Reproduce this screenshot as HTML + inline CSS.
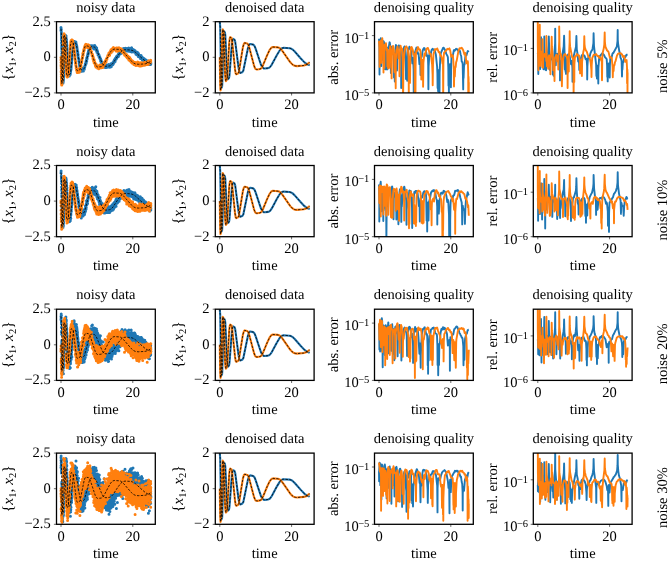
<!DOCTYPE html>
<html><head><meta charset="utf-8"><style>
html,body{margin:0;padding:0;background:#fff;}
svg{display:block;font-family:"Liberation Serif", serif;text-rendering:geometricPrecision;will-change:transform;}
</style></head><body>
<svg width="670" height="562" viewBox="0 0 670 562">
<defs><clipPath id="c00"><rect x="56.5" y="21.7" width="98.8" height="71.2"/></clipPath><clipPath id="c01"><rect x="215.3" y="21.7" width="98.8" height="71.2"/></clipPath><clipPath id="c02"><rect x="374.5" y="21.7" width="98.8" height="71.2"/></clipPath><clipPath id="c03"><rect x="533.3" y="21.7" width="98.8" height="71.2"/></clipPath><clipPath id="c10"><rect x="56.5" y="165.5" width="98.8" height="71.2"/></clipPath><clipPath id="c11"><rect x="215.3" y="165.5" width="98.8" height="71.2"/></clipPath><clipPath id="c12"><rect x="374.5" y="165.5" width="98.8" height="71.2"/></clipPath><clipPath id="c13"><rect x="533.3" y="165.5" width="98.8" height="71.2"/></clipPath><clipPath id="c20"><rect x="56.5" y="309.2" width="98.8" height="71.2"/></clipPath><clipPath id="c21"><rect x="215.3" y="309.2" width="98.8" height="71.2"/></clipPath><clipPath id="c22"><rect x="374.5" y="309.2" width="98.8" height="71.2"/></clipPath><clipPath id="c23"><rect x="533.3" y="309.2" width="98.8" height="71.2"/></clipPath><clipPath id="c30"><rect x="56.5" y="453.1" width="98.8" height="71.2"/></clipPath><clipPath id="c31"><rect x="215.3" y="453.1" width="98.8" height="71.2"/></clipPath><clipPath id="c32"><rect x="374.5" y="453.1" width="98.8" height="71.2"/></clipPath><clipPath id="c33"><rect x="533.3" y="453.1" width="98.8" height="71.2"/></clipPath></defs>
<g clip-path="url(#c00)"><path d="M61.0 27.5h0M61.0 30.6h0M61.1 28.8h0M61.1 29.6h0M61.2 31.1h0M61.3 29.2h0M61.4 32.0h0M61.4 33.4h0M61.4 34.5h0M61.5 36.1h0M61.5 37.9h0M61.5 39.0h0M61.6 40.2h0M61.6 42.4h0M61.6 43.5h0M61.7 46.1h0M61.7 47.8h0M61.7 48.7h0M61.8 51.1h0M61.8 53.6h0M61.9 55.2h0M61.9 56.6h0M61.9 57.4h0M62.0 60.6h0M62.0 62.3h0M62.0 63.2h0M62.1 66.1h0M62.1 67.4h0M62.1 68.3h0M62.2 70.1h0M62.2 71.9h0M62.2 73.0h0M62.3 76.5h0M62.3 75.3h0M62.4 77.7h0M62.4 79.2h0M62.5 80.6h0M62.5 81.5h0M62.8 82.3h0M62.9 81.2h0M63.0 82.9h0M63.1 80.8h0M63.1 82.1h0M63.2 80.9h0M63.3 81.7h0M63.3 80.8h0M63.4 79.4h0M63.4 80.4h0M63.5 78.9h0M63.5 77.7h0M63.6 75.5h0M63.6 76.5h0M63.6 74.6h0M63.7 72.0h0M63.8 71.1h0M63.9 67.5h0M63.9 65.9h0M64.0 64.5h0M64.0 63.4h0M64.1 62.4h0M64.1 61.3h0M64.2 58.8h0M64.2 57.9h0M64.3 56.7h0M64.3 55.2h0M64.3 54.0h0M64.4 51.2h0M64.5 49.4h0M64.5 48.0h0M64.6 46.1h0M64.7 43.9h0M64.8 42.7h0M64.8 40.9h0M64.9 38.3h0M65.0 39.7h0M65.1 38.3h0M65.1 37.1h0M65.2 38.7h0M65.2 36.3h0M65.3 37.6h0M65.4 36.6h0M65.4 35.3h0M65.5 36.8h0M65.6 35.6h0M65.7 37.5h0M65.8 36.0h0M65.9 37.3h0M66.1 35.9h0M66.1 37.7h0M66.2 38.6h0M66.5 39.5h0M66.5 40.9h0M66.6 41.8h0M66.7 42.8h0M66.8 44.3h0M66.9 45.5h0M67.0 48.6h0M67.0 47.4h0M67.0 48.9h0M67.1 50.0h0M67.2 51.9h0M67.3 53.6h0M67.4 55.8h0M67.4 54.7h0M67.5 56.1h0M67.5 58.0h0M67.6 58.9h0M67.7 61.0h0M67.7 61.9h0M67.8 63.5h0M67.9 64.7h0M67.9 65.5h0M68.0 66.9h0M68.1 67.7h0M68.2 69.2h0M68.3 70.5h0M68.3 71.8h0M68.4 70.7h0M68.4 72.7h0M68.4 71.5h0M68.5 73.0h0M68.6 74.0h0M68.8 75.0h0M68.9 76.0h0M68.9 74.8h0M69.0 74.0h0M69.1 76.1h0M69.1 74.7h0M69.3 75.9h0M69.3 74.9h0M69.7 73.4h0M69.7 74.3h0M69.9 72.9h0M69.9 74.4h0M70.0 72.7h0M70.1 74.5h0M70.1 73.6h0M70.2 74.6h0M70.3 72.6h0M70.3 73.7h0M70.4 72.7h0M70.5 71.8h0M70.8 70.6h0M70.9 69.4h0M70.9 68.3h0M71.0 69.3h0M71.1 67.2h0M71.1 68.8h0M71.2 67.0h0M71.2 66.1h0M71.2 67.0h0M71.3 65.1h0M71.5 62.4h0M71.5 63.7h0M71.6 61.6h0M71.6 62.4h0M71.6 61.3h0M71.7 62.5h0M71.7 61.1h0M71.8 60.2h0M71.9 58.8h0M72.0 56.9h0M72.1 56.1h0M72.3 54.8h0M72.3 53.8h0M72.5 52.6h0M72.6 51.3h0M72.7 49.5h0M72.8 47.3h0M72.8 48.3h0M73.0 46.5h0M73.1 47.4h0M73.1 48.6h0M73.1 45.9h0M73.2 44.9h0M73.2 46.0h0M73.3 44.1h0M73.3 45.6h0M73.4 44.5h0M73.4 43.5h0M73.7 41.7h0M73.7 43.3h0M73.8 42.5h0M74.1 44.2h0M74.1 43.1h0M74.1 41.5h0M74.2 42.9h0M74.3 42.1h0M74.4 43.2h0M74.4 42.0h0M74.5 42.9h0M74.5 41.4h0M74.6 42.3h0M75.0 43.9h0M75.0 42.5h0M75.2 43.4h0M75.3 41.9h0M75.3 43.2h0M75.4 42.0h0M75.5 43.4h0M75.5 42.1h0M75.8 43.7h0M75.8 42.3h0M75.9 43.2h0M75.9 42.1h0M75.9 44.8h0M76.0 43.1h0M76.0 43.9h0M76.4 44.6h0M76.5 45.7h0M76.7 46.9h0M76.8 45.9h0M76.8 47.8h0M76.8 46.5h0M76.9 48.1h0M76.9 47.1h0M77.0 48.0h0M77.2 48.9h0M77.2 49.8h0M77.4 50.9h0M77.6 51.9h0M77.7 52.8h0M77.8 52.0h0M77.8 53.7h0M77.9 55.6h0M77.9 54.2h0M78.0 55.5h0M78.1 54.6h0M78.1 56.3h0M78.3 57.7h0M78.5 58.5h0M78.8 59.3h0M78.9 61.4h0M78.9 60.3h0M79.0 61.4h0M79.2 62.3h0M79.3 63.3h0M79.5 64.4h0M79.6 65.7h0M79.8 66.6h0M79.9 65.5h0M79.9 66.4h0M80.0 67.7h0M80.2 68.6h0M80.2 67.2h0M80.3 68.4h0M80.5 69.6h0M80.5 67.7h0M80.5 69.1h0M80.6 68.1h0M80.6 68.9h0M80.8 69.8h0M80.9 68.7h0M81.0 69.6h0M81.1 68.6h0M81.2 71.2h0M81.3 69.1h0M81.3 70.1h0M81.7 69.0h0M81.8 68.2h0M81.8 70.3h0M81.8 71.2h0M81.9 70.1h0M81.9 69.1h0M82.0 70.3h0M82.1 69.0h0M82.1 70.5h0M82.2 69.1h0M82.2 69.9h0M82.5 68.9h0M82.5 69.8h0M82.8 68.9h0M82.8 69.7h0M83.0 70.7h0M83.0 68.8h0M83.2 67.9h0M83.2 70.0h0M83.4 70.9h0M83.4 68.9h0M83.4 69.7h0M83.6 68.7h0M83.6 69.7h0M83.7 68.8h0M83.9 68.0h0M83.9 69.5h0M83.9 68.2h0M84.0 69.2h0M84.1 67.9h0M84.3 69.2h0M84.4 68.2h0M84.6 66.6h0M84.7 67.6h0M84.9 66.2h0M85.1 65.4h0M85.2 63.9h0M85.3 64.8h0M85.3 63.8h0M85.3 65.0h0M85.4 64.0h0M85.5 64.9h0M85.6 63.4h0M85.7 64.4h0M85.8 63.1h0M86.0 61.5h0M86.0 62.5h0M86.1 61.7h0M86.1 63.4h0M86.1 61.9h0M86.2 60.5h0M86.3 62.3h0M86.4 61.2h0M86.5 59.8h0M86.6 60.9h0M86.7 58.5h0M86.7 61.3h0M86.8 59.5h0M86.8 57.8h0M86.8 59.1h0M86.9 57.7h0M87.0 59.2h0M87.0 58.1h0M87.1 57.2h0M87.1 58.6h0M87.2 57.4h0M87.3 56.3h0M87.7 55.0h0M87.7 56.0h0M87.8 55.2h0M87.8 54.1h0M87.8 55.6h0M87.9 54.8h0M87.9 55.7h0M87.9 54.8h0M88.1 53.9h0M88.1 52.8h0M88.3 53.7h0M88.4 52.8h0M88.4 51.7h0M88.5 52.8h0M88.5 51.3h0M88.5 52.5h0M88.7 50.3h0M88.8 51.6h0M88.9 50.7h0M89.2 49.3h0M89.2 50.9h0M89.3 49.7h0M89.6 50.8h0M89.6 49.3h0M89.7 48.5h0M89.9 47.5h0M89.9 48.6h0M89.9 47.5h0M90.2 48.3h0M90.3 47.2h0M90.3 48.1h0M90.4 46.6h0M90.6 45.7h0M90.6 47.0h0M90.7 48.1h0M90.7 46.1h0M90.7 47.1h0M90.8 48.0h0M90.9 47.0h0M91.0 45.9h0M91.0 47.9h0M91.2 46.8h0M91.3 45.8h0M91.4 46.7h0M91.6 47.5h0M91.7 46.3h0M91.8 47.6h0M91.9 46.6h0M92.0 45.8h0M92.1 47.6h0M92.2 46.6h0M92.4 47.6h0M92.4 46.3h0M92.5 47.6h0M92.5 46.6h0M92.9 47.5h0M92.9 45.9h0M93.0 48.0h0M93.0 46.4h0M93.4 47.6h0M93.4 46.3h0M93.5 47.7h0M93.5 46.6h0M93.6 47.4h0M93.6 46.6h0M93.6 47.6h0M93.7 45.9h0M93.7 46.9h0M93.9 45.7h0M94.0 47.0h0M94.1 48.0h0M94.2 49.0h0M94.2 47.5h0M94.3 45.9h0M94.3 47.0h0M94.4 47.8h0M94.4 46.8h0M94.4 47.7h0M94.7 46.4h0M94.7 48.3h0M94.8 45.6h0M94.8 47.2h0M95.1 48.2h0M95.2 47.1h0M95.3 48.5h0M95.4 46.8h0M95.4 48.1h0M95.6 47.2h0M95.6 48.2h0M95.7 47.1h0M95.8 48.9h0M95.8 47.6h0M96.0 49.1h0M96.2 47.6h0M96.2 49.1h0M96.5 50.5h0M96.6 49.5h0M96.6 51.2h0M96.7 48.0h0M96.7 50.6h0M96.8 49.7h0M96.9 52.3h0M96.9 51.2h0M97.0 50.1h0M97.0 51.3h0M97.1 52.4h0M97.1 50.2h0M97.2 51.7h0M97.6 52.5h0M97.6 51.6h0M97.7 52.7h0M98.0 53.6h0M98.0 54.7h0M98.0 53.5h0M98.4 54.4h0M98.6 55.4h0M98.7 54.2h0M98.8 55.9h0M98.9 54.9h0M98.9 56.5h0M99.0 55.0h0M99.1 56.0h0M99.2 56.9h0M99.3 56.0h0M99.3 57.3h0M99.4 56.4h0M99.5 58.1h0M99.9 57.2h0M99.9 58.0h0M100.2 59.0h0M100.5 60.5h0M100.6 58.8h0M100.7 61.2h0M100.7 60.0h0M100.9 61.2h0M100.9 60.1h0M101.0 61.2h0M101.0 59.9h0M101.2 61.0h0M101.4 61.9h0M101.6 63.0h0M101.7 62.2h0M101.8 63.0h0M101.9 61.8h0M101.9 63.4h0M102.0 62.3h0M102.2 63.1h0M102.2 64.1h0M102.3 63.1h0M102.4 64.6h0M102.5 63.0h0M102.5 64.2h0M102.7 63.1h0M102.8 64.6h0M102.8 63.8h0M102.9 65.0h0M103.0 63.8h0M103.0 64.7h0M103.1 63.4h0M103.1 65.3h0M103.2 64.2h0M103.3 65.3h0M103.8 66.6h0M104.0 65.6h0M104.1 64.6h0M104.1 65.9h0M104.2 64.8h0M104.2 66.2h0M104.3 65.2h0M104.5 66.2h0M104.6 67.2h0M104.7 65.9h0M104.9 66.7h0M105.0 65.6h0M105.0 66.8h0M105.1 65.6h0M105.1 67.2h0M105.2 66.2h0M105.3 67.6h0M105.3 66.0h0M105.4 66.9h0M105.5 65.8h0M105.6 67.2h0M105.6 64.8h0M105.6 66.3h0M105.8 64.8h0M105.9 66.5h0M106.1 65.2h0M106.1 66.3h0M106.2 67.5h0M106.3 65.9h0M106.5 67.1h0M106.6 65.4h0M106.6 66.8h0M106.7 65.3h0M106.8 66.6h0M107.0 65.7h0M107.2 67.3h0M107.2 65.6h0M107.2 66.9h0M107.3 65.7h0M107.3 66.6h0M107.4 65.5h0M107.4 66.6h0M107.6 65.4h0M107.6 67.1h0M107.7 66.2h0M107.7 64.9h0M107.9 66.3h0M108.2 65.4h0M108.2 66.6h0M108.3 65.1h0M108.4 66.6h0M108.5 65.1h0M108.5 66.1h0M108.6 64.4h0M108.6 66.1h0M108.7 65.1h0M108.8 66.1h0M109.3 66.8h0M109.3 65.8h0M109.7 67.2h0M109.8 65.3h0M109.8 66.2h0M110.0 65.2h0M110.0 66.6h0M110.1 65.2h0M110.1 66.2h0M110.2 65.4h0M110.4 66.2h0M110.5 65.3h0M110.7 66.2h0M110.7 65.1h0M110.8 66.1h0M110.8 65.2h0M110.9 63.8h0M111.0 65.2h0M111.2 66.7h0M111.2 64.2h0M111.3 65.8h0M111.3 64.7h0M111.4 65.8h0M111.4 64.8h0M111.5 65.6h0M111.6 64.5h0M111.9 63.5h0M111.9 64.5h0M112.3 63.6h0M112.4 64.5h0M112.4 63.5h0M112.5 64.8h0M112.5 63.3h0M112.6 64.4h0M112.7 63.1h0M112.7 64.7h0M112.9 63.4h0M112.9 62.6h0M113.2 63.9h0M113.2 62.6h0M113.3 63.5h0M113.3 62.5h0M113.4 63.3h0M113.4 62.4h0M113.7 61.4h0M113.8 62.7h0M113.8 61.6h0M113.9 63.0h0M114.0 61.9h0M114.1 60.5h0M114.1 61.5h0M114.2 60.3h0M114.2 61.9h0M114.3 60.8h0M114.6 59.5h0M114.6 60.7h0M114.8 59.8h0M114.9 60.6h0M115.0 59.5h0M115.0 60.3h0M115.1 59.3h0M115.1 61.6h0M115.2 60.1h0M115.2 59.2h0M115.3 60.0h0M115.3 58.6h0M115.3 60.1h0M115.5 58.8h0M115.7 57.9h0M115.7 58.9h0M116.0 58.1h0M116.2 58.9h0M116.3 57.1h0M116.4 58.0h0M116.6 57.1h0M116.6 58.1h0M116.7 56.3h0M116.8 57.6h0M116.8 56.7h0M116.8 58.0h0M116.9 57.0h0M117.1 55.9h0M117.2 56.8h0M117.3 55.8h0M117.5 56.6h0M117.6 55.5h0M117.7 56.4h0M117.8 55.4h0M117.8 56.7h0M117.9 55.6h0M118.3 54.8h0M118.5 56.1h0M118.5 54.9h0M118.5 53.9h0M118.6 56.3h0M118.7 55.1h0M119.0 53.6h0M119.0 55.1h0M119.1 54.2h0M119.2 53.4h0M119.2 54.3h0M119.3 53.2h0M119.3 52.3h0M119.4 53.2h0M119.7 51.9h0M119.7 53.7h0M119.8 51.9h0M119.8 52.8h0M119.9 53.6h0M120.1 52.6h0M120.2 53.7h0M120.3 52.2h0M120.5 53.7h0M120.5 51.8h0M120.7 52.7h0M120.7 50.7h0M120.9 51.6h0M121.0 50.3h0M121.0 51.7h0M121.1 53.1h0M121.2 50.5h0M121.3 51.7h0M121.4 50.1h0M121.5 51.9h0M121.5 52.9h0M121.6 50.2h0M121.6 51.1h0M121.6 50.0h0M121.7 51.7h0M121.7 50.8h0M121.8 49.6h0M121.9 51.1h0M122.0 50.2h0M122.1 51.2h0M122.2 49.6h0M122.2 51.2h0M122.3 50.0h0M122.4 51.4h0M122.4 50.6h0M122.4 51.6h0M122.6 50.7h0M122.7 51.9h0M122.7 49.3h0M122.7 50.5h0M123.2 49.3h0M123.3 50.8h0M123.3 49.8h0M123.4 48.5h0M123.5 49.8h0M123.7 50.7h0M123.7 49.6h0M123.8 50.9h0M123.9 49.4h0M123.9 50.7h0M124.0 49.3h0M124.0 50.2h0M124.3 49.1h0M124.4 50.1h0M124.5 48.9h0M124.5 50.2h0M124.5 48.5h0M124.6 50.0h0M124.9 49.1h0M125.0 50.3h0M125.1 49.3h0M125.1 50.7h0M125.2 48.9h0M125.3 50.6h0M125.3 49.7h0M125.4 50.7h0M125.5 49.9h0M125.5 50.8h0M125.6 48.3h0M125.6 49.3h0M125.7 50.6h0M125.7 49.4h0M125.9 50.4h0M126.2 49.4h0M126.2 50.3h0M126.3 48.8h0M126.5 49.6h0M126.6 50.5h0M126.6 49.3h0M126.7 50.4h0M126.8 49.6h0M126.9 51.0h0M127.0 49.8h0M127.0 48.4h0M127.1 50.0h0M127.2 48.7h0M127.2 49.6h0M127.3 50.7h0M127.4 49.9h0M127.5 48.7h0M127.5 51.0h0M127.5 49.9h0M127.6 48.7h0M127.7 50.7h0M127.7 49.7h0M128.0 48.9h0M128.1 50.4h0M128.3 49.0h0M128.4 50.3h0M128.5 49.1h0M128.5 51.1h0M128.5 49.7h0M128.6 50.8h0M128.7 49.2h0M128.7 48.1h0M128.8 50.5h0M128.9 49.5h0M129.0 51.2h0M129.0 49.0h0M129.1 50.3h0M129.3 49.1h0M129.3 50.2h0M129.4 49.2h0M129.5 50.1h0M129.6 48.6h0M129.7 49.7h0M129.8 50.7h0M129.8 49.9h0M129.8 50.7h0M130.0 49.4h0M130.0 50.9h0M130.0 49.0h0M130.1 50.5h0M130.2 49.6h0M130.3 50.6h0M130.3 51.5h0M130.3 50.1h0M130.4 51.1h0M130.4 49.4h0M130.5 50.4h0M130.8 49.4h0M131.2 51.2h0M131.2 49.8h0M131.3 50.7h0M131.3 49.3h0M131.3 50.5h0M131.5 49.7h0M131.6 51.0h0M131.6 47.7h0M131.7 49.6h0M131.8 51.9h0M131.8 49.2h0M131.8 50.1h0M131.9 51.2h0M131.9 49.5h0M131.9 50.7h0M132.2 49.8h0M132.4 50.7h0M132.5 49.3h0M132.5 50.8h0M132.7 49.3h0M132.7 50.8h0M133.0 51.5h0M133.0 50.0h0M133.1 51.4h0M133.1 50.5h0M133.2 49.6h0M133.2 51.3h0M133.3 50.2h0M133.5 51.7h0M133.7 50.6h0M134.0 51.7h0M134.1 50.7h0M134.1 51.6h0M134.2 50.1h0M134.3 51.3h0M134.8 52.3h0M134.9 51.4h0M135.0 52.5h0M135.0 51.2h0M135.1 52.6h0M135.1 50.7h0M135.1 52.8h0M135.3 52.0h0M135.4 52.9h0M135.5 51.5h0M135.5 52.5h0M135.7 51.7h0M135.8 54.1h0M135.8 52.7h0M135.9 53.8h0M135.9 52.7h0M136.3 53.8h0M136.4 52.7h0M136.4 54.6h0M136.4 53.0h0M136.7 54.8h0M136.7 53.2h0M136.8 54.6h0M136.8 52.9h0M136.9 54.5h0M136.9 53.2h0M137.0 54.3h0M137.1 53.2h0M137.2 54.2h0M137.4 52.2h0M137.4 53.7h0M137.5 54.8h0M137.6 53.9h0M137.7 54.9h0M137.8 53.2h0M137.9 54.6h0M137.9 53.2h0M138.0 54.3h0M138.2 55.7h0M138.3 56.5h0M138.3 54.4h0M138.5 53.6h0M138.5 55.5h0M138.6 54.4h0M138.6 55.5h0M138.7 54.6h0M138.8 55.5h0M139.2 56.4h0M139.2 55.3h0M139.3 56.6h0M139.5 55.7h0M139.5 56.8h0M139.7 55.5h0M139.8 56.4h0M139.9 57.5h0M140.0 55.9h0M140.2 57.2h0M140.4 55.6h0M140.4 56.4h0M140.5 58.6h0M140.6 57.1h0M140.6 56.2h0M140.6 58.3h0M140.7 57.5h0M140.7 55.9h0M140.7 56.7h0M141.0 58.0h0M141.0 56.4h0M141.1 58.5h0M141.1 55.5h0M141.2 57.8h0M141.4 56.6h0M141.5 58.2h0M141.6 56.9h0M141.7 58.2h0M141.8 57.1h0M141.8 58.0h0M142.1 59.1h0M142.2 57.8h0M142.3 60.0h0M142.3 59.2h0M142.4 58.4h0M142.5 60.1h0M142.6 57.9h0M142.6 59.0h0M142.9 57.8h0M142.9 60.3h0M143.0 59.5h0M143.0 58.5h0M143.0 59.4h0M143.1 60.4h0M143.2 58.5h0M143.2 60.5h0M143.2 59.0h0M143.4 59.9h0M143.5 59.1h0M143.6 59.9h0M143.9 61.6h0M143.9 59.5h0M144.0 60.6h0M144.0 58.4h0M144.1 60.1h0M144.1 61.0h0M144.2 59.9h0M144.3 60.8h0M144.4 59.9h0M144.6 61.4h0M144.7 59.8h0M144.8 61.3h0M144.9 62.2h0M145.0 60.4h0M145.0 61.7h0M145.1 60.2h0M145.2 61.4h0M145.3 59.5h0M145.3 60.8h0M145.5 62.1h0M145.6 60.3h0M145.6 62.2h0M145.7 60.7h0M145.7 62.1h0M145.8 60.5h0M145.8 61.7h0M145.9 60.4h0M145.9 61.7h0M146.1 60.2h0M146.1 61.9h0M146.1 60.9h0M146.2 62.0h0M146.2 62.9h0M146.3 61.8h0M146.4 60.7h0M146.4 61.8h0M146.5 62.7h0M146.5 61.8h0M146.6 63.4h0M146.6 61.2h0M146.7 62.6h0M146.9 61.9h0M147.1 63.2h0M147.1 62.0h0M147.3 63.1h0M147.4 62.0h0M147.5 63.4h0M147.6 62.5h0M147.6 63.4h0M147.7 61.1h0M147.7 62.5h0M147.8 63.4h0M147.8 61.8h0M147.9 64.5h0M147.9 63.0h0M148.3 62.3h0M148.3 63.2h0M148.4 64.0h0M148.5 62.9h0M148.7 61.3h0M148.7 62.4h0M148.7 63.3h0M148.8 62.3h0M148.8 63.7h0M148.9 62.4h0M149.0 63.7h0M149.0 62.7h0M149.0 64.5h0M149.1 63.4h0M149.2 64.5h0M149.2 62.9h0M149.3 63.9h0M149.4 62.8h0M149.6 64.3h0M149.6 63.4h0M149.7 62.1h0M149.7 64.2h0M149.7 63.3h0M150.0 64.6h0M150.1 63.1h0M150.2 64.2h0M150.2 62.9h0M150.3 64.1h0M150.4 62.7h0M150.5 63.7h0M150.6 62.2h0M150.6 64.6h0M150.6 63.4h0M150.7 62.3h0M150.8 64.1h0M150.8 63.3h0" stroke="#1f77b4" stroke-width="3.0" stroke-linecap="round" fill="none"/><path d="M61.0 57.4h0M61.0 59.9h0M61.1 62.4h0M61.1 65.0h0M61.1 66.1h0M61.2 67.9h0M61.2 71.2h0M61.2 72.0h0M61.3 74.7h0M61.3 76.8h0M61.4 79.4h0M61.4 78.4h0M61.4 79.9h0M61.5 81.6h0M61.5 82.5h0M61.5 83.7h0M61.7 84.9h0M61.8 83.6h0M61.8 84.9h0M61.9 83.5h0M61.9 84.3h0M62.0 83.0h0M62.2 81.3h0M62.3 80.3h0M62.4 78.9h0M62.4 77.7h0M62.5 76.1h0M62.5 75.2h0M62.5 74.2h0M62.6 73.0h0M62.6 70.7h0M62.7 68.7h0M62.7 66.4h0M62.8 63.9h0M62.8 62.4h0M62.9 60.3h0M62.9 59.4h0M63.0 57.3h0M63.0 55.8h0M63.0 54.1h0M63.1 53.0h0M63.1 50.7h0M63.1 49.9h0M63.2 48.4h0M63.3 44.4h0M63.4 43.3h0M63.4 41.4h0M63.5 39.8h0M63.5 38.7h0M63.6 35.8h0M63.6 37.0h0M63.7 36.1h0M63.8 35.3h0M64.0 33.7h0M64.1 36.2h0M64.1 35.3h0M64.2 34.5h0M64.3 36.5h0M64.4 35.1h0M64.4 36.2h0M64.4 35.3h0M64.5 36.7h0M64.6 35.9h0M64.7 37.0h0M64.8 36.2h0M64.8 37.9h0M64.8 36.9h0M64.9 39.5h0M65.0 41.4h0M65.1 43.6h0M65.2 45.6h0M65.3 46.8h0M65.3 48.7h0M65.4 50.2h0M65.5 52.7h0M65.6 54.3h0M65.7 55.5h0M65.7 56.6h0M65.8 57.7h0M65.8 61.2h0M65.9 59.4h0M65.9 62.0h0M66.0 64.3h0M66.1 65.6h0M66.2 67.1h0M66.2 67.9h0M66.3 69.8h0M66.3 71.0h0M66.5 73.1h0M66.6 74.5h0M66.7 73.5h0M66.7 75.3h0M66.9 76.4h0M67.2 75.2h0M67.2 77.1h0M67.4 76.1h0M67.5 77.0h0M67.6 75.6h0M67.6 74.8h0M67.6 76.7h0M67.7 74.9h0M67.7 76.0h0M67.9 74.5h0M68.0 75.7h0M68.0 74.9h0M68.1 75.8h0M68.2 74.3h0M68.2 75.5h0M68.3 74.6h0M68.3 72.9h0M68.4 74.8h0M68.4 73.0h0M68.5 72.2h0M68.5 73.3h0M68.5 71.7h0M68.6 70.2h0M68.6 71.2h0M68.7 70.0h0M68.8 68.1h0M68.9 67.3h0M68.9 65.7h0M69.0 64.8h0M69.1 63.4h0M69.1 64.5h0M69.2 63.2h0M69.2 62.1h0M69.3 60.9h0M69.4 59.9h0M69.4 59.1h0M69.5 60.3h0M69.5 57.4h0M69.6 56.6h0M69.7 55.4h0M69.8 53.9h0M69.8 53.0h0M69.9 51.6h0M70.1 49.0h0M70.2 50.5h0M70.2 48.8h0M70.3 46.0h0M70.3 47.6h0M70.4 46.6h0M70.4 45.2h0M70.5 46.4h0M70.6 44.5h0M70.7 43.1h0M70.7 44.6h0M70.7 43.3h0M70.8 41.7h0M70.9 42.5h0M71.1 40.4h0M71.1 41.4h0M71.3 42.4h0M71.3 40.9h0M71.5 42.4h0M71.5 40.9h0M71.6 42.1h0M71.7 40.3h0M71.7 42.0h0M71.8 39.9h0M71.8 41.0h0M71.9 40.0h0M71.9 41.2h0M72.0 42.8h0M72.0 41.7h0M72.1 40.1h0M72.1 42.4h0M72.2 41.3h0M72.4 42.4h0M72.5 41.6h0M72.7 40.6h0M72.7 42.4h0M72.8 41.4h0M72.8 42.6h0M72.9 41.6h0M72.9 42.4h0M73.1 43.7h0M73.3 44.5h0M73.5 45.7h0M73.5 44.8h0M73.6 46.2h0M73.7 48.1h0M73.7 45.9h0M73.8 46.8h0M73.9 48.1h0M74.1 49.6h0M74.1 50.9h0M74.2 50.1h0M74.2 51.0h0M74.2 51.9h0M74.4 51.0h0M74.4 52.6h0M74.5 53.9h0M74.5 53.0h0M74.6 54.2h0M74.8 55.3h0M74.8 56.4h0M74.9 55.2h0M74.9 57.7h0M75.0 58.8h0M75.0 57.8h0M75.1 59.2h0M75.3 60.2h0M75.4 61.5h0M75.5 63.5h0M75.6 61.6h0M75.6 62.9h0M75.7 64.0h0M75.8 64.9h0M75.9 63.8h0M75.9 64.9h0M76.0 66.1h0M76.2 67.1h0M76.2 68.3h0M76.3 67.1h0M76.4 68.4h0M76.5 70.0h0M76.6 68.7h0M76.6 69.7h0M76.8 70.7h0M76.9 69.5h0M77.0 71.4h0M77.1 69.9h0M77.1 69.1h0M77.1 70.1h0M77.2 72.6h0M77.3 71.5h0M77.3 70.1h0M77.4 72.3h0M77.4 70.1h0M77.5 71.1h0M77.8 70.2h0M77.9 72.5h0M77.9 70.6h0M78.1 71.6h0M78.2 69.8h0M78.3 70.7h0M78.4 69.4h0M78.5 70.5h0M78.6 71.3h0M78.6 70.4h0M78.7 71.9h0M78.7 70.5h0M78.8 69.1h0M78.9 70.0h0M78.9 71.5h0M79.0 70.0h0M79.2 71.1h0M79.2 70.0h0M79.3 72.2h0M79.3 70.8h0M79.3 69.5h0M79.4 70.8h0M79.5 68.9h0M79.5 70.2h0M79.7 69.4h0M79.8 70.8h0M79.9 69.5h0M80.0 70.9h0M80.0 68.2h0M80.1 69.3h0M80.1 68.4h0M80.4 67.7h0M80.6 66.2h0M80.8 65.3h0M80.9 67.0h0M80.9 64.2h0M81.0 66.2h0M81.0 65.4h0M81.0 64.5h0M81.3 63.0h0M81.5 61.7h0M81.6 62.7h0M81.6 61.1h0M81.6 60.2h0M81.8 61.7h0M81.8 60.6h0M82.0 59.2h0M82.2 58.0h0M82.4 56.5h0M82.5 57.3h0M82.5 56.5h0M82.6 57.7h0M82.6 56.5h0M82.7 55.7h0M82.8 53.5h0M82.8 55.2h0M83.0 53.8h0M83.1 54.8h0M83.1 53.1h0M83.2 55.1h0M83.2 52.6h0M83.4 51.7h0M83.4 52.7h0M83.5 51.8h0M83.7 50.3h0M83.8 51.5h0M83.8 49.7h0M84.2 48.5h0M84.2 50.1h0M84.2 48.6h0M84.5 47.6h0M84.7 46.8h0M84.8 47.9h0M84.9 46.4h0M85.1 45.4h0M85.1 46.5h0M85.2 45.5h0M85.3 46.5h0M85.4 44.9h0M85.5 45.8h0M85.6 44.9h0M85.7 45.8h0M85.8 44.2h0M85.9 46.1h0M86.1 44.8h0M86.1 46.2h0M86.1 45.4h0M86.3 46.4h0M86.5 45.0h0M86.6 46.5h0M86.6 45.5h0M86.7 46.4h0M86.8 45.5h0M86.9 46.7h0M87.0 45.8h0M87.0 44.7h0M87.1 46.7h0M87.1 45.8h0M87.4 47.0h0M87.4 45.6h0M87.5 47.4h0M87.5 44.9h0M87.6 46.4h0M87.6 45.3h0M87.9 46.2h0M88.0 47.2h0M88.0 45.0h0M88.1 47.0h0M88.1 45.8h0M88.2 47.5h0M88.2 46.7h0M88.3 45.1h0M88.4 46.0h0M88.5 47.0h0M88.5 45.9h0M88.6 47.1h0M88.6 46.2h0M88.7 45.1h0M88.8 46.9h0M88.9 45.7h0M88.9 47.1h0M89.2 46.0h0M89.2 47.7h0M89.3 46.8h0M89.6 48.2h0M90.0 47.3h0M90.1 49.2h0M90.2 50.1h0M90.4 48.3h0M90.5 50.1h0M90.8 50.9h0M91.0 52.0h0M91.5 53.3h0M91.5 51.5h0M91.6 53.5h0M91.9 54.4h0M92.1 55.8h0M92.1 54.8h0M92.3 55.9h0M92.4 55.0h0M92.4 56.0h0M92.4 54.2h0M92.5 56.5h0M92.6 55.6h0M92.6 56.4h0M92.7 55.4h0M92.8 57.1h0M92.9 58.1h0M92.9 57.2h0M92.9 56.2h0M93.0 58.2h0M93.1 59.3h0M93.1 57.0h0M93.1 59.0h0M93.3 57.6h0M93.3 59.8h0M93.4 58.7h0M93.4 60.3h0M93.5 59.2h0M93.6 61.1h0M93.6 59.3h0M93.7 60.3h0M93.9 59.5h0M94.0 60.8h0M94.1 62.7h0M94.2 60.7h0M94.2 59.8h0M94.2 61.9h0M94.6 63.2h0M94.7 62.0h0M94.7 63.2h0M94.7 61.9h0M94.8 63.2h0M95.2 64.4h0M95.3 63.4h0M95.4 64.9h0M95.4 65.8h0M95.4 64.7h0M95.5 65.7h0M95.5 63.6h0M95.6 65.2h0M95.8 64.2h0M95.9 65.2h0M95.9 67.0h0M95.9 65.0h0M96.0 66.7h0M96.0 65.4h0M96.1 64.3h0M96.1 65.1h0M96.1 66.5h0M96.2 65.0h0M96.3 66.5h0M96.3 65.4h0M96.4 66.2h0M96.5 65.2h0M96.5 67.3h0M96.6 65.8h0M96.6 67.3h0M96.7 66.2h0M96.8 67.0h0M96.8 65.7h0M96.9 66.5h0M97.2 67.4h0M97.3 65.9h0M97.4 68.0h0M97.4 66.8h0M97.7 67.8h0M97.9 66.7h0M97.9 67.8h0M98.0 66.6h0M98.2 68.0h0M98.2 66.8h0M98.4 65.9h0M98.4 67.0h0M98.5 68.6h0M98.5 67.0h0M98.8 68.8h0M98.8 66.5h0M98.9 67.3h0M99.0 66.4h0M99.1 67.4h0M99.2 66.2h0M99.2 67.3h0M99.4 68.3h0M99.4 66.8h0M99.6 68.0h0M99.7 66.4h0M99.7 65.1h0M99.8 67.6h0M99.8 66.3h0M99.9 67.4h0M99.9 66.5h0M100.1 67.7h0M100.1 66.4h0M100.2 67.2h0M100.4 66.2h0M100.5 67.7h0M100.5 66.4h0M100.6 65.6h0M100.6 66.8h0M101.0 65.9h0M101.1 67.4h0M101.2 66.5h0M101.3 67.7h0M101.4 66.1h0M101.4 67.8h0M101.4 66.5h0M101.6 67.6h0M101.6 66.4h0M101.7 65.5h0M101.7 66.3h0M101.8 67.4h0M101.8 66.0h0M101.9 67.1h0M102.1 65.8h0M102.1 66.7h0M102.1 65.9h0M102.2 67.3h0M102.3 65.2h0M102.3 66.5h0M102.4 65.5h0M102.4 66.6h0M102.5 65.7h0M102.6 67.6h0M102.7 65.3h0M102.7 66.3h0M102.8 65.0h0M102.8 67.3h0M102.8 65.8h0M102.9 66.8h0M102.9 63.9h0M103.0 67.3h0M103.0 66.3h0M103.1 65.0h0M103.2 63.9h0M103.2 65.7h0M103.3 64.0h0M103.3 65.9h0M103.4 64.3h0M103.5 65.8h0M103.5 64.9h0M103.6 63.6h0M103.6 64.9h0M103.7 63.5h0M103.9 64.5h0M104.1 63.2h0M104.1 64.7h0M104.3 63.1h0M104.4 63.9h0M104.4 62.3h0M104.5 64.2h0M104.5 62.6h0M104.6 64.0h0M104.7 62.1h0M104.8 63.0h0M105.0 62.0h0M105.2 61.3h0M105.3 62.1h0M105.4 61.1h0M105.6 61.9h0M105.7 61.1h0M105.9 62.2h0M105.9 61.0h0M105.9 60.1h0M106.0 61.9h0M106.0 60.5h0M106.1 61.4h0M106.1 59.4h0M106.2 60.2h0M106.3 58.9h0M106.8 58.3h0M106.9 59.2h0M107.0 57.9h0M107.6 56.7h0M107.8 55.6h0M107.8 56.7h0M108.1 55.8h0M108.5 55.0h0M108.5 55.8h0M108.6 55.0h0M108.8 53.3h0M108.8 55.2h0M109.0 54.2h0M109.1 55.4h0M109.2 53.5h0M109.5 52.8h0M109.6 55.3h0M109.6 53.5h0M109.9 52.1h0M110.2 53.3h0M110.3 52.0h0M110.5 51.1h0M110.8 52.0h0M111.0 49.7h0M111.0 50.6h0M111.1 52.5h0M111.1 50.8h0M111.2 52.4h0M111.2 51.1h0M111.3 50.1h0M111.4 51.3h0M111.4 50.3h0M111.6 51.3h0M111.7 49.3h0M111.8 50.1h0M112.1 48.9h0M112.2 50.4h0M112.2 49.3h0M112.3 51.3h0M112.3 49.5h0M112.9 48.6h0M112.9 49.5h0M113.0 47.9h0M113.1 49.7h0M113.2 48.4h0M113.2 49.2h0M113.4 47.6h0M113.5 48.7h0M113.6 49.6h0M113.6 48.7h0M114.2 49.5h0M114.2 48.2h0M114.3 49.0h0M114.5 49.8h0M114.6 48.8h0M114.8 49.7h0M114.9 48.8h0M115.2 49.7h0M115.3 48.8h0M115.3 49.8h0M115.5 48.8h0M115.7 50.0h0M115.7 49.1h0M116.2 50.9h0M116.2 48.8h0M116.2 48.0h0M116.3 48.9h0M116.3 50.3h0M116.4 48.3h0M116.5 49.8h0M116.6 48.4h0M116.7 50.6h0M116.7 49.3h0M116.8 48.0h0M116.8 49.5h0M117.0 50.3h0M117.0 48.5h0M117.3 49.4h0M117.3 48.5h0M117.4 49.6h0M117.5 51.3h0M117.6 49.1h0M117.6 48.1h0M117.7 49.1h0M118.2 50.7h0M118.3 49.4h0M118.9 47.7h0M119.0 48.6h0M119.2 50.0h0M119.2 48.0h0M119.3 49.9h0M119.4 48.2h0M119.5 50.0h0M119.6 48.5h0M119.6 50.0h0M119.7 49.2h0M119.7 48.2h0M119.7 49.0h0M119.8 50.6h0M119.9 49.3h0M120.0 50.4h0M120.0 49.5h0M120.3 50.6h0M120.3 48.9h0M120.4 50.6h0M120.4 49.6h0M120.6 50.5h0M120.7 49.3h0M120.7 50.2h0M120.8 49.0h0M120.8 50.3h0M121.0 48.7h0M121.0 50.3h0M121.1 49.2h0M121.2 50.1h0M121.3 49.1h0M121.4 51.3h0M121.4 49.5h0M121.5 50.9h0M121.6 50.1h0M121.6 51.5h0M121.6 49.6h0M121.7 51.0h0M121.8 50.1h0M121.8 51.3h0M121.9 50.0h0M122.0 51.9h0M122.1 50.9h0M122.1 49.7h0M122.1 51.0h0M122.3 52.0h0M122.3 49.8h0M122.4 50.6h0M122.6 52.0h0M122.7 50.8h0M122.8 51.9h0M123.0 51.1h0M123.2 52.5h0M123.2 51.5h0M123.3 52.3h0M123.5 50.9h0M123.6 51.9h0M123.6 53.1h0M123.8 52.2h0M123.9 53.5h0M123.9 51.5h0M124.0 52.9h0M124.0 51.9h0M124.1 53.0h0M124.5 53.8h0M124.5 52.8h0M124.6 54.0h0M124.6 54.9h0M124.7 53.6h0M125.1 54.4h0M125.2 53.6h0M125.3 54.9h0M125.4 54.0h0M125.6 55.0h0M125.7 55.8h0M125.7 55.0h0M126.0 56.3h0M126.0 54.9h0M126.1 55.8h0M126.4 56.7h0M126.5 55.7h0M126.5 54.6h0M126.6 55.7h0M126.7 57.0h0M126.8 55.7h0M126.9 57.1h0M127.0 56.1h0M127.1 57.7h0M127.1 56.7h0M127.4 57.9h0M127.4 56.8h0M127.5 58.0h0M127.6 55.9h0M127.7 57.9h0M127.7 56.9h0M127.8 55.9h0M127.8 57.5h0M127.9 56.3h0M127.9 58.1h0M128.1 56.3h0M128.1 57.2h0M128.2 58.4h0M128.2 57.4h0M128.4 58.5h0M128.4 57.7h0M128.5 58.5h0M128.6 57.6h0M128.7 58.9h0M128.9 60.0h0M128.9 57.5h0M129.0 58.5h0M129.1 57.5h0M129.2 59.5h0M129.2 58.5h0M129.3 59.9h0M129.3 58.0h0M129.3 59.1h0M129.4 60.2h0M129.4 59.2h0M129.5 57.9h0M129.5 58.8h0M129.5 60.2h0M129.6 57.5h0M129.6 59.7h0M129.8 58.5h0M129.8 59.7h0M130.2 60.9h0M130.3 59.9h0M130.4 58.7h0M130.4 59.7h0M130.6 60.6h0M130.7 59.4h0M130.7 60.9h0M130.7 59.9h0M130.8 60.8h0M130.8 59.6h0M130.9 60.8h0M131.2 60.0h0M131.3 61.4h0M131.4 62.3h0M131.4 61.0h0M131.5 61.8h0M131.7 60.5h0M131.8 61.4h0M132.0 62.7h0M132.0 61.7h0M132.1 62.6h0M132.2 61.7h0M132.3 63.2h0M132.3 61.9h0M132.6 60.9h0M132.6 62.2h0M132.7 63.1h0M132.7 61.7h0M132.7 62.8h0M133.1 61.6h0M133.2 63.2h0M133.2 62.3h0M133.3 63.4h0M133.3 62.1h0M133.4 63.5h0M133.4 62.5h0M133.6 63.5h0M133.9 64.4h0M134.0 63.4h0M134.2 64.2h0M134.3 63.3h0M134.7 64.5h0M134.8 62.6h0M134.9 64.1h0M135.0 63.0h0M135.0 63.8h0M135.1 63.0h0M135.3 64.9h0M135.4 63.4h0M135.4 62.4h0M135.5 64.8h0M135.5 63.3h0M135.6 64.2h0M136.0 65.6h0M136.1 64.5h0M136.2 63.5h0M136.2 64.9h0M136.3 63.4h0M136.3 64.9h0M136.5 63.4h0M136.5 64.9h0M136.6 64.0h0M137.2 65.1h0M137.3 64.0h0M137.5 64.9h0M137.6 62.0h0M137.6 64.4h0M137.8 63.5h0M137.8 64.9h0M137.9 63.8h0M137.9 64.7h0M138.2 63.9h0M138.2 65.3h0M138.3 63.8h0M138.6 65.4h0M138.6 63.9h0M138.6 65.3h0M138.7 63.2h0M138.7 64.6h0M138.8 63.5h0M139.0 62.7h0M139.1 64.3h0M139.2 63.0h0M139.3 64.5h0M139.4 63.5h0M139.4 64.3h0M139.5 65.6h0M139.5 63.6h0M139.6 64.7h0M139.6 66.0h0M139.6 65.1h0M139.7 64.0h0M139.7 66.0h0M139.8 65.1h0M139.8 64.2h0M139.9 65.2h0M140.0 64.2h0M140.0 65.2h0M140.1 64.2h0M140.2 63.1h0M140.3 65.3h0M140.3 64.4h0M140.4 65.9h0M140.5 64.0h0M140.5 62.7h0M140.6 64.3h0M140.7 66.0h0M140.7 64.9h0M140.9 63.6h0M141.0 65.1h0M141.0 63.8h0M141.2 64.7h0M141.3 63.8h0M141.5 62.9h0M141.5 65.1h0M141.6 64.3h0M141.6 63.2h0M141.6 64.7h0M141.7 62.7h0M141.8 65.7h0M141.8 63.7h0M141.9 65.3h0M141.9 64.0h0M142.1 62.9h0M142.2 64.1h0M142.4 65.3h0M142.4 63.9h0M142.4 65.4h0M142.5 63.6h0M142.5 65.0h0M142.5 63.9h0M142.6 64.8h0M142.7 63.1h0M142.8 64.3h0M142.9 65.1h0M143.0 63.4h0M143.0 64.3h0M143.2 63.3h0M143.2 64.6h0M143.4 63.6h0M143.5 64.4h0M143.6 63.2h0M143.7 64.6h0M143.8 63.8h0M143.8 65.1h0M143.9 62.7h0M143.9 64.7h0M143.9 63.6h0M144.0 64.7h0M144.0 63.6h0M144.1 64.7h0M144.1 62.9h0M144.1 63.7h0M144.2 65.1h0M144.2 62.9h0M144.2 65.2h0M144.3 64.2h0M144.3 63.3h0M144.3 64.3h0M144.4 63.2h0M144.4 64.0h0M144.5 63.2h0M144.6 64.3h0M144.6 63.4h0M144.7 64.9h0M144.7 62.3h0M144.8 65.0h0M144.8 63.4h0M145.0 64.6h0M145.1 63.2h0M145.2 64.1h0M145.4 62.6h0M145.4 65.0h0M145.5 63.5h0M145.6 64.8h0M145.6 63.7h0M145.8 64.5h0M145.9 63.1h0M146.1 63.8h0M146.2 63.0h0M146.2 64.6h0M146.3 62.5h0M146.3 63.4h0M146.5 64.2h0M146.6 62.9h0M146.6 64.2h0M146.7 63.2h0M146.9 64.2h0M146.9 63.3h0M147.2 61.8h0M147.2 63.6h0M147.4 62.7h0M147.5 63.7h0M147.5 62.8h0M147.9 63.7h0M147.9 62.6h0M147.9 64.4h0M148.0 62.9h0M148.2 61.9h0M148.3 62.9h0M148.3 61.6h0M148.4 63.3h0M148.5 61.9h0M148.7 63.1h0M148.7 61.8h0M148.8 63.9h0M148.9 63.0h0M148.9 60.8h0M148.9 63.0h0M149.0 61.8h0M149.0 62.9h0M149.2 61.9h0M149.2 63.4h0M149.3 61.2h0M149.3 62.8h0M149.4 61.6h0M149.4 62.4h0M149.7 61.6h0M149.8 62.4h0M149.8 60.7h0M149.8 62.0h0M150.2 60.6h0M150.2 62.4h0M150.3 60.5h0M150.3 61.4h0M150.4 62.6h0M150.4 60.5h0M150.5 61.8h0M150.7 60.2h0M150.7 61.5h0" stroke="#ff7f0e" stroke-width="3.0" stroke-linecap="round" fill="none"/><polyline points="61.0,28.8 61.4,33.2 62.3,74.7 62.7,81.7 63.3,80.6 63.5,78.0 64.8,42.7 65.1,38.0 65.4,36.6 66.1,37.5 66.5,39.6 68.2,69.8 68.6,73.7 69.1,74.8 70.1,74.1 70.6,72.4 73.1,46.7 73.6,43.5 73.9,42.7 74.3,42.5 75.7,43.1 76.4,44.7 79.8,65.9 80.5,68.8 81.4,69.8 83.4,69.3 84.5,68.0 89.2,49.9 90.3,47.5 90.8,46.9 91.5,46.7 94.4,47.1 95.8,48.3 96.9,50.6 102.1,63.1 103.5,65.3 104.9,66.2 106.1,66.3 109.2,66.0 110.4,65.6 111.3,65.0 113.0,63.2 118.0,55.6 120.7,52.0 122.7,50.3 125.0,49.7 130.7,50.0 133.5,50.9 135.7,52.5 142.0,58.3 145.7,61.4 148.3,62.9 150.8,63.6" stroke="#000" stroke-width="0.8" stroke-dasharray="2.4,1.4" fill="none" stroke-linejoin="round"/><polyline points="61.0,57.3 61.4,79.1 61.7,83.9 62.1,82.7 62.4,79.7 63.4,41.0 63.9,34.8 64.5,35.7 64.9,38.3 66.3,70.5 66.7,74.8 67.1,76.3 67.9,75.6 68.4,73.6 70.4,46.1 70.9,42.4 71.4,41.2 72.7,41.9 73.2,43.5 76.2,66.8 76.8,69.9 77.5,70.9 79.2,70.4 80.1,69.0 84.1,49.3 85.0,46.6 85.5,46.0 86.0,45.8 88.4,46.2 89.6,47.5 90.6,49.9 95.2,63.9 96.3,66.1 97.6,67.0 101.2,66.7 102.1,66.3 102.9,65.6 104.2,63.7 108.4,55.6 110.7,51.6 112.4,49.7 114.2,49.1 119.2,49.4 120.5,49.7 121.6,50.4 123.5,52.1 131.5,61.3 133.5,63.0 135.3,63.9 138.2,64.3 145.1,63.9 147.9,63.0 150.8,61.3" stroke="#000" stroke-width="0.8" stroke-dasharray="2.4,1.4" fill="none" stroke-linejoin="round"/></g>
<rect x="56.5" y="21.7" width="98.8" height="71.2" fill="none" stroke="#000" stroke-width="1.3"/>
<line x1="61.0" y1="92.9" x2="61.0" y2="95.5" stroke="#000" stroke-width="0.6"/>
<text x="61.0" y="109.2" text-anchor="middle" font-size="14.5" >0</text>
<line x1="132.8" y1="92.9" x2="132.8" y2="95.5" stroke="#000" stroke-width="0.6"/>
<text x="132.8" y="109.2" text-anchor="middle" font-size="14.5" >20</text>
<text x="105.9" y="126.6" text-anchor="middle" font-size="14.5" >time</text>
<text x="105.9" y="11.9" text-anchor="middle" font-size="14.5" >noisy data</text>
<line x1="53.9" y1="21.7" x2="56.5" y2="21.7" stroke="#000" stroke-width="0.6"/>
<text x="50.7" y="25.6" text-anchor="end" font-size="14.5" >2.5</text>
<line x1="53.9" y1="57.3" x2="56.5" y2="57.3" stroke="#000" stroke-width="0.6"/>
<text x="50.7" y="61.2" text-anchor="end" font-size="14.5" >0</text>
<line x1="53.9" y1="92.9" x2="56.5" y2="92.9" stroke="#000" stroke-width="0.6"/>
<text x="50.7" y="96.8" text-anchor="end" font-size="14.5" >−2.5</text>
<text transform="translate(13.0,57.3) rotate(-90)" text-anchor="middle" font-size="15.5">{<tspan font-style="italic">x</tspan><tspan font-size="10.5" dy="3.2">1</tspan><tspan dy="-3.2">, </tspan><tspan font-style="italic">x</tspan><tspan font-size="10.5" dy="3.2">2</tspan><tspan dy="-3.2">}</tspan></text>
<g clip-path="url(#c01)"><polyline points="219.8,21.7 220.2,27.1 221.1,79.1 221.5,87.8 222.1,86.5 222.3,83.1 223.6,39.1 223.9,33.2 224.2,31.4 224.9,32.5 225.3,35.1 227.0,73.0 227.4,77.8 227.9,79.2 228.9,78.3 229.4,76.1 231.9,44.0 232.4,40.0 232.7,39.1 233.1,38.8 234.5,39.6 235.2,41.6 238.6,68.1 239.3,71.7 239.7,72.6 240.2,73.0 242.2,72.3 243.3,70.7 248.0,48.0 249.1,45.0 249.6,44.3 250.3,44.0 253.2,44.6 253.9,45.2 254.6,46.1 255.7,48.9 260.9,64.5 262.3,67.2 263.7,68.4 264.9,68.5 268.0,68.1 269.2,67.7 270.1,67.0 271.8,64.6 276.8,55.2 279.5,50.7 281.5,48.5 282.6,48.0 283.8,47.8 289.5,48.2 291.0,48.6 292.3,49.3 294.5,51.3 300.8,58.5 304.5,62.4 307.1,64.3 309.6,65.2" stroke="#1f77b4" stroke-width="2.1" fill="none" stroke-linejoin="round"/><polyline points="219.8,57.3 220.2,84.5 220.5,90.5 220.9,89.0 221.2,85.3 222.2,36.9 222.7,29.2 223.3,30.4 223.7,33.6 225.1,73.8 225.5,79.2 225.9,81.1 226.7,80.1 227.2,77.6 229.2,43.3 229.7,38.7 230.2,37.2 231.5,38.0 232.0,40.1 235.0,69.2 235.6,73.1 235.9,74.0 236.3,74.3 238.0,73.6 238.9,71.9 242.9,47.2 243.8,44.0 244.3,43.2 244.8,42.9 247.2,43.5 247.9,44.0 248.4,45.0 249.4,48.0 254.0,65.5 255.1,68.3 255.7,69.1 256.4,69.4 257.4,69.5 260.0,69.0 260.9,68.6 261.7,67.7 263.0,65.2 267.2,55.1 269.5,50.2 271.2,47.9 272.0,47.3 273.0,47.0 278.0,47.4 279.3,47.8 280.4,48.6 282.3,50.8 290.3,62.3 292.3,64.4 294.1,65.6 295.4,65.9 297.0,66.1 303.9,65.5 306.7,64.5 309.6,62.3" stroke="#ff7f0e" stroke-width="2.1" fill="none" stroke-linejoin="round"/><polyline points="219.8,21.7 220.2,27.1 221.1,79.1 221.5,87.8 222.1,86.5 222.3,83.1 223.6,39.1 223.9,33.2 224.2,31.4 224.9,32.5 225.3,35.1 227.0,73.0 227.4,77.8 227.9,79.2 228.9,78.3 229.4,76.1 231.9,44.0 232.4,40.0 232.7,39.1 233.1,38.8 234.5,39.6 235.2,41.6 238.6,68.1 239.3,71.7 239.7,72.6 240.2,73.0 242.2,72.3 243.3,70.7 248.0,48.0 249.1,45.0 249.6,44.3 250.3,44.0 253.2,44.6 253.9,45.2 254.6,46.1 255.7,48.9 260.9,64.5 262.3,67.2 263.7,68.4 264.9,68.5 268.0,68.1 269.2,67.7 270.1,67.0 271.8,64.6 276.8,55.2 279.5,50.7 281.5,48.5 282.6,48.0 283.8,47.8 289.5,48.2 291.0,48.6 292.3,49.3 294.5,51.3 300.8,58.5 304.5,62.4 307.1,64.3 309.6,65.2" stroke="#000" stroke-width="0.8" stroke-dasharray="2.4,1.4" fill="none" stroke-linejoin="round"/><polyline points="219.8,57.3 220.2,84.5 220.5,90.5 220.9,89.0 221.2,85.3 222.2,36.9 222.7,29.2 223.3,30.4 223.7,33.6 225.1,73.8 225.5,79.2 225.9,81.1 226.7,80.1 227.2,77.6 229.2,43.3 229.7,38.7 230.2,37.2 231.5,38.0 232.0,40.1 235.0,69.2 235.6,73.1 235.9,74.0 236.3,74.3 238.0,73.6 238.9,71.9 242.9,47.2 243.8,44.0 244.3,43.2 244.8,42.9 247.2,43.5 247.9,44.0 248.4,45.0 249.4,48.0 254.0,65.5 255.1,68.3 255.7,69.1 256.4,69.4 257.4,69.5 260.0,69.0 260.9,68.6 261.7,67.7 263.0,65.2 267.2,55.1 269.5,50.2 271.2,47.9 272.0,47.3 273.0,47.0 278.0,47.4 279.3,47.8 280.4,48.6 282.3,50.8 290.3,62.3 292.3,64.4 294.1,65.6 295.4,65.9 297.0,66.1 303.9,65.5 306.7,64.5 309.6,62.3" stroke="#000" stroke-width="0.8" stroke-dasharray="2.4,1.4" fill="none" stroke-linejoin="round"/></g>
<rect x="215.3" y="21.7" width="98.8" height="71.2" fill="none" stroke="#000" stroke-width="1.3"/>
<line x1="219.8" y1="92.9" x2="219.8" y2="95.5" stroke="#000" stroke-width="0.6"/>
<text x="219.8" y="109.2" text-anchor="middle" font-size="14.5" >0</text>
<line x1="291.6" y1="92.9" x2="291.6" y2="95.5" stroke="#000" stroke-width="0.6"/>
<text x="291.6" y="109.2" text-anchor="middle" font-size="14.5" >20</text>
<text x="264.7" y="126.6" text-anchor="middle" font-size="14.5" >time</text>
<text x="264.7" y="11.9" text-anchor="middle" font-size="14.5" >denoised data</text>
<line x1="212.7" y1="21.7" x2="215.3" y2="21.7" stroke="#000" stroke-width="0.6"/>
<text x="209.5" y="25.6" text-anchor="end" font-size="14.5" >2</text>
<line x1="212.7" y1="57.3" x2="215.3" y2="57.3" stroke="#000" stroke-width="0.6"/>
<text x="209.5" y="61.2" text-anchor="end" font-size="14.5" >0</text>
<line x1="212.7" y1="92.9" x2="215.3" y2="92.9" stroke="#000" stroke-width="0.6"/>
<text x="209.5" y="96.8" text-anchor="end" font-size="14.5" >−2</text>
<text transform="translate(183.1,57.3) rotate(-90)" text-anchor="middle" font-size="15.5">{<tspan font-style="italic">x</tspan><tspan font-size="10.5" dy="3.2">1</tspan><tspan dy="-3.2">, </tspan><tspan font-style="italic">x</tspan><tspan font-size="10.5" dy="3.2">2</tspan><tspan dy="-3.2">}</tspan></text>
<g clip-path="url(#c02)"><polyline points="379.0,38.7 379.4,47.7 379.5,74.6 379.7,42.6 379.8,41.3 380.0,47.0 380.2,64.3 380.4,44.8 380.8,38.2 381.2,47.0 381.4,66.0 381.5,47.0 382.0,40.5 382.3,44.8 382.4,59.8 382.6,46.0 383.0,42.2 383.5,41.2 383.9,41.9 384.2,44.5 384.5,52.0 384.7,68.9 384.8,54.6 385.0,50.6 385.1,51.0 385.3,69.3 385.4,52.8 385.7,45.5 386.0,50.1 386.2,68.5 386.4,56.6 386.6,69.2 386.7,56.8 387.0,52.5 387.3,69.4 387.4,55.5 387.7,49.1 388.0,47.5 388.4,48.3 388.7,47.9 389.5,42.7 389.6,42.3 389.8,42.5 390.3,46.6 390.6,51.6 390.9,73.0 391.1,53.4 391.6,47.7 391.9,46.6 392.1,46.8 392.8,53.3 393.0,53.6 393.4,52.7 393.7,55.2 394.0,63.4 394.0,77.6 394.2,61.7 394.4,55.6 394.5,56.2 394.8,81.6 394.9,63.5 395.0,61.9 395.2,73.1 395.4,53.4 395.6,47.6 395.9,44.9 396.3,46.4 396.7,51.4 397.0,70.6 397.3,51.8 397.9,47.9 398.7,45.4 399.0,45.6 399.6,47.9 400.2,47.2 400.4,47.3 400.8,50.8 401.1,59.0 401.2,88.1 401.4,60.4 401.6,59.2 402.0,61.0 403.0,57.7 404.0,47.3 404.5,46.4 405.3,48.7 405.6,51.5 405.9,60.7 406.0,79.0 406.1,63.9 406.3,58.9 406.4,59.6 406.8,79.1 407.0,66.4 407.2,80.7 407.4,62.8 407.9,51.7 408.2,50.1 408.7,49.5 409.4,46.7 410.0,47.9 410.5,48.0 410.9,50.1 412.3,63.4 412.9,58.0 413.2,59.9 413.6,69.6 413.7,92.0 413.8,72.2 414.5,56.8 414.8,53.1 416.4,47.7 416.6,47.6 416.9,48.3 417.9,53.9 418.1,54.0 418.4,53.4 418.6,54.0 419.4,64.1 420.1,57.8 420.2,58.0 420.5,75.1 421.0,56.3 421.2,55.7 421.7,56.9 422.7,50.6 423.5,48.6 424.1,48.0 424.6,48.3 425.2,50.5 425.7,50.5 425.9,50.8 426.9,56.1 427.4,55.5 427.6,55.7 428.0,59.2 428.2,65.4 428.4,89.2 428.6,66.7 429.4,54.3 429.9,52.7 430.5,56.1 431.3,51.3 431.8,49.6 432.7,48.8 433.5,49.9 434.2,49.5 434.9,50.9 435.9,54.8 437.1,66.5 437.4,73.2 437.6,87.9 437.8,71.7 437.8,72.0 438.1,91.2 438.4,70.2 438.9,77.6 439.2,74.4 439.3,74.8 439.5,97.6 439.6,72.8 440.3,57.3 440.9,52.8 443.2,47.6 443.7,47.6 444.4,49.1 445.0,49.9 446.3,53.9 447.6,56.2 447.9,57.4 448.3,67.1 448.5,85.8 448.7,77.4 448.8,78.8 448.9,92.9 449.0,77.0 449.7,65.4 449.9,64.3 450.7,71.2 450.9,87.3 451.1,67.5 451.5,57.5 451.8,55.4 452.5,57.2 452.6,57.0 453.8,50.3 454.1,50.1 454.7,50.8 456.1,48.8 456.6,49.3 457.3,49.3 458.0,50.6 458.8,51.4 459.6,50.3 460.0,51.1 460.6,54.5 461.2,56.0 461.7,61.5 461.8,61.8 462.2,61.8 462.4,62.1 462.7,64.4 463.2,89.4 463.3,79.1 463.6,77.5 464.0,66.6 464.2,64.8 464.5,64.8 464.6,64.4 465.3,57.1 465.6,55.9 466.1,55.8 466.4,55.4 467.7,51.2 467.9,51.0 468.5,51.1 468.8,50.8" stroke="#1f77b4" stroke-width="1.9" fill="none" stroke-linejoin="round"/><polyline points="379.0,43.0 379.1,41.4 379.4,47.5 379.6,66.9 379.9,45.2 380.0,45.0 380.2,60.1 380.4,44.6 380.6,42.4 381.0,40.5 381.3,46.5 381.4,62.9 381.6,43.7 382.3,38.3 383.4,51.2 383.5,72.5 383.6,52.0 383.9,46.2 384.2,51.2 384.3,67.9 384.6,46.4 384.8,44.6 385.2,45.7 385.9,43.1 386.7,50.4 387.0,48.6 387.1,49.8 387.4,66.5 387.7,50.0 387.8,50.4 388.1,68.5 388.4,53.9 388.5,53.6 389.1,55.9 389.4,67.8 389.8,50.5 390.1,47.0 390.2,46.2 390.4,46.2 391.4,59.0 391.6,78.4 391.9,55.7 392.9,46.6 393.0,46.0 393.1,46.0 393.8,50.1 394.0,53.4 394.5,72.3 394.7,59.3 395.1,54.8 395.4,56.9 395.7,88.3 395.8,61.6 396.3,50.5 396.9,49.0 397.5,46.4 397.9,48.8 398.4,58.2 399.0,52.9 399.3,54.7 399.5,76.3 399.8,54.8 400.2,48.4 400.6,45.8 401.4,49.9 401.8,48.7 402.0,48.6 402.4,52.6 402.7,62.2 403.1,98.3 403.4,72.0 404.1,56.0 405.0,48.4 405.3,47.5 406.1,46.5 406.3,46.3 406.5,46.6 407.4,48.6 407.9,50.6 408.5,56.9 408.7,70.7 408.8,104.0 408.8,78.2 408.9,74.9 409.0,81.6 409.3,59.4 409.6,56.9 410.0,63.8 410.0,82.9 410.4,53.1 410.8,48.3 411.3,47.2 411.5,47.0 411.7,47.2 412.8,50.0 413.4,54.5 413.8,53.3 414.0,53.4 414.3,56.7 414.7,72.1 414.8,110.3 415.2,65.6 415.3,64.6 415.5,92.0 415.6,66.7 415.9,54.2 416.3,50.8 416.5,50.5 417.0,51.1 417.6,47.9 418.0,47.0 419.0,49.4 419.4,49.7 419.9,49.4 420.1,49.6 420.6,52.6 421.2,62.4 421.3,79.5 421.6,60.6 421.7,59.9 422.0,63.8 422.2,77.6 422.3,64.0 422.6,59.7 422.8,60.2 423.0,68.7 423.1,86.8 423.4,62.8 424.4,53.8 424.6,53.5 425.2,55.7 425.9,50.9 426.4,49.2 427.6,47.9 427.9,48.0 428.9,50.6 429.6,53.6 430.0,54.0 430.6,53.7 430.9,54.7 432.1,64.3 432.6,74.6 432.7,85.2 433.0,64.4 433.5,54.0 434.9,49.4 435.3,49.2 436.5,49.5 437.2,48.4 438.8,52.3 439.0,52.4 439.4,52.1 439.6,52.3 440.4,55.7 440.5,55.8 440.9,55.4 441.7,57.8 442.5,63.3 442.6,63.7 442.9,63.6 443.0,64.2 443.2,96.1 443.4,63.8 443.7,56.1 444.1,52.7 446.3,50.4 447.2,48.9 447.6,48.8 448.4,49.3 449.4,48.3 450.2,50.5 451.2,56.8 452.0,55.2 452.6,55.1 452.8,55.5 453.2,58.9 453.8,69.4 454.0,86.6 454.3,68.8 454.8,76.5 455.2,67.3 455.3,66.9 455.6,67.3 455.7,67.0 456.1,62.3 456.7,60.7 458.4,51.1 459.6,48.2 460.7,48.4 461.6,47.8 462.0,48.0 463.2,50.2 464.5,54.8 465.2,53.0 465.4,53.3 466.4,63.2 466.9,61.6 467.3,62.3 467.7,61.2 467.9,62.2 468.2,73.2 468.3,99.2 468.5,76.8 468.6,79.6 468.7,115.9 468.8,82.3" stroke="#ff7f0e" stroke-width="1.9" fill="none" stroke-linejoin="round"/></g>
<rect x="374.5" y="21.7" width="98.8" height="71.2" fill="none" stroke="#000" stroke-width="1.3"/>
<line x1="379.0" y1="92.9" x2="379.0" y2="95.5" stroke="#000" stroke-width="0.6"/>
<text x="379.0" y="109.2" text-anchor="middle" font-size="14.5" >0</text>
<line x1="450.8" y1="92.9" x2="450.8" y2="95.5" stroke="#000" stroke-width="0.6"/>
<text x="450.8" y="109.2" text-anchor="middle" font-size="14.5" >20</text>
<text x="423.9" y="126.6" text-anchor="middle" font-size="14.5" >time</text>
<text x="423.9" y="11.9" text-anchor="middle" font-size="14.5" >denoising quality</text>
<line x1="371.9" y1="35.6" x2="374.5" y2="35.6" stroke="#000" stroke-width="0.6"/>
<text x="369.3" y="42.6" text-anchor="end" font-size="14.5">10<tspan font-size="10.5" dx="-0.6" dy="-4.1">−1</tspan></text>
<line x1="371.9" y1="92.9" x2="374.5" y2="92.9" stroke="#000" stroke-width="0.6"/>
<text x="369.3" y="99.9" text-anchor="end" font-size="14.5">10<tspan font-size="10.5" dx="-0.6" dy="-4.1">−5</tspan></text>
<text transform="translate(338.0,57.3) rotate(-90)" text-anchor="middle" font-size="14.5">abs. error</text>
<g clip-path="url(#c03)"><polyline points="537.8,53.0 538.2,57.8 538.3,74.0 538.7,38.5 539.0,65.9 539.1,56.2 539.6,52.1 540.0,57.4 540.2,69.1 540.3,57.9 540.9,46.6 541.0,37.2 541.2,60.2 541.4,54.1 541.7,53.5 542.4,53.3 543.0,54.9 543.2,57.0 543.5,69.3 543.6,59.9 543.9,55.3 544.1,63.6 544.3,36.5 544.4,46.6 544.8,55.8 545.0,68.2 545.2,61.4 545.4,69.8 545.5,62.2 545.8,59.7 546.1,70.2 546.4,58.8 546.7,56.6 546.9,56.4 547.2,56.7 547.5,56.2 547.9,53.2 548.6,45.5 548.8,36.4 549.5,58.4 549.7,69.8 549.9,58.8 550.1,56.7 550.7,55.3 551.0,56.1 551.6,59.5 551.8,59.7 552.2,59.1 552.5,60.6 552.8,65.6 552.8,74.4 553.0,63.2 553.3,60.3 553.3,60.5 553.6,75.8 553.7,64.3 553.9,63.1 554.0,69.6 554.2,55.7 555.1,43.4 555.2,28.6 555.3,42.5 555.8,65.2 556.1,55.3 556.5,54.3 557.5,53.8 558.4,55.6 559.0,55.1 559.2,55.2 559.6,57.3 560.0,65.3 560.0,80.4 560.2,63.2 560.4,62.4 560.9,63.3 561.9,59.7 562.7,52.7 563.7,46.3 564.1,35.8 564.7,57.5 564.8,69.5 565.1,58.1 565.4,62.0 565.6,72.1 565.8,64.6 565.9,65.2 566.0,73.9 566.2,64.1 566.6,57.7 566.9,56.0 567.5,55.8 568.3,54.2 568.8,54.9 569.3,55.0 569.6,55.6 571.1,64.4 571.7,60.9 572.0,61.7 572.4,67.9 572.5,81.7 572.6,69.4 573.3,59.3 573.6,56.5 576.0,46.8 576.4,36.0 576.8,49.3 577.5,53.6 578.2,61.5 578.8,58.6 579.0,59.4 579.3,70.0 579.5,62.2 579.8,58.7 580.0,58.4 580.6,59.4 581.6,55.8 582.5,54.6 583.2,54.3 584.0,55.8 584.5,55.8 584.7,56.1 585.6,59.2 586.3,58.8 586.7,59.9 587.1,65.9 587.2,79.6 587.4,66.4 587.9,59.3 588.6,56.4 589.2,58.0 589.4,57.9 590.4,53.4 591.5,50.9 592.2,50.0 592.6,48.5 593.4,43.1 593.6,33.3 594.0,46.2 596.1,64.3 596.4,75.9 596.6,66.1 596.9,78.5 597.2,65.8 597.7,70.8 598.0,69.1 598.1,70.3 598.3,83.6 598.4,68.3 599.1,58.7 599.7,56.4 602.2,53.3 603.8,54.8 605.1,57.3 606.4,58.7 606.7,59.4 607.1,65.4 607.3,77.0 607.5,71.8 607.6,72.6 607.7,81.4 607.9,70.1 608.4,65.2 608.7,63.5 609.5,67.6 609.7,77.6 609.9,65.3 610.3,58.4 610.7,57.5 611.2,58.3 611.4,58.2 612.6,53.3 612.9,53.0 613.3,53.0 613.5,52.8 616.8,46.6 617.5,41.1 617.7,30.0 617.8,39.7 618.1,43.7 619.3,51.3 620.0,53.7 620.5,57.6 621.2,59.1 621.6,61.0 622.0,76.6 622.1,70.3 622.4,69.5 622.9,62.3 623.0,62.0 623.3,62.2 623.4,62.0 624.3,57.3 625.2,57.2 626.5,54.8 627.6,54.7" stroke="#1f77b4" stroke-width="1.9" fill="none" stroke-linejoin="round"/><polyline points="537.8,3.9 537.8,45.4 538.4,70.2 538.7,57.6 538.8,56.6 539.0,65.7 539.2,57.3 539.6,48.3 539.8,24.7 539.8,42.4 540.2,65.9 540.4,55.4 541.1,51.7 541.9,56.4 542.0,56.6 542.1,55.9 542.2,56.5 542.3,67.2 542.5,39.3 543.1,67.8 543.3,56.0 543.6,54.9 544.0,55.8 544.7,54.0 545.4,57.3 546.0,54.1 546.2,60.9 546.4,36.0 546.9,66.3 547.2,58.6 547.9,61.7 548.2,68.8 548.6,58.6 548.8,56.1 549.1,55.3 549.5,56.6 550.2,62.6 550.4,74.2 550.5,61.6 551.4,50.1 551.7,36.8 551.9,46.7 552.9,58.2 553.3,70.3 553.5,62.6 553.9,60.1 554.2,62.4 554.5,81.0 554.7,60.4 555.1,57.3 555.7,56.5 556.3,54.7 556.7,56.0 557.2,61.3 557.9,56.7 558.1,57.2 558.3,69.5 558.5,57.8 559.2,41.2 559.2,26.5 559.5,46.0 560.2,52.9 560.4,53.6 560.7,53.9 561.0,55.1 561.4,60.9 561.9,86.3 562.2,70.1 562.9,60.6 563.7,55.7 564.1,54.9 565.1,54.1 566.7,56.0 567.3,59.4 567.5,67.5 567.6,88.0 567.7,70.1 567.7,69.7 567.8,73.8 568.0,61.9 568.5,56.7 568.8,60.0 568.8,71.5 568.9,57.2 569.6,42.1 569.7,31.2 569.8,41.2 570.1,46.4 572.1,57.2 572.3,57.6 572.7,57.2 572.9,57.6 573.2,60.7 573.5,71.9 573.6,93.2 573.9,67.5 574.1,64.9 574.3,82.0 574.4,64.4 574.9,57.1 575.2,56.2 575.7,56.6 575.8,56.5 576.8,54.0 577.8,55.4 578.2,55.5 578.8,55.3 579.1,55.8 579.9,61.3 580.1,73.4 580.4,61.4 580.5,60.9 580.8,63.9 581.0,71.4 581.1,62.8 581.5,59.8 581.8,64.8 581.9,76.0 582.1,61.9 583.2,52.5 584.0,49.0 584.3,36.3 584.5,44.1 584.9,47.6 585.8,50.2 586.8,51.8 588.4,56.7 588.7,57.2 589.3,57.2 589.6,57.6 590.7,62.7 591.4,70.5 591.5,77.1 591.7,65.2 592.2,58.1 593.6,54.9 594.0,54.7 595.3,54.8 596.1,54.1 597.5,56.3 598.3,55.9 598.5,56.1 599.2,57.8 599.7,57.2 600.5,58.1 601.3,60.8 601.4,60.9 601.7,60.5 601.8,60.7 602.0,80.2 602.3,57.2 602.7,52.8 603.7,48.6 604.3,44.7 604.7,32.4 604.9,41.8 605.4,46.6 607.1,50.5 607.5,51.0 608.1,51.2 608.5,51.9 609.9,57.8 610.1,57.9 610.8,57.3 611.4,57.4 611.8,58.5 612.6,67.1 612.8,77.2 613.1,66.4 613.2,66.2 613.6,71.0 614.0,65.3 614.1,65.1 614.4,65.3 614.5,65.2 615.0,62.1 615.5,61.2 617.0,55.5 618.0,53.8 618.5,53.4 619.5,53.5 620.7,53.1 622.0,54.5 623.2,57.1 623.5,57.0 623.9,55.9 624.2,55.9 624.6,57.3 625.2,61.8 625.6,60.7 626.1,60.9 626.6,60.1 627.0,67.2 627.1,83.3 627.3,69.3 627.4,70.9 627.5,93.4 627.6,72.5" stroke="#ff7f0e" stroke-width="1.9" fill="none" stroke-linejoin="round"/></g>
<rect x="533.3" y="21.7" width="98.8" height="71.2" fill="none" stroke="#000" stroke-width="1.3"/>
<line x1="537.8" y1="92.9" x2="537.8" y2="95.5" stroke="#000" stroke-width="0.6"/>
<text x="537.8" y="109.2" text-anchor="middle" font-size="14.5" >0</text>
<line x1="609.6" y1="92.9" x2="609.6" y2="95.5" stroke="#000" stroke-width="0.6"/>
<text x="609.6" y="109.2" text-anchor="middle" font-size="14.5" >20</text>
<text x="582.7" y="126.6" text-anchor="middle" font-size="14.5" >time</text>
<text x="582.7" y="11.9" text-anchor="middle" font-size="14.5" >denoising quality</text>
<line x1="530.7" y1="48.4" x2="533.3" y2="48.4" stroke="#000" stroke-width="0.6"/>
<text x="528.1" y="55.4" text-anchor="end" font-size="14.5">10<tspan font-size="10.5" dx="-0.6" dy="-4.1">−1</tspan></text>
<line x1="530.7" y1="92.9" x2="533.3" y2="92.9" stroke="#000" stroke-width="0.6"/>
<text x="528.1" y="99.9" text-anchor="end" font-size="14.5">10<tspan font-size="10.5" dx="-0.6" dy="-4.1">−6</tspan></text>
<text transform="translate(496.8,57.3) rotate(-90)" text-anchor="middle" font-size="14.5">rel. error</text>
<text transform="translate(667.0,66.3) rotate(-90)" text-anchor="middle" font-size="14.5">noise 5%</text>
<g clip-path="url(#c10)"><path d="M61.0 173.1h0M61.1 171.1h0M61.1 172.9h0M61.3 175.9h0M61.4 177.2h0M61.4 178.5h0M61.5 179.3h0M61.5 181.2h0M61.6 183.4h0M61.6 187.0h0M61.7 189.4h0M61.7 190.5h0M61.7 193.4h0M61.8 195.7h0M61.8 196.8h0M61.9 199.8h0M61.9 201.8h0M62.0 204.1h0M62.0 207.4h0M62.1 210.9h0M62.1 209.1h0M62.1 210.3h0M62.2 215.6h0M62.2 216.5h0M62.3 218.2h0M62.3 221.7h0M62.4 219.3h0M62.4 221.7h0M62.5 224.9h0M62.6 224.0h0M62.6 225.2h0M62.7 223.9h0M62.7 224.9h0M62.8 224.0h0M62.8 226.6h0M62.8 225.7h0M62.9 223.9h0M62.9 226.4h0M63.0 225.0h0M63.0 226.3h0M63.1 227.2h0M63.1 223.0h0M63.1 224.7h0M63.2 222.8h0M63.2 225.8h0M63.3 224.3h0M63.4 225.8h0M63.4 221.6h0M63.4 223.2h0M63.5 222.0h0M63.5 223.1h0M63.5 219.0h0M63.6 222.4h0M63.6 217.0h0M63.6 219.2h0M63.7 218.2h0M63.8 213.8h0M63.8 215.8h0M63.8 214.7h0M63.9 213.7h0M63.9 210.6h0M63.9 209.5h0M64.0 207.2h0M64.0 204.7h0M64.2 200.3h0M64.3 202.2h0M64.3 200.2h0M64.3 201.8h0M64.4 196.4h0M64.4 197.7h0M64.4 195.4h0M64.5 192.1h0M64.5 194.9h0M64.5 190.9h0M64.7 187.4h0M64.7 188.4h0M64.8 185.9h0M64.9 184.9h0M64.9 182.5h0M64.9 185.4h0M65.0 184.5h0M65.0 181.1h0M65.1 183.8h0M65.1 181.9h0M65.2 182.8h0M65.2 181.9h0M65.2 180.9h0M65.3 179.7h0M65.4 181.1h0M65.5 179.7h0M65.6 180.8h0M65.7 182.7h0M65.7 180.2h0M65.8 181.7h0M65.9 178.1h0M65.9 182.1h0M65.9 179.0h0M66.0 183.9h0M66.0 181.5h0M66.1 178.7h0M66.1 181.1h0M66.2 182.3h0M66.2 184.3h0M66.2 181.1h0M66.3 179.9h0M66.4 182.8h0M66.5 186.3h0M66.5 184.2h0M66.6 182.9h0M66.7 185.5h0M66.7 186.9h0M66.8 187.9h0M66.9 190.0h0M66.9 192.7h0M67.0 187.8h0M67.0 190.6h0M67.1 193.8h0M67.2 194.8h0M67.2 199.2h0M67.3 197.7h0M67.4 198.8h0M67.4 197.7h0M67.5 200.4h0M67.5 201.7h0M67.6 203.9h0M67.6 201.0h0M67.7 205.8h0M67.7 204.0h0M67.8 208.4h0M68.0 213.4h0M68.0 210.9h0M68.2 212.9h0M68.2 216.2h0M68.3 212.9h0M68.3 217.8h0M68.4 215.2h0M68.4 216.6h0M68.4 215.3h0M68.5 217.5h0M68.5 215.3h0M68.5 216.3h0M68.7 218.0h0M68.7 216.8h0M68.8 218.1h0M68.9 221.8h0M68.9 218.8h0M69.1 219.6h0M69.1 217.8h0M69.1 217.0h0M69.2 218.7h0M69.2 217.5h0M69.3 220.3h0M69.3 219.0h0M69.4 219.9h0M69.4 218.5h0M69.5 216.4h0M69.5 219.2h0M69.5 216.8h0M69.6 219.8h0M69.6 218.7h0M69.6 217.3h0M69.7 221.6h0M69.8 218.4h0M69.8 220.3h0M69.9 218.8h0M69.9 217.6h0M70.0 216.4h0M70.0 219.9h0M70.1 215.9h0M70.2 217.8h0M70.2 216.3h0M70.3 220.8h0M70.3 216.9h0M70.3 218.6h0M70.4 215.6h0M70.5 214.8h0M70.5 217.2h0M70.6 214.6h0M70.6 216.9h0M70.7 215.4h0M70.7 213.6h0M70.8 215.3h0M70.8 218.4h0M70.8 214.6h0M70.9 213.1h0M70.9 214.3h0M71.0 212.0h0M71.2 209.4h0M71.2 210.2h0M71.3 211.4h0M71.3 210.0h0M71.3 209.1h0M71.4 206.7h0M71.4 207.6h0M71.5 206.4h0M71.6 205.5h0M71.6 207.2h0M71.7 205.2h0M71.7 202.2h0M71.7 203.2h0M71.8 202.3h0M71.9 204.4h0M71.9 203.1h0M72.0 201.0h0M72.0 200.1h0M72.1 198.2h0M72.1 200.7h0M72.1 201.6h0M72.2 199.3h0M72.3 198.5h0M72.3 197.5h0M72.3 198.5h0M72.4 197.0h0M72.4 195.7h0M72.5 196.7h0M72.6 194.3h0M72.6 195.2h0M72.7 193.9h0M72.8 190.7h0M72.9 191.7h0M73.0 190.3h0M73.0 191.3h0M73.1 188.6h0M73.3 192.3h0M73.3 188.8h0M73.3 187.3h0M73.4 190.3h0M73.5 187.7h0M73.6 189.1h0M73.6 188.2h0M73.6 191.2h0M73.7 186.8h0M73.7 188.2h0M73.8 187.1h0M73.9 184.6h0M73.9 187.8h0M73.9 186.9h0M74.0 189.4h0M74.0 187.4h0M74.0 189.0h0M74.1 185.5h0M74.1 186.5h0M74.2 185.2h0M74.2 187.8h0M74.2 186.6h0M74.3 187.5h0M74.4 186.6h0M74.5 187.9h0M74.5 184.6h0M74.6 185.9h0M74.6 186.9h0M74.7 187.8h0M74.7 186.0h0M74.8 188.4h0M74.8 185.9h0M75.0 184.3h0M75.0 185.7h0M75.0 188.6h0M75.1 184.4h0M75.1 187.3h0M75.2 186.2h0M75.2 187.4h0M75.3 184.6h0M75.3 185.6h0M75.4 187.2h0M75.4 184.9h0M75.5 187.5h0M75.5 189.6h0M75.5 184.7h0M75.6 188.6h0M75.6 186.5h0M75.8 184.8h0M75.8 188.1h0M75.9 185.9h0M76.0 187.7h0M76.0 185.8h0M76.0 188.5h0M76.1 186.4h0M76.1 190.0h0M76.2 187.1h0M76.2 185.1h0M76.2 185.9h0M76.3 189.1h0M76.3 192.1h0M76.3 187.9h0M76.4 187.0h0M76.4 188.4h0M76.5 190.7h0M76.5 189.7h0M76.5 190.9h0M76.7 187.8h0M76.7 189.4h0M76.7 191.1h0M76.9 193.2h0M76.9 191.0h0M77.0 192.4h0M77.0 190.4h0M77.1 193.3h0M77.1 192.0h0M77.1 193.7h0M77.2 192.1h0M77.2 195.3h0M77.2 194.0h0M77.3 195.9h0M77.3 194.5h0M77.4 195.3h0M77.4 196.1h0M77.6 194.1h0M77.6 195.0h0M77.6 194.2h0M77.7 196.6h0M77.8 197.9h0M77.9 196.7h0M78.0 198.0h0M78.1 200.7h0M78.1 198.3h0M78.1 199.4h0M78.2 200.4h0M78.2 199.4h0M78.3 200.8h0M78.3 199.8h0M78.5 200.7h0M78.5 202.4h0M78.6 203.6h0M78.6 200.6h0M78.6 203.7h0M78.7 201.8h0M78.7 203.0h0M78.7 201.2h0M78.8 203.7h0M78.8 206.8h0M78.9 203.5h0M78.9 204.5h0M79.0 205.5h0M79.0 203.5h0M79.1 204.9h0M79.1 206.2h0M79.2 205.0h0M79.2 206.9h0M79.3 205.0h0M79.3 207.2h0M79.3 204.6h0M79.4 208.1h0M79.6 206.9h0M79.6 209.4h0M79.7 207.4h0M79.7 209.1h0M79.8 207.2h0M79.9 213.2h0M79.9 210.6h0M80.0 209.7h0M80.0 210.5h0M80.0 209.5h0M80.1 211.9h0M80.2 210.7h0M80.2 209.2h0M80.2 212.4h0M80.3 211.4h0M80.3 213.6h0M80.4 211.4h0M80.4 213.0h0M80.4 211.3h0M80.5 213.8h0M80.5 212.3h0M80.5 213.8h0M80.6 212.6h0M80.6 209.7h0M80.7 212.2h0M80.8 210.5h0M80.8 211.5h0M80.8 214.4h0M80.9 212.4h0M81.0 215.6h0M81.0 214.1h0M81.1 211.0h0M81.1 212.3h0M81.1 214.6h0M81.3 218.0h0M81.3 212.9h0M81.4 215.0h0M81.5 214.2h0M81.5 211.6h0M81.6 214.1h0M81.6 212.9h0M81.6 213.8h0M81.7 212.0h0M81.7 213.6h0M81.8 216.4h0M81.8 211.3h0M81.9 212.8h0M81.9 215.8h0M81.9 211.9h0M82.0 213.2h0M82.0 214.8h0M82.1 212.1h0M82.1 214.5h0M82.2 212.9h0M82.3 214.8h0M82.3 212.8h0M82.3 214.0h0M82.4 210.8h0M82.4 214.2h0M82.5 212.2h0M82.5 215.6h0M82.6 213.2h0M82.7 211.4h0M82.8 213.9h0M82.8 214.8h0M82.9 213.5h0M82.9 212.6h0M83.0 214.9h0M83.1 215.9h0M83.1 214.6h0M83.1 211.7h0M83.2 210.3h0M83.2 212.1h0M83.2 213.3h0M83.3 210.4h0M83.3 211.4h0M83.4 212.7h0M83.4 213.7h0M83.5 210.5h0M83.6 213.2h0M83.7 211.5h0M83.7 214.1h0M83.8 212.6h0M83.8 213.6h0M83.8 211.5h0M83.9 212.4h0M83.9 213.6h0M84.0 212.6h0M84.0 210.5h0M84.1 211.7h0M84.1 213.7h0M84.3 211.6h0M84.3 210.5h0M84.4 213.5h0M84.4 212.2h0M84.5 213.1h0M84.5 214.6h0M84.6 212.7h0M84.6 210.2h0M84.6 213.7h0M84.7 210.1h0M84.7 211.3h0M84.9 208.7h0M85.0 209.9h0M85.1 211.6h0M85.2 209.5h0M85.2 211.9h0M85.2 209.4h0M85.4 205.9h0M85.5 211.2h0M85.5 209.4h0M85.5 210.7h0M85.6 207.7h0M85.6 206.8h0M85.6 205.5h0M85.7 208.7h0M85.7 206.7h0M85.7 208.7h0M85.8 207.4h0M85.8 206.3h0M85.9 209.0h0M85.9 207.1h0M86.0 206.1h0M86.0 208.3h0M86.1 206.3h0M86.1 207.8h0M86.1 208.9h0M86.2 207.2h0M86.3 203.3h0M86.4 204.7h0M86.4 203.3h0M86.5 204.2h0M86.5 200.8h0M86.5 203.5h0M86.6 204.9h0M86.7 203.0h0M86.8 204.7h0M86.9 203.8h0M87.0 202.3h0M87.0 203.2h0M87.1 200.5h0M87.1 202.8h0M87.1 201.3h0M87.2 204.1h0M87.2 201.5h0M87.3 199.8h0M87.3 200.9h0M87.3 200.0h0M87.4 201.0h0M87.4 199.7h0M87.5 200.8h0M87.6 203.4h0M87.6 199.4h0M87.7 200.9h0M87.8 198.0h0M87.9 199.7h0M87.9 197.9h0M88.0 195.8h0M88.1 199.4h0M88.1 197.4h0M88.2 196.2h0M88.3 197.8h0M88.3 196.8h0M88.3 194.8h0M88.4 197.2h0M88.4 196.2h0M88.5 194.4h0M88.5 196.6h0M88.6 194.2h0M88.7 195.8h0M88.7 192.5h0M88.7 195.7h0M88.8 194.1h0M88.8 195.7h0M88.9 194.7h0M88.9 196.3h0M88.9 195.2h0M89.0 196.2h0M89.1 193.3h0M89.1 194.2h0M89.2 193.1h0M89.2 194.8h0M89.3 192.9h0M89.3 194.3h0M89.4 192.8h0M89.4 194.6h0M89.4 196.9h0M89.5 192.4h0M89.6 190.4h0M89.6 193.1h0M89.6 191.4h0M89.7 193.7h0M89.7 192.7h0M89.8 191.9h0M89.8 190.6h0M89.9 193.6h0M89.9 192.5h0M90.0 189.3h0M90.1 193.1h0M90.1 188.7h0M90.2 192.6h0M90.2 189.6h0M90.2 193.9h0M90.3 191.4h0M90.3 192.4h0M90.3 190.5h0M90.4 189.2h0M90.4 190.3h0M90.5 189.2h0M90.6 190.3h0M90.6 193.3h0M90.7 189.4h0M90.8 191.0h0M90.8 193.1h0M90.9 192.1h0M90.9 190.8h0M91.0 192.8h0M91.0 188.6h0M91.1 190.6h0M91.2 192.0h0M91.2 189.4h0M91.3 191.3h0M91.3 188.8h0M91.4 190.4h0M91.5 193.1h0M91.5 188.1h0M91.5 191.6h0M91.7 189.8h0M91.7 188.5h0M91.8 190.8h0M91.9 192.2h0M92.0 188.2h0M92.0 192.4h0M92.0 191.4h0M92.1 187.7h0M92.1 190.7h0M92.1 191.9h0M92.2 190.3h0M92.2 187.3h0M92.2 190.4h0M92.3 192.0h0M92.3 190.2h0M92.4 191.6h0M92.4 190.2h0M92.5 193.6h0M92.5 189.9h0M92.6 191.4h0M92.6 188.7h0M92.7 189.6h0M92.7 188.7h0M92.8 191.4h0M92.8 189.5h0M92.8 188.2h0M92.9 191.8h0M92.9 190.6h0M93.0 191.5h0M93.0 190.6h0M93.1 188.2h0M93.1 190.8h0M93.2 189.4h0M93.2 191.4h0M93.3 192.3h0M93.3 193.2h0M93.3 191.8h0M93.4 187.9h0M93.4 190.4h0M93.5 189.2h0M93.5 193.4h0M93.5 191.0h0M93.6 189.0h0M93.6 190.2h0M93.7 193.0h0M93.8 190.3h0M93.8 192.7h0M93.9 190.7h0M93.9 192.6h0M94.0 190.3h0M94.0 191.2h0M94.1 188.2h0M94.1 192.0h0M94.2 194.2h0M94.3 189.8h0M94.3 190.8h0M94.4 193.1h0M94.5 191.2h0M94.5 189.9h0M94.7 193.9h0M94.7 192.2h0M94.8 190.3h0M94.8 191.8h0M94.9 190.1h0M94.9 192.6h0M94.9 191.0h0M95.0 189.1h0M95.0 191.3h0M95.0 192.3h0M95.1 191.4h0M95.2 193.2h0M95.2 190.6h0M95.2 191.5h0M95.3 194.1h0M95.3 189.9h0M95.3 192.9h0M95.4 191.6h0M95.5 193.5h0M95.5 195.0h0M95.6 192.6h0M95.6 191.6h0M95.6 193.6h0M95.7 192.6h0M95.7 190.3h0M95.7 193.5h0M95.8 186.7h0M95.8 191.7h0M95.8 193.9h0M95.9 191.7h0M95.9 192.7h0M95.9 190.6h0M96.0 194.2h0M96.0 191.6h0M96.1 194.1h0M96.1 192.2h0M96.1 190.7h0M96.2 192.6h0M96.2 191.0h0M96.2 193.3h0M96.3 191.7h0M96.3 194.0h0M96.4 195.3h0M96.5 194.3h0M96.5 191.2h0M96.6 193.4h0M96.6 195.2h0M96.7 194.0h0M96.7 195.5h0M96.7 193.7h0M96.8 195.6h0M96.8 193.1h0M96.9 196.9h0M96.9 191.3h0M97.0 195.5h0M97.0 196.6h0M97.0 193.8h0M97.1 193.0h0M97.1 194.2h0M97.2 195.9h0M97.2 195.0h0M97.3 194.0h0M97.4 198.7h0M97.5 196.4h0M97.5 194.2h0M97.5 196.5h0M97.7 199.1h0M97.7 195.9h0M97.8 197.8h0M97.9 199.5h0M97.9 197.3h0M97.9 198.6h0M98.0 195.6h0M98.0 197.5h0M98.0 199.4h0M98.1 198.3h0M98.1 194.9h0M98.1 197.8h0M98.2 198.8h0M98.3 196.7h0M98.3 200.0h0M98.4 197.3h0M98.5 198.5h0M98.7 199.6h0M98.8 197.6h0M98.8 198.6h0M98.9 197.1h0M98.9 200.5h0M99.0 198.5h0M99.1 201.8h0M99.1 200.9h0M99.1 198.9h0M99.2 202.3h0M99.2 199.2h0M99.3 198.1h0M99.3 199.8h0M99.3 201.6h0M99.4 200.8h0M99.5 199.5h0M99.5 204.1h0M99.6 202.1h0M99.6 200.7h0M99.6 201.7h0M99.7 204.7h0M99.7 201.1h0M99.9 203.8h0M99.9 202.4h0M100.0 201.5h0M100.0 197.4h0M100.0 203.2h0M100.1 201.2h0M100.1 200.0h0M100.2 201.4h0M100.3 205.2h0M100.3 202.1h0M100.3 203.5h0M100.4 200.8h0M100.4 202.5h0M100.5 205.0h0M100.5 202.1h0M100.6 205.7h0M100.6 203.8h0M100.7 202.4h0M100.7 203.8h0M100.8 205.1h0M100.8 203.0h0M100.8 201.7h0M100.9 205.6h0M100.9 202.3h0M100.9 205.2h0M101.1 202.4h0M101.1 203.6h0M101.2 206.8h0M101.2 204.0h0M101.3 206.3h0M101.3 203.2h0M101.3 207.7h0M101.4 204.3h0M101.4 207.5h0M101.5 205.2h0M101.5 204.4h0M101.6 206.3h0M101.7 204.6h0M101.7 207.6h0M101.8 205.4h0M101.9 208.7h0M101.9 205.8h0M102.0 203.5h0M102.0 207.2h0M102.1 208.5h0M102.1 205.0h0M102.1 206.1h0M102.2 205.2h0M102.2 207.7h0M102.3 208.8h0M102.3 203.6h0M102.4 208.6h0M102.5 206.9h0M102.5 205.6h0M102.6 208.3h0M102.6 207.1h0M102.7 204.7h0M102.7 208.2h0M102.8 205.7h0M102.8 210.1h0M102.8 208.1h0M102.9 209.8h0M103.0 208.6h0M103.0 206.8h0M103.1 209.2h0M103.2 207.3h0M103.2 210.7h0M103.2 209.4h0M103.3 210.3h0M103.3 208.5h0M103.4 210.9h0M103.4 209.8h0M103.5 207.2h0M103.5 210.9h0M103.7 207.4h0M103.7 208.6h0M103.8 210.7h0M103.8 208.3h0M103.9 209.1h0M104.0 207.6h0M104.0 209.6h0M104.1 211.0h0M104.1 207.6h0M104.1 208.9h0M104.2 213.0h0M104.2 209.5h0M104.2 208.6h0M104.3 211.9h0M104.4 208.3h0M104.4 210.2h0M104.4 211.8h0M104.5 209.8h0M104.5 211.2h0M104.6 209.8h0M104.7 207.5h0M104.8 209.2h0M104.8 210.9h0M104.9 213.1h0M104.9 210.1h0M105.0 210.9h0M105.0 209.0h0M105.1 212.6h0M105.1 209.5h0M105.2 210.9h0M105.3 207.7h0M105.3 209.1h0M105.3 207.2h0M105.4 211.1h0M105.5 208.9h0M105.5 207.4h0M105.6 211.0h0M105.6 212.1h0M105.6 208.7h0M105.8 211.2h0M105.8 212.3h0M105.9 207.3h0M105.9 209.7h0M105.9 210.5h0M106.0 209.0h0M106.0 207.0h0M106.0 209.8h0M106.1 207.7h0M106.1 210.0h0M106.2 207.4h0M106.2 209.8h0M106.2 208.4h0M106.3 210.1h0M106.3 209.2h0M106.4 210.6h0M106.4 209.1h0M106.5 210.2h0M106.6 208.0h0M106.6 210.2h0M106.7 211.4h0M106.7 210.0h0M106.8 207.8h0M106.8 211.5h0M106.8 208.5h0M106.9 210.3h0M107.0 208.4h0M107.0 210.7h0M107.0 208.1h0M107.1 207.2h0M107.1 211.2h0M107.2 212.4h0M107.2 209.3h0M107.3 211.2h0M107.4 208.1h0M107.4 209.1h0M107.5 212.4h0M107.5 211.2h0M107.6 210.1h0M107.7 207.8h0M107.7 209.0h0M107.8 210.2h0M107.9 212.2h0M107.9 210.8h0M108.0 209.9h0M108.1 212.5h0M108.1 210.7h0M108.2 208.4h0M108.2 209.8h0M108.3 210.7h0M108.3 209.9h0M108.4 208.9h0M108.5 210.7h0M108.5 209.0h0M108.5 210.8h0M108.6 212.0h0M108.6 208.7h0M108.7 210.7h0M108.7 206.4h0M108.8 211.5h0M108.8 210.0h0M108.8 211.8h0M108.9 210.8h0M108.9 209.2h0M109.0 210.3h0M109.0 207.3h0M109.0 211.2h0M109.1 209.9h0M109.2 210.9h0M109.2 210.1h0M109.2 211.0h0M109.3 209.2h0M109.3 210.7h0M109.3 209.7h0M109.4 210.8h0M109.5 209.8h0M109.6 212.5h0M109.6 207.7h0M109.6 209.6h0M109.7 211.6h0M109.8 208.7h0M109.9 210.3h0M109.9 208.5h0M109.9 210.0h0M110.0 211.0h0M110.0 208.4h0M110.1 209.8h0M110.1 207.4h0M110.2 210.3h0M110.2 209.2h0M110.4 210.8h0M110.4 208.7h0M110.5 209.8h0M110.5 211.2h0M110.6 209.2h0M110.6 207.0h0M110.6 210.2h0M110.8 208.9h0M110.9 210.8h0M110.9 207.7h0M111.0 209.5h0M111.0 208.5h0M111.2 206.1h0M111.2 206.9h0M111.3 209.2h0M111.3 207.7h0M111.4 208.6h0M111.5 210.0h0M111.5 208.7h0M111.6 207.4h0M111.6 208.6h0M111.7 207.5h0M111.8 209.0h0M111.8 208.2h0M111.9 209.9h0M111.9 208.7h0M112.0 207.4h0M112.1 209.0h0M112.2 204.7h0M112.2 207.4h0M112.2 205.8h0M112.3 206.8h0M112.3 210.3h0M112.4 207.4h0M112.5 210.3h0M112.5 208.4h0M112.5 206.9h0M112.6 205.7h0M112.6 206.7h0M112.7 209.2h0M112.7 208.1h0M112.8 205.8h0M112.9 208.5h0M113.0 207.2h0M113.1 208.7h0M113.1 206.4h0M113.3 207.9h0M113.3 204.5h0M113.4 206.9h0M113.4 205.0h0M113.4 207.2h0M113.5 209.3h0M113.5 205.5h0M113.6 207.8h0M113.6 204.8h0M113.7 208.0h0M113.7 206.3h0M113.7 204.3h0M113.8 203.1h0M113.8 207.1h0M113.8 205.5h0M113.9 206.5h0M113.9 203.9h0M113.9 206.2h0M114.0 203.7h0M114.0 207.1h0M114.1 204.3h0M114.1 203.3h0M114.1 204.4h0M114.2 205.2h0M114.2 206.9h0M114.3 203.8h0M114.4 206.6h0M114.5 205.0h0M114.5 202.4h0M114.6 203.3h0M114.6 206.5h0M114.6 207.3h0M114.7 204.4h0M114.7 202.1h0M114.8 205.5h0M114.8 202.8h0M114.8 204.7h0M114.9 203.4h0M114.9 204.9h0M115.1 203.4h0M115.2 205.5h0M115.2 204.2h0M115.3 201.9h0M115.3 204.5h0M115.4 201.2h0M115.4 205.9h0M115.5 204.5h0M115.5 202.3h0M115.5 206.5h0M115.6 203.4h0M115.6 202.4h0M115.6 204.9h0M115.7 200.9h0M115.7 202.7h0M115.8 201.6h0M115.9 203.2h0M116.0 199.6h0M116.0 202.0h0M116.1 203.4h0M116.1 206.2h0M116.1 202.4h0M116.3 200.8h0M116.4 202.0h0M116.5 200.0h0M116.6 201.1h0M116.6 198.6h0M116.7 200.2h0M116.7 202.9h0M116.8 201.3h0M116.9 199.3h0M117.0 203.3h0M117.1 202.1h0M117.1 199.9h0M117.2 198.0h0M117.3 201.3h0M117.4 200.4h0M117.4 198.9h0M117.4 201.7h0M117.5 197.6h0M117.6 202.4h0M117.6 200.0h0M117.6 201.6h0M117.7 202.6h0M117.7 201.0h0M117.8 199.0h0M117.9 197.8h0M117.9 200.7h0M117.9 199.9h0M118.0 197.4h0M118.0 198.4h0M118.0 200.5h0M118.1 199.2h0M118.4 200.6h0M118.4 198.7h0M118.5 199.9h0M118.5 197.9h0M118.6 196.0h0M118.7 199.0h0M118.8 200.2h0M118.8 196.1h0M118.9 197.3h0M118.9 198.9h0M118.9 195.7h0M119.0 197.1h0M119.0 198.6h0M119.1 201.2h0M119.1 197.0h0M119.2 198.8h0M119.2 199.8h0M119.2 196.9h0M119.3 198.9h0M119.3 197.6h0M119.5 195.3h0M119.5 197.7h0M119.6 195.7h0M119.6 197.3h0M119.7 195.4h0M119.7 198.0h0M119.7 196.5h0M119.8 195.4h0M119.8 197.0h0M119.9 199.0h0M120.0 196.9h0M120.3 193.4h0M120.3 196.7h0M120.5 195.1h0M120.5 197.9h0M120.5 193.3h0M120.6 198.2h0M120.6 196.1h0M120.6 194.6h0M120.7 197.9h0M120.8 194.6h0M120.8 193.5h0M120.9 195.7h0M121.0 197.8h0M121.0 194.8h0M121.0 196.9h0M121.1 194.9h0M121.1 192.9h0M121.1 196.6h0M121.2 195.0h0M121.2 196.0h0M121.3 197.9h0M121.3 195.8h0M121.3 194.7h0M121.4 193.3h0M121.5 195.2h0M121.5 193.7h0M121.5 195.1h0M121.6 196.2h0M121.6 193.7h0M121.7 197.2h0M121.7 194.1h0M121.8 195.2h0M121.8 193.9h0M121.9 196.4h0M122.0 194.7h0M122.1 196.2h0M122.1 192.6h0M122.1 197.8h0M122.2 192.6h0M122.2 194.7h0M122.3 192.1h0M122.3 194.5h0M122.4 193.6h0M122.5 192.2h0M122.6 194.2h0M122.6 195.0h0M122.8 193.6h0M122.9 195.0h0M122.9 193.7h0M122.9 197.1h0M123.0 194.1h0M123.0 197.2h0M123.0 194.5h0M123.1 193.1h0M123.1 195.5h0M123.2 194.2h0M123.4 195.1h0M123.4 193.3h0M123.5 195.2h0M123.5 192.8h0M123.6 194.9h0M123.6 195.8h0M123.6 193.0h0M123.7 194.7h0M123.8 192.9h0M123.9 194.7h0M123.9 190.5h0M124.0 194.6h0M124.1 196.2h0M124.1 194.8h0M124.2 193.5h0M124.2 191.9h0M124.3 193.1h0M124.3 194.0h0M124.4 195.2h0M124.4 191.6h0M124.4 193.3h0M124.5 194.3h0M124.7 192.4h0M124.7 194.5h0M124.8 192.8h0M124.9 196.7h0M124.9 193.2h0M125.0 194.2h0M125.0 191.7h0M125.0 193.0h0M125.1 194.0h0M125.2 191.1h0M125.2 194.0h0M125.3 193.1h0M125.3 194.2h0M125.3 193.1h0M125.5 191.4h0M125.6 192.8h0M125.6 194.2h0M125.6 192.8h0M125.8 194.3h0M125.8 192.6h0M125.8 190.9h0M125.9 192.7h0M125.9 194.9h0M125.9 194.0h0M126.0 192.1h0M126.1 195.4h0M126.1 191.9h0M126.1 191.1h0M126.2 195.1h0M126.2 193.3h0M126.3 191.5h0M126.3 193.8h0M126.4 194.6h0M126.4 193.4h0M126.5 192.6h0M126.5 194.7h0M126.5 193.6h0M126.6 191.6h0M126.6 193.1h0M126.7 191.5h0M126.7 193.5h0M126.8 194.8h0M126.8 194.0h0M126.9 190.5h0M127.0 192.0h0M127.0 190.3h0M127.0 194.8h0M127.1 192.4h0M127.1 194.0h0M127.1 195.4h0M127.2 192.6h0M127.2 194.3h0M127.2 192.4h0M127.3 189.9h0M127.3 193.3h0M127.4 194.4h0M127.4 195.5h0M127.5 193.8h0M127.5 194.6h0M127.5 193.2h0M127.7 191.9h0M127.7 195.0h0M127.8 191.5h0M127.9 194.5h0M127.9 190.1h0M127.9 197.4h0M128.0 194.1h0M128.0 192.9h0M128.1 195.4h0M128.1 193.6h0M128.2 192.0h0M128.2 196.2h0M128.2 194.5h0M128.3 192.3h0M128.4 191.0h0M128.4 194.6h0M128.5 193.3h0M128.6 194.6h0M128.6 193.4h0M128.7 190.2h0M128.8 195.9h0M128.8 194.5h0M128.9 193.4h0M128.9 192.4h0M129.0 193.7h0M129.0 189.5h0M129.0 193.1h0M129.1 191.7h0M129.1 193.7h0M129.1 194.6h0M129.2 190.3h0M129.2 194.8h0M129.3 195.7h0M129.3 194.6h0M129.3 193.4h0M129.4 191.7h0M129.4 194.0h0M129.5 192.6h0M129.5 194.8h0M129.6 193.2h0M129.6 194.4h0M129.6 193.1h0M129.7 192.3h0M129.8 191.2h0M129.8 194.4h0M129.9 193.4h0M130.0 192.5h0M130.0 193.4h0M130.0 192.4h0M130.1 193.5h0M130.2 194.7h0M130.2 192.7h0M130.2 193.6h0M130.3 192.0h0M130.3 192.8h0M130.3 194.3h0M130.4 193.3h0M130.5 195.5h0M130.5 193.4h0M130.6 195.3h0M130.6 193.3h0M130.7 195.2h0M130.8 193.4h0M130.9 196.2h0M130.9 195.2h0M130.9 193.1h0M131.0 195.2h0M131.0 192.4h0M131.1 194.9h0M131.1 193.5h0M131.2 194.5h0M131.3 191.7h0M131.4 193.0h0M131.6 194.2h0M131.7 195.0h0M131.8 195.8h0M131.8 193.8h0M131.8 195.3h0M131.9 194.4h0M131.9 195.7h0M132.0 193.4h0M132.1 195.6h0M132.1 194.6h0M132.2 193.7h0M132.3 195.0h0M132.3 193.2h0M132.3 196.7h0M132.4 195.6h0M132.4 193.0h0M132.5 194.8h0M132.5 193.8h0M132.5 192.7h0M132.6 195.7h0M132.7 194.0h0M132.8 196.9h0M132.8 193.8h0M132.9 192.4h0M132.9 196.5h0M133.0 193.6h0M133.0 195.0h0M133.1 193.3h0M133.1 196.3h0M133.2 193.4h0M133.2 194.9h0M133.4 197.9h0M133.5 193.5h0M133.5 194.3h0M133.5 195.5h0M133.6 194.2h0M133.6 195.1h0M133.6 194.0h0M133.7 198.9h0M133.8 193.1h0M133.8 194.8h0M133.9 196.0h0M133.9 195.2h0M134.0 194.3h0M134.2 195.6h0M134.3 194.1h0M134.3 196.0h0M134.4 194.9h0M134.4 193.4h0M134.4 197.3h0M134.5 198.4h0M134.5 192.9h0M134.6 195.3h0M134.7 196.8h0M134.7 195.3h0M134.8 196.9h0M134.8 194.9h0M134.9 193.6h0M134.9 192.7h0M134.9 197.0h0M135.0 198.1h0M135.1 196.1h0M135.1 194.7h0M135.2 197.2h0M135.3 195.2h0M135.3 196.4h0M135.4 194.8h0M135.5 195.8h0M135.7 194.6h0M135.8 197.7h0M135.8 196.4h0M135.9 199.5h0M135.9 195.1h0M136.0 198.8h0M136.1 195.0h0M136.1 198.7h0M136.2 196.6h0M136.3 198.3h0M136.4 197.2h0M136.5 196.0h0M136.5 195.1h0M136.5 196.4h0M136.6 197.2h0M136.7 198.8h0M136.8 196.4h0M136.8 198.8h0M136.9 195.6h0M137.0 197.2h0M137.1 200.1h0M137.1 198.9h0M137.2 197.4h0M137.2 199.2h0M137.3 196.9h0M137.3 196.0h0M137.4 199.3h0M137.4 196.2h0M137.4 199.7h0M137.5 197.9h0M137.6 195.9h0M137.6 197.1h0M137.7 198.2h0M137.7 196.9h0M137.7 199.2h0M137.8 197.8h0M137.8 196.4h0M137.8 197.8h0M137.9 195.8h0M137.9 199.9h0M138.0 198.9h0M138.1 196.7h0M138.1 198.1h0M138.2 200.0h0M138.2 198.1h0M138.3 200.4h0M138.3 198.3h0M138.3 200.2h0M138.4 198.9h0M138.5 200.9h0M138.5 199.6h0M138.6 198.1h0M138.6 199.2h0M138.7 201.0h0M138.7 199.7h0M138.8 198.0h0M138.9 200.5h0M139.0 201.6h0M139.0 200.7h0M139.0 199.5h0M139.1 201.1h0M139.1 199.7h0M139.2 198.0h0M139.2 200.1h0M139.2 199.1h0M139.3 197.0h0M139.3 200.5h0M139.3 198.7h0M139.4 201.7h0M139.5 200.1h0M139.5 198.4h0M139.5 199.7h0M139.6 200.6h0M139.6 199.1h0M139.6 198.0h0M139.7 201.2h0M139.7 199.2h0M139.8 200.9h0M139.8 199.2h0M139.9 201.7h0M139.9 197.4h0M140.0 202.8h0M140.0 200.1h0M140.0 202.7h0M140.1 201.1h0M140.1 198.3h0M140.2 200.9h0M140.2 201.8h0M140.3 196.7h0M140.4 199.3h0M140.4 201.9h0M140.4 200.7h0M140.5 199.5h0M140.5 201.6h0M140.6 203.2h0M140.6 201.9h0M140.6 200.2h0M140.7 201.7h0M140.7 202.7h0M140.8 199.4h0M140.8 200.2h0M140.9 202.2h0M140.9 198.7h0M141.0 201.6h0M141.0 199.4h0M141.0 201.4h0M141.1 200.5h0M141.2 202.6h0M141.3 199.1h0M141.3 202.0h0M141.4 199.9h0M141.4 202.6h0M141.5 201.3h0M141.5 200.4h0M141.5 203.8h0M141.6 203.0h0M141.6 205.0h0M141.6 201.1h0M141.8 202.8h0M141.8 201.2h0M141.9 203.4h0M141.9 202.5h0M142.0 200.8h0M142.0 203.9h0M142.0 198.2h0M142.1 203.2h0M142.1 204.3h0M142.2 202.1h0M142.2 203.5h0M142.2 201.5h0M142.3 203.8h0M142.3 201.8h0M142.4 203.2h0M142.4 202.2h0M142.4 203.2h0M142.5 202.2h0M142.5 200.7h0M142.6 203.2h0M142.6 201.7h0M142.7 200.7h0M142.7 203.9h0M142.7 201.3h0M142.8 203.3h0M142.8 202.4h0M142.9 203.3h0M142.9 201.0h0M143.0 202.8h0M143.2 205.0h0M143.2 202.3h0M143.3 203.7h0M143.3 205.6h0M143.4 202.9h0M143.4 204.3h0M143.5 200.0h0M143.5 205.4h0M143.6 202.6h0M143.6 206.0h0M143.7 204.4h0M143.8 202.2h0M143.8 203.8h0M143.9 204.8h0M144.0 201.4h0M144.0 204.1h0M144.1 203.3h0M144.1 205.3h0M144.2 203.1h0M144.2 204.9h0M144.2 206.5h0M144.3 203.4h0M144.3 201.7h0M144.4 203.4h0M144.4 205.9h0M144.5 208.3h0M144.5 202.0h0M144.6 203.1h0M144.6 206.6h0M144.6 204.2h0M144.7 206.0h0M144.8 204.0h0M144.8 206.5h0M144.9 204.2h0M144.9 206.7h0M145.0 203.8h0M145.0 205.0h0M145.0 203.6h0M145.1 207.0h0M145.2 204.8h0M145.2 203.3h0M145.3 206.6h0M145.3 205.2h0M145.3 201.8h0M145.4 204.9h0M145.4 206.3h0M145.5 207.5h0M145.5 204.5h0M145.6 206.2h0M145.6 204.0h0M145.7 205.6h0M145.8 204.1h0M145.9 207.2h0M145.9 203.3h0M145.9 204.5h0M146.0 205.8h0M146.0 207.9h0M146.0 206.6h0M146.1 207.5h0M146.1 204.9h0M146.2 202.6h0M146.2 207.0h0M146.3 202.9h0M146.3 205.6h0M146.4 206.7h0M146.4 203.6h0M146.5 205.7h0M146.5 204.8h0M146.6 203.7h0M146.6 205.3h0M146.6 206.7h0M146.7 205.2h0M146.7 206.0h0M146.7 208.3h0M146.8 206.8h0M146.8 208.1h0M146.9 206.3h0M147.0 208.3h0M147.0 205.4h0M147.1 207.8h0M147.1 206.9h0M147.2 205.7h0M147.3 207.2h0M147.3 205.6h0M147.3 207.8h0M147.4 205.8h0M147.5 206.7h0M147.5 205.2h0M147.6 206.3h0M147.7 207.2h0M147.9 208.3h0M147.9 205.7h0M148.0 207.6h0M148.0 206.8h0M148.2 205.3h0M148.2 206.6h0M148.2 208.3h0M148.3 206.8h0M148.3 208.3h0M148.3 207.4h0M148.4 205.7h0M148.4 208.8h0M148.4 206.2h0M148.5 207.1h0M148.5 205.6h0M148.5 207.0h0M148.6 205.7h0M148.6 206.9h0M148.7 205.4h0M148.7 206.7h0M148.7 208.0h0M148.8 206.8h0M148.8 204.7h0M148.9 208.2h0M148.9 209.2h0M148.9 205.4h0M149.0 208.0h0M149.0 209.4h0M149.0 208.4h0M149.2 204.3h0M149.2 207.5h0M149.2 206.4h0M149.3 208.0h0M149.3 209.6h0M149.4 204.8h0M149.4 207.9h0M149.5 206.6h0M149.5 208.5h0M149.6 206.1h0M149.6 208.0h0M149.7 207.1h0M149.7 205.4h0M149.8 209.5h0M149.8 211.1h0M149.8 207.3h0M149.9 203.6h0M149.9 207.3h0M150.0 206.4h0M150.1 208.7h0M150.2 205.5h0M150.2 209.1h0M150.3 208.0h0M150.3 207.0h0M150.5 208.5h0M150.6 206.9h0M150.6 208.3h0M150.7 205.8h0M150.7 206.9h0M150.7 209.0h0M150.8 209.9h0M150.8 208.6h0" stroke="#1f77b4" stroke-width="3.0" stroke-linecap="round" fill="none"/><path d="M61.0 200.9h0M61.0 202.7h0M61.1 205.8h0M61.1 210.3h0M61.2 213.6h0M61.2 214.5h0M61.3 217.6h0M61.3 219.5h0M61.4 221.6h0M61.5 225.8h0M61.6 226.9h0M61.6 224.9h0M61.6 226.9h0M61.7 229.2h0M61.7 228.0h0M61.8 226.8h0M61.9 228.7h0M61.9 226.4h0M62.0 225.5h0M62.1 227.9h0M62.1 225.2h0M62.2 222.2h0M62.2 224.7h0M62.3 221.3h0M62.4 222.8h0M62.4 220.8h0M62.5 218.2h0M62.6 216.7h0M62.6 215.2h0M62.7 212.8h0M62.7 213.8h0M62.8 210.6h0M62.8 208.0h0M62.8 206.6h0M62.9 202.3h0M62.9 206.5h0M62.9 202.7h0M63.0 201.6h0M63.0 199.3h0M63.1 198.0h0M63.1 195.4h0M63.2 190.1h0M63.2 192.2h0M63.3 189.8h0M63.3 188.0h0M63.4 187.1h0M63.4 185.9h0M63.4 185.0h0M63.5 182.8h0M63.5 179.9h0M63.6 181.9h0M63.6 179.1h0M63.8 177.8h0M63.8 180.0h0M63.9 176.9h0M63.9 180.9h0M64.0 179.2h0M64.0 178.0h0M64.1 179.0h0M64.1 176.2h0M64.2 178.3h0M64.2 177.5h0M64.3 178.9h0M64.3 177.3h0M64.4 180.6h0M64.4 177.1h0M64.5 178.0h0M64.5 180.9h0M64.6 178.5h0M64.6 180.5h0M64.7 178.2h0M64.7 180.1h0M64.8 181.9h0M64.9 183.8h0M65.0 182.3h0M65.0 184.2h0M65.1 185.8h0M65.1 184.4h0M65.1 186.5h0M65.2 187.7h0M65.2 188.8h0M65.2 187.5h0M65.3 189.8h0M65.3 193.1h0M65.4 196.6h0M65.4 193.1h0M65.5 197.3h0M65.6 195.5h0M65.6 197.1h0M65.6 198.3h0M65.7 200.7h0M65.7 197.9h0M65.7 200.7h0M65.8 203.0h0M65.8 201.8h0M65.8 203.5h0M65.9 205.7h0M65.9 204.3h0M65.9 205.6h0M66.0 209.5h0M66.0 207.8h0M66.2 210.6h0M66.2 213.7h0M66.3 214.6h0M66.3 213.1h0M66.4 216.2h0M66.5 218.9h0M66.5 216.1h0M66.6 217.8h0M66.6 219.8h0M66.6 217.3h0M66.7 219.7h0M66.7 218.7h0M66.8 221.3h0M66.8 218.0h0M66.9 219.3h0M66.9 217.0h0M67.0 221.3h0M67.0 222.9h0M67.0 220.2h0M67.1 222.0h0M67.1 220.1h0M67.1 222.8h0M67.2 219.0h0M67.2 220.0h0M67.2 219.1h0M67.3 220.2h0M67.3 221.8h0M67.4 218.5h0M67.5 220.5h0M67.5 219.6h0M67.6 220.5h0M67.6 219.7h0M67.7 218.4h0M67.7 222.1h0M67.7 217.6h0M67.8 219.4h0M67.9 217.9h0M68.0 219.0h0M68.0 217.7h0M68.0 219.7h0M68.1 217.7h0M68.1 219.9h0M68.1 219.0h0M68.2 216.0h0M68.2 219.0h0M68.3 218.0h0M68.4 216.5h0M68.5 212.4h0M68.5 217.6h0M68.6 214.6h0M68.6 213.5h0M68.6 215.5h0M68.7 212.9h0M68.8 216.4h0M68.8 209.7h0M68.9 210.6h0M68.9 211.9h0M68.9 210.5h0M69.0 207.2h0M69.1 211.0h0M69.1 207.9h0M69.2 205.6h0M69.2 207.4h0M69.3 204.5h0M69.3 205.9h0M69.3 204.6h0M69.4 203.0h0M69.4 202.1h0M69.5 203.2h0M69.6 199.2h0M69.7 200.2h0M69.7 198.0h0M69.8 197.1h0M69.8 196.1h0M69.8 197.4h0M69.9 195.0h0M69.9 198.1h0M69.9 196.2h0M70.0 194.3h0M70.1 192.7h0M70.1 194.5h0M70.2 193.4h0M70.3 190.6h0M70.3 192.9h0M70.4 189.8h0M70.5 191.6h0M70.5 189.2h0M70.5 190.3h0M70.6 187.7h0M70.7 185.7h0M70.7 188.1h0M70.7 186.8h0M70.8 186.0h0M70.8 187.2h0M70.9 185.8h0M71.0 183.2h0M71.1 184.9h0M71.1 183.8h0M71.2 185.6h0M71.2 184.8h0M71.4 185.7h0M71.4 184.3h0M71.5 185.6h0M71.5 187.4h0M71.6 185.7h0M71.6 183.5h0M71.6 184.5h0M71.7 186.1h0M71.8 187.0h0M71.8 185.1h0M71.9 185.9h0M72.0 182.1h0M72.0 186.3h0M72.1 183.3h0M72.1 185.7h0M72.1 183.4h0M72.3 184.5h0M72.3 187.3h0M72.4 185.0h0M72.4 184.1h0M72.5 187.2h0M72.5 183.8h0M72.5 185.4h0M72.6 186.9h0M72.6 185.2h0M72.6 182.4h0M72.7 186.4h0M72.7 185.2h0M72.8 186.3h0M72.8 184.2h0M72.9 185.1h0M72.9 183.9h0M73.0 185.9h0M73.0 187.8h0M73.1 184.9h0M73.1 186.8h0M73.1 189.2h0M73.2 187.0h0M73.2 189.1h0M73.3 186.4h0M73.3 189.3h0M73.4 191.3h0M73.4 187.5h0M73.5 190.3h0M73.5 187.8h0M73.6 188.8h0M73.6 186.7h0M73.6 188.8h0M73.7 190.3h0M73.8 193.1h0M73.9 192.0h0M73.9 194.3h0M74.0 192.4h0M74.0 195.2h0M74.1 191.8h0M74.1 193.1h0M74.2 195.4h0M74.2 196.2h0M74.2 194.8h0M74.4 199.8h0M74.4 195.7h0M74.5 197.9h0M74.5 196.8h0M74.5 198.4h0M74.6 200.3h0M74.6 197.6h0M74.7 198.8h0M74.7 199.7h0M74.8 198.1h0M74.9 200.5h0M74.9 202.2h0M75.0 200.5h0M75.0 204.0h0M75.0 199.8h0M75.1 201.2h0M75.1 203.3h0M75.2 204.2h0M75.2 203.0h0M75.3 205.1h0M75.3 204.0h0M75.3 205.3h0M75.4 207.2h0M75.4 205.0h0M75.4 205.9h0M75.5 206.8h0M75.5 207.7h0M75.7 208.9h0M75.8 206.8h0M75.8 207.7h0M75.9 209.9h0M75.9 209.0h0M76.0 210.6h0M76.1 209.4h0M76.2 208.5h0M76.2 211.3h0M76.2 210.1h0M76.3 211.2h0M76.5 213.6h0M76.6 212.7h0M76.6 213.8h0M76.7 212.8h0M76.7 211.5h0M76.7 214.2h0M76.8 212.2h0M76.8 213.4h0M77.0 211.6h0M77.0 214.1h0M77.1 212.7h0M77.2 215.5h0M77.2 213.4h0M77.2 215.0h0M77.3 213.6h0M77.3 215.4h0M77.4 214.0h0M77.4 216.7h0M77.5 215.2h0M77.5 217.2h0M77.6 214.5h0M77.6 216.2h0M77.7 217.1h0M77.7 215.0h0M77.8 216.0h0M77.8 214.7h0M77.8 213.6h0M77.9 215.4h0M77.9 213.1h0M78.0 215.6h0M78.0 213.2h0M78.1 214.1h0M78.1 213.1h0M78.1 215.3h0M78.2 216.9h0M78.2 215.4h0M78.2 214.5h0M78.3 212.2h0M78.3 215.8h0M78.3 214.0h0M78.4 216.4h0M78.4 215.1h0M78.5 213.1h0M78.5 214.0h0M78.8 216.8h0M78.8 214.8h0M79.0 213.0h0M79.1 214.2h0M79.1 210.3h0M79.1 213.2h0M79.3 215.1h0M79.3 216.1h0M79.4 211.3h0M79.4 216.2h0M79.5 214.3h0M79.6 211.7h0M79.6 212.6h0M79.7 216.5h0M79.7 214.4h0M79.7 213.3h0M79.8 216.1h0M79.9 214.2h0M79.9 211.8h0M79.9 213.2h0M80.0 214.8h0M80.0 211.6h0M80.1 209.5h0M80.1 213.7h0M80.1 211.2h0M80.2 212.3h0M80.2 213.8h0M80.3 211.6h0M80.4 212.8h0M80.4 211.3h0M80.5 207.9h0M80.5 211.4h0M80.6 212.3h0M80.6 210.0h0M80.7 208.9h0M80.8 209.9h0M80.9 209.0h0M81.0 210.4h0M81.0 207.0h0M81.1 209.2h0M81.1 205.7h0M81.1 209.9h0M81.2 207.9h0M81.3 209.2h0M81.3 208.2h0M81.4 205.3h0M81.4 207.9h0M81.4 206.1h0M81.5 209.1h0M81.6 206.7h0M81.6 208.4h0M81.6 204.8h0M81.7 203.5h0M81.9 205.0h0M82.0 203.3h0M82.0 204.8h0M82.1 202.8h0M82.1 201.0h0M82.2 202.9h0M82.2 201.6h0M82.3 200.3h0M82.3 202.4h0M82.4 200.2h0M82.4 201.3h0M82.5 198.6h0M82.5 200.7h0M82.6 203.3h0M82.6 202.2h0M82.7 198.8h0M82.7 204.3h0M82.7 198.3h0M82.8 201.1h0M82.8 197.8h0M82.9 201.3h0M82.9 199.6h0M83.0 198.7h0M83.0 196.7h0M83.1 195.5h0M83.1 200.1h0M83.1 199.1h0M83.2 194.0h0M83.2 196.3h0M83.2 194.3h0M83.3 196.6h0M83.3 197.6h0M83.4 195.1h0M83.4 193.9h0M83.5 195.2h0M83.5 192.3h0M83.6 197.7h0M83.6 195.9h0M83.7 194.7h0M83.7 195.7h0M83.8 192.7h0M83.8 194.2h0M84.0 193.1h0M84.1 196.0h0M84.1 193.8h0M84.2 191.3h0M84.2 193.2h0M84.2 195.1h0M84.3 192.7h0M84.3 191.9h0M84.4 191.0h0M84.5 189.9h0M84.5 192.1h0M84.6 190.8h0M84.8 193.9h0M84.8 190.3h0M84.9 189.4h0M84.9 190.9h0M85.0 188.9h0M85.1 191.1h0M85.1 188.9h0M85.1 192.2h0M85.2 191.0h0M85.2 188.1h0M85.2 190.8h0M85.3 192.0h0M85.3 189.6h0M85.3 190.6h0M85.4 189.1h0M85.5 190.5h0M85.5 189.2h0M85.5 190.2h0M85.6 191.6h0M85.7 190.6h0M85.7 188.6h0M85.8 190.8h0M85.9 189.4h0M86.0 191.7h0M86.0 189.0h0M86.1 188.1h0M86.1 189.9h0M86.3 188.9h0M86.4 190.2h0M86.5 188.9h0M86.5 191.2h0M86.5 188.9h0M86.6 190.1h0M86.6 191.5h0M86.7 190.2h0M86.7 186.3h0M86.8 189.9h0M86.8 191.4h0M86.8 188.4h0M86.9 191.1h0M86.9 189.2h0M87.0 188.3h0M87.0 187.0h0M87.0 189.2h0M87.1 190.8h0M87.1 189.7h0M87.1 187.9h0M87.2 190.9h0M87.3 187.5h0M87.3 190.0h0M87.3 191.3h0M87.4 188.8h0M87.4 191.8h0M87.5 189.7h0M87.6 191.3h0M87.6 188.3h0M87.6 191.0h0M87.7 188.9h0M87.8 190.3h0M87.9 189.4h0M87.9 188.4h0M87.9 190.5h0M88.0 192.2h0M88.1 189.0h0M88.1 190.5h0M88.2 188.6h0M88.2 190.6h0M88.2 188.2h0M88.3 189.7h0M88.3 188.6h0M88.3 191.7h0M88.4 190.9h0M88.4 187.5h0M88.5 189.5h0M88.5 190.8h0M88.5 193.1h0M88.6 191.5h0M88.6 188.3h0M88.7 190.9h0M88.7 189.4h0M88.7 192.5h0M88.8 189.7h0M88.8 188.9h0M88.8 189.7h0M88.9 191.7h0M88.9 189.6h0M89.0 191.9h0M89.1 190.3h0M89.1 192.1h0M89.2 190.9h0M89.2 192.6h0M89.3 190.8h0M89.3 189.2h0M89.4 191.0h0M89.5 192.5h0M89.7 188.8h0M89.7 189.7h0M89.7 193.7h0M89.8 190.8h0M89.8 191.6h0M89.9 190.6h0M89.9 193.6h0M90.0 192.8h0M90.1 191.0h0M90.1 192.3h0M90.3 190.9h0M90.3 192.1h0M90.4 194.2h0M90.5 193.4h0M90.6 191.9h0M90.7 193.9h0M90.7 192.3h0M90.7 193.8h0M90.8 194.7h0M90.9 197.6h0M91.0 194.7h0M91.0 193.6h0M91.1 196.1h0M91.1 193.7h0M91.2 197.3h0M91.2 195.7h0M91.3 194.7h0M91.4 198.8h0M91.4 196.8h0M91.5 199.2h0M91.5 197.5h0M91.5 198.8h0M91.6 197.2h0M91.8 196.1h0M91.8 197.9h0M91.9 199.0h0M92.0 197.2h0M92.0 196.2h0M92.0 198.2h0M92.1 200.6h0M92.1 199.7h0M92.1 198.5h0M92.2 200.2h0M92.2 198.9h0M92.3 201.3h0M92.4 198.8h0M92.4 200.9h0M92.5 200.1h0M92.5 198.3h0M92.6 199.2h0M92.6 201.9h0M92.7 200.5h0M92.8 199.7h0M92.9 201.3h0M92.9 202.6h0M93.0 200.2h0M93.0 201.3h0M93.1 202.3h0M93.1 198.7h0M93.2 204.5h0M93.2 201.2h0M93.3 203.1h0M93.5 200.8h0M93.5 201.7h0M93.6 202.7h0M93.6 204.2h0M93.7 205.5h0M93.7 203.2h0M93.8 205.0h0M93.9 202.6h0M94.0 204.5h0M94.2 205.5h0M94.2 204.5h0M94.2 207.3h0M94.3 208.6h0M94.3 202.9h0M94.3 205.3h0M94.5 207.5h0M94.6 204.5h0M94.6 205.9h0M94.7 207.4h0M94.7 208.3h0M94.7 204.2h0M94.8 205.3h0M94.8 208.9h0M94.9 207.8h0M94.9 208.7h0M94.9 209.8h0M95.0 208.1h0M95.0 204.6h0M95.1 209.4h0M95.1 206.3h0M95.2 207.3h0M95.3 208.2h0M95.3 206.6h0M95.4 209.6h0M95.4 208.7h0M95.5 206.0h0M95.6 209.7h0M95.6 208.2h0M95.6 206.5h0M95.7 208.1h0M95.7 209.7h0M95.7 208.1h0M95.8 211.3h0M95.8 208.5h0M95.9 206.9h0M96.1 210.8h0M96.2 209.2h0M96.3 210.4h0M96.3 209.1h0M96.3 207.7h0M96.4 210.1h0M96.5 212.9h0M96.5 210.4h0M96.7 208.4h0M96.8 214.0h0M96.8 211.2h0M96.8 209.5h0M97.0 210.5h0M97.0 209.0h0M97.0 211.0h0M97.1 207.1h0M97.1 210.9h0M97.2 209.2h0M97.2 210.3h0M97.2 209.5h0M97.3 210.5h0M97.3 209.3h0M97.4 210.8h0M97.5 211.9h0M97.5 208.6h0M97.6 213.2h0M97.6 211.8h0M97.7 210.5h0M97.7 209.5h0M97.7 212.3h0M97.8 211.5h0M97.8 210.6h0M97.9 209.6h0M97.9 212.0h0M97.9 209.4h0M98.0 211.9h0M98.0 209.5h0M98.0 211.6h0M98.1 209.7h0M98.2 211.0h0M98.3 209.1h0M98.3 208.2h0M98.4 210.2h0M98.4 211.8h0M98.5 208.2h0M98.5 211.3h0M98.5 210.2h0M98.6 208.9h0M98.6 214.6h0M98.6 211.2h0M98.7 212.6h0M98.7 211.4h0M98.8 212.8h0M98.8 209.3h0M98.9 207.6h0M98.9 211.2h0M99.0 208.4h0M99.0 210.2h0M99.0 212.3h0M99.1 210.0h0M99.1 211.6h0M99.1 209.0h0M99.2 211.7h0M99.2 208.8h0M99.3 212.5h0M99.3 211.0h0M99.3 213.6h0M99.4 207.2h0M99.4 210.7h0M99.6 207.5h0M99.6 208.4h0M99.6 211.3h0M99.7 210.2h0M99.8 212.1h0M99.8 211.2h0M99.9 212.7h0M99.9 209.9h0M99.9 211.6h0M100.0 209.0h0M100.0 210.4h0M100.0 212.6h0M100.1 208.2h0M100.1 213.4h0M100.2 206.6h0M100.2 208.2h0M100.3 210.7h0M100.4 211.5h0M100.4 210.4h0M100.4 214.0h0M100.5 210.0h0M100.6 211.2h0M100.6 212.6h0M100.7 210.4h0M100.8 209.4h0M100.9 212.2h0M100.9 210.3h0M100.9 213.3h0M101.0 212.2h0M101.0 210.9h0M101.1 210.1h0M101.2 212.4h0M101.3 209.9h0M101.3 211.9h0M101.3 209.6h0M101.4 210.9h0M101.4 207.7h0M101.4 211.8h0M101.5 209.8h0M101.5 208.9h0M101.6 211.0h0M101.6 208.0h0M101.7 209.0h0M101.7 209.9h0M101.7 211.0h0M101.8 212.5h0M101.8 207.9h0M101.9 210.1h0M101.9 209.3h0M101.9 208.2h0M102.0 210.3h0M102.1 208.1h0M102.1 212.5h0M102.1 208.2h0M102.2 209.3h0M102.3 208.3h0M102.3 210.8h0M102.3 209.4h0M102.4 210.3h0M102.5 208.5h0M102.5 210.2h0M102.5 211.0h0M102.6 210.0h0M102.6 207.4h0M102.7 208.4h0M102.7 207.3h0M102.7 209.6h0M102.8 210.5h0M102.8 208.7h0M102.9 210.9h0M103.0 205.8h0M103.0 208.0h0M103.0 211.3h0M103.1 208.8h0M103.2 210.7h0M103.2 209.1h0M103.3 207.3h0M103.3 210.7h0M103.4 209.1h0M103.4 210.6h0M103.5 208.7h0M103.5 205.7h0M103.6 210.0h0M103.6 208.3h0M103.7 209.4h0M103.9 206.9h0M103.9 208.4h0M103.9 206.1h0M104.0 209.3h0M104.0 210.5h0M104.0 208.7h0M104.1 204.9h0M104.1 209.3h0M104.2 206.5h0M104.2 208.1h0M104.3 206.1h0M104.3 208.2h0M104.4 204.7h0M104.4 206.3h0M104.5 207.4h0M104.5 206.4h0M104.5 205.5h0M104.6 207.9h0M104.6 206.9h0M104.6 207.9h0M104.7 207.1h0M104.8 209.1h0M104.8 206.4h0M104.8 207.3h0M104.9 205.2h0M104.9 207.9h0M104.9 206.7h0M105.0 204.5h0M105.0 206.0h0M105.1 203.8h0M105.1 204.7h0M105.1 207.1h0M105.2 206.0h0M105.3 204.8h0M105.3 205.8h0M105.3 207.0h0M105.4 204.8h0M105.4 205.8h0M105.5 204.9h0M105.5 207.4h0M105.6 205.3h0M105.6 204.4h0M105.6 206.0h0M105.7 206.9h0M105.7 203.9h0M105.8 205.0h0M105.9 206.3h0M106.0 204.8h0M106.0 204.0h0M106.0 205.1h0M106.1 204.0h0M106.2 202.2h0M106.2 204.6h0M106.2 205.8h0M106.3 204.8h0M106.3 203.0h0M106.4 201.8h0M106.4 205.2h0M106.4 203.3h0M106.6 204.3h0M106.6 201.5h0M106.7 204.4h0M106.7 202.6h0M106.8 204.6h0M106.8 202.2h0M106.9 205.2h0M106.9 203.0h0M107.0 199.5h0M107.0 201.5h0M107.3 203.3h0M107.3 201.2h0M107.4 203.4h0M107.5 202.1h0M107.5 199.3h0M107.6 200.4h0M107.6 198.9h0M107.6 204.1h0M107.7 200.5h0M107.7 198.8h0M107.7 201.4h0M107.8 200.1h0M107.8 201.9h0M107.8 200.1h0M107.9 202.4h0M107.9 198.9h0M108.0 200.2h0M108.1 202.4h0M108.1 198.9h0M108.1 200.8h0M108.2 198.9h0M108.2 201.4h0M108.2 198.2h0M108.3 200.1h0M108.4 201.7h0M108.4 199.7h0M108.5 197.7h0M108.5 199.7h0M108.6 197.4h0M108.6 199.2h0M108.6 200.6h0M108.7 199.0h0M108.7 197.4h0M108.8 201.6h0M108.8 197.0h0M108.9 200.3h0M109.0 196.9h0M109.0 198.6h0M109.1 196.8h0M109.1 199.7h0M109.1 197.2h0M109.2 199.7h0M109.2 198.3h0M109.3 195.4h0M109.3 198.8h0M109.3 196.2h0M109.4 197.6h0M109.4 198.8h0M109.5 195.0h0M109.6 199.4h0M109.6 197.2h0M109.7 195.8h0M109.7 198.9h0M109.8 197.3h0M110.0 195.7h0M110.0 198.2h0M110.1 196.3h0M110.1 192.8h0M110.2 195.2h0M110.2 200.2h0M110.3 198.7h0M110.3 195.2h0M110.4 196.8h0M110.4 194.9h0M110.6 198.2h0M110.6 196.0h0M110.6 194.5h0M110.7 195.8h0M110.7 197.5h0M110.8 198.7h0M110.8 195.9h0M110.8 194.6h0M110.9 196.3h0M110.9 194.6h0M111.0 195.8h0M111.1 194.3h0M111.2 195.1h0M111.2 196.7h0M111.3 194.2h0M111.6 195.5h0M111.6 196.8h0M111.6 193.8h0M111.8 196.2h0M111.8 194.9h0M111.9 193.2h0M111.9 194.6h0M112.0 192.0h0M112.0 192.9h0M112.0 194.5h0M112.1 193.4h0M112.1 194.8h0M112.2 193.2h0M112.2 195.5h0M112.3 191.6h0M112.3 194.8h0M112.4 192.9h0M112.4 196.8h0M112.4 193.4h0M112.5 192.0h0M112.5 193.2h0M112.7 190.6h0M112.7 193.9h0M112.7 193.0h0M112.8 194.4h0M112.8 191.2h0M112.9 195.8h0M112.9 193.5h0M113.0 194.9h0M113.0 193.6h0M113.1 192.7h0M113.1 194.2h0M113.2 191.9h0M113.2 195.7h0M113.2 193.3h0M113.3 190.9h0M113.3 194.3h0M113.3 192.9h0M113.4 193.8h0M113.4 192.1h0M113.5 194.8h0M113.5 192.3h0M113.6 194.8h0M113.6 193.3h0M113.6 191.9h0M113.7 193.7h0M113.7 192.9h0M113.7 189.9h0M113.8 192.7h0M114.1 191.1h0M114.1 192.8h0M114.1 191.8h0M114.2 190.2h0M114.2 195.1h0M114.2 193.2h0M114.3 191.0h0M114.4 193.2h0M114.5 190.6h0M114.5 195.7h0M114.5 194.5h0M114.6 192.8h0M114.7 194.0h0M114.7 191.0h0M114.8 193.9h0M114.9 192.0h0M114.9 193.4h0M115.0 191.6h0M115.0 192.8h0M115.1 194.0h0M115.1 196.2h0M115.1 192.4h0M115.2 194.0h0M115.3 191.4h0M115.3 192.9h0M115.3 191.9h0M115.5 195.0h0M115.5 192.4h0M115.6 193.6h0M115.8 195.4h0M115.9 194.1h0M115.9 192.0h0M116.0 193.3h0M116.0 190.4h0M116.1 194.3h0M116.1 191.5h0M116.2 192.4h0M116.2 191.5h0M116.3 193.1h0M116.3 191.9h0M116.4 189.5h0M116.4 192.6h0M116.4 191.5h0M116.5 190.3h0M116.5 194.1h0M116.5 192.9h0M116.6 194.2h0M116.6 192.7h0M116.6 193.6h0M116.7 191.3h0M116.7 193.3h0M116.8 192.0h0M116.9 194.1h0M116.9 191.6h0M116.9 193.1h0M117.0 194.0h0M117.0 192.3h0M117.1 193.6h0M117.2 196.0h0M117.2 191.4h0M117.3 193.6h0M117.3 191.7h0M117.3 194.6h0M117.4 195.7h0M117.4 194.2h0M117.4 192.5h0M117.5 191.3h0M117.6 194.0h0M117.6 192.5h0M117.7 194.3h0M117.8 191.4h0M117.9 194.3h0M117.9 192.6h0M118.0 195.1h0M118.0 193.0h0M118.1 191.8h0M118.2 193.5h0M118.2 192.0h0M118.3 193.5h0M118.3 190.0h0M118.4 193.7h0M118.4 195.1h0M118.4 192.1h0M118.5 193.2h0M118.6 191.7h0M118.6 190.4h0M118.7 195.9h0M118.7 194.2h0M118.8 192.7h0M118.8 196.0h0M118.8 190.7h0M118.9 192.0h0M118.9 194.1h0M119.0 191.5h0M119.0 193.5h0M119.0 192.7h0M119.1 194.5h0M119.2 193.7h0M119.2 192.0h0M119.3 193.8h0M119.3 192.1h0M119.3 193.8h0M119.5 194.9h0M119.5 195.7h0M119.6 192.5h0M119.7 195.4h0M119.7 193.7h0M119.7 195.1h0M119.8 191.5h0M119.8 192.5h0M119.9 191.4h0M119.9 195.3h0M119.9 193.5h0M120.0 192.6h0M120.2 193.8h0M120.2 191.7h0M120.2 193.9h0M120.3 192.4h0M120.3 194.9h0M120.4 194.0h0M120.4 190.6h0M120.5 193.4h0M120.5 192.5h0M120.5 194.0h0M120.6 192.0h0M120.6 193.3h0M120.6 192.1h0M120.7 194.6h0M120.7 193.5h0M120.8 192.6h0M120.8 194.8h0M120.8 193.4h0M121.0 195.0h0M121.0 193.0h0M121.1 194.3h0M121.1 192.7h0M121.2 194.4h0M121.2 193.0h0M121.2 192.1h0M121.3 195.5h0M121.3 193.2h0M121.3 192.2h0M121.4 195.8h0M121.4 193.6h0M121.5 194.4h0M121.5 193.6h0M121.6 195.4h0M121.6 193.9h0M121.6 195.0h0M121.7 193.1h0M121.7 194.1h0M121.8 192.9h0M121.9 195.0h0M122.0 193.5h0M122.0 192.6h0M122.0 191.7h0M122.1 193.3h0M122.1 195.4h0M122.1 193.4h0M122.2 195.8h0M122.3 194.0h0M122.3 196.8h0M122.4 193.9h0M122.4 194.8h0M122.4 192.4h0M122.5 194.7h0M122.5 196.3h0M122.6 194.5h0M122.6 196.8h0M122.7 198.5h0M122.7 195.7h0M122.9 197.2h0M122.9 193.3h0M123.0 194.3h0M123.0 196.0h0M123.1 194.6h0M123.2 195.6h0M123.3 196.5h0M123.4 193.4h0M123.5 197.3h0M123.6 196.0h0M123.6 198.6h0M123.6 196.9h0M123.7 194.3h0M123.7 197.1h0M123.8 194.8h0M123.8 193.9h0M123.9 196.6h0M124.0 195.2h0M124.0 198.8h0M124.0 196.1h0M124.1 197.1h0M124.1 196.2h0M124.2 199.8h0M124.2 195.4h0M124.3 196.6h0M124.4 194.1h0M124.4 195.9h0M124.6 198.3h0M124.6 196.1h0M124.7 196.9h0M124.7 196.1h0M124.8 199.2h0M124.8 196.8h0M124.9 200.1h0M124.9 197.0h0M125.0 199.4h0M125.0 197.2h0M125.2 198.3h0M125.2 196.9h0M125.3 197.8h0M125.3 200.4h0M125.4 198.8h0M125.5 197.2h0M125.5 198.8h0M125.7 199.6h0M125.8 198.7h0M125.8 199.5h0M125.9 197.6h0M125.9 200.3h0M125.9 198.2h0M126.0 199.8h0M126.0 198.1h0M126.1 200.3h0M126.1 199.0h0M126.1 197.8h0M126.2 200.3h0M126.3 201.4h0M126.4 199.9h0M126.6 198.4h0M126.6 200.0h0M126.7 198.4h0M126.7 204.0h0M126.8 201.2h0M126.8 197.9h0M126.9 199.1h0M127.0 200.0h0M127.0 198.3h0M127.1 202.4h0M127.1 201.4h0M127.1 199.7h0M127.2 201.4h0M127.2 199.3h0M127.3 202.7h0M127.3 200.3h0M127.4 199.1h0M127.4 201.1h0M127.5 199.3h0M127.5 201.0h0M127.5 202.3h0M127.6 198.5h0M127.6 202.7h0M127.6 200.7h0M127.7 201.7h0M127.8 203.3h0M127.8 200.7h0M127.9 202.5h0M127.9 198.6h0M127.9 201.7h0M128.0 203.4h0M128.0 200.8h0M128.1 199.8h0M128.1 201.8h0M128.2 200.7h0M128.2 199.7h0M128.3 202.1h0M128.5 203.2h0M128.5 201.2h0M128.6 203.4h0M128.6 201.6h0M128.9 202.5h0M129.0 204.7h0M129.0 202.7h0M129.1 204.7h0M129.2 205.7h0M129.2 201.1h0M129.3 205.9h0M129.3 202.1h0M129.4 203.7h0M129.4 202.3h0M129.5 203.8h0M129.5 199.5h0M129.6 202.3h0M129.7 204.4h0M129.8 203.3h0M130.0 201.6h0M130.0 205.0h0M130.1 203.6h0M130.1 202.7h0M130.2 204.4h0M130.3 203.4h0M130.3 201.8h0M130.3 205.3h0M130.4 204.0h0M130.5 201.8h0M130.5 203.2h0M130.6 204.7h0M130.6 203.1h0M130.7 201.5h0M130.7 205.6h0M130.8 203.9h0M130.8 202.9h0M130.9 204.1h0M130.9 205.3h0M131.0 204.3h0M131.1 205.5h0M131.2 204.5h0M131.2 206.8h0M131.2 201.5h0M131.3 205.8h0M131.3 204.5h0M131.4 206.4h0M131.5 202.4h0M131.5 204.7h0M131.6 207.1h0M131.6 203.1h0M131.6 204.2h0M131.7 205.2h0M131.7 206.3h0M131.8 202.4h0M131.8 205.0h0M131.8 206.0h0M131.9 207.4h0M132.0 205.7h0M132.1 206.8h0M132.1 205.2h0M132.2 206.5h0M132.2 205.0h0M132.3 206.1h0M132.4 203.4h0M132.5 207.1h0M132.5 208.5h0M132.6 207.6h0M132.6 203.5h0M132.6 202.1h0M132.7 208.8h0M132.7 204.9h0M132.7 206.3h0M132.8 203.5h0M132.8 205.7h0M132.8 207.0h0M132.9 205.0h0M132.9 206.0h0M133.0 208.7h0M133.0 205.9h0M133.1 206.8h0M133.2 205.9h0M133.2 206.7h0M133.2 208.3h0M133.3 206.1h0M133.3 208.5h0M133.3 206.3h0M133.4 204.2h0M133.5 205.4h0M133.6 207.3h0M133.6 205.7h0M133.7 208.4h0M133.7 207.5h0M133.7 204.8h0M133.9 209.7h0M133.9 208.1h0M134.0 209.4h0M134.0 206.2h0M134.1 207.8h0M134.2 208.8h0M134.3 206.0h0M134.3 207.4h0M134.4 209.7h0M134.4 208.1h0M134.5 206.7h0M134.5 208.2h0M134.6 207.0h0M134.7 207.9h0M134.7 206.7h0M134.8 205.6h0M134.8 206.9h0M134.9 209.5h0M134.9 205.6h0M134.9 209.6h0M135.0 204.6h0M135.0 207.1h0M135.1 204.8h0M135.1 207.5h0M135.2 210.7h0M135.2 207.7h0M135.3 206.8h0M135.3 204.3h0M135.4 206.5h0M135.5 208.7h0M135.6 210.2h0M135.6 208.1h0M135.7 206.7h0M135.8 207.8h0M135.8 209.6h0M135.8 207.5h0M135.9 206.6h0M135.9 209.3h0M135.9 206.7h0M136.0 208.8h0M136.0 206.0h0M136.1 208.0h0M136.1 206.7h0M136.2 207.5h0M136.2 205.3h0M136.3 206.9h0M136.4 210.2h0M136.4 208.4h0M136.5 205.6h0M136.5 206.5h0M136.6 208.5h0M136.7 207.6h0M136.8 209.0h0M136.8 207.1h0M136.9 208.3h0M136.9 205.7h0M136.9 206.7h0M137.0 208.0h0M137.0 211.0h0M137.1 206.9h0M137.1 209.3h0M137.3 208.3h0M137.3 209.8h0M137.5 207.5h0M137.6 209.3h0M137.6 208.1h0M137.7 211.5h0M137.7 206.9h0M137.8 211.0h0M137.8 208.6h0M137.8 207.7h0M137.9 208.6h0M137.9 207.5h0M137.9 208.6h0M138.0 207.4h0M138.1 209.1h0M138.2 208.0h0M138.3 207.0h0M138.3 208.8h0M138.4 207.2h0M138.5 208.6h0M138.6 207.1h0M138.6 208.0h0M138.7 209.1h0M138.8 206.3h0M138.8 208.4h0M138.8 209.8h0M138.9 207.1h0M139.0 208.7h0M139.0 207.7h0M139.1 210.4h0M139.1 207.5h0M139.2 209.7h0M139.2 205.4h0M139.2 206.7h0M139.3 208.9h0M139.5 205.8h0M139.5 207.5h0M139.6 208.3h0M139.6 206.4h0M139.6 208.6h0M139.7 203.7h0M139.7 209.1h0M139.7 205.6h0M139.8 209.6h0M139.9 208.5h0M139.9 206.0h0M139.9 208.6h0M140.0 207.3h0M140.0 211.3h0M140.0 210.3h0M140.1 208.0h0M140.1 206.6h0M140.2 208.1h0M140.2 206.8h0M140.2 208.2h0M140.3 209.6h0M140.3 206.3h0M140.4 209.9h0M140.4 207.6h0M140.5 209.0h0M140.6 206.9h0M140.6 210.0h0M140.7 208.6h0M140.7 210.3h0M140.7 208.1h0M140.8 206.1h0M140.9 208.9h0M140.9 209.9h0M140.9 208.9h0M141.0 206.3h0M141.0 207.5h0M141.0 205.2h0M141.1 208.6h0M141.1 205.6h0M141.2 208.7h0M141.3 207.6h0M141.5 208.9h0M141.5 206.9h0M141.6 206.0h0M141.6 208.9h0M141.8 210.2h0M141.8 208.2h0M141.8 204.9h0M141.9 208.3h0M142.0 207.4h0M142.1 209.4h0M142.2 206.4h0M142.2 208.6h0M142.3 207.2h0M142.4 205.7h0M142.4 208.6h0M142.5 204.2h0M142.5 206.6h0M142.6 208.8h0M142.6 206.7h0M142.7 208.0h0M142.7 209.4h0M142.8 204.3h0M142.8 207.2h0M142.8 209.0h0M142.9 207.5h0M142.9 209.0h0M143.0 207.1h0M143.2 208.5h0M143.2 206.6h0M143.3 209.5h0M143.3 207.4h0M143.4 208.9h0M143.4 209.7h0M143.5 208.9h0M143.6 207.8h0M143.7 209.1h0M143.8 207.8h0M143.8 206.6h0M143.9 210.3h0M143.9 207.4h0M144.1 205.9h0M144.2 207.4h0M144.2 209.3h0M144.2 205.9h0M144.3 207.6h0M144.3 206.5h0M144.3 208.2h0M144.4 206.7h0M144.4 205.6h0M144.4 207.0h0M144.5 208.1h0M144.5 206.5h0M144.6 207.7h0M144.6 209.6h0M144.6 206.5h0M144.7 209.2h0M144.7 205.6h0M144.8 207.9h0M144.9 206.7h0M145.0 208.8h0M145.0 207.2h0M145.0 210.6h0M145.1 206.7h0M145.1 209.7h0M145.2 207.1h0M145.2 208.3h0M145.3 205.8h0M145.3 210.2h0M145.4 207.8h0M145.6 209.0h0M145.6 207.9h0M145.7 206.5h0M145.8 208.6h0M145.8 206.7h0M145.9 207.7h0M145.9 205.4h0M146.0 206.6h0M146.0 209.1h0M146.0 207.1h0M146.1 205.2h0M146.1 207.7h0M146.2 206.0h0M146.3 208.9h0M146.4 208.0h0M146.4 206.8h0M146.5 208.3h0M146.5 205.1h0M146.5 206.5h0M146.6 208.2h0M146.7 207.4h0M146.7 210.1h0M146.7 206.5h0M146.8 209.7h0M146.9 208.2h0M147.0 209.4h0M147.0 208.1h0M147.1 209.1h0M147.1 207.0h0M147.2 209.7h0M147.2 206.9h0M147.3 209.2h0M147.4 207.9h0M147.4 206.0h0M147.4 207.0h0M147.5 205.8h0M147.5 204.1h0M147.5 208.2h0M147.6 207.1h0M147.6 209.6h0M147.7 205.7h0M147.7 207.5h0M147.8 206.6h0M147.8 207.5h0M147.8 206.6h0M147.9 209.5h0M147.9 204.8h0M147.9 207.7h0M148.0 204.9h0M148.0 206.6h0M148.2 203.9h0M148.2 206.9h0M148.2 208.1h0M148.3 206.5h0M148.3 207.9h0M148.3 206.5h0M148.4 205.7h0M148.6 207.8h0M148.6 206.7h0M148.7 202.5h0M148.7 204.7h0M148.8 205.6h0M148.8 207.6h0M148.8 205.9h0M148.9 203.6h0M148.9 206.0h0M148.9 207.0h0M149.0 204.9h0M149.0 207.0h0M149.0 205.6h0M149.1 206.8h0M149.2 203.7h0M149.2 208.5h0M149.2 204.8h0M149.3 205.6h0M149.4 203.9h0M149.4 205.6h0M149.4 210.9h0M149.5 205.5h0M149.5 206.4h0M149.6 205.3h0M149.6 207.0h0M149.7 205.9h0M149.8 204.1h0M149.8 205.9h0M149.9 206.8h0M149.9 206.0h0M150.0 204.5h0M150.0 206.4h0M150.1 205.1h0M150.1 206.3h0M150.2 205.4h0M150.3 206.6h0M150.4 208.2h0M150.4 207.2h0M150.5 203.9h0M150.5 206.0h0M150.6 203.8h0M150.6 206.3h0M150.6 204.6h0M150.7 206.2h0M150.8 205.1h0M150.8 203.5h0" stroke="#ff7f0e" stroke-width="3.0" stroke-linecap="round" fill="none"/><polyline points="61.0,172.6 61.4,177.0 62.3,218.5 62.7,225.5 63.3,224.4 63.5,221.8 64.8,186.5 65.1,181.8 65.4,180.4 66.1,181.3 66.5,183.4 68.2,213.6 68.6,217.5 69.1,218.6 70.1,217.9 70.6,216.2 73.1,190.5 73.6,187.3 73.9,186.5 74.3,186.3 75.7,186.9 76.4,188.5 79.8,209.7 80.5,212.6 81.4,213.6 83.4,213.1 84.5,211.8 89.2,193.7 90.3,191.3 90.8,190.7 91.5,190.5 94.4,190.9 95.8,192.1 96.9,194.4 102.1,206.9 103.5,209.1 104.9,210.0 106.1,210.1 109.2,209.8 110.4,209.4 111.3,208.8 113.0,207.0 118.0,199.4 120.7,195.8 122.7,194.1 125.0,193.5 130.7,193.8 133.5,194.7 135.7,196.3 142.0,202.1 145.7,205.2 148.3,206.7 150.8,207.4" stroke="#000" stroke-width="0.8" stroke-dasharray="2.4,1.4" fill="none" stroke-linejoin="round"/><polyline points="61.0,201.1 61.4,222.9 61.7,227.7 62.1,226.5 62.4,223.5 63.4,184.8 63.9,178.6 64.5,179.5 64.9,182.1 66.3,214.3 66.7,218.6 67.1,220.1 67.9,219.4 68.4,217.4 70.4,189.9 70.9,186.2 71.4,185.0 72.7,185.7 73.2,187.3 76.2,210.6 76.8,213.7 77.5,214.7 79.2,214.2 80.1,212.8 84.1,193.1 85.0,190.4 85.5,189.8 86.0,189.6 88.4,190.0 89.6,191.3 90.6,193.7 95.2,207.7 96.3,209.9 97.6,210.8 101.2,210.5 102.1,210.1 102.9,209.4 104.2,207.5 108.4,199.4 110.7,195.4 112.4,193.5 114.2,192.9 119.2,193.2 120.5,193.5 121.6,194.2 123.5,195.9 131.5,205.1 133.5,206.8 135.3,207.7 138.2,208.1 145.1,207.7 147.9,206.8 150.8,205.1" stroke="#000" stroke-width="0.8" stroke-dasharray="2.4,1.4" fill="none" stroke-linejoin="round"/></g>
<rect x="56.5" y="165.5" width="98.8" height="71.2" fill="none" stroke="#000" stroke-width="1.3"/>
<line x1="61.0" y1="236.7" x2="61.0" y2="239.3" stroke="#000" stroke-width="0.6"/>
<text x="61.0" y="253.0" text-anchor="middle" font-size="14.5" >0</text>
<line x1="132.8" y1="236.7" x2="132.8" y2="239.3" stroke="#000" stroke-width="0.6"/>
<text x="132.8" y="253.0" text-anchor="middle" font-size="14.5" >20</text>
<text x="105.9" y="270.4" text-anchor="middle" font-size="14.5" >time</text>
<text x="105.9" y="155.7" text-anchor="middle" font-size="14.5" >noisy data</text>
<line x1="53.9" y1="165.5" x2="56.5" y2="165.5" stroke="#000" stroke-width="0.6"/>
<text x="50.7" y="169.4" text-anchor="end" font-size="14.5" >2.5</text>
<line x1="53.9" y1="201.1" x2="56.5" y2="201.1" stroke="#000" stroke-width="0.6"/>
<text x="50.7" y="205.0" text-anchor="end" font-size="14.5" >0</text>
<line x1="53.9" y1="236.7" x2="56.5" y2="236.7" stroke="#000" stroke-width="0.6"/>
<text x="50.7" y="240.6" text-anchor="end" font-size="14.5" >−2.5</text>
<text transform="translate(13.0,201.1) rotate(-90)" text-anchor="middle" font-size="15.5">{<tspan font-style="italic">x</tspan><tspan font-size="10.5" dy="3.2">1</tspan><tspan dy="-3.2">, </tspan><tspan font-style="italic">x</tspan><tspan font-size="10.5" dy="3.2">2</tspan><tspan dy="-3.2">}</tspan></text>
<g clip-path="url(#c11)"><polyline points="219.8,165.5 220.2,170.9 221.1,222.9 221.5,231.6 222.1,230.3 222.3,226.9 223.6,182.9 223.9,177.0 224.2,175.2 224.9,176.3 225.3,178.9 227.0,216.8 227.4,221.6 227.9,223.0 228.9,222.1 229.4,219.9 231.9,187.8 232.4,183.8 232.7,182.9 233.1,182.6 234.5,183.4 235.2,185.4 238.6,211.9 239.3,215.5 239.7,216.4 240.2,216.8 242.2,216.1 243.3,214.5 248.0,191.8 249.1,188.8 249.6,188.1 250.3,187.8 253.2,188.4 253.9,189.0 254.6,189.9 255.7,192.7 260.9,208.3 262.3,211.0 263.7,212.2 264.9,212.3 268.0,211.9 269.2,211.5 270.1,210.8 271.8,208.4 276.8,199.0 279.5,194.5 281.5,192.3 282.6,191.8 283.8,191.6 289.5,192.0 291.0,192.4 292.3,193.1 294.5,195.1 300.8,202.3 304.5,206.2 307.1,208.1 309.6,209.0" stroke="#1f77b4" stroke-width="2.1" fill="none" stroke-linejoin="round"/><polyline points="219.8,201.1 220.2,228.3 220.5,234.3 220.9,232.8 221.2,229.1 222.2,180.7 222.7,173.0 223.3,174.2 223.7,177.4 225.1,217.6 225.5,223.0 225.9,224.9 226.7,223.9 227.2,221.4 229.2,187.1 229.7,182.5 230.2,181.0 231.5,181.8 232.0,183.9 235.0,213.0 235.6,216.9 235.9,217.8 236.3,218.1 238.0,217.4 238.9,215.7 242.9,191.0 243.8,187.8 244.3,187.0 244.8,186.7 247.2,187.3 247.9,187.8 248.4,188.8 249.4,191.8 254.0,209.3 255.1,212.1 255.7,212.9 256.4,213.2 257.4,213.3 260.0,212.8 260.9,212.4 261.7,211.5 263.0,209.0 267.2,198.9 269.5,194.0 271.2,191.7 272.0,191.1 273.0,190.8 278.0,191.2 279.3,191.6 280.4,192.4 282.3,194.6 290.3,206.1 292.3,208.2 294.1,209.4 295.4,209.7 297.0,209.9 303.9,209.3 306.7,208.3 309.6,206.1" stroke="#ff7f0e" stroke-width="2.1" fill="none" stroke-linejoin="round"/><polyline points="219.8,165.5 220.2,170.9 221.1,222.9 221.5,231.6 222.1,230.3 222.3,226.9 223.6,182.9 223.9,177.0 224.2,175.2 224.9,176.3 225.3,178.9 227.0,216.8 227.4,221.6 227.9,223.0 228.9,222.1 229.4,219.9 231.9,187.8 232.4,183.8 232.7,182.9 233.1,182.6 234.5,183.4 235.2,185.4 238.6,211.9 239.3,215.5 239.7,216.4 240.2,216.8 242.2,216.1 243.3,214.5 248.0,191.8 249.1,188.8 249.6,188.1 250.3,187.8 253.2,188.4 253.9,189.0 254.6,189.9 255.7,192.7 260.9,208.3 262.3,211.0 263.7,212.2 264.9,212.3 268.0,211.9 269.2,211.5 270.1,210.8 271.8,208.4 276.8,199.0 279.5,194.5 281.5,192.3 282.6,191.8 283.8,191.6 289.5,192.0 291.0,192.4 292.3,193.1 294.5,195.1 300.8,202.3 304.5,206.2 307.1,208.1 309.6,209.0" stroke="#000" stroke-width="0.8" stroke-dasharray="2.4,1.4" fill="none" stroke-linejoin="round"/><polyline points="219.8,201.1 220.2,228.3 220.5,234.3 220.9,232.8 221.2,229.1 222.2,180.7 222.7,173.0 223.3,174.2 223.7,177.4 225.1,217.6 225.5,223.0 225.9,224.9 226.7,223.9 227.2,221.4 229.2,187.1 229.7,182.5 230.2,181.0 231.5,181.8 232.0,183.9 235.0,213.0 235.6,216.9 235.9,217.8 236.3,218.1 238.0,217.4 238.9,215.7 242.9,191.0 243.8,187.8 244.3,187.0 244.8,186.7 247.2,187.3 247.9,187.8 248.4,188.8 249.4,191.8 254.0,209.3 255.1,212.1 255.7,212.9 256.4,213.2 257.4,213.3 260.0,212.8 260.9,212.4 261.7,211.5 263.0,209.0 267.2,198.9 269.5,194.0 271.2,191.7 272.0,191.1 273.0,190.8 278.0,191.2 279.3,191.6 280.4,192.4 282.3,194.6 290.3,206.1 292.3,208.2 294.1,209.4 295.4,209.7 297.0,209.9 303.9,209.3 306.7,208.3 309.6,206.1" stroke="#000" stroke-width="0.8" stroke-dasharray="2.4,1.4" fill="none" stroke-linejoin="round"/></g>
<rect x="215.3" y="165.5" width="98.8" height="71.2" fill="none" stroke="#000" stroke-width="1.3"/>
<line x1="219.8" y1="236.7" x2="219.8" y2="239.3" stroke="#000" stroke-width="0.6"/>
<text x="219.8" y="253.0" text-anchor="middle" font-size="14.5" >0</text>
<line x1="291.6" y1="236.7" x2="291.6" y2="239.3" stroke="#000" stroke-width="0.6"/>
<text x="291.6" y="253.0" text-anchor="middle" font-size="14.5" >20</text>
<text x="264.7" y="270.4" text-anchor="middle" font-size="14.5" >time</text>
<text x="264.7" y="155.7" text-anchor="middle" font-size="14.5" >denoised data</text>
<line x1="212.7" y1="165.5" x2="215.3" y2="165.5" stroke="#000" stroke-width="0.6"/>
<text x="209.5" y="169.4" text-anchor="end" font-size="14.5" >2</text>
<line x1="212.7" y1="201.1" x2="215.3" y2="201.1" stroke="#000" stroke-width="0.6"/>
<text x="209.5" y="205.0" text-anchor="end" font-size="14.5" >0</text>
<line x1="212.7" y1="236.7" x2="215.3" y2="236.7" stroke="#000" stroke-width="0.6"/>
<text x="209.5" y="240.6" text-anchor="end" font-size="14.5" >−2</text>
<text transform="translate(183.1,201.1) rotate(-90)" text-anchor="middle" font-size="15.5">{<tspan font-style="italic">x</tspan><tspan font-size="10.5" dy="3.2">1</tspan><tspan dy="-3.2">, </tspan><tspan font-style="italic">x</tspan><tspan font-size="10.5" dy="3.2">2</tspan><tspan dy="-3.2">}</tspan></text>
<g clip-path="url(#c12)"><polyline points="379.0,184.4 379.3,199.8 379.3,221.6 379.5,188.9 379.7,186.5 379.9,215.1 380.0,188.8 380.1,185.8 380.7,181.8 381.1,189.4 381.2,211.4 381.3,194.7 381.6,187.7 381.9,193.7 382.0,210.6 382.1,194.9 382.4,189.4 382.7,204.8 382.9,191.9 383.1,192.5 383.3,221.0 383.4,200.5 383.5,199.3 383.7,210.5 384.0,189.8 384.1,188.9 384.7,192.6 385.2,189.0 385.4,189.2 385.7,209.0 386.0,195.5 386.1,200.1 386.4,237.7 386.8,195.6 387.3,189.3 387.6,194.2 387.7,206.3 387.9,192.1 388.2,188.2 388.8,195.7 389.3,192.8 389.9,195.1 390.5,191.3 390.6,191.7 390.9,197.3 391.0,210.0 391.3,192.4 391.8,187.8 392.0,186.6 392.1,186.5 392.2,186.6 393.3,196.7 393.5,219.2 393.8,198.1 394.6,193.0 395.1,192.2 395.4,192.5 396.2,200.6 396.4,219.5 396.7,201.7 397.4,196.7 397.7,197.2 398.2,205.8 398.4,224.2 398.6,206.6 398.7,205.0 398.9,218.3 399.2,197.3 399.5,192.3 399.9,189.3 400.1,189.2 400.2,189.5 400.4,190.9 400.9,198.8 401.3,221.9 401.5,206.4 401.7,205.7 401.8,206.8 402.7,194.1 403.9,187.5 404.1,186.8 404.3,186.7 405.0,190.5 406.2,200.7 406.5,224.8 406.6,209.6 406.9,207.6 407.4,198.8 407.8,197.8 408.3,198.8 408.5,198.6 409.3,190.6 409.6,190.5 410.1,191.5 410.8,191.1 411.3,195.0 412.0,207.7 412.2,228.0 412.6,199.9 412.9,197.7 413.4,202.8 414.3,192.0 414.5,191.8 415.0,193.0 415.6,191.0 416.5,190.9 417.2,191.8 417.6,193.1 418.9,205.6 419.0,206.3 419.4,205.9 419.6,206.8 419.8,221.5 420.0,206.0 420.4,198.5 420.6,197.9 421.1,197.9 421.6,196.2 422.3,197.4 423.3,192.6 424.4,191.1 424.7,191.1 425.0,191.4 425.8,193.1 426.2,197.4 426.6,220.6 426.9,204.9 427.0,206.0 427.2,231.5 427.3,212.1 427.6,203.4 427.9,202.4 428.3,205.9 428.5,220.5 428.9,202.6 430.0,198.2 431.1,192.4 432.5,190.6 433.2,191.3 433.9,190.1 434.2,190.3 435.2,192.1 436.2,198.5 436.8,199.9 437.2,206.7 437.3,224.5 437.4,207.5 437.7,201.1 437.8,200.9 438.1,202.9 438.8,213.6 439.5,200.3 440.7,194.0 441.1,192.9 441.8,192.6 442.7,193.8 443.6,190.9 443.8,190.8 444.5,191.2 445.4,192.4 446.4,195.7 447.2,202.0 447.8,199.6 448.3,202.0 449.0,214.6 449.2,237.7 449.3,216.2 449.6,210.0 449.7,210.3 450.0,220.5 450.2,247.8 450.2,221.0 450.5,205.0 450.8,200.3 451.0,199.9 451.3,200.2 451.4,199.9 452.0,196.9 452.2,196.7 452.7,197.7 453.4,195.4 454.0,195.3 454.2,194.9 455.2,190.8 455.8,191.0 456.5,190.6 457.1,190.8 457.9,190.0 458.6,192.3 459.5,193.6 460.3,197.5 461.7,202.5 462.0,209.2 462.2,224.4 462.3,211.6 462.6,206.2 462.8,205.9 463.3,209.9 463.7,209.3 464.1,209.3 464.4,210.1 464.9,223.9 465.4,207.7 466.0,199.4 466.8,196.8 467.7,192.3 468.5,194.7 468.8,194.0" stroke="#1f77b4" stroke-width="1.9" fill="none" stroke-linejoin="round"/><polyline points="379.0,188.1 379.1,187.0 379.3,203.0 379.5,187.9 379.6,186.2 379.7,186.4 379.9,185.5 380.5,207.3 380.6,201.1 380.7,201.4 380.8,216.6 380.9,193.3 381.1,185.9 381.7,190.2 381.9,188.5 382.0,188.7 382.3,192.0 382.9,186.8 383.1,188.0 383.4,214.6 383.7,192.8 384.2,186.5 384.4,186.6 384.6,187.4 385.0,190.6 385.2,205.9 385.4,191.8 385.7,187.2 385.8,187.4 386.1,195.6 386.2,215.7 386.3,192.3 386.5,186.7 386.8,184.4 387.5,186.1 388.0,191.3 388.4,214.7 388.7,194.2 388.9,192.0 389.3,191.0 389.7,187.5 389.8,187.1 389.9,187.2 390.6,196.1 391.0,217.3 391.4,203.4 391.7,217.8 391.8,206.8 391.9,205.7 392.0,216.1 392.4,198.9 392.6,217.6 392.8,198.4 393.3,190.8 393.9,188.8 394.1,188.9 394.7,190.1 395.2,189.6 395.6,195.1 395.7,210.7 395.9,194.2 396.2,189.9 396.6,188.5 397.2,194.2 397.6,209.2 397.9,197.3 398.2,194.6 398.5,196.8 398.9,205.8 399.1,220.7 399.5,197.2 399.8,194.5 400.3,192.6 401.2,186.8 401.5,186.9 401.8,187.8 402.5,192.6 403.2,191.2 403.7,194.2 404.1,202.7 404.2,220.6 404.3,203.3 404.7,193.8 405.0,191.6 405.6,191.9 406.7,189.8 408.3,202.6 408.6,224.7 408.8,212.1 408.9,214.1 409.0,228.2 409.1,210.9 409.2,210.2 409.4,224.0 409.7,203.3 410.1,194.9 410.6,191.5 410.9,191.5 411.0,192.1 411.6,195.8 412.1,194.7 412.5,194.8 412.9,194.2 413.3,195.1 413.8,205.0 413.9,223.4 414.1,209.6 414.4,205.0 414.7,208.9 414.8,223.8 415.1,210.5 415.1,211.3 415.3,223.8 415.6,209.6 415.9,226.1 416.0,212.7 416.2,222.8 416.5,198.3 416.9,193.6 417.6,191.2 418.4,190.6 419.3,191.2 419.9,191.2 420.3,191.9 420.6,193.5 421.3,205.5 421.6,222.9 421.7,207.0 422.1,200.9 422.3,201.3 422.7,207.7 422.8,223.6 423.1,204.0 423.2,202.8 423.5,207.6 423.6,222.7 423.8,203.2 424.5,194.5 424.8,193.7 425.4,193.6 426.0,191.5 426.4,191.0 427.7,191.5 428.6,194.8 429.1,194.3 429.3,194.5 429.9,199.3 430.5,209.2 431.1,203.1 431.3,204.1 431.6,225.3 431.7,208.5 432.0,201.6 432.5,199.7 433.3,198.4 434.0,201.6 434.9,192.9 435.9,190.4 436.2,190.2 436.7,190.4 437.6,193.4 438.1,192.4 438.3,192.6 439.0,196.3 439.5,195.2 439.7,195.2 440.2,197.6 440.8,198.4 441.1,199.7 441.7,211.5 441.8,212.2 442.0,211.9 442.1,212.2 442.2,214.4 442.4,236.5 442.6,216.5 442.7,217.2 442.9,246.5 442.9,223.5 443.0,222.0 443.1,230.3 443.3,211.4 443.6,201.2 444.1,196.8 446.0,192.2 446.5,192.2 447.0,191.6 448.1,191.0 448.4,191.1 449.4,193.2 450.1,194.1 450.8,196.2 451.5,196.8 452.4,201.2 453.0,198.9 453.2,198.8 454.1,209.7 454.7,203.6 455.1,211.8 455.2,233.7 455.3,212.1 456.1,200.2 456.4,198.7 456.9,199.1 457.1,198.8 458.4,193.6 459.8,191.2 460.5,192.0 461.1,191.3 461.4,191.3 462.2,192.4 462.8,192.4 463.6,193.7 464.3,194.0 465.3,198.6 465.5,198.8 466.0,197.9 466.2,198.2 467.2,202.3 467.8,207.1 468.2,205.3 468.3,205.7 468.8,215.8" stroke="#ff7f0e" stroke-width="1.9" fill="none" stroke-linejoin="round"/></g>
<rect x="374.5" y="165.5" width="98.8" height="71.2" fill="none" stroke="#000" stroke-width="1.3"/>
<line x1="379.0" y1="236.7" x2="379.0" y2="239.3" stroke="#000" stroke-width="0.6"/>
<text x="379.0" y="253.0" text-anchor="middle" font-size="14.5" >0</text>
<line x1="450.8" y1="236.7" x2="450.8" y2="239.3" stroke="#000" stroke-width="0.6"/>
<text x="450.8" y="253.0" text-anchor="middle" font-size="14.5" >20</text>
<text x="423.9" y="270.4" text-anchor="middle" font-size="14.5" >time</text>
<text x="423.9" y="155.7" text-anchor="middle" font-size="14.5" >denoising quality</text>
<line x1="371.9" y1="179.4" x2="374.5" y2="179.4" stroke="#000" stroke-width="0.6"/>
<text x="369.3" y="186.4" text-anchor="end" font-size="14.5">10<tspan font-size="10.5" dx="-0.6" dy="-4.1">−1</tspan></text>
<line x1="371.9" y1="236.7" x2="374.5" y2="236.7" stroke="#000" stroke-width="0.6"/>
<text x="369.3" y="243.7" text-anchor="end" font-size="14.5">10<tspan font-size="10.5" dx="-0.6" dy="-4.1">−5</tspan></text>
<text transform="translate(338.0,201.1) rotate(-90)" text-anchor="middle" font-size="14.5">abs. error</text>
<g clip-path="url(#c13)"><polyline points="537.8,198.0 538.1,207.3 538.1,220.7 538.2,203.7 538.7,188.4 538.7,205.3 538.9,195.0 539.1,196.4 539.5,195.8 539.6,195.9 539.8,197.6 540.0,214.0 540.1,202.4 540.5,198.2 540.7,200.8 540.8,208.8 541.0,183.2 541.5,207.6 541.7,200.9 542.0,205.1 542.1,219.5 542.2,206.7 542.3,206.0 542.5,213.0 542.7,200.4 542.9,199.4 543.4,200.7 544.1,193.2 544.3,179.0 544.5,206.2 544.7,199.9 545.0,206.9 545.2,228.5 545.3,211.5 545.6,201.9 546.1,199.2 546.4,202.1 546.5,209.6 546.8,198.6 547.0,198.3 547.6,202.1 548.6,195.7 548.8,184.7 549.0,192.6 549.6,200.5 549.8,209.7 550.0,200.0 550.3,198.3 550.9,196.7 551.3,197.8 552.1,203.0 552.3,216.9 552.6,203.8 553.6,199.4 555.0,195.7 555.2,184.8 555.2,201.1 555.4,198.2 556.3,200.1 556.8,203.6 557.2,219.1 557.4,208.3 557.5,207.4 557.7,215.8 558.0,202.8 558.3,199.3 558.8,197.8 559.3,199.3 559.7,204.2 560.1,218.0 560.3,208.7 560.4,207.9 560.6,208.4 560.7,208.2 561.4,200.2 562.9,192.6 563.7,189.6 564.1,180.0 564.3,192.4 565.1,203.9 565.3,216.2 565.5,206.8 565.5,206.6 565.7,207.0 566.3,202.0 566.6,201.8 567.2,202.9 567.9,198.7 568.3,197.9 568.9,198.6 569.4,198.3 569.6,198.4 570.1,201.0 570.9,209.8 571.0,221.1 571.1,209.0 571.5,202.9 571.7,202.1 572.2,205.1 573.1,198.0 573.3,197.5 573.7,197.7 573.9,197.5 575.9,190.5 576.2,186.4 576.4,178.1 576.8,191.8 577.6,202.2 578.4,205.2 578.6,214.5 578.8,205.1 579.1,201.0 579.4,200.7 579.9,201.1 580.4,200.4 581.1,201.4 582.1,198.7 583.0,197.8 583.5,197.7 584.2,198.1 584.5,198.7 585.0,201.2 585.4,215.9 585.7,206.2 585.8,206.8 586.0,222.7 586.1,210.6 586.4,205.2 586.8,204.5 587.2,207.3 587.3,215.6 587.4,208.0 587.8,204.0 588.8,201.2 589.8,196.9 591.3,193.8 592.0,192.8 593.1,187.8 593.5,183.6 593.6,175.0 594.1,188.5 594.9,195.6 595.7,199.0 595.9,201.1 596.1,214.9 596.2,204.4 596.5,200.8 596.9,202.4 597.6,209.7 598.3,201.9 599.5,198.5 599.9,198.0 600.6,197.9 601.5,198.7 602.4,197.0 603.2,197.0 604.2,197.8 605.2,199.9 606.0,203.8 606.6,202.3 607.0,203.5 607.8,211.5 608.0,225.8 608.1,212.4 608.4,208.5 608.5,208.7 608.8,215.0 609.0,231.9 609.1,212.9 609.5,202.9 609.8,202.1 610.2,201.9 610.8,199.7 611.0,199.6 611.5,200.0 612.2,198.2 612.9,197.5 613.9,194.0 614.7,193.1 615.8,191.1 617.0,187.2 617.5,182.5 617.7,172.2 618.0,185.4 619.0,193.6 620.6,200.8 621.0,213.9 621.1,205.4 621.5,203.0 622.1,206.1 622.5,205.9 622.9,206.1 623.2,206.8 623.7,215.7 624.2,205.9 624.8,201.0 625.1,200.2 625.6,199.5 626.4,197.0 626.7,197.2 627.2,198.5 627.6,198.1" stroke="#1f77b4" stroke-width="1.9" fill="none" stroke-linejoin="round"/><polyline points="537.8,147.7 537.8,190.0 538.1,208.0 538.3,199.5 538.3,198.8 538.5,198.9 538.7,198.3 539.3,210.2 539.5,205.0 539.6,213.3 539.8,171.0 539.8,190.4 540.4,200.1 540.5,200.5 540.8,199.7 541.1,201.7 541.8,197.8 542.1,201.0 542.2,211.6 542.5,183.8 542.6,192.1 543.8,200.3 544.0,209.8 544.2,201.0 544.5,198.0 544.8,199.3 545.0,215.5 545.1,199.7 546.2,189.3 546.4,174.4 546.4,186.8 547.1,202.5 547.2,212.9 547.4,201.5 547.6,200.3 548.1,199.9 548.7,197.4 549.0,198.6 549.3,202.3 549.8,215.9 550.2,206.7 550.4,215.1 550.7,207.0 550.8,213.0 551.2,200.2 551.4,209.4 551.7,183.3 552.1,193.4 553.3,197.9 553.5,198.3 554.0,198.3 554.2,199.5 554.5,211.5 554.7,201.2 555.0,198.5 555.4,197.6 555.7,198.5 555.9,200.6 556.4,210.3 556.7,202.7 557.0,200.7 557.3,201.9 557.7,206.4 557.9,215.3 558.2,201.7 559.1,189.2 559.2,171.5 559.5,188.9 561.3,198.7 561.5,199.0 561.8,198.5 562.0,198.6 562.6,200.8 562.9,205.9 563.0,217.0 563.1,206.2 563.5,200.3 563.8,198.9 564.4,199.1 565.5,197.6 567.1,204.5 567.4,217.8 567.6,209.7 567.8,219.3 567.9,208.3 568.0,207.7 568.2,215.7 568.4,202.9 569.6,186.6 569.7,175.0 569.8,185.3 570.1,192.1 570.5,195.6 571.3,197.6 571.9,198.4 572.2,200.5 572.6,206.9 572.7,217.4 572.9,209.0 573.2,206.3 573.5,208.8 573.6,218.1 573.9,210.0 573.9,210.5 574.1,218.3 574.4,209.5 574.4,209.7 574.7,219.8 574.8,211.4 575.0,217.7 575.1,206.8 575.4,201.3 576.0,198.7 576.4,198.0 577.0,197.7 578.9,197.9 579.5,199.6 580.1,206.1 580.4,216.7 580.7,203.6 581.0,202.5 581.4,205.4 581.6,215.8 581.7,206.1 582.1,202.3 582.3,204.7 582.4,213.9 582.7,200.6 584.0,188.3 584.3,177.4 584.4,184.8 584.8,189.1 585.5,192.5 586.6,195.1 587.3,197.8 587.5,198.2 588.0,198.3 588.3,199.1 589.3,208.3 589.9,204.7 590.0,205.1 590.4,218.5 590.5,208.1 590.8,203.9 591.3,202.7 592.1,201.9 592.8,203.8 593.7,198.4 594.7,196.9 595.4,196.8 595.8,197.1 596.4,198.6 596.9,197.9 597.1,198.0 597.8,200.1 598.5,199.2 599.1,200.5 599.7,200.6 599.9,201.4 600.5,208.1 600.6,208.4 600.9,208.1 601.0,209.4 601.2,222.9 601.4,210.2 601.5,210.6 601.7,228.6 601.7,214.2 601.8,213.2 601.9,218.2 602.2,201.5 602.7,196.7 603.8,191.6 604.2,188.4 604.7,174.7 604.9,184.1 605.5,189.5 606.2,191.7 607.1,193.1 609.5,198.6 610.3,199.5 611.2,202.6 611.8,201.3 612.1,201.4 612.9,208.2 613.5,204.4 613.6,204.7 613.9,211.2 614.0,223.2 614.1,209.8 614.9,202.4 615.2,201.5 615.7,201.7 615.9,201.6 617.0,198.5 618.5,196.8 619.3,197.2 620.2,196.7 621.0,197.4 621.7,197.4 622.4,198.1 623.1,198.1 624.1,200.8 624.8,200.2 625.0,200.3 626.0,202.4 626.6,205.1 627.0,203.8 627.1,203.9 627.6,209.9" stroke="#ff7f0e" stroke-width="1.9" fill="none" stroke-linejoin="round"/></g>
<rect x="533.3" y="165.5" width="98.8" height="71.2" fill="none" stroke="#000" stroke-width="1.3"/>
<line x1="537.8" y1="236.7" x2="537.8" y2="239.3" stroke="#000" stroke-width="0.6"/>
<text x="537.8" y="253.0" text-anchor="middle" font-size="14.5" >0</text>
<line x1="609.6" y1="236.7" x2="609.6" y2="239.3" stroke="#000" stroke-width="0.6"/>
<text x="609.6" y="253.0" text-anchor="middle" font-size="14.5" >20</text>
<text x="582.7" y="270.4" text-anchor="middle" font-size="14.5" >time</text>
<text x="582.7" y="155.7" text-anchor="middle" font-size="14.5" >denoising quality</text>
<line x1="530.7" y1="192.2" x2="533.3" y2="192.2" stroke="#000" stroke-width="0.6"/>
<text x="528.1" y="199.2" text-anchor="end" font-size="14.5">10<tspan font-size="10.5" dx="-0.6" dy="-4.1">−1</tspan></text>
<line x1="530.7" y1="236.7" x2="533.3" y2="236.7" stroke="#000" stroke-width="0.6"/>
<text x="528.1" y="243.7" text-anchor="end" font-size="14.5">10<tspan font-size="10.5" dx="-0.6" dy="-4.1">−6</tspan></text>
<text transform="translate(496.8,201.1) rotate(-90)" text-anchor="middle" font-size="14.5">rel. error</text>
<text transform="translate(667.0,210.1) rotate(-90)" text-anchor="middle" font-size="14.5">noise 10%</text>
<g clip-path="url(#c20)"><path d="M61.0 316.3h0M61.0 319.6h0M61.1 317.0h0M61.1 318.8h0M61.2 313.9h0M61.3 317.4h0M61.3 320.7h0M61.4 322.2h0M61.4 315.4h0M61.5 324.1h0M61.5 332.3h0M61.5 327.4h0M61.6 332.1h0M61.6 331.2h0M61.7 327.1h0M61.7 331.9h0M61.7 334.2h0M61.8 343.0h0M61.8 341.8h0M61.9 343.0h0M61.9 344.5h0M61.9 340.3h0M62.0 343.3h0M62.0 350.3h0M62.1 356.1h0M62.1 351.9h0M62.1 362.0h0M62.2 354.8h0M62.2 362.8h0M62.2 355.4h0M62.3 358.5h0M62.3 364.4h0M62.4 365.6h0M62.4 369.2h0M62.5 370.3h0M62.5 366.5h0M62.6 370.4h0M62.6 366.6h0M62.6 370.3h0M62.7 368.8h0M62.8 372.8h0M62.8 366.3h0M62.9 372.9h0M62.9 367.6h0M63.0 370.0h0M63.0 369.0h0M63.0 367.9h0M63.1 362.5h0M63.1 368.0h0M63.1 370.6h0M63.2 365.1h0M63.2 364.3h0M63.3 367.8h0M63.3 364.7h0M63.3 363.1h0M63.4 373.7h0M63.4 364.5h0M63.4 368.0h0M63.5 366.8h0M63.5 365.0h0M63.6 367.1h0M63.6 364.7h0M63.6 366.2h0M63.7 360.8h0M63.7 359.5h0M63.8 361.1h0M63.8 358.8h0M63.8 352.6h0M63.9 359.4h0M63.9 351.2h0M64.0 348.3h0M64.0 355.6h0M64.1 344.3h0M64.1 351.0h0M64.2 342.8h0M64.2 341.7h0M64.2 346.2h0M64.3 341.2h0M64.4 340.1h0M64.4 337.8h0M64.4 342.7h0M64.5 332.4h0M64.5 339.3h0M64.6 337.9h0M64.6 332.0h0M64.7 333.9h0M64.7 332.8h0M64.7 331.1h0M64.8 325.3h0M64.8 327.5h0M64.9 321.2h0M64.9 325.9h0M65.0 323.3h0M65.0 326.7h0M65.1 329.1h0M65.1 327.5h0M65.1 325.9h0M65.2 319.5h0M65.2 320.6h0M65.2 330.9h0M65.3 328.5h0M65.3 324.3h0M65.4 325.5h0M65.4 320.7h0M65.5 323.3h0M65.5 327.3h0M65.6 324.2h0M65.6 321.9h0M65.7 325.0h0M65.7 327.2h0M65.7 318.1h0M65.8 325.3h0M65.8 323.5h0M65.8 326.3h0M65.9 316.9h0M65.9 319.5h0M65.9 326.2h0M66.0 322.3h0M66.0 325.6h0M66.1 322.6h0M66.1 323.6h0M66.2 319.7h0M66.2 328.6h0M66.2 324.4h0M66.3 328.9h0M66.3 323.7h0M66.3 329.3h0M66.4 320.7h0M66.4 325.1h0M66.5 333.3h0M66.5 327.3h0M66.5 332.9h0M66.6 327.9h0M66.6 329.5h0M66.6 334.5h0M66.7 330.9h0M66.7 328.3h0M66.8 335.1h0M66.8 328.9h0M66.8 332.5h0M66.9 336.0h0M66.9 333.4h0M67.0 336.8h0M67.0 336.0h0M67.0 333.4h0M67.1 335.2h0M67.1 342.2h0M67.2 340.5h0M67.2 338.9h0M67.2 340.4h0M67.3 343.6h0M67.4 347.0h0M67.4 346.0h0M67.4 351.9h0M67.5 344.9h0M67.5 343.0h0M67.5 348.9h0M67.6 343.3h0M67.6 346.4h0M67.6 350.7h0M67.7 347.8h0M67.7 349.2h0M67.8 351.6h0M67.8 350.4h0M67.9 352.3h0M67.9 350.1h0M67.9 355.0h0M68.0 353.4h0M68.0 355.6h0M68.0 352.7h0M68.1 350.8h0M68.1 358.8h0M68.1 357.6h0M68.2 359.7h0M68.2 357.2h0M68.2 355.3h0M68.3 353.1h0M68.3 359.7h0M68.4 356.7h0M68.4 358.9h0M68.5 362.5h0M68.5 363.7h0M68.5 360.1h0M68.6 359.2h0M68.6 362.6h0M68.6 359.2h0M68.7 363.6h0M68.7 359.2h0M68.8 360.1h0M68.8 362.2h0M68.9 359.7h0M68.9 361.7h0M69.0 364.3h0M69.0 358.1h0M69.0 359.4h0M69.1 366.9h0M69.1 364.0h0M69.1 360.8h0M69.2 366.2h0M69.3 363.1h0M69.3 355.9h0M69.4 363.3h0M69.4 361.9h0M69.4 364.1h0M69.5 359.8h0M69.5 363.1h0M69.5 361.0h0M69.6 368.4h0M69.6 360.7h0M69.7 359.7h0M69.7 367.3h0M69.8 362.8h0M69.8 359.0h0M69.8 361.6h0M69.9 362.6h0M70.0 361.6h0M70.0 360.5h0M70.1 363.8h0M70.2 361.0h0M70.2 358.1h0M70.2 360.2h0M70.3 355.9h0M70.3 367.7h0M70.3 361.4h0M70.4 363.8h0M70.4 361.7h0M70.5 358.9h0M70.5 356.0h0M70.5 362.9h0M70.6 355.3h0M70.6 357.7h0M70.7 355.5h0M70.7 357.2h0M70.7 359.3h0M70.8 350.9h0M70.8 360.6h0M70.8 356.1h0M70.9 360.0h0M70.9 355.5h0M70.9 358.2h0M71.0 353.7h0M71.0 349.0h0M71.1 353.1h0M71.1 357.9h0M71.2 359.3h0M71.2 356.2h0M71.3 350.9h0M71.3 349.0h0M71.4 354.1h0M71.4 352.4h0M71.4 355.4h0M71.5 351.9h0M71.5 348.7h0M71.6 347.6h0M71.6 352.0h0M71.6 346.0h0M71.7 347.3h0M71.7 345.3h0M71.8 349.4h0M71.8 350.3h0M71.8 344.9h0M71.9 341.8h0M71.9 356.9h0M72.0 344.6h0M72.0 346.5h0M72.1 349.5h0M72.1 344.3h0M72.2 340.9h0M72.2 349.4h0M72.2 346.5h0M72.3 343.7h0M72.3 336.7h0M72.3 335.8h0M72.4 337.9h0M72.4 337.0h0M72.5 341.4h0M72.5 339.5h0M72.5 338.3h0M72.6 339.3h0M72.6 341.3h0M72.6 335.4h0M72.7 333.8h0M72.7 342.8h0M72.7 337.5h0M72.8 330.2h0M72.8 339.0h0M72.9 340.9h0M73.0 330.1h0M73.0 331.2h0M73.0 334.2h0M73.1 326.5h0M73.1 339.0h0M73.1 333.7h0M73.2 332.5h0M73.2 334.9h0M73.2 332.5h0M73.3 334.1h0M73.3 329.3h0M73.4 327.1h0M73.4 334.1h0M73.5 332.7h0M73.5 334.3h0M73.5 338.7h0M73.6 333.6h0M73.6 331.9h0M73.6 326.7h0M73.7 333.3h0M73.7 326.8h0M73.8 332.4h0M73.8 328.8h0M73.9 332.5h0M73.9 339.3h0M73.9 333.7h0M74.0 329.3h0M74.0 330.4h0M74.1 320.7h0M74.1 333.6h0M74.1 331.5h0M74.2 330.0h0M74.2 321.5h0M74.2 333.6h0M74.3 323.5h0M74.3 333.5h0M74.4 331.7h0M74.4 324.7h0M74.4 333.1h0M74.5 330.5h0M74.5 327.5h0M74.6 333.5h0M74.6 328.8h0M74.6 332.8h0M74.7 335.0h0M74.7 329.8h0M74.8 324.3h0M74.8 327.0h0M74.8 333.2h0M74.9 328.9h0M75.0 333.8h0M75.0 325.9h0M75.0 330.8h0M75.1 328.3h0M75.1 327.1h0M75.2 329.0h0M75.2 330.8h0M75.3 333.0h0M75.3 330.1h0M75.3 325.1h0M75.4 333.2h0M75.4 336.5h0M75.5 329.2h0M75.5 331.6h0M75.5 334.4h0M75.6 328.5h0M75.6 329.8h0M75.6 330.7h0M75.7 334.1h0M75.7 330.0h0M75.8 335.7h0M75.8 332.3h0M75.8 328.5h0M75.9 329.9h0M75.9 333.5h0M76.1 334.4h0M76.2 331.1h0M76.2 336.9h0M76.2 335.6h0M76.3 334.3h0M76.3 338.0h0M76.4 329.3h0M76.4 326.8h0M76.4 324.4h0M76.5 337.1h0M76.5 333.4h0M76.5 335.0h0M76.6 333.9h0M76.6 330.5h0M76.7 334.0h0M76.7 338.3h0M76.7 333.7h0M76.8 327.3h0M76.8 333.3h0M76.8 328.6h0M76.9 334.1h0M76.9 332.7h0M76.9 328.6h0M77.0 338.6h0M77.0 329.6h0M77.1 336.6h0M77.1 332.7h0M77.2 336.6h0M77.2 334.5h0M77.2 336.0h0M77.3 339.5h0M77.3 331.3h0M77.4 337.0h0M77.4 334.5h0M77.5 338.8h0M77.5 332.8h0M77.6 336.3h0M77.6 343.5h0M77.6 347.1h0M77.7 341.5h0M77.7 339.0h0M77.7 340.4h0M77.8 341.3h0M77.8 343.5h0M77.8 342.4h0M77.9 338.0h0M77.9 339.0h0M77.9 343.0h0M78.0 344.1h0M78.0 339.7h0M78.1 345.1h0M78.1 341.6h0M78.2 346.1h0M78.2 344.3h0M78.3 346.7h0M78.3 349.0h0M78.3 345.2h0M78.4 342.9h0M78.5 345.3h0M78.5 344.3h0M78.5 353.4h0M78.6 350.0h0M78.6 345.3h0M78.7 351.6h0M78.7 347.9h0M78.7 343.1h0M78.8 351.4h0M78.8 353.1h0M78.8 348.6h0M78.9 343.3h0M78.9 347.6h0M79.0 345.5h0M79.0 350.4h0M79.1 349.2h0M79.1 352.3h0M79.1 349.0h0M79.2 351.5h0M79.3 348.4h0M79.3 353.0h0M79.3 349.3h0M79.4 346.7h0M79.4 352.8h0M79.5 350.6h0M79.5 355.1h0M79.5 353.4h0M79.6 350.0h0M79.6 355.6h0M79.7 358.7h0M79.7 355.9h0M79.7 350.6h0M79.8 351.5h0M79.9 357.3h0M79.9 354.7h0M79.9 351.5h0M80.0 352.3h0M80.0 353.6h0M80.0 351.4h0M80.1 357.9h0M80.1 353.7h0M80.2 358.3h0M80.2 357.1h0M80.2 351.1h0M80.3 354.0h0M80.3 359.4h0M80.4 356.2h0M80.5 353.2h0M80.5 351.8h0M80.6 359.7h0M80.6 353.6h0M80.6 359.5h0M80.7 353.5h0M80.8 351.5h0M80.8 354.0h0M80.8 357.0h0M80.9 355.5h0M80.9 354.1h0M80.9 362.2h0M81.0 360.2h0M81.0 356.3h0M81.0 355.2h0M81.1 360.5h0M81.1 353.2h0M81.2 357.2h0M81.2 355.5h0M81.3 359.1h0M81.3 360.4h0M81.4 351.2h0M81.4 356.9h0M81.4 351.8h0M81.5 360.8h0M81.5 359.4h0M81.6 354.1h0M81.6 357.6h0M81.6 360.1h0M81.7 354.7h0M81.7 360.5h0M81.8 362.6h0M81.8 360.0h0M81.9 362.2h0M82.0 357.6h0M82.0 360.1h0M82.0 356.4h0M82.1 357.3h0M82.2 359.3h0M82.2 358.3h0M82.2 359.5h0M82.3 358.1h0M82.3 354.7h0M82.4 353.1h0M82.4 356.9h0M82.4 354.0h0M82.5 362.4h0M82.5 352.6h0M82.5 354.2h0M82.6 359.9h0M82.6 356.9h0M82.7 358.5h0M82.8 357.4h0M82.8 358.5h0M82.9 360.4h0M82.9 355.9h0M83.1 351.1h0M83.1 355.0h0M83.1 357.4h0M83.2 359.1h0M83.2 356.1h0M83.2 353.8h0M83.3 359.4h0M83.3 355.3h0M83.3 359.4h0M83.4 361.9h0M83.4 358.6h0M83.4 352.3h0M83.5 356.7h0M83.5 360.7h0M83.6 355.7h0M83.7 360.5h0M83.7 353.9h0M83.7 358.9h0M83.8 350.7h0M83.8 361.9h0M83.8 359.4h0M83.9 357.6h0M83.9 360.5h0M83.9 357.0h0M84.0 359.9h0M84.1 355.0h0M84.1 361.9h0M84.1 353.9h0M84.2 356.5h0M84.2 361.6h0M84.2 353.7h0M84.3 351.7h0M84.3 357.1h0M84.3 350.8h0M84.4 354.8h0M84.5 352.5h0M84.5 358.5h0M84.5 353.5h0M84.6 357.0h0M84.6 354.9h0M84.7 359.0h0M84.7 355.0h0M84.7 357.2h0M84.8 354.4h0M84.8 358.3h0M84.9 357.3h0M84.9 349.3h0M85.0 354.5h0M85.0 352.8h0M85.1 357.2h0M85.1 350.3h0M85.2 353.0h0M85.2 354.0h0M85.2 349.3h0M85.3 352.1h0M85.3 357.4h0M85.3 354.3h0M85.4 355.3h0M85.5 354.4h0M85.6 346.6h0M85.6 351.2h0M85.6 348.9h0M85.7 346.2h0M85.7 350.5h0M85.8 349.6h0M85.9 354.3h0M85.9 352.4h0M85.9 346.4h0M86.0 347.9h0M86.0 350.5h0M86.0 351.6h0M86.1 348.4h0M86.1 354.9h0M86.1 352.5h0M86.2 343.8h0M86.2 347.8h0M86.3 350.8h0M86.3 349.1h0M86.4 351.2h0M86.4 347.0h0M86.5 348.2h0M86.5 343.0h0M86.5 345.6h0M86.6 352.0h0M86.6 345.1h0M86.6 341.2h0M86.7 347.0h0M86.7 343.0h0M86.8 345.5h0M86.8 348.9h0M86.9 347.6h0M86.9 350.4h0M86.9 346.2h0M87.0 348.4h0M87.0 340.5h0M87.0 345.3h0M87.1 349.0h0M87.1 341.2h0M87.2 345.2h0M87.2 348.8h0M87.3 346.6h0M87.3 343.9h0M87.4 337.8h0M87.4 342.8h0M87.4 345.6h0M87.5 350.1h0M87.5 341.9h0M87.6 343.7h0M87.6 340.3h0M87.6 342.9h0M87.7 335.9h0M87.8 346.2h0M87.8 339.5h0M87.9 344.1h0M87.9 333.4h0M87.9 346.9h0M88.0 340.2h0M88.0 344.9h0M88.1 341.2h0M88.1 342.3h0M88.2 339.5h0M88.2 341.0h0M88.2 342.4h0M88.3 343.2h0M88.3 339.7h0M88.4 336.9h0M88.4 340.7h0M88.5 339.5h0M88.5 345.3h0M88.6 340.7h0M88.6 336.4h0M88.7 335.0h0M88.7 338.7h0M88.8 340.2h0M88.8 338.6h0M88.8 340.4h0M88.9 338.5h0M88.9 337.0h0M88.9 339.1h0M89.0 343.4h0M89.0 333.4h0M89.1 330.4h0M89.1 340.4h0M89.2 333.8h0M89.2 342.1h0M89.2 340.4h0M89.3 335.5h0M89.3 329.5h0M89.3 333.6h0M89.4 340.9h0M89.4 330.2h0M89.4 339.3h0M89.5 334.7h0M89.5 341.2h0M89.6 334.7h0M89.6 340.4h0M89.7 333.1h0M89.8 338.6h0M89.8 336.0h0M89.8 334.3h0M89.9 338.8h0M89.9 341.0h0M89.9 335.5h0M90.0 333.8h0M90.1 337.8h0M90.2 335.3h0M90.2 331.0h0M90.2 334.6h0M90.3 337.1h0M90.3 330.6h0M90.3 335.6h0M90.4 332.0h0M90.4 329.6h0M90.5 336.7h0M90.5 337.6h0M90.6 334.0h0M90.6 331.2h0M90.7 338.4h0M90.7 335.9h0M90.8 332.8h0M90.8 328.8h0M90.9 335.7h0M91.0 336.8h0M91.0 335.2h0M91.0 332.0h0M91.1 336.0h0M91.1 330.4h0M91.1 334.6h0M91.2 337.7h0M91.2 335.2h0M91.2 332.6h0M91.3 334.7h0M91.3 337.8h0M91.3 333.0h0M91.4 337.0h0M91.4 335.7h0M91.5 332.0h0M91.5 332.9h0M91.6 336.6h0M91.6 329.5h0M91.6 335.4h0M91.7 325.8h0M91.7 336.5h0M91.8 334.9h0M91.8 331.4h0M91.9 337.9h0M91.9 333.4h0M91.9 337.5h0M92.0 334.5h0M92.0 331.2h0M92.1 336.7h0M92.1 333.7h0M92.1 332.8h0M92.2 336.1h0M92.2 334.4h0M92.3 333.3h0M92.4 325.0h0M92.4 336.0h0M92.4 335.0h0M92.5 330.8h0M92.5 332.8h0M92.5 341.6h0M92.6 334.9h0M92.6 331.1h0M92.6 334.2h0M92.7 336.3h0M92.7 333.8h0M92.8 330.1h0M92.8 333.1h0M92.8 336.6h0M92.9 338.5h0M92.9 333.2h0M93.0 330.6h0M93.0 332.7h0M93.0 329.8h0M93.1 335.5h0M93.1 328.6h0M93.1 338.4h0M93.2 330.9h0M93.2 334.8h0M93.3 337.2h0M93.3 335.7h0M93.4 332.0h0M93.4 336.7h0M93.4 333.4h0M93.5 336.5h0M93.5 340.0h0M93.5 332.4h0M93.6 336.3h0M93.6 334.6h0M93.6 329.6h0M93.7 337.1h0M93.8 334.4h0M93.8 331.2h0M93.8 335.2h0M93.9 338.9h0M93.9 330.7h0M93.9 327.9h0M94.0 332.4h0M94.0 335.9h0M94.0 337.8h0M94.1 336.7h0M94.1 335.8h0M94.2 337.5h0M94.3 332.2h0M94.3 335.4h0M94.3 334.5h0M94.4 330.7h0M94.5 334.3h0M94.5 339.4h0M94.5 330.6h0M94.6 332.6h0M94.6 335.6h0M94.7 331.0h0M94.7 333.9h0M94.7 335.9h0M94.8 328.3h0M94.8 343.5h0M94.9 330.5h0M94.9 335.3h0M94.9 329.1h0M95.0 338.7h0M95.0 333.3h0M95.0 336.7h0M95.1 335.2h0M95.2 333.4h0M95.2 338.3h0M95.2 337.0h0M95.3 334.5h0M95.3 338.1h0M95.3 334.9h0M95.4 339.0h0M95.4 335.3h0M95.4 339.6h0M95.5 340.9h0M95.5 336.5h0M95.6 331.2h0M95.6 333.1h0M95.6 331.6h0M95.7 334.3h0M95.7 335.9h0M95.7 333.8h0M95.8 339.4h0M95.8 336.2h0M95.8 338.6h0M95.9 332.1h0M95.9 334.9h0M95.9 337.8h0M96.0 336.2h0M96.0 333.4h0M96.1 336.6h0M96.1 334.8h0M96.2 336.7h0M96.2 329.2h0M96.2 335.4h0M96.3 338.7h0M96.3 329.1h0M96.4 336.2h0M96.4 340.3h0M96.5 342.5h0M96.5 335.0h0M96.5 329.0h0M96.6 335.2h0M96.6 338.0h0M96.6 333.5h0M96.7 338.3h0M96.8 339.4h0M96.8 342.1h0M96.8 337.2h0M96.9 331.1h0M96.9 342.5h0M97.0 341.5h0M97.0 336.5h0M97.0 339.2h0M97.1 337.5h0M97.1 336.5h0M97.2 338.0h0M97.2 336.6h0M97.3 340.6h0M97.3 336.1h0M97.3 338.8h0M97.4 342.5h0M97.4 334.2h0M97.5 341.3h0M97.5 337.2h0M97.5 341.2h0M97.6 336.1h0M97.6 344.4h0M97.6 340.9h0M97.7 341.9h0M97.7 333.2h0M97.8 345.0h0M97.8 342.7h0M97.9 341.6h0M97.9 336.1h0M97.9 340.4h0M98.0 343.4h0M98.0 340.0h0M98.0 342.9h0M98.1 334.4h0M98.1 343.3h0M98.2 341.5h0M98.2 340.6h0M98.2 347.4h0M98.3 341.7h0M98.3 346.1h0M98.4 349.1h0M98.4 340.6h0M98.4 342.3h0M98.5 340.2h0M98.5 348.3h0M98.5 336.7h0M98.6 337.9h0M98.6 345.5h0M98.6 341.3h0M98.7 343.8h0M98.7 340.4h0M98.8 341.9h0M98.9 345.2h0M99.0 341.3h0M99.0 344.3h0M99.0 343.0h0M99.1 346.7h0M99.1 343.3h0M99.1 341.6h0M99.2 343.7h0M99.2 346.8h0M99.3 338.9h0M99.3 342.0h0M99.3 346.7h0M99.4 341.1h0M99.4 345.0h0M99.4 342.5h0M99.5 345.0h0M99.5 349.6h0M99.5 345.8h0M99.6 337.5h0M99.6 340.6h0M99.6 344.2h0M99.7 346.5h0M99.7 348.6h0M99.8 346.6h0M99.8 342.8h0M99.8 341.5h0M99.9 339.6h0M99.9 349.9h0M99.9 347.9h0M100.0 344.1h0M100.0 347.9h0M100.0 343.3h0M100.1 348.1h0M100.1 343.9h0M100.2 347.9h0M100.2 341.4h0M100.2 346.6h0M100.3 348.2h0M100.3 344.4h0M100.3 348.1h0M100.4 335.7h0M100.4 345.1h0M100.4 346.8h0M100.5 352.3h0M100.5 343.7h0M100.6 350.1h0M100.7 344.6h0M100.7 342.6h0M100.7 352.2h0M100.8 351.0h0M100.8 345.8h0M100.8 342.2h0M100.9 351.8h0M100.9 347.4h0M100.9 342.4h0M101.0 348.6h0M101.0 344.7h0M101.1 347.5h0M101.1 352.0h0M101.2 346.3h0M101.2 347.4h0M101.2 345.0h0M101.3 352.5h0M101.3 346.2h0M101.3 341.1h0M101.4 349.1h0M101.4 353.5h0M101.4 348.1h0M101.5 354.1h0M101.5 349.1h0M101.6 347.4h0M101.6 345.1h0M101.7 350.9h0M101.7 348.5h0M101.7 347.5h0M101.8 350.4h0M101.8 348.4h0M101.9 349.4h0M101.9 350.6h0M102.0 349.7h0M102.1 348.6h0M102.1 356.2h0M102.1 352.5h0M102.2 347.3h0M102.3 352.7h0M102.4 350.4h0M102.4 354.1h0M102.5 352.5h0M102.5 350.0h0M102.6 347.4h0M102.6 348.6h0M102.6 354.6h0M102.7 356.1h0M102.7 347.3h0M102.7 356.7h0M102.8 352.9h0M102.8 353.9h0M102.8 349.2h0M102.9 351.3h0M103.0 355.5h0M103.0 352.2h0M103.1 353.2h0M103.1 348.5h0M103.1 355.0h0M103.2 342.1h0M103.2 352.1h0M103.3 349.3h0M103.3 352.5h0M103.4 357.4h0M103.5 355.6h0M103.5 353.9h0M103.6 352.5h0M103.6 355.6h0M103.6 354.0h0M103.7 355.5h0M103.7 351.7h0M103.7 355.5h0M103.8 353.2h0M103.9 357.7h0M103.9 353.5h0M103.9 357.8h0M104.0 347.0h0M104.0 355.2h0M104.0 353.6h0M104.1 358.2h0M104.1 352.9h0M104.1 349.6h0M104.2 353.1h0M104.2 354.5h0M104.2 351.8h0M104.3 349.9h0M104.4 356.5h0M104.4 349.4h0M104.4 352.9h0M104.5 349.4h0M104.5 352.2h0M104.5 353.7h0M104.6 349.1h0M104.6 355.8h0M104.6 354.0h0M104.7 356.5h0M104.7 350.2h0M104.8 348.2h0M104.8 357.1h0M104.9 352.7h0M104.9 356.5h0M104.9 351.4h0M105.0 355.1h0M105.0 358.4h0M105.0 347.0h0M105.1 350.3h0M105.1 347.9h0M105.1 348.7h0M105.2 351.1h0M105.2 353.0h0M105.3 351.3h0M105.3 353.2h0M105.4 360.2h0M105.4 351.8h0M105.5 355.8h0M105.5 352.0h0M105.5 353.2h0M105.6 357.3h0M105.6 351.1h0M105.6 356.4h0M105.7 349.5h0M105.7 350.3h0M105.8 352.4h0M105.8 356.0h0M105.8 353.2h0M105.9 356.4h0M105.9 354.1h0M106.0 355.4h0M106.0 356.4h0M106.0 348.9h0M106.1 353.4h0M106.1 354.4h0M106.2 355.9h0M106.2 349.4h0M106.2 357.0h0M106.3 348.2h0M106.3 349.4h0M106.3 360.0h0M106.4 355.5h0M106.4 347.9h0M106.4 353.2h0M106.5 355.7h0M106.5 351.4h0M106.5 354.6h0M106.6 352.3h0M106.6 355.7h0M106.7 350.8h0M106.8 356.4h0M106.8 355.5h0M106.9 345.2h0M106.9 357.1h0M106.9 353.6h0M107.0 358.6h0M107.0 349.5h0M107.0 358.0h0M107.1 354.8h0M107.1 352.9h0M107.2 355.4h0M107.2 348.0h0M107.2 353.0h0M107.3 350.2h0M107.3 353.2h0M107.4 350.0h0M107.4 352.4h0M107.4 355.5h0M107.5 356.6h0M107.5 348.3h0M107.6 352.6h0M107.6 351.7h0M107.7 348.9h0M107.7 352.6h0M107.7 356.8h0M107.8 357.7h0M107.8 353.6h0M107.8 358.5h0M107.9 350.4h0M107.9 349.0h0M107.9 360.2h0M108.0 355.2h0M108.0 356.8h0M108.1 345.7h0M108.1 355.8h0M108.1 349.2h0M108.2 347.5h0M108.2 353.6h0M108.2 352.8h0M108.3 349.5h0M108.3 361.6h0M108.3 355.1h0M108.4 359.4h0M108.5 357.9h0M108.5 353.4h0M108.6 361.2h0M108.6 352.4h0M108.6 351.4h0M108.7 355.3h0M108.7 358.9h0M108.8 355.7h0M108.8 354.9h0M108.9 356.9h0M108.9 354.6h0M109.0 357.1h0M109.0 358.0h0M109.0 350.9h0M109.1 355.3h0M109.1 357.4h0M109.1 352.1h0M109.2 353.7h0M109.2 356.3h0M109.2 354.5h0M109.3 350.6h0M109.3 357.0h0M109.3 352.5h0M109.4 349.5h0M109.4 352.0h0M109.5 350.1h0M109.5 358.0h0M109.5 354.1h0M109.6 347.0h0M109.6 352.2h0M109.6 348.9h0M109.7 353.9h0M109.7 351.9h0M109.7 350.9h0M109.8 349.0h0M109.8 353.4h0M109.9 349.5h0M109.9 356.0h0M109.9 357.5h0M110.0 356.6h0M110.0 353.0h0M110.0 354.2h0M110.1 356.7h0M110.1 353.9h0M110.1 352.6h0M110.2 350.3h0M110.2 352.1h0M110.2 357.5h0M110.3 354.6h0M110.3 349.7h0M110.4 356.1h0M110.4 353.0h0M110.5 355.2h0M110.5 354.4h0M110.6 352.1h0M110.6 354.7h0M110.7 356.4h0M110.7 355.4h0M110.8 344.9h0M110.8 351.8h0M110.8 346.0h0M110.9 347.9h0M110.9 350.1h0M110.9 352.2h0M111.0 357.4h0M111.0 351.9h0M111.0 346.7h0M111.1 356.6h0M111.1 354.0h0M111.1 348.6h0M111.2 352.6h0M111.2 349.2h0M111.3 352.8h0M111.3 351.4h0M111.3 353.3h0M111.4 350.7h0M111.5 352.7h0M111.5 358.9h0M111.5 352.2h0M111.6 347.6h0M111.6 353.1h0M111.6 356.6h0M111.7 353.1h0M111.7 356.8h0M111.8 348.4h0M111.8 351.5h0M111.9 353.1h0M111.9 350.3h0M111.9 352.1h0M112.0 347.9h0M112.0 349.8h0M112.0 356.4h0M112.1 355.2h0M112.1 352.5h0M112.2 350.1h0M112.2 352.7h0M112.2 355.3h0M112.3 354.4h0M112.3 352.5h0M112.3 347.1h0M112.4 354.6h0M112.4 353.5h0M112.4 350.4h0M112.6 349.3h0M112.6 347.8h0M112.7 352.1h0M112.7 346.5h0M112.7 351.1h0M112.8 352.2h0M112.8 348.4h0M112.9 347.4h0M112.9 353.1h0M112.9 348.3h0M113.0 349.2h0M113.0 353.1h0M113.0 350.4h0M113.1 348.1h0M113.1 345.1h0M113.2 349.3h0M113.2 351.3h0M113.3 346.9h0M113.3 352.4h0M113.4 350.7h0M113.4 352.0h0M113.4 349.1h0M113.5 347.8h0M113.5 346.1h0M113.6 345.0h0M113.6 350.4h0M113.6 351.9h0M113.7 346.3h0M113.7 348.0h0M113.7 349.0h0M113.8 348.0h0M113.8 352.2h0M113.9 350.9h0M113.9 349.4h0M113.9 347.9h0M114.0 350.2h0M114.1 348.6h0M114.1 346.1h0M114.2 351.0h0M114.2 346.5h0M114.3 341.8h0M114.3 353.2h0M114.3 346.5h0M114.4 349.6h0M114.4 352.8h0M114.5 347.2h0M114.5 344.8h0M114.5 352.0h0M114.6 347.9h0M114.6 344.5h0M114.6 349.6h0M114.7 346.8h0M114.7 352.5h0M114.8 345.1h0M114.8 349.2h0M114.8 344.9h0M114.9 351.9h0M115.0 349.6h0M115.0 341.8h0M115.0 346.3h0M115.1 349.2h0M115.1 352.2h0M115.2 353.2h0M115.2 350.4h0M115.2 346.4h0M115.3 341.6h0M115.3 352.2h0M115.3 353.6h0M115.4 344.4h0M115.4 343.4h0M115.5 346.3h0M115.5 350.2h0M115.5 343.1h0M115.6 349.7h0M115.6 338.8h0M115.6 347.3h0M115.7 349.0h0M115.7 338.5h0M115.8 344.4h0M115.9 349.8h0M115.9 345.3h0M115.9 346.6h0M116.0 341.7h0M116.0 348.6h0M116.0 341.4h0M116.1 348.9h0M116.1 345.3h0M116.2 351.1h0M116.3 348.7h0M116.3 343.4h0M116.4 342.2h0M116.4 344.2h0M116.5 343.4h0M116.5 347.2h0M116.5 344.7h0M116.6 346.1h0M116.6 339.1h0M116.7 345.0h0M116.7 341.4h0M116.8 348.2h0M116.8 345.8h0M116.8 346.8h0M116.9 345.3h0M116.9 343.6h0M117.0 346.2h0M117.0 339.5h0M117.1 346.7h0M117.1 341.0h0M117.1 346.0h0M117.2 347.5h0M117.2 340.2h0M117.3 348.5h0M117.3 347.1h0M117.3 342.3h0M117.4 345.0h0M117.4 347.9h0M117.4 343.6h0M117.5 339.5h0M117.5 342.0h0M117.5 343.0h0M117.6 341.9h0M117.6 345.3h0M117.6 340.7h0M117.7 343.7h0M117.7 348.1h0M117.8 346.0h0M117.8 343.3h0M117.9 346.5h0M117.9 342.3h0M118.0 346.1h0M118.0 348.9h0M118.0 344.9h0M118.1 338.8h0M118.2 343.0h0M118.2 339.7h0M118.2 341.0h0M118.3 344.8h0M118.3 340.2h0M118.3 343.1h0M118.4 340.4h0M118.4 345.1h0M118.5 341.1h0M118.5 338.0h0M118.6 342.3h0M118.6 338.6h0M118.7 346.3h0M118.7 340.0h0M118.7 343.7h0M118.8 338.0h0M118.8 341.8h0M118.9 340.6h0M118.9 344.9h0M118.9 350.8h0M119.0 344.1h0M119.0 341.7h0M119.0 336.8h0M119.1 341.5h0M119.1 339.3h0M119.2 341.5h0M119.2 339.0h0M119.3 341.9h0M119.3 338.0h0M119.3 334.9h0M119.4 336.8h0M119.4 343.5h0M119.4 337.9h0M119.6 341.2h0M119.6 336.7h0M119.6 339.4h0M119.7 341.6h0M119.7 337.2h0M119.7 340.9h0M119.8 344.9h0M119.8 340.1h0M119.8 344.4h0M119.9 342.4h0M119.9 339.8h0M119.9 346.8h0M120.0 342.3h0M120.0 341.4h0M120.1 343.2h0M120.1 345.2h0M120.2 342.6h0M120.2 338.5h0M120.3 340.3h0M120.3 336.3h0M120.3 337.4h0M120.4 338.5h0M120.4 337.5h0M120.5 341.4h0M120.5 334.1h0M120.5 336.4h0M120.6 339.9h0M120.7 342.6h0M120.7 336.6h0M120.7 342.4h0M120.8 337.7h0M120.8 339.8h0M120.9 337.5h0M121.0 343.0h0M121.0 345.4h0M121.0 340.6h0M121.1 336.9h0M121.1 337.9h0M121.2 334.2h0M121.2 341.8h0M121.3 339.3h0M121.3 331.0h0M121.3 343.3h0M121.4 340.8h0M121.5 338.6h0M121.5 337.6h0M121.5 339.1h0M121.6 336.2h0M121.6 333.7h0M121.6 338.3h0M121.7 342.2h0M121.7 339.5h0M121.8 337.0h0M121.8 341.4h0M121.9 334.2h0M121.9 337.6h0M121.9 333.9h0M122.0 340.0h0M122.0 329.6h0M122.1 344.6h0M122.1 339.2h0M122.2 340.1h0M122.2 341.5h0M122.2 335.0h0M122.3 339.4h0M122.4 337.2h0M122.4 338.7h0M122.4 341.6h0M122.5 337.7h0M122.5 335.4h0M122.6 337.8h0M122.6 335.9h0M122.7 340.7h0M122.7 335.1h0M122.7 337.1h0M122.8 330.8h0M122.8 335.7h0M122.9 339.9h0M122.9 337.5h0M122.9 344.3h0M123.0 339.5h0M123.0 336.5h0M123.1 335.0h0M123.1 338.9h0M123.1 340.4h0M123.2 339.6h0M123.2 341.0h0M123.3 332.7h0M123.3 340.9h0M123.4 331.6h0M123.4 338.8h0M123.4 335.6h0M123.5 336.4h0M123.5 339.3h0M123.5 337.3h0M123.6 333.4h0M123.6 338.8h0M123.6 343.6h0M123.7 344.8h0M123.7 341.3h0M123.8 338.3h0M123.8 335.0h0M123.9 333.5h0M123.9 331.9h0M124.0 337.8h0M124.0 336.7h0M124.0 344.8h0M124.1 337.4h0M124.1 332.4h0M124.2 338.1h0M124.2 335.0h0M124.2 337.6h0M124.3 336.3h0M124.3 339.3h0M124.3 336.1h0M124.4 340.2h0M124.4 336.4h0M124.4 339.9h0M124.5 334.2h0M124.5 340.1h0M124.6 335.5h0M124.6 334.7h0M124.7 340.1h0M124.8 334.9h0M124.8 337.8h0M124.8 336.4h0M124.9 332.0h0M124.9 338.6h0M124.9 333.8h0M125.0 337.4h0M125.0 341.3h0M125.1 339.9h0M125.1 329.7h0M125.2 336.4h0M125.2 339.8h0M125.2 333.1h0M125.3 335.1h0M125.4 343.0h0M125.4 338.1h0M125.5 336.4h0M125.5 337.2h0M125.6 334.6h0M125.6 341.1h0M125.6 333.9h0M125.7 344.0h0M125.7 336.9h0M125.7 335.5h0M125.8 336.9h0M125.9 341.4h0M125.9 337.0h0M126.0 338.0h0M126.0 336.3h0M126.1 339.4h0M126.1 341.7h0M126.1 333.2h0M126.2 343.2h0M126.2 338.4h0M126.2 332.9h0M126.3 342.9h0M126.3 334.9h0M126.4 339.2h0M126.4 336.1h0M126.5 335.2h0M126.5 343.3h0M126.6 340.1h0M126.6 335.3h0M126.7 332.0h0M126.7 334.7h0M126.7 333.4h0M126.8 334.8h0M126.8 341.7h0M126.9 331.2h0M126.9 336.1h0M127.0 338.8h0M127.1 337.4h0M127.1 342.7h0M127.1 334.4h0M127.2 340.6h0M127.2 334.1h0M127.2 339.1h0M127.3 335.3h0M127.3 333.0h0M127.3 335.9h0M127.4 337.3h0M127.5 338.1h0M127.5 330.9h0M127.6 341.0h0M127.6 339.8h0M127.6 338.8h0M127.7 337.5h0M127.7 335.3h0M127.7 337.7h0M127.8 334.1h0M127.8 340.7h0M127.9 336.2h0M127.9 340.6h0M128.0 337.7h0M128.0 339.5h0M128.1 334.5h0M128.1 339.9h0M128.2 334.5h0M128.2 335.5h0M128.3 342.2h0M128.4 336.9h0M128.4 335.1h0M128.5 333.3h0M128.5 335.1h0M128.5 337.6h0M128.6 339.0h0M128.6 337.2h0M128.7 338.1h0M128.7 333.0h0M128.7 339.0h0M128.8 340.4h0M128.8 339.4h0M128.9 330.0h0M128.9 337.0h0M128.9 341.3h0M129.0 332.7h0M129.0 338.2h0M129.0 336.7h0M129.1 339.5h0M129.1 335.3h0M129.2 339.8h0M129.2 337.2h0M129.3 341.7h0M129.3 333.0h0M129.3 340.5h0M129.5 337.0h0M129.5 339.4h0M129.5 335.4h0M129.6 333.8h0M129.7 339.6h0M129.7 337.2h0M129.8 340.3h0M129.8 338.1h0M129.8 335.4h0M129.9 339.5h0M129.9 335.9h0M130.0 337.3h0M130.0 335.7h0M130.0 345.0h0M130.1 340.4h0M130.1 334.3h0M130.2 342.5h0M130.2 338.9h0M130.3 339.8h0M130.3 338.7h0M130.3 337.0h0M130.4 338.1h0M130.4 339.3h0M130.4 335.7h0M130.5 334.8h0M130.5 343.6h0M130.6 333.2h0M130.6 336.2h0M130.7 338.1h0M130.7 334.3h0M130.8 340.0h0M130.8 342.9h0M130.9 332.8h0M130.9 335.7h0M130.9 339.0h0M131.0 335.0h0M131.1 341.4h0M131.1 340.3h0M131.2 330.0h0M131.2 341.7h0M131.2 336.0h0M131.3 336.9h0M131.3 333.6h0M131.4 338.8h0M131.4 333.8h0M131.4 337.5h0M131.5 339.7h0M131.6 334.7h0M131.7 337.4h0M131.7 340.2h0M131.8 338.2h0M131.8 333.4h0M131.8 335.3h0M131.9 338.7h0M131.9 333.1h0M131.9 342.8h0M132.0 344.2h0M132.0 342.6h0M132.1 335.0h0M132.1 341.4h0M132.1 339.4h0M132.2 337.8h0M132.2 339.6h0M132.2 335.2h0M132.3 336.7h0M132.3 338.7h0M132.3 335.5h0M132.4 344.2h0M132.4 334.2h0M132.5 339.6h0M132.5 340.9h0M132.5 338.0h0M132.6 336.2h0M132.6 337.9h0M132.6 336.8h0M132.7 338.7h0M132.7 340.0h0M132.7 333.1h0M132.8 334.7h0M132.8 342.6h0M132.8 336.4h0M132.9 340.8h0M133.0 336.9h0M133.0 335.1h0M133.0 333.2h0M133.1 334.8h0M133.1 339.9h0M133.2 333.2h0M133.3 337.1h0M133.3 348.3h0M133.4 337.4h0M133.4 340.5h0M133.5 339.1h0M133.5 337.3h0M133.5 336.2h0M133.6 340.6h0M133.6 338.2h0M133.7 340.6h0M133.7 333.8h0M133.7 339.9h0M133.8 344.1h0M133.8 338.7h0M133.9 340.6h0M133.9 339.1h0M134.0 335.2h0M134.0 340.0h0M134.1 344.5h0M134.1 345.5h0M134.1 333.2h0M134.2 339.3h0M134.2 337.0h0M134.2 340.3h0M134.3 338.3h0M134.3 336.6h0M134.4 340.4h0M134.4 339.4h0M134.4 337.5h0M134.5 342.8h0M134.5 342.0h0M134.5 337.4h0M134.6 340.6h0M134.6 344.1h0M134.7 337.9h0M134.7 333.1h0M134.8 339.4h0M134.9 336.7h0M134.9 339.2h0M134.9 334.5h0M135.0 339.3h0M135.0 336.8h0M135.1 335.5h0M135.1 337.8h0M135.1 335.2h0M135.2 343.4h0M135.2 339.3h0M135.3 338.0h0M135.3 334.3h0M135.3 343.5h0M135.4 334.5h0M135.4 339.7h0M135.4 336.9h0M135.5 338.5h0M135.5 346.1h0M135.5 341.6h0M135.6 339.2h0M135.6 341.7h0M135.7 339.3h0M135.7 340.6h0M135.8 338.1h0M135.8 341.5h0M135.9 344.4h0M135.9 343.2h0M135.9 339.4h0M136.0 344.4h0M136.0 341.9h0M136.0 338.6h0M136.1 342.5h0M136.2 344.7h0M136.2 337.8h0M136.3 341.3h0M136.3 338.4h0M136.3 342.6h0M136.4 344.3h0M136.4 345.2h0M136.4 338.8h0M136.5 343.2h0M136.5 339.5h0M136.5 341.5h0M136.6 337.6h0M136.6 340.1h0M136.7 344.1h0M136.7 345.4h0M136.7 341.4h0M136.8 337.9h0M136.8 340.9h0M136.8 336.7h0M136.9 342.1h0M137.0 340.0h0M137.1 344.6h0M137.2 341.0h0M137.2 341.9h0M137.2 339.0h0M137.3 345.0h0M137.3 336.8h0M137.3 341.1h0M137.4 342.7h0M137.4 343.7h0M137.5 340.4h0M137.5 338.4h0M137.6 340.6h0M137.6 338.8h0M137.7 336.6h0M137.7 338.2h0M137.7 348.1h0M137.8 341.1h0M137.9 336.5h0M137.9 340.6h0M138.0 341.6h0M138.1 346.6h0M138.2 336.9h0M138.2 341.7h0M138.2 345.5h0M138.3 343.1h0M138.3 342.0h0M138.3 343.8h0M138.4 338.5h0M138.4 341.1h0M138.5 339.3h0M138.5 344.5h0M138.5 346.2h0M138.6 343.2h0M138.6 340.2h0M138.7 348.6h0M138.7 339.7h0M138.7 342.7h0M138.8 341.9h0M138.8 339.8h0M138.8 344.7h0M138.9 342.9h0M138.9 341.3h0M139.0 343.7h0M139.0 346.7h0M139.0 341.2h0M139.1 343.6h0M139.1 341.5h0M139.2 345.0h0M139.2 338.6h0M139.2 340.2h0M139.3 338.6h0M139.3 345.0h0M139.3 343.1h0M139.4 344.0h0M139.4 344.9h0M139.5 346.1h0M139.5 344.1h0M139.6 346.1h0M139.6 350.6h0M139.6 346.4h0M139.7 338.3h0M139.7 344.9h0M139.7 340.5h0M139.8 346.3h0M139.8 349.5h0M139.9 342.8h0M139.9 341.7h0M139.9 342.6h0M140.0 343.9h0M140.0 341.0h0M140.1 345.5h0M140.1 343.4h0M140.1 338.1h0M140.2 350.1h0M140.2 342.9h0M140.2 337.6h0M140.3 349.4h0M140.4 346.3h0M140.4 345.0h0M140.4 339.4h0M140.5 346.6h0M140.5 349.6h0M140.5 339.5h0M140.6 344.9h0M140.6 343.9h0M140.7 348.1h0M140.7 346.7h0M140.7 342.7h0M140.8 349.4h0M140.9 344.2h0M140.9 347.8h0M140.9 342.1h0M141.0 345.3h0M141.0 343.8h0M141.1 339.3h0M141.1 344.1h0M141.1 337.5h0M141.2 343.0h0M141.2 343.9h0M141.4 337.4h0M141.4 348.4h0M141.4 344.5h0M141.6 342.0h0M141.6 348.7h0M141.6 341.3h0M141.7 346.6h0M141.8 343.6h0M141.8 350.3h0M141.8 341.7h0M141.9 340.0h0M141.9 345.2h0M142.0 338.4h0M142.0 342.4h0M142.0 341.5h0M142.1 342.5h0M142.1 345.1h0M142.2 347.8h0M142.2 344.3h0M142.2 346.7h0M142.3 341.7h0M142.3 348.5h0M142.4 344.0h0M142.4 347.8h0M142.4 343.4h0M142.5 344.3h0M142.5 342.7h0M142.5 343.8h0M142.6 346.1h0M142.6 347.1h0M142.7 343.7h0M142.7 346.4h0M142.8 340.8h0M142.8 348.5h0M142.9 343.7h0M142.9 350.4h0M142.9 347.8h0M143.0 342.0h0M143.0 350.4h0M143.0 347.7h0M143.1 351.6h0M143.2 350.0h0M143.2 344.7h0M143.2 346.3h0M143.3 343.3h0M143.3 347.9h0M143.3 354.2h0M143.4 347.1h0M143.4 350.8h0M143.4 344.7h0M143.5 349.9h0M143.5 340.8h0M143.6 352.6h0M143.6 348.5h0M143.6 339.9h0M143.7 344.7h0M143.7 346.2h0M143.7 344.4h0M143.8 342.6h0M143.8 349.9h0M143.8 346.5h0M143.9 342.5h0M143.9 344.0h0M143.9 349.1h0M144.0 346.0h0M144.0 344.8h0M144.1 351.2h0M144.1 343.5h0M144.2 352.1h0M144.2 348.8h0M144.2 350.0h0M144.3 352.0h0M144.3 349.8h0M144.3 353.0h0M144.4 345.1h0M144.4 346.4h0M144.4 352.8h0M144.5 345.3h0M144.6 349.4h0M144.6 343.6h0M144.6 349.6h0M144.7 347.6h0M144.7 351.2h0M144.8 349.3h0M144.8 346.9h0M144.8 340.2h0M144.9 349.1h0M144.9 347.4h0M145.0 351.5h0M145.0 349.0h0M145.0 351.3h0M145.2 345.6h0M145.2 346.5h0M145.2 353.5h0M145.3 344.6h0M145.3 347.2h0M145.3 349.7h0M145.4 352.4h0M145.4 348.4h0M145.5 347.5h0M145.5 353.2h0M145.6 344.9h0M145.6 351.7h0M145.6 347.8h0M145.7 351.0h0M145.7 345.5h0M145.8 351.4h0M145.8 343.8h0M145.9 346.8h0M145.9 342.3h0M145.9 349.0h0M146.0 347.9h0M146.1 343.9h0M146.1 352.8h0M146.1 342.8h0M146.2 348.2h0M146.2 350.4h0M146.3 346.1h0M146.3 347.1h0M146.4 348.4h0M146.4 345.0h0M146.5 347.9h0M146.5 350.7h0M146.5 347.9h0M146.6 348.7h0M146.6 345.5h0M146.7 348.7h0M146.7 353.2h0M146.7 354.1h0M146.8 352.4h0M146.8 353.4h0M146.9 351.4h0M146.9 344.3h0M147.0 347.5h0M147.0 345.6h0M147.0 349.5h0M147.1 350.5h0M147.1 355.3h0M147.1 351.2h0M147.2 347.5h0M147.2 352.9h0M147.3 346.3h0M147.3 347.3h0M147.3 349.9h0M147.4 345.6h0M147.4 351.2h0M147.5 354.5h0M147.6 351.4h0M147.6 353.7h0M147.6 346.6h0M147.7 350.2h0M147.7 355.3h0M147.8 346.3h0M147.8 351.7h0M147.9 354.1h0M147.9 351.4h0M148.0 348.5h0M148.0 354.6h0M148.0 351.1h0M148.1 352.6h0M148.1 348.8h0M148.2 350.5h0M148.2 358.0h0M148.2 349.2h0M148.3 353.9h0M148.3 352.3h0M148.4 351.4h0M148.4 353.0h0M148.5 345.2h0M148.5 352.2h0M148.6 350.8h0M148.7 344.9h0M148.7 348.1h0M148.7 344.7h0M148.8 352.5h0M148.8 347.3h0M148.8 349.8h0M148.9 349.0h0M148.9 355.9h0M148.9 352.3h0M149.0 351.0h0M149.0 352.2h0M149.0 349.7h0M149.1 348.5h0M149.2 349.7h0M149.2 354.4h0M149.2 349.0h0M149.3 353.9h0M149.3 347.7h0M149.3 354.2h0M149.4 348.3h0M149.4 358.8h0M149.4 346.6h0M149.5 350.7h0M149.5 349.6h0M149.6 352.2h0M149.6 353.1h0M149.7 348.3h0M149.7 351.8h0M149.8 353.0h0M149.8 355.8h0M149.8 354.0h0M149.9 351.9h0M149.9 355.0h0M149.9 346.7h0M150.0 353.3h0M150.0 351.3h0M150.1 350.2h0M150.1 354.9h0M150.1 349.7h0M150.2 352.4h0M150.2 350.9h0M150.2 351.9h0M150.3 351.1h0M150.3 348.6h0M150.3 350.6h0M150.4 351.7h0M150.4 344.5h0M150.4 351.0h0M150.6 350.0h0M150.6 355.1h0M150.6 347.5h0M150.7 345.7h0M150.7 354.1h0M150.7 347.6h0M150.8 349.1h0M150.8 351.5h0" stroke="#1f77b4" stroke-width="3.0" stroke-linecap="round" fill="none"/><path d="M61.0 348.7h0M61.0 351.3h0M61.1 349.0h0M61.1 346.1h0M61.1 350.0h0M61.2 360.7h0M61.2 362.0h0M61.3 363.1h0M61.3 358.8h0M61.4 367.9h0M61.4 369.2h0M61.4 365.9h0M61.5 369.1h0M61.5 373.5h0M61.5 367.2h0M61.6 377.3h0M61.6 372.3h0M61.7 373.4h0M61.7 371.8h0M61.7 370.2h0M61.8 374.8h0M61.8 370.0h0M61.9 372.8h0M62.0 371.3h0M62.1 373.8h0M62.1 370.9h0M62.2 365.0h0M62.2 368.2h0M62.2 370.3h0M62.3 366.4h0M62.4 368.0h0M62.4 359.3h0M62.5 364.1h0M62.5 361.7h0M62.5 364.8h0M62.6 360.8h0M62.6 364.1h0M62.6 357.5h0M62.7 354.3h0M62.7 359.0h0M62.8 356.4h0M62.8 352.2h0M62.8 348.6h0M62.9 351.1h0M62.9 348.7h0M63.0 345.5h0M63.0 343.2h0M63.0 344.3h0M63.1 343.3h0M63.1 338.9h0M63.1 336.7h0M63.3 340.6h0M63.3 332.7h0M63.3 331.8h0M63.4 333.5h0M63.4 329.5h0M63.5 321.3h0M63.5 332.1h0M63.5 329.2h0M63.6 324.7h0M63.6 328.9h0M63.6 326.3h0M63.7 323.4h0M63.7 324.8h0M63.8 323.3h0M63.8 325.6h0M63.9 320.0h0M63.9 325.3h0M64.0 323.6h0M64.0 319.8h0M64.1 321.5h0M64.1 323.5h0M64.2 325.9h0M64.2 320.0h0M64.3 325.3h0M64.3 319.9h0M64.3 327.4h0M64.4 321.4h0M64.4 324.5h0M64.4 327.2h0M64.5 330.9h0M64.5 322.7h0M64.5 321.0h0M64.6 323.4h0M64.6 328.9h0M64.7 318.2h0M64.7 325.4h0M64.7 327.1h0M64.8 323.2h0M64.8 327.6h0M64.8 321.2h0M64.9 325.9h0M64.9 327.4h0M65.0 329.2h0M65.0 328.0h0M65.1 323.8h0M65.1 326.1h0M65.1 327.0h0M65.2 328.9h0M65.2 332.2h0M65.2 328.2h0M65.3 333.1h0M65.3 331.2h0M65.3 335.1h0M65.4 338.2h0M65.4 341.2h0M65.4 336.3h0M65.5 342.6h0M65.5 339.8h0M65.6 337.5h0M65.6 340.3h0M65.6 344.3h0M65.7 343.2h0M65.7 338.5h0M65.7 345.8h0M65.8 342.5h0M65.8 344.8h0M65.8 342.7h0M65.9 348.7h0M65.9 345.4h0M65.9 349.2h0M66.0 354.5h0M66.2 356.5h0M66.2 354.1h0M66.3 358.2h0M66.3 355.5h0M66.3 361.0h0M66.4 358.7h0M66.4 359.9h0M66.5 358.0h0M66.5 364.8h0M66.5 360.3h0M66.6 365.3h0M66.6 359.5h0M66.6 364.4h0M66.7 357.3h0M66.7 361.6h0M66.7 358.9h0M66.8 361.5h0M66.8 366.2h0M66.9 364.2h0M66.9 367.7h0M67.0 362.5h0M67.0 365.3h0M67.0 361.3h0M67.1 362.6h0M67.1 364.7h0M67.2 362.4h0M67.2 363.9h0M67.3 361.1h0M67.4 363.0h0M67.4 364.7h0M67.5 366.8h0M67.5 363.8h0M67.6 361.7h0M67.6 365.7h0M67.7 367.7h0M67.7 362.2h0M67.7 366.6h0M67.8 359.7h0M67.8 365.7h0M67.9 364.9h0M67.9 362.2h0M68.0 358.3h0M68.0 365.1h0M68.1 357.1h0M68.2 363.7h0M68.2 355.4h0M68.2 361.9h0M68.3 356.5h0M68.3 364.0h0M68.4 361.2h0M68.4 364.7h0M68.4 359.9h0M68.5 355.7h0M68.5 357.5h0M68.5 356.6h0M68.6 355.3h0M68.6 359.3h0M68.7 357.3h0M68.8 353.0h0M68.9 354.0h0M68.9 352.4h0M69.0 354.5h0M69.0 349.8h0M69.0 350.7h0M69.1 348.4h0M69.1 352.1h0M69.1 343.3h0M69.2 347.4h0M69.3 345.3h0M69.3 352.1h0M69.3 354.1h0M69.4 349.8h0M69.4 343.4h0M69.4 347.2h0M69.5 352.2h0M69.5 347.7h0M69.5 346.7h0M69.6 339.9h0M69.6 344.1h0M69.6 338.7h0M69.7 344.3h0M69.7 343.0h0M69.8 342.0h0M69.8 342.8h0M69.8 350.3h0M69.9 345.0h0M69.9 335.5h0M69.9 341.1h0M70.0 336.5h0M70.0 344.2h0M70.0 337.5h0M70.1 339.7h0M70.1 345.0h0M70.2 335.8h0M70.2 338.2h0M70.3 330.8h0M70.3 332.4h0M70.3 336.5h0M70.4 329.5h0M70.4 338.5h0M70.4 334.9h0M70.5 336.6h0M70.5 335.0h0M70.5 329.8h0M70.6 327.7h0M70.7 330.1h0M70.7 333.0h0M70.8 330.5h0M70.8 331.8h0M70.8 330.9h0M70.9 327.4h0M70.9 331.5h0M71.0 326.1h0M71.0 327.0h0M71.1 328.7h0M71.1 327.0h0M71.1 331.7h0M71.2 324.6h0M71.2 327.5h0M71.3 331.5h0M71.4 333.0h0M71.4 330.0h0M71.4 324.8h0M71.5 330.6h0M71.6 328.1h0M71.6 333.9h0M71.6 328.1h0M71.7 327.1h0M71.7 324.6h0M71.7 328.1h0M71.8 326.8h0M71.8 330.3h0M71.9 334.9h0M71.9 323.5h0M71.9 330.4h0M72.1 327.7h0M72.2 326.2h0M72.2 321.3h0M72.2 332.1h0M72.3 325.6h0M72.3 334.4h0M72.3 326.5h0M72.5 331.5h0M72.5 330.1h0M72.5 326.5h0M72.6 337.4h0M72.6 330.7h0M72.7 333.6h0M72.7 327.5h0M72.7 330.8h0M72.8 325.8h0M72.8 328.2h0M72.8 329.1h0M72.9 327.8h0M72.9 329.3h0M73.0 332.5h0M73.0 336.4h0M73.0 328.1h0M73.1 329.5h0M73.1 332.8h0M73.1 331.1h0M73.2 333.5h0M73.2 331.3h0M73.3 332.5h0M73.3 334.9h0M73.3 331.7h0M73.4 336.3h0M73.4 335.1h0M73.5 330.5h0M73.5 332.3h0M73.5 330.8h0M73.6 328.8h0M73.6 331.2h0M73.6 330.2h0M73.7 331.9h0M73.7 333.3h0M73.7 334.5h0M73.8 331.8h0M73.9 338.4h0M73.9 334.2h0M73.9 333.1h0M74.0 336.0h0M74.0 342.0h0M74.0 336.8h0M74.1 343.0h0M74.1 336.2h0M74.1 340.5h0M74.2 335.7h0M74.2 341.2h0M74.2 335.0h0M74.3 342.3h0M74.4 338.1h0M74.4 336.2h0M74.4 343.2h0M74.5 346.8h0M74.5 340.1h0M74.5 342.6h0M74.6 340.2h0M74.6 347.9h0M74.7 338.9h0M74.7 344.5h0M74.8 343.4h0M74.8 338.2h0M74.8 341.7h0M74.9 343.8h0M74.9 349.7h0M74.9 340.1h0M75.0 347.3h0M75.0 343.2h0M75.0 346.2h0M75.1 342.4h0M75.1 350.0h0M75.1 347.4h0M75.2 348.9h0M75.3 354.4h0M75.3 344.6h0M75.3 345.8h0M75.4 350.8h0M75.4 348.3h0M75.4 346.6h0M75.5 344.9h0M75.5 349.1h0M75.6 350.8h0M75.6 353.7h0M75.6 350.4h0M75.7 351.6h0M75.7 347.3h0M75.8 355.3h0M75.8 352.4h0M75.8 348.7h0M75.9 353.7h0M75.9 350.1h0M76.0 356.7h0M76.0 347.9h0M76.0 356.2h0M76.1 351.7h0M76.1 354.9h0M76.2 360.5h0M76.2 356.7h0M76.2 348.5h0M76.3 354.3h0M76.3 359.4h0M76.4 354.5h0M76.4 355.6h0M76.5 356.7h0M76.5 355.3h0M76.6 357.2h0M76.6 363.1h0M76.7 357.9h0M76.7 356.5h0M76.7 354.2h0M76.8 352.4h0M76.8 356.8h0M76.8 352.4h0M76.9 357.1h0M76.9 353.4h0M76.9 356.7h0M77.0 355.7h0M77.0 361.8h0M77.1 359.4h0M77.1 354.8h0M77.2 355.8h0M77.2 359.3h0M77.2 360.6h0M77.3 359.1h0M77.3 357.4h0M77.4 361.1h0M77.4 358.8h0M77.4 360.2h0M77.5 367.0h0M77.5 362.7h0M77.6 358.5h0M77.6 359.7h0M77.6 357.1h0M77.7 367.0h0M77.7 357.3h0M77.7 360.9h0M77.8 359.5h0M77.8 362.9h0M77.8 356.7h0M77.9 359.5h0M77.9 355.5h0M77.9 362.4h0M78.0 357.7h0M78.0 356.1h0M78.1 354.4h0M78.1 356.8h0M78.2 361.5h0M78.2 362.6h0M78.3 352.6h0M78.3 353.8h0M78.3 359.5h0M78.4 363.3h0M78.4 354.5h0M78.5 355.5h0M78.5 359.4h0M78.5 357.8h0M78.6 355.2h0M78.6 358.5h0M78.7 354.2h0M78.7 356.4h0M78.7 354.9h0M78.8 360.1h0M78.8 356.6h0M78.8 364.7h0M78.9 355.1h0M78.9 363.7h0M79.0 357.4h0M79.0 354.6h0M79.1 358.8h0M79.1 353.6h0M79.1 354.6h0M79.2 359.4h0M79.2 356.0h0M79.3 363.1h0M79.3 357.4h0M79.4 359.3h0M79.5 362.2h0M79.5 356.4h0M79.6 361.6h0M79.6 357.5h0M79.7 356.1h0M79.7 357.7h0M79.7 360.5h0M79.8 358.2h0M79.8 356.9h0M79.9 359.4h0M79.9 354.0h0M80.0 352.8h0M80.0 354.0h0M80.1 355.2h0M80.1 353.9h0M80.1 354.8h0M80.2 356.9h0M80.2 351.9h0M80.2 353.5h0M80.3 357.9h0M80.4 355.5h0M80.4 353.9h0M80.4 359.6h0M80.5 356.6h0M80.5 352.7h0M80.5 354.5h0M80.6 349.8h0M80.6 352.8h0M80.6 360.9h0M80.7 362.2h0M80.7 347.6h0M80.8 355.4h0M80.8 358.2h0M80.8 352.9h0M80.9 354.6h0M80.9 351.9h0M80.9 350.8h0M81.0 353.8h0M81.0 346.0h0M81.0 353.3h0M81.1 356.4h0M81.1 350.6h0M81.2 352.0h0M81.2 350.3h0M81.3 349.4h0M81.3 347.4h0M81.4 353.8h0M81.4 355.6h0M81.4 354.2h0M81.5 350.3h0M81.5 342.0h0M81.5 349.4h0M81.6 346.1h0M81.6 350.3h0M81.7 348.0h0M81.7 345.3h0M81.8 352.0h0M81.8 344.0h0M81.9 348.1h0M82.0 351.9h0M82.0 345.4h0M82.0 348.8h0M82.1 341.5h0M82.2 347.9h0M82.2 349.8h0M82.3 344.8h0M82.3 349.0h0M82.3 344.5h0M82.4 349.0h0M82.4 343.6h0M82.4 345.6h0M82.5 340.6h0M82.5 337.8h0M82.6 344.1h0M82.6 346.7h0M82.7 345.2h0M82.8 342.2h0M82.8 344.2h0M82.9 345.1h0M82.9 341.0h0M82.9 346.7h0M83.0 342.5h0M83.0 345.7h0M83.1 342.8h0M83.1 337.7h0M83.1 342.5h0M83.2 340.5h0M83.2 339.7h0M83.2 337.5h0M83.3 342.8h0M83.3 340.4h0M83.3 344.7h0M83.4 338.4h0M83.4 339.4h0M83.5 340.3h0M83.5 343.1h0M83.6 333.4h0M83.6 342.9h0M83.6 340.4h0M83.7 337.8h0M83.7 345.0h0M83.8 332.1h0M83.8 340.4h0M83.8 338.8h0M83.9 332.5h0M84.0 330.4h0M84.0 333.5h0M84.1 344.7h0M84.1 335.8h0M84.1 334.0h0M84.2 339.5h0M84.2 331.8h0M84.2 334.0h0M84.3 340.0h0M84.3 337.9h0M84.4 340.5h0M84.5 332.6h0M84.5 329.3h0M84.5 331.4h0M84.6 332.6h0M84.6 328.2h0M84.6 329.3h0M84.7 333.5h0M84.7 335.2h0M84.7 331.7h0M84.8 340.4h0M84.8 337.8h0M84.8 336.3h0M84.9 335.3h0M84.9 327.1h0M85.0 334.1h0M85.0 337.8h0M85.0 333.8h0M85.1 338.7h0M85.1 331.6h0M85.1 325.5h0M85.2 329.2h0M85.2 334.6h0M85.3 331.4h0M85.3 335.6h0M85.4 339.2h0M85.4 331.1h0M85.5 335.0h0M85.5 337.7h0M85.5 334.6h0M85.6 330.3h0M85.6 334.1h0M85.7 336.1h0M85.7 337.2h0M85.7 330.7h0M85.8 333.4h0M85.9 336.6h0M86.0 335.0h0M86.0 331.4h0M86.0 332.2h0M86.1 331.0h0M86.1 325.3h0M86.2 335.0h0M86.2 330.1h0M86.2 338.6h0M86.3 331.8h0M86.3 334.1h0M86.4 335.9h0M86.4 333.3h0M86.4 334.3h0M86.5 339.2h0M86.5 333.3h0M86.6 330.8h0M86.6 331.8h0M86.6 329.5h0M86.7 335.1h0M86.7 327.0h0M86.8 331.5h0M86.8 333.1h0M86.9 334.6h0M86.9 331.2h0M86.9 330.3h0M87.0 327.6h0M87.0 330.5h0M87.0 333.0h0M87.1 334.3h0M87.2 332.7h0M87.2 326.6h0M87.3 336.7h0M87.3 334.3h0M87.4 337.3h0M87.4 328.6h0M87.4 336.1h0M87.5 330.2h0M87.5 326.9h0M87.5 334.8h0M87.6 332.6h0M87.6 337.8h0M87.6 333.2h0M87.7 336.8h0M87.7 332.0h0M87.8 338.3h0M87.8 335.1h0M87.9 333.8h0M87.9 330.8h0M88.0 335.3h0M88.0 329.8h0M88.0 332.4h0M88.1 331.4h0M88.2 328.2h0M88.2 334.6h0M88.2 339.2h0M88.3 332.6h0M88.3 336.2h0M88.3 337.3h0M88.4 329.9h0M88.4 332.3h0M88.5 339.0h0M88.5 337.8h0M88.6 334.6h0M88.6 330.4h0M88.7 335.5h0M88.7 331.2h0M88.7 332.6h0M88.8 331.1h0M88.8 335.3h0M88.9 336.9h0M88.9 333.9h0M89.0 333.0h0M89.0 338.3h0M89.1 337.0h0M89.1 338.3h0M89.1 333.5h0M89.2 331.9h0M89.2 339.1h0M89.2 330.2h0M89.3 336.2h0M89.3 334.8h0M89.3 335.8h0M89.4 333.2h0M89.4 335.5h0M89.5 333.5h0M89.6 335.4h0M89.6 337.2h0M89.6 335.9h0M89.7 332.7h0M89.7 336.4h0M89.7 339.0h0M89.8 335.5h0M89.8 331.7h0M89.8 332.6h0M89.9 339.5h0M89.9 334.3h0M89.9 331.7h0M90.0 333.4h0M90.0 341.8h0M90.1 338.7h0M90.1 333.0h0M90.2 336.4h0M90.2 337.8h0M90.2 332.5h0M90.3 335.9h0M90.3 332.6h0M90.4 331.7h0M90.4 338.4h0M90.5 341.8h0M90.5 337.1h0M90.6 334.1h0M90.7 338.1h0M90.7 341.0h0M90.7 334.1h0M90.8 343.0h0M90.8 343.9h0M90.8 334.9h0M91.0 341.1h0M91.0 336.7h0M91.0 338.0h0M91.1 334.7h0M91.1 339.8h0M91.2 340.6h0M91.2 342.3h0M91.2 340.0h0M91.3 341.9h0M91.3 337.6h0M91.3 336.6h0M91.4 332.2h0M91.4 337.5h0M91.5 339.8h0M91.5 337.4h0M91.6 344.5h0M91.6 342.3h0M91.6 339.9h0M91.7 340.9h0M91.7 343.8h0M91.7 336.2h0M91.8 339.7h0M91.9 338.8h0M91.9 340.1h0M92.0 336.2h0M92.0 343.2h0M92.0 340.4h0M92.1 343.7h0M92.1 339.2h0M92.2 348.0h0M92.2 341.9h0M92.3 339.8h0M92.3 343.8h0M92.4 340.7h0M92.4 344.7h0M92.5 348.2h0M92.5 343.3h0M92.6 346.3h0M92.6 340.7h0M92.6 339.5h0M92.7 341.4h0M92.7 344.8h0M92.8 343.0h0M92.8 341.1h0M92.8 344.2h0M92.9 345.9h0M92.9 344.0h0M93.0 341.2h0M93.0 346.3h0M93.0 344.4h0M93.1 347.5h0M93.1 348.5h0M93.1 345.6h0M93.2 346.9h0M93.2 345.0h0M93.3 344.1h0M93.3 349.5h0M93.3 346.2h0M93.4 345.0h0M93.4 346.2h0M93.4 342.1h0M93.5 353.4h0M93.5 342.7h0M93.6 345.8h0M93.6 354.1h0M93.6 343.6h0M93.7 348.6h0M93.7 342.3h0M93.8 345.0h0M93.8 350.3h0M93.9 348.0h0M93.9 343.9h0M93.9 346.7h0M94.0 349.7h0M94.0 353.1h0M94.0 350.9h0M94.1 347.1h0M94.1 348.7h0M94.2 353.5h0M94.2 348.1h0M94.3 349.2h0M94.4 347.3h0M94.4 348.4h0M94.4 354.5h0M94.5 352.1h0M94.5 346.3h0M94.6 354.0h0M94.6 346.2h0M94.7 356.5h0M94.7 346.5h0M94.7 348.8h0M94.8 354.2h0M94.8 347.1h0M94.8 353.3h0M94.9 351.7h0M94.9 354.5h0M94.9 350.0h0M95.0 349.1h0M95.0 347.8h0M95.0 351.7h0M95.1 353.8h0M95.1 351.5h0M95.2 352.7h0M95.2 347.6h0M95.2 350.2h0M95.3 356.9h0M95.3 347.6h0M95.3 353.4h0M95.4 355.6h0M95.4 353.5h0M95.4 357.0h0M95.5 351.0h0M95.5 358.3h0M95.6 355.3h0M95.6 356.1h0M95.6 348.6h0M95.7 351.2h0M95.7 355.1h0M95.7 350.1h0M95.8 348.0h0M95.8 349.7h0M95.9 352.3h0M95.9 355.3h0M95.9 354.4h0M96.0 350.7h0M96.1 352.8h0M96.1 351.0h0M96.1 348.8h0M96.2 357.4h0M96.2 353.1h0M96.2 356.7h0M96.3 360.8h0M96.3 351.4h0M96.3 353.2h0M96.4 356.3h0M96.4 352.4h0M96.5 360.1h0M96.5 345.6h0M96.5 351.5h0M96.6 355.8h0M96.6 353.6h0M96.6 355.6h0M96.7 360.4h0M96.7 355.1h0M96.8 358.5h0M96.8 351.6h0M96.8 350.5h0M96.9 353.0h0M96.9 348.5h0M97.0 352.8h0M97.0 356.7h0M97.0 348.2h0M97.1 353.1h0M97.1 356.6h0M97.2 358.7h0M97.2 354.4h0M97.2 355.4h0M97.3 353.0h0M97.3 357.3h0M97.3 358.6h0M97.4 356.0h0M97.5 357.9h0M97.5 351.9h0M97.5 354.1h0M97.6 358.1h0M97.6 354.2h0M97.6 357.0h0M97.7 351.6h0M97.7 353.8h0M97.7 357.6h0M97.8 356.1h0M97.8 353.5h0M97.9 358.3h0M97.9 355.2h0M97.9 350.3h0M98.0 354.5h0M98.1 362.4h0M98.2 358.4h0M98.3 348.6h0M98.4 354.1h0M98.4 356.3h0M98.5 357.3h0M98.5 355.0h0M98.5 353.1h0M98.6 355.2h0M98.6 350.3h0M98.6 352.6h0M98.7 362.3h0M98.7 346.7h0M98.8 357.7h0M98.8 354.0h0M98.8 352.1h0M98.9 357.7h0M98.9 349.8h0M99.0 358.0h0M99.0 347.3h0M99.0 350.7h0M99.1 354.7h0M99.1 350.6h0M99.2 354.9h0M99.2 360.0h0M99.3 351.1h0M99.3 352.1h0M99.3 360.3h0M99.4 350.1h0M99.4 356.4h0M99.4 358.5h0M99.5 357.3h0M99.5 351.0h0M99.5 349.1h0M99.6 350.1h0M99.6 353.7h0M99.6 355.3h0M99.7 352.5h0M99.7 355.0h0M99.9 358.7h0M99.9 357.6h0M99.9 354.8h0M100.0 352.0h0M100.0 356.4h0M100.0 349.5h0M100.1 358.5h0M100.2 354.3h0M100.2 353.0h0M100.2 356.5h0M100.3 347.1h0M100.3 361.8h0M100.3 354.6h0M100.4 356.3h0M100.5 358.5h0M100.5 354.2h0M100.5 350.2h0M100.6 358.4h0M100.6 354.1h0M100.7 351.3h0M100.7 349.9h0M100.7 355.7h0M100.8 351.2h0M100.8 360.1h0M100.8 351.0h0M100.9 358.5h0M100.9 351.4h0M101.0 354.4h0M101.0 355.7h0M101.0 353.7h0M101.1 355.1h0M101.2 350.3h0M101.3 353.4h0M101.3 355.4h0M101.3 350.8h0M101.4 355.2h0M101.4 353.7h0M101.5 355.0h0M101.5 351.5h0M101.6 347.3h0M101.6 353.9h0M101.7 347.0h0M101.7 357.3h0M101.7 353.8h0M101.8 352.4h0M101.8 360.8h0M101.8 350.3h0M101.9 353.9h0M101.9 358.3h0M101.9 349.9h0M102.0 350.7h0M102.0 356.5h0M102.1 353.0h0M102.1 356.0h0M102.2 350.8h0M102.2 358.3h0M102.2 351.1h0M102.3 355.7h0M102.3 350.3h0M102.3 346.1h0M102.4 349.6h0M102.4 357.0h0M102.5 351.4h0M102.5 354.5h0M102.5 350.7h0M102.6 348.3h0M102.6 357.5h0M102.6 359.9h0M102.7 354.5h0M102.7 356.7h0M102.8 352.9h0M102.9 356.8h0M103.0 348.2h0M103.0 351.5h0M103.0 355.0h0M103.1 349.1h0M103.1 355.6h0M103.1 358.9h0M103.2 352.2h0M103.2 355.4h0M103.2 356.4h0M103.3 349.5h0M103.3 353.4h0M103.3 351.8h0M103.4 348.7h0M103.4 356.0h0M103.5 350.2h0M103.5 352.0h0M103.5 348.6h0M103.6 350.8h0M103.7 352.6h0M103.7 355.9h0M103.7 354.3h0M103.8 352.8h0M103.9 351.9h0M103.9 348.8h0M104.0 353.2h0M104.0 351.6h0M104.1 353.3h0M104.1 347.6h0M104.2 350.7h0M104.2 346.5h0M104.2 349.4h0M104.3 351.8h0M104.3 346.7h0M104.4 352.6h0M104.4 349.4h0M104.4 346.3h0M104.5 347.6h0M104.5 353.0h0M104.5 350.0h0M104.6 351.1h0M104.7 350.1h0M104.7 356.6h0M104.8 345.6h0M104.8 346.9h0M104.9 353.3h0M104.9 349.3h0M105.0 339.6h0M105.0 352.4h0M105.0 345.0h0M105.1 351.0h0M105.1 354.8h0M105.1 350.3h0M105.2 346.1h0M105.2 351.4h0M105.3 347.4h0M105.3 345.9h0M105.4 350.1h0M105.4 347.4h0M105.5 352.5h0M105.6 350.5h0M105.6 345.6h0M105.6 344.5h0M105.7 345.7h0M105.8 347.1h0M105.8 349.3h0M105.8 344.1h0M105.9 346.0h0M105.9 347.1h0M105.9 348.3h0M106.0 346.9h0M106.0 351.9h0M106.0 351.0h0M106.1 347.9h0M106.1 352.7h0M106.2 346.5h0M106.2 349.8h0M106.2 348.3h0M106.3 345.3h0M106.3 350.4h0M106.3 345.5h0M106.4 348.0h0M106.4 344.5h0M106.4 343.6h0M106.5 340.5h0M106.5 341.7h0M106.5 346.1h0M106.6 351.2h0M106.6 344.3h0M106.7 341.0h0M106.7 347.0h0M106.8 348.6h0M106.8 344.7h0M106.9 347.7h0M106.9 351.6h0M106.9 347.5h0M107.0 344.1h0M107.0 346.3h0M107.1 345.4h0M107.1 346.9h0M107.2 344.8h0M107.2 343.5h0M107.3 348.4h0M107.3 350.6h0M107.3 343.5h0M107.4 345.2h0M107.4 340.8h0M107.4 342.3h0M107.5 345.2h0M107.6 341.6h0M107.6 343.4h0M107.6 346.0h0M107.7 350.8h0M107.7 349.0h0M107.7 343.1h0M107.8 336.6h0M107.8 340.9h0M107.8 344.7h0M107.9 343.7h0M107.9 346.1h0M108.0 342.6h0M108.0 346.1h0M108.1 344.9h0M108.1 340.3h0M108.1 338.5h0M108.2 342.0h0M108.2 346.6h0M108.2 342.7h0M108.3 346.9h0M108.3 338.2h0M108.3 347.0h0M108.4 344.5h0M108.4 348.3h0M108.5 341.3h0M108.5 344.5h0M108.5 346.7h0M108.7 343.4h0M108.7 347.3h0M108.7 346.1h0M108.8 342.8h0M108.8 339.8h0M108.8 342.2h0M108.9 335.6h0M108.9 338.9h0M109.0 334.4h0M109.0 343.5h0M109.1 337.0h0M109.1 344.4h0M109.2 339.5h0M109.2 344.0h0M109.2 344.9h0M109.3 340.8h0M109.3 344.1h0M109.3 337.6h0M109.4 333.8h0M109.4 336.2h0M109.5 340.4h0M109.5 342.9h0M109.6 339.5h0M109.6 347.2h0M109.6 337.5h0M109.7 346.9h0M109.7 343.0h0M109.7 342.1h0M109.8 339.6h0M109.9 337.5h0M109.9 341.9h0M109.9 336.0h0M110.0 344.0h0M110.0 338.5h0M110.0 343.8h0M110.1 336.1h0M110.1 342.2h0M110.1 340.5h0M110.2 336.4h0M110.2 339.8h0M110.3 338.1h0M110.3 345.2h0M110.4 339.8h0M110.4 341.5h0M110.5 339.9h0M110.5 343.0h0M110.5 340.1h0M110.6 336.1h0M110.6 338.6h0M110.6 335.5h0M110.7 338.1h0M110.7 341.0h0M110.8 342.6h0M110.8 341.2h0M110.9 335.8h0M110.9 339.4h0M110.9 337.0h0M111.0 334.6h0M111.0 342.9h0M111.0 340.3h0M111.1 343.0h0M111.1 335.9h0M111.1 336.9h0M111.2 339.0h0M111.3 334.2h0M111.4 345.4h0M111.4 337.3h0M111.4 334.5h0M111.5 340.9h0M111.5 338.0h0M111.5 336.7h0M111.6 343.4h0M111.6 337.9h0M111.7 336.4h0M111.7 343.4h0M111.8 338.1h0M111.8 340.0h0M111.8 337.8h0M111.9 336.7h0M111.9 342.2h0M111.9 334.6h0M112.0 339.5h0M112.0 337.1h0M112.0 339.0h0M112.1 334.1h0M112.1 332.4h0M112.2 338.0h0M112.2 339.4h0M112.2 334.1h0M112.3 335.5h0M112.3 339.5h0M112.4 337.3h0M112.4 338.6h0M112.4 333.2h0M112.5 335.9h0M112.5 332.2h0M112.5 335.6h0M112.6 333.3h0M112.6 331.3h0M112.7 335.8h0M112.7 332.9h0M112.7 341.5h0M112.8 337.0h0M112.8 338.8h0M112.8 340.5h0M112.9 339.1h0M112.9 335.7h0M112.9 336.8h0M113.0 334.3h0M113.0 340.9h0M113.0 337.2h0M113.1 333.7h0M113.2 338.2h0M113.2 336.6h0M113.2 335.6h0M113.3 340.6h0M113.3 336.1h0M113.3 338.9h0M113.4 336.7h0M113.4 333.4h0M113.5 336.9h0M113.6 339.0h0M113.6 332.1h0M113.7 336.9h0M113.7 337.9h0M113.7 334.5h0M113.8 338.4h0M113.8 332.9h0M113.8 341.9h0M113.9 339.9h0M113.9 339.0h0M113.9 336.9h0M114.0 338.0h0M114.1 334.1h0M114.1 337.8h0M114.1 332.8h0M114.2 335.3h0M114.2 336.1h0M114.2 338.9h0M114.3 336.7h0M114.3 337.7h0M114.4 334.9h0M114.5 331.7h0M114.5 337.6h0M114.5 341.2h0M114.6 333.0h0M114.6 340.2h0M114.6 334.0h0M114.7 335.0h0M114.7 336.4h0M114.8 341.3h0M114.8 332.1h0M114.8 338.0h0M114.9 333.2h0M114.9 337.9h0M115.0 336.7h0M115.0 341.2h0M115.0 336.4h0M115.1 342.9h0M115.1 338.5h0M115.1 330.6h0M115.2 336.3h0M115.2 339.5h0M115.2 335.1h0M115.3 337.8h0M115.3 336.5h0M115.3 339.6h0M115.4 335.6h0M115.4 338.5h0M115.5 334.7h0M115.5 336.2h0M115.5 339.0h0M115.6 336.3h0M115.6 340.3h0M115.7 336.1h0M115.7 333.6h0M115.7 332.6h0M115.8 341.5h0M115.8 335.8h0M115.9 332.8h0M115.9 330.8h0M115.9 340.1h0M116.0 338.8h0M116.0 335.8h0M116.0 331.0h0M116.1 336.4h0M116.2 330.4h0M116.2 344.5h0M116.2 334.9h0M116.3 339.9h0M116.3 336.8h0M116.4 334.1h0M116.4 333.1h0M116.4 338.2h0M116.5 339.6h0M116.5 335.0h0M116.5 337.7h0M116.6 334.6h0M116.7 330.4h0M116.7 336.7h0M116.8 338.6h0M116.8 334.6h0M116.9 331.2h0M116.9 337.9h0M116.9 340.7h0M117.0 335.0h0M117.0 337.0h0M117.1 332.8h0M117.1 334.6h0M117.2 333.7h0M117.2 340.7h0M117.3 333.9h0M117.3 329.9h0M117.3 335.8h0M117.4 336.7h0M117.5 337.8h0M117.5 336.7h0M117.5 335.3h0M117.6 340.9h0M117.6 336.2h0M117.8 338.4h0M117.8 333.9h0M117.8 337.6h0M117.9 340.9h0M117.9 339.5h0M117.9 336.0h0M118.0 340.4h0M118.0 332.5h0M118.0 333.8h0M118.1 339.2h0M118.2 336.3h0M118.2 333.5h0M118.3 332.5h0M118.3 339.0h0M118.4 337.6h0M118.5 341.6h0M118.5 340.5h0M118.5 336.2h0M118.7 331.7h0M118.7 333.7h0M118.7 338.3h0M118.8 337.1h0M118.8 335.2h0M118.9 339.2h0M118.9 336.5h0M118.9 343.2h0M119.0 335.0h0M119.0 333.6h0M119.0 338.4h0M119.1 333.8h0M119.1 337.3h0M119.2 339.6h0M119.2 338.8h0M119.3 336.0h0M119.3 338.4h0M119.3 334.8h0M119.4 338.6h0M119.4 337.6h0M119.5 340.0h0M119.5 337.9h0M119.6 333.6h0M119.6 341.3h0M119.7 336.6h0M119.7 334.8h0M119.8 336.5h0M119.8 341.3h0M119.9 336.9h0M119.9 334.2h0M119.9 335.3h0M120.0 333.1h0M120.1 339.6h0M120.1 336.7h0M120.1 340.2h0M120.2 335.4h0M120.2 340.8h0M120.2 337.1h0M120.3 334.7h0M120.3 340.1h0M120.4 339.2h0M120.5 340.4h0M120.5 343.8h0M120.5 342.5h0M120.6 335.4h0M120.6 338.5h0M120.6 336.6h0M120.7 339.9h0M120.7 339.0h0M120.8 334.6h0M120.8 333.6h0M120.8 340.4h0M120.9 332.7h0M120.9 336.8h0M121.0 333.8h0M121.0 337.8h0M121.0 340.6h0M121.1 332.5h0M121.2 342.7h0M121.2 336.1h0M121.2 339.8h0M121.3 334.3h0M121.3 335.4h0M121.4 337.5h0M121.4 336.4h0M121.5 334.4h0M121.5 340.2h0M121.6 345.8h0M121.6 337.7h0M121.7 338.8h0M121.7 331.5h0M121.7 338.9h0M121.8 343.2h0M121.9 336.6h0M122.0 340.5h0M122.0 337.8h0M122.1 342.9h0M122.1 340.6h0M122.2 334.2h0M122.2 338.3h0M122.2 340.6h0M122.3 338.9h0M122.3 335.7h0M122.4 342.6h0M122.4 339.9h0M122.4 335.8h0M122.5 342.5h0M122.5 335.4h0M122.5 341.3h0M122.6 338.2h0M122.6 341.0h0M122.6 334.9h0M122.7 343.1h0M122.7 341.8h0M122.7 342.9h0M122.8 339.1h0M122.8 341.9h0M122.9 335.2h0M122.9 342.7h0M122.9 336.0h0M123.0 341.2h0M123.0 337.0h0M123.0 341.3h0M123.1 343.3h0M123.1 339.9h0M123.1 344.8h0M123.2 341.3h0M123.2 336.3h0M123.3 334.2h0M123.3 342.6h0M123.3 341.8h0M123.4 344.0h0M123.4 336.1h0M123.5 337.3h0M123.5 341.9h0M123.5 338.2h0M123.6 345.0h0M123.6 335.6h0M123.6 339.0h0M123.7 336.1h0M123.7 337.0h0M123.8 343.9h0M123.8 339.5h0M123.9 337.3h0M123.9 344.1h0M123.9 341.5h0M124.0 343.8h0M124.0 337.9h0M124.0 341.2h0M124.1 334.2h0M124.1 340.7h0M124.2 344.9h0M124.2 337.1h0M124.2 340.7h0M124.3 337.2h0M124.4 340.8h0M124.4 344.0h0M124.4 339.0h0M124.5 336.7h0M124.5 352.2h0M124.5 339.1h0M124.6 342.9h0M124.6 341.3h0M124.7 334.7h0M124.7 336.1h0M124.7 333.1h0M124.8 335.4h0M124.8 346.7h0M124.8 344.7h0M124.9 339.7h0M124.9 338.1h0M124.9 339.9h0M125.0 338.2h0M125.0 332.0h0M125.0 337.4h0M125.1 338.7h0M125.1 344.3h0M125.2 335.5h0M125.2 344.8h0M125.2 336.9h0M125.3 348.6h0M125.3 347.2h0M125.3 341.3h0M125.4 338.5h0M125.4 345.1h0M125.5 341.1h0M125.5 345.7h0M125.6 342.7h0M125.6 347.4h0M125.6 338.8h0M125.7 343.5h0M125.7 338.6h0M125.7 344.5h0M125.8 341.8h0M126.0 347.6h0M126.0 341.6h0M126.1 344.3h0M126.1 341.5h0M126.1 345.1h0M126.2 350.2h0M126.2 341.0h0M126.3 347.2h0M126.3 342.4h0M126.5 345.7h0M126.5 339.5h0M126.5 340.4h0M126.6 346.5h0M126.6 342.0h0M126.6 338.4h0M126.7 346.7h0M126.7 349.4h0M126.7 342.8h0M126.8 344.1h0M126.8 346.6h0M126.8 342.5h0M126.9 343.9h0M126.9 342.7h0M127.0 341.1h0M127.0 347.9h0M127.1 341.6h0M127.1 344.8h0M127.2 338.4h0M127.3 341.8h0M127.3 344.9h0M127.3 338.3h0M127.4 346.7h0M127.4 344.4h0M127.5 347.2h0M127.5 341.3h0M127.5 342.7h0M127.6 339.5h0M127.6 345.4h0M127.6 343.1h0M127.7 347.0h0M127.7 350.1h0M127.7 347.9h0M127.8 341.3h0M127.8 347.8h0M127.9 349.0h0M127.9 343.6h0M128.0 340.0h0M128.0 346.7h0M128.1 343.9h0M128.1 341.9h0M128.1 346.7h0M128.2 344.9h0M128.2 349.3h0M128.2 347.7h0M128.3 345.5h0M128.3 350.2h0M128.4 348.5h0M128.4 349.8h0M128.5 344.6h0M128.5 345.9h0M128.5 351.9h0M128.6 349.5h0M128.6 343.6h0M128.6 341.3h0M128.7 350.7h0M128.7 346.0h0M128.8 348.7h0M128.8 346.6h0M128.9 349.5h0M128.9 344.4h0M128.9 351.2h0M129.0 347.0h0M129.0 344.9h0M129.0 343.3h0M129.1 348.6h0M129.1 345.3h0M129.1 349.7h0M129.2 348.1h0M129.2 346.5h0M129.3 345.1h0M129.3 348.1h0M129.4 340.5h0M129.4 347.6h0M129.4 345.1h0M129.5 344.1h0M129.5 343.2h0M129.5 345.1h0M129.6 346.8h0M129.7 344.8h0M129.8 351.1h0M129.8 341.4h0M129.9 343.5h0M129.9 344.4h0M129.9 343.3h0M130.0 347.0h0M130.0 342.6h0M130.0 343.6h0M130.1 342.7h0M130.1 347.3h0M130.2 349.3h0M130.2 351.6h0M130.2 344.1h0M130.3 350.2h0M130.3 344.2h0M130.4 346.9h0M130.4 350.3h0M130.5 346.7h0M130.5 353.4h0M130.5 350.1h0M130.6 345.4h0M130.6 344.0h0M130.7 349.5h0M130.7 347.9h0M130.8 352.3h0M130.8 345.1h0M130.8 346.5h0M130.9 345.7h0M130.9 350.1h0M131.0 346.9h0M131.0 342.4h0M131.0 348.2h0M131.1 350.4h0M131.1 352.8h0M131.2 342.8h0M131.2 355.8h0M131.2 349.4h0M131.3 346.6h0M131.3 352.0h0M131.3 343.3h0M131.4 346.0h0M131.4 343.9h0M131.4 347.4h0M131.5 351.8h0M131.5 343.4h0M131.6 348.6h0M131.6 350.8h0M131.6 349.6h0M131.7 350.6h0M131.7 348.5h0M131.7 353.7h0M131.8 348.1h0M131.8 350.6h0M131.8 349.0h0M131.9 349.9h0M131.9 347.3h0M131.9 351.3h0M132.0 344.0h0M132.0 344.9h0M132.1 349.3h0M132.1 350.9h0M132.1 353.0h0M132.2 350.2h0M132.2 345.1h0M132.2 352.9h0M132.3 346.4h0M132.3 349.4h0M132.3 348.4h0M132.4 349.5h0M132.4 351.2h0M132.5 350.3h0M132.5 348.8h0M132.6 346.6h0M132.6 345.8h0M132.6 351.0h0M132.7 347.9h0M132.7 350.1h0M132.7 353.3h0M132.8 348.9h0M132.8 353.5h0M132.9 346.5h0M133.0 350.0h0M133.0 351.2h0M133.0 348.3h0M133.1 351.7h0M133.1 357.7h0M133.1 350.2h0M133.2 352.8h0M133.2 350.7h0M133.3 352.2h0M133.3 350.9h0M133.3 347.1h0M133.4 348.5h0M133.4 352.6h0M133.5 345.4h0M133.5 351.3h0M133.6 350.0h0M133.6 351.1h0M133.7 344.9h0M133.7 343.4h0M133.7 351.7h0M133.8 346.1h0M133.9 354.7h0M133.9 352.6h0M133.9 343.0h0M134.0 347.9h0M134.0 351.8h0M134.0 353.2h0M134.1 352.3h0M134.1 351.4h0M134.1 347.2h0M134.2 348.8h0M134.2 349.9h0M134.3 354.3h0M134.4 346.1h0M134.4 353.6h0M134.4 354.9h0M134.5 349.5h0M134.5 352.5h0M134.6 348.0h0M134.6 346.0h0M134.6 350.2h0M134.7 357.0h0M134.7 353.3h0M134.8 349.1h0M134.8 355.4h0M134.9 346.4h0M134.9 351.8h0M134.9 355.9h0M135.0 351.4h0M135.0 347.8h0M135.0 351.3h0M135.1 353.9h0M135.1 348.0h0M135.2 354.3h0M135.2 348.7h0M135.3 352.9h0M135.3 349.5h0M135.4 356.0h0M135.4 357.0h0M135.5 353.8h0M135.5 349.4h0M135.6 351.5h0M135.6 350.1h0M135.6 353.3h0M135.7 354.5h0M135.7 351.1h0M135.8 348.7h0M135.8 351.6h0M135.8 355.0h0M135.9 349.4h0M135.9 352.3h0M135.9 354.9h0M136.0 350.8h0M136.0 352.3h0M136.0 350.9h0M136.1 344.9h0M136.2 351.7h0M136.2 348.8h0M136.2 354.5h0M136.3 358.4h0M136.3 351.2h0M136.3 349.4h0M136.4 355.1h0M136.4 350.4h0M136.4 352.1h0M136.5 356.2h0M136.5 353.5h0M136.6 348.7h0M136.7 350.2h0M136.7 353.8h0M136.8 360.5h0M136.8 355.9h0M136.8 348.1h0M136.9 349.0h0M136.9 352.4h0M136.9 358.1h0M137.0 352.2h0M137.0 355.6h0M137.1 353.4h0M137.1 349.1h0M137.2 351.8h0M137.2 352.8h0M137.3 349.0h0M137.3 357.2h0M137.3 354.1h0M137.4 356.9h0M137.4 348.7h0M137.5 344.5h0M137.5 352.1h0M137.6 347.6h0M137.6 353.8h0M137.7 352.4h0M137.7 354.9h0M137.7 352.0h0M137.8 342.8h0M137.8 350.5h0M137.8 351.6h0M137.9 353.1h0M137.9 347.2h0M138.0 351.3h0M138.1 349.9h0M138.1 351.0h0M138.2 356.5h0M138.2 350.3h0M138.2 352.5h0M138.3 350.1h0M138.3 353.3h0M138.3 355.6h0M138.4 351.5h0M138.4 353.3h0M138.5 348.6h0M138.5 350.6h0M138.6 355.5h0M138.6 349.7h0M138.6 352.6h0M138.7 349.0h0M138.8 353.5h0M138.8 352.4h0M138.9 358.8h0M138.9 355.1h0M139.0 361.2h0M139.0 351.1h0M139.0 353.3h0M139.1 350.2h0M139.1 353.3h0M139.1 357.1h0M139.2 348.5h0M139.2 356.2h0M139.2 348.4h0M139.3 355.9h0M139.3 352.0h0M139.3 348.8h0M139.4 350.0h0M139.4 353.2h0M139.5 349.9h0M139.5 352.8h0M139.5 354.9h0M139.6 351.2h0M139.6 353.0h0M139.6 359.2h0M139.7 350.2h0M139.7 354.2h0M139.8 350.2h0M139.9 347.5h0M139.9 355.3h0M140.0 350.8h0M140.0 348.9h0M140.0 353.2h0M140.1 350.1h0M140.1 351.4h0M140.2 349.9h0M140.2 357.3h0M140.2 355.3h0M140.3 350.1h0M140.4 344.0h0M140.4 351.6h0M140.4 348.1h0M140.5 350.7h0M140.5 347.0h0M140.5 350.4h0M140.6 355.8h0M140.6 353.2h0M140.6 351.5h0M140.7 350.2h0M140.7 356.1h0M140.7 348.3h0M140.8 350.3h0M140.8 351.5h0M140.9 357.6h0M140.9 352.9h0M140.9 355.5h0M141.0 346.9h0M141.0 351.8h0M141.0 349.1h0M141.1 348.0h0M141.1 355.0h0M141.1 353.3h0M141.2 355.2h0M141.2 346.2h0M141.3 353.3h0M141.3 354.8h0M141.3 350.5h0M141.4 351.9h0M141.5 350.1h0M141.5 347.4h0M141.6 358.1h0M141.6 355.5h0M141.6 350.7h0M141.7 354.1h0M141.7 351.2h0M141.8 355.7h0M141.8 350.3h0M141.8 349.4h0M141.9 354.8h0M141.9 349.7h0M141.9 348.3h0M142.0 350.9h0M142.0 349.8h0M142.1 353.0h0M142.2 351.6h0M142.2 349.9h0M142.2 347.7h0M142.3 354.6h0M142.3 357.3h0M142.3 349.8h0M142.4 347.5h0M142.4 357.7h0M142.4 352.9h0M142.5 348.8h0M142.5 346.4h0M142.5 353.0h0M142.6 346.9h0M142.6 349.3h0M142.7 348.2h0M142.7 355.8h0M142.7 360.5h0M142.8 352.4h0M142.8 354.9h0M142.8 348.6h0M142.9 353.1h0M142.9 350.1h0M142.9 354.8h0M143.0 348.0h0M143.0 351.5h0M143.0 354.8h0M143.1 347.0h0M143.1 348.3h0M143.2 353.1h0M143.2 349.3h0M143.3 344.8h0M143.3 351.4h0M143.4 354.4h0M143.4 352.8h0M143.4 350.0h0M143.5 353.1h0M143.5 350.4h0M143.6 351.9h0M143.6 354.1h0M143.7 347.8h0M143.7 351.2h0M143.8 353.0h0M143.8 348.5h0M143.9 352.1h0M143.9 349.9h0M144.0 354.4h0M144.0 352.4h0M144.1 349.7h0M144.1 354.4h0M144.2 352.9h0M144.2 349.4h0M144.2 353.3h0M144.3 351.1h0M144.3 349.3h0M144.4 354.8h0M144.4 351.1h0M144.4 352.1h0M144.5 351.2h0M144.5 349.1h0M144.6 347.2h0M144.6 350.5h0M144.6 353.3h0M144.7 356.7h0M144.7 354.6h0M144.7 350.1h0M144.8 351.1h0M144.8 357.3h0M144.9 344.8h0M144.9 353.8h0M145.0 356.9h0M145.0 350.5h0M145.0 358.0h0M145.1 348.9h0M145.1 352.2h0M145.1 356.2h0M145.2 357.0h0M145.2 352.1h0M145.2 353.3h0M145.3 351.0h0M145.3 355.9h0M145.4 351.8h0M145.4 349.5h0M145.5 351.4h0M145.5 354.3h0M145.6 350.5h0M145.6 353.9h0M145.6 357.1h0M145.7 345.9h0M145.7 356.0h0M145.7 353.0h0M145.8 351.7h0M145.8 355.9h0M145.9 351.2h0M146.0 347.0h0M146.0 357.1h0M146.0 349.0h0M146.1 352.0h0M146.2 356.7h0M146.2 349.7h0M146.2 352.7h0M146.3 351.5h0M146.4 353.5h0M146.4 348.8h0M146.5 350.1h0M146.5 352.0h0M146.5 344.1h0M146.6 346.0h0M146.6 350.0h0M146.6 354.8h0M146.7 352.1h0M146.8 349.2h0M146.8 350.0h0M146.9 353.2h0M146.9 344.2h0M147.0 351.5h0M147.0 347.9h0M147.1 351.2h0M147.1 352.1h0M147.1 351.0h0M147.2 362.2h0M147.2 350.0h0M147.3 343.7h0M147.3 351.0h0M147.4 354.2h0M147.4 351.0h0M147.4 353.5h0M147.5 352.3h0M147.5 350.5h0M147.5 352.4h0M147.6 348.8h0M147.6 350.5h0M147.6 357.2h0M147.7 351.2h0M147.7 346.7h0M147.8 352.1h0M147.8 348.2h0M147.8 344.2h0M147.9 352.9h0M147.9 347.8h0M148.0 344.0h0M148.0 355.5h0M148.0 348.5h0M148.1 352.1h0M148.1 350.8h0M148.2 354.6h0M148.2 355.9h0M148.2 350.4h0M148.3 347.3h0M148.3 349.0h0M148.4 354.1h0M148.4 356.9h0M148.4 348.9h0M148.5 353.2h0M148.5 349.5h0M148.5 345.6h0M148.6 349.3h0M148.6 353.1h0M148.7 352.1h0M148.7 349.5h0M148.8 354.6h0M148.8 352.0h0M148.9 349.6h0M148.9 346.0h0M148.9 348.8h0M149.0 346.7h0M149.0 349.8h0M149.1 351.0h0M149.1 352.2h0M149.2 346.5h0M149.2 350.1h0M149.2 347.4h0M149.3 349.3h0M149.3 345.5h0M149.3 351.8h0M149.4 344.9h0M149.4 353.0h0M149.4 351.4h0M149.5 354.1h0M149.5 352.4h0M149.6 351.0h0M149.6 344.5h0M149.6 351.6h0M149.7 349.9h0M149.7 348.1h0M149.8 351.2h0M149.8 348.6h0M149.8 349.5h0M149.9 353.6h0M149.9 350.1h0M149.9 352.4h0M150.0 347.3h0M150.1 350.2h0M150.1 345.5h0M150.1 348.9h0M150.2 353.2h0M150.3 349.1h0M150.3 344.8h0M150.3 352.9h0M150.4 347.8h0M150.4 348.8h0M150.4 344.5h0M150.5 343.7h0M150.5 350.0h0M150.6 351.6h0M150.6 344.1h0M150.6 347.4h0M150.7 350.8h0M150.7 349.0h0M150.7 352.8h0M150.8 343.7h0M150.8 351.1h0" stroke="#ff7f0e" stroke-width="3.0" stroke-linecap="round" fill="none"/><polyline points="61.0,316.3 61.4,320.7 62.3,362.2 62.7,369.2 63.3,368.1 63.5,365.5 64.8,330.2 65.1,325.5 65.4,324.1 66.1,325.0 66.5,327.1 68.2,357.3 68.6,361.2 69.1,362.3 70.1,361.6 70.6,359.9 73.1,334.2 73.6,331.0 73.9,330.2 74.3,330.0 75.7,330.6 76.4,332.2 79.8,353.4 80.5,356.3 81.4,357.3 83.4,356.8 84.5,355.5 89.2,337.4 90.3,335.0 90.8,334.4 91.5,334.2 94.4,334.6 95.8,335.8 96.9,338.1 102.1,350.6 103.5,352.8 104.9,353.7 106.1,353.8 109.2,353.5 110.4,353.1 111.3,352.5 113.0,350.7 118.0,343.1 120.7,339.5 122.7,337.8 125.0,337.2 130.7,337.5 133.5,338.4 135.7,340.0 142.0,345.8 145.7,348.9 148.3,350.4 150.8,351.1" stroke="#000" stroke-width="0.8" stroke-dasharray="2.4,1.4" fill="none" stroke-linejoin="round"/><polyline points="61.0,344.8 61.4,366.6 61.7,371.4 62.1,370.2 62.4,367.2 63.4,328.5 63.9,322.3 64.5,323.2 64.9,325.8 66.3,358.0 66.7,362.3 67.1,363.8 67.9,363.1 68.4,361.1 70.4,333.6 70.9,329.9 71.4,328.7 72.7,329.4 73.2,331.0 76.2,354.3 76.8,357.4 77.5,358.4 79.2,357.9 80.1,356.5 84.1,336.8 85.0,334.1 85.5,333.5 86.0,333.3 88.4,333.7 89.6,335.0 90.6,337.4 95.2,351.4 96.3,353.6 97.6,354.5 101.2,354.2 102.1,353.8 102.9,353.1 104.2,351.2 108.4,343.1 110.7,339.1 112.4,337.2 114.2,336.6 119.2,336.9 120.5,337.2 121.6,337.9 123.5,339.6 131.5,348.8 133.5,350.5 135.3,351.4 138.2,351.8 145.1,351.4 147.9,350.5 150.8,348.8" stroke="#000" stroke-width="0.8" stroke-dasharray="2.4,1.4" fill="none" stroke-linejoin="round"/></g>
<rect x="56.5" y="309.2" width="98.8" height="71.2" fill="none" stroke="#000" stroke-width="1.3"/>
<line x1="61.0" y1="380.4" x2="61.0" y2="383.0" stroke="#000" stroke-width="0.6"/>
<text x="61.0" y="396.7" text-anchor="middle" font-size="14.5" >0</text>
<line x1="132.8" y1="380.4" x2="132.8" y2="383.0" stroke="#000" stroke-width="0.6"/>
<text x="132.8" y="396.7" text-anchor="middle" font-size="14.5" >20</text>
<text x="105.9" y="414.1" text-anchor="middle" font-size="14.5" >time</text>
<text x="105.9" y="299.4" text-anchor="middle" font-size="14.5" >noisy data</text>
<line x1="53.9" y1="309.2" x2="56.5" y2="309.2" stroke="#000" stroke-width="0.6"/>
<text x="50.7" y="313.1" text-anchor="end" font-size="14.5" >2.5</text>
<line x1="53.9" y1="344.8" x2="56.5" y2="344.8" stroke="#000" stroke-width="0.6"/>
<text x="50.7" y="348.7" text-anchor="end" font-size="14.5" >0</text>
<line x1="53.9" y1="380.4" x2="56.5" y2="380.4" stroke="#000" stroke-width="0.6"/>
<text x="50.7" y="384.3" text-anchor="end" font-size="14.5" >−2.5</text>
<text transform="translate(13.0,344.8) rotate(-90)" text-anchor="middle" font-size="15.5">{<tspan font-style="italic">x</tspan><tspan font-size="10.5" dy="3.2">1</tspan><tspan dy="-3.2">, </tspan><tspan font-style="italic">x</tspan><tspan font-size="10.5" dy="3.2">2</tspan><tspan dy="-3.2">}</tspan></text>
<g clip-path="url(#c21)"><polyline points="219.8,309.2 220.2,314.6 221.1,366.6 221.5,375.3 222.1,374.0 222.3,370.6 223.6,326.6 223.9,320.7 224.2,318.9 224.9,320.0 225.3,322.6 227.0,360.5 227.4,365.3 227.9,366.7 228.9,365.8 229.4,363.6 231.9,331.5 232.4,327.5 232.7,326.6 233.1,326.3 234.5,327.1 235.2,329.1 238.6,355.6 239.3,359.2 239.7,360.1 240.2,360.5 242.2,359.8 243.3,358.2 248.0,335.5 249.1,332.5 249.6,331.8 250.3,331.5 253.2,332.1 253.9,332.7 254.6,333.6 255.7,336.4 260.9,352.0 262.3,354.7 263.7,355.9 264.9,356.0 268.0,355.6 269.2,355.2 270.1,354.5 271.8,352.1 276.8,342.7 279.5,338.2 281.5,336.0 282.6,335.5 283.8,335.3 289.5,335.7 291.0,336.1 292.3,336.8 294.5,338.8 300.8,346.0 304.5,349.9 307.1,351.8 309.6,352.7" stroke="#1f77b4" stroke-width="2.1" fill="none" stroke-linejoin="round"/><polyline points="219.8,344.8 220.2,372.0 220.5,378.0 220.9,376.5 221.2,372.8 222.2,324.4 222.7,316.7 223.3,317.9 223.7,321.1 225.1,361.3 225.5,366.7 225.9,368.6 226.7,367.6 227.2,365.1 229.2,330.8 229.7,326.2 230.2,324.7 231.5,325.5 232.0,327.6 235.0,356.7 235.6,360.6 235.9,361.5 236.3,361.8 238.0,361.1 238.9,359.4 242.9,334.7 243.8,331.5 244.3,330.7 244.8,330.4 247.2,331.0 247.9,331.5 248.4,332.5 249.4,335.5 254.0,353.0 255.1,355.8 255.7,356.6 256.4,356.9 257.4,357.0 260.0,356.5 260.9,356.1 261.7,355.2 263.0,352.7 267.2,342.6 269.5,337.7 271.2,335.4 272.0,334.8 273.0,334.5 278.0,334.9 279.3,335.3 280.4,336.1 282.3,338.3 290.3,349.8 292.3,351.9 294.1,353.1 295.4,353.4 297.0,353.6 303.9,353.0 306.7,352.0 309.6,349.8" stroke="#ff7f0e" stroke-width="2.1" fill="none" stroke-linejoin="round"/><polyline points="219.8,309.2 220.2,314.6 221.1,366.6 221.5,375.3 222.1,374.0 222.3,370.6 223.6,326.6 223.9,320.7 224.2,318.9 224.9,320.0 225.3,322.6 227.0,360.5 227.4,365.3 227.9,366.7 228.9,365.8 229.4,363.6 231.9,331.5 232.4,327.5 232.7,326.6 233.1,326.3 234.5,327.1 235.2,329.1 238.6,355.6 239.3,359.2 239.7,360.1 240.2,360.5 242.2,359.8 243.3,358.2 248.0,335.5 249.1,332.5 249.6,331.8 250.3,331.5 253.2,332.1 253.9,332.7 254.6,333.6 255.7,336.4 260.9,352.0 262.3,354.7 263.7,355.9 264.9,356.0 268.0,355.6 269.2,355.2 270.1,354.5 271.8,352.1 276.8,342.7 279.5,338.2 281.5,336.0 282.6,335.5 283.8,335.3 289.5,335.7 291.0,336.1 292.3,336.8 294.5,338.8 300.8,346.0 304.5,349.9 307.1,351.8 309.6,352.7" stroke="#000" stroke-width="0.8" stroke-dasharray="2.4,1.4" fill="none" stroke-linejoin="round"/><polyline points="219.8,344.8 220.2,372.0 220.5,378.0 220.9,376.5 221.2,372.8 222.2,324.4 222.7,316.7 223.3,317.9 223.7,321.1 225.1,361.3 225.5,366.7 225.9,368.6 226.7,367.6 227.2,365.1 229.2,330.8 229.7,326.2 230.2,324.7 231.5,325.5 232.0,327.6 235.0,356.7 235.6,360.6 235.9,361.5 236.3,361.8 238.0,361.1 238.9,359.4 242.9,334.7 243.8,331.5 244.3,330.7 244.8,330.4 247.2,331.0 247.9,331.5 248.4,332.5 249.4,335.5 254.0,353.0 255.1,355.8 255.7,356.6 256.4,356.9 257.4,357.0 260.0,356.5 260.9,356.1 261.7,355.2 263.0,352.7 267.2,342.6 269.5,337.7 271.2,335.4 272.0,334.8 273.0,334.5 278.0,334.9 279.3,335.3 280.4,336.1 282.3,338.3 290.3,349.8 292.3,351.9 294.1,353.1 295.4,353.4 297.0,353.6 303.9,353.0 306.7,352.0 309.6,349.8" stroke="#000" stroke-width="0.8" stroke-dasharray="2.4,1.4" fill="none" stroke-linejoin="round"/></g>
<rect x="215.3" y="309.2" width="98.8" height="71.2" fill="none" stroke="#000" stroke-width="1.3"/>
<line x1="219.8" y1="380.4" x2="219.8" y2="383.0" stroke="#000" stroke-width="0.6"/>
<text x="219.8" y="396.7" text-anchor="middle" font-size="14.5" >0</text>
<line x1="291.6" y1="380.4" x2="291.6" y2="383.0" stroke="#000" stroke-width="0.6"/>
<text x="291.6" y="396.7" text-anchor="middle" font-size="14.5" >20</text>
<text x="264.7" y="414.1" text-anchor="middle" font-size="14.5" >time</text>
<text x="264.7" y="299.4" text-anchor="middle" font-size="14.5" >denoised data</text>
<line x1="212.7" y1="309.2" x2="215.3" y2="309.2" stroke="#000" stroke-width="0.6"/>
<text x="209.5" y="313.1" text-anchor="end" font-size="14.5" >2</text>
<line x1="212.7" y1="344.8" x2="215.3" y2="344.8" stroke="#000" stroke-width="0.6"/>
<text x="209.5" y="348.7" text-anchor="end" font-size="14.5" >0</text>
<line x1="212.7" y1="380.4" x2="215.3" y2="380.4" stroke="#000" stroke-width="0.6"/>
<text x="209.5" y="384.3" text-anchor="end" font-size="14.5" >−2</text>
<text transform="translate(183.1,344.8) rotate(-90)" text-anchor="middle" font-size="15.5">{<tspan font-style="italic">x</tspan><tspan font-size="10.5" dy="3.2">1</tspan><tspan dy="-3.2">, </tspan><tspan font-style="italic">x</tspan><tspan font-size="10.5" dy="3.2">2</tspan><tspan dy="-3.2">}</tspan></text>
<g clip-path="url(#c22)"><polyline points="379.0,324.0 379.3,332.3 379.4,349.6 379.5,332.8 379.7,325.4 379.9,326.5 380.1,351.5 380.1,338.3 380.5,335.3 380.7,350.9 381.0,324.4 381.3,320.3 381.8,318.2 382.2,321.2 382.4,329.3 382.7,367.2 382.8,338.2 383.1,329.1 383.5,325.5 384.0,328.3 384.3,328.6 384.5,331.8 384.8,355.1 384.9,334.8 385.5,325.4 385.7,325.2 386.1,326.6 386.3,330.0 386.7,351.7 386.9,336.9 388.3,322.4 388.8,331.0 388.9,353.4 389.2,332.9 390.1,325.9 390.5,327.9 390.9,333.1 391.2,350.7 391.5,333.2 391.9,325.9 392.2,324.3 392.7,333.2 392.8,353.8 392.9,334.5 393.2,328.9 393.6,334.8 393.8,350.3 394.0,335.9 394.1,336.9 394.3,360.3 394.5,336.5 394.8,330.3 395.3,326.8 396.0,326.4 396.2,326.7 396.8,332.5 397.3,334.6 397.6,356.3 398.0,336.3 399.1,326.1 399.4,324.9 399.7,324.9 400.2,328.1 401.2,342.9 401.4,360.5 401.6,341.8 402.1,332.4 402.2,332.1 402.9,335.7 403.6,329.7 404.3,327.9 404.6,327.5 405.6,331.5 406.3,332.4 406.7,336.0 407.1,356.0 407.2,341.2 407.5,333.8 407.7,332.2 408.3,331.0 409.0,327.3 409.3,326.8 409.7,326.9 410.4,328.3 410.8,330.0 411.6,337.4 412.2,333.9 412.4,335.2 413.0,345.8 413.1,362.9 413.3,343.8 413.9,332.8 415.1,327.0 415.4,327.6 416.1,331.9 416.7,329.6 417.4,328.7 417.9,330.8 418.5,337.7 419.4,353.7 420.0,343.5 420.3,345.0 420.7,367.8 420.8,355.5 421.8,334.2 423.0,329.0 423.3,328.7 423.9,328.7 424.4,327.4 424.7,327.3 426.3,334.5 426.5,334.8 426.9,334.1 427.2,336.2 427.6,346.9 427.7,365.2 427.9,354.5 428.0,356.7 428.1,373.8 428.2,350.8 428.5,347.8 428.7,360.6 428.9,344.0 429.4,336.3 429.7,335.0 430.1,335.9 430.2,335.7 431.0,329.4 431.7,329.4 432.5,328.0 433.1,328.1 433.8,327.6 435.4,333.1 435.6,333.5 436.7,334.0 437.0,335.9 437.4,345.4 437.6,364.9 437.8,346.3 438.0,349.3 438.2,375.2 438.5,345.1 438.6,344.3 438.9,349.9 439.0,364.9 439.3,345.9 439.9,343.2 440.5,333.4 441.4,329.0 442.0,329.8 443.0,327.2 443.8,329.3 444.5,327.9 444.7,327.8 446.0,330.6 447.0,334.1 447.9,345.5 448.5,342.0 449.3,339.9 449.5,339.9 449.8,347.9 449.9,370.7 450.0,344.7 450.4,337.2 451.3,339.9 451.6,339.2 452.3,334.3 452.6,334.0 453.1,334.6 453.3,334.3 454.2,329.3 454.9,328.7 455.7,327.5 456.6,326.5 456.9,326.5 457.5,327.4 458.2,329.3 458.7,329.9 459.5,333.1 460.1,333.8 460.7,335.5 461.2,335.9 461.8,337.8 462.3,337.8 462.6,338.7 463.3,346.1 463.5,365.2 463.8,344.9 463.9,344.8 464.1,347.2 464.4,359.7 464.8,344.1 465.1,338.4 466.2,334.0 466.3,333.8 466.6,333.9 466.8,333.7 467.6,330.4 467.9,330.0 468.8,329.8" stroke="#1f77b4" stroke-width="1.9" fill="none" stroke-linejoin="round"/><polyline points="379.0,324.5 379.1,323.6 379.4,339.6 379.5,325.6 380.0,319.8 380.6,333.6 380.8,347.1 381.0,324.3 381.3,321.5 381.8,320.8 382.0,321.8 382.3,332.3 382.4,352.0 382.6,336.9 382.7,336.5 382.9,339.4 383.4,330.1 383.7,345.4 383.8,330.5 384.2,326.3 385.0,329.9 385.2,340.8 385.2,365.2 385.3,336.1 385.6,327.8 386.3,335.8 386.8,333.0 387.0,334.1 387.2,359.1 387.3,338.1 387.6,328.0 387.7,327.5 388.4,334.1 389.3,326.6 389.7,334.7 389.8,355.0 390.0,332.3 390.4,327.2 390.7,325.1 391.0,324.8 391.6,329.2 391.7,329.4 392.0,329.0 392.1,329.3 392.3,332.1 392.6,363.2 392.7,337.5 393.1,330.1 393.7,331.4 394.5,329.1 394.8,331.2 395.1,336.6 395.3,358.5 395.6,333.8 396.6,325.9 397.2,323.5 397.5,323.3 397.6,323.6 397.9,325.8 398.6,339.6 399.2,334.1 399.4,334.9 399.7,352.8 400.0,335.6 400.6,327.3 401.1,324.9 401.7,327.1 402.6,339.3 402.8,356.8 403.0,343.0 403.3,337.7 403.4,337.3 403.7,338.9 404.4,331.1 405.4,328.0 405.6,327.9 406.2,329.6 406.8,327.8 407.0,327.8 408.4,335.9 408.7,357.1 408.8,342.5 409.0,339.2 409.2,338.0 409.6,339.6 409.9,346.7 410.0,361.5 410.2,348.6 410.4,358.3 410.5,341.4 410.9,331.4 411.3,329.4 411.8,329.4 412.5,328.6 412.8,328.6 413.3,330.9 413.9,339.1 414.1,339.6 414.4,339.4 414.5,339.5 414.7,342.2 414.9,378.1 414.9,351.0 415.2,337.6 415.3,336.7 415.7,344.1 415.8,361.6 416.0,344.7 416.1,344.1 416.3,360.8 416.7,336.6 417.0,333.7 418.0,328.2 418.4,327.4 418.7,327.7 419.4,330.0 420.3,328.7 420.8,328.7 421.5,332.9 422.6,346.2 422.8,369.2 422.9,348.6 423.2,340.6 423.4,339.7 423.8,339.6 423.9,339.1 424.9,331.1 426.0,328.8 426.7,329.4 426.8,329.4 427.6,327.4 428.1,327.7 428.5,328.2 429.3,333.1 430.4,334.9 430.6,336.3 430.9,344.5 431.0,359.8 431.2,342.1 431.4,337.4 431.7,335.6 431.9,336.5 432.3,346.2 432.4,365.1 432.6,347.8 432.7,346.5 432.9,360.1 433.0,345.7 433.4,336.2 434.8,329.1 435.4,327.9 436.3,328.5 437.0,327.6 437.2,327.7 438.1,331.1 440.1,335.8 441.1,343.4 441.2,343.8 441.5,343.8 441.6,344.1 442.0,348.0 442.5,340.0 442.9,338.9 443.2,339.2 443.5,345.2 443.6,361.4 443.8,341.6 444.3,334.0 445.0,333.0 446.0,329.8 446.7,329.5 447.4,328.2 447.8,327.9 448.3,328.2 449.0,330.2 449.8,330.0 450.5,332.2 451.1,331.9 451.2,332.0 451.7,334.0 452.0,337.9 452.6,353.1 453.0,342.4 453.3,339.9 453.5,340.9 454.3,360.3 454.6,346.1 454.9,342.1 455.1,342.6 455.6,352.0 455.8,367.8 456.2,342.3 456.4,339.4 457.8,331.4 458.4,329.8 459.7,328.5 460.5,328.9 461.6,327.9 462.5,329.2 463.2,328.5 463.7,328.6 464.6,333.0 464.7,333.1 465.2,332.1 465.6,332.7 466.4,338.5 466.8,349.1 466.9,367.4 467.1,357.1 467.2,358.5 467.3,379.2 467.4,355.5 467.6,354.4 467.9,375.1 468.0,361.9 468.1,360.8 468.3,363.5 468.8,349.7" stroke="#ff7f0e" stroke-width="1.9" fill="none" stroke-linejoin="round"/></g>
<rect x="374.5" y="309.2" width="98.8" height="71.2" fill="none" stroke="#000" stroke-width="1.3"/>
<line x1="379.0" y1="380.4" x2="379.0" y2="383.0" stroke="#000" stroke-width="0.6"/>
<text x="379.0" y="396.7" text-anchor="middle" font-size="14.5" >0</text>
<line x1="450.8" y1="380.4" x2="450.8" y2="383.0" stroke="#000" stroke-width="0.6"/>
<text x="450.8" y="396.7" text-anchor="middle" font-size="14.5" >20</text>
<text x="423.9" y="414.1" text-anchor="middle" font-size="14.5" >time</text>
<text x="423.9" y="299.4" text-anchor="middle" font-size="14.5" >denoising quality</text>
<line x1="371.9" y1="323.1" x2="374.5" y2="323.1" stroke="#000" stroke-width="0.6"/>
<text x="369.3" y="330.1" text-anchor="end" font-size="14.5">10<tspan font-size="10.5" dx="-0.6" dy="-4.1">−1</tspan></text>
<line x1="371.9" y1="380.4" x2="374.5" y2="380.4" stroke="#000" stroke-width="0.6"/>
<text x="369.3" y="387.4" text-anchor="end" font-size="14.5">10<tspan font-size="10.5" dx="-0.6" dy="-4.1">−5</tspan></text>
<text transform="translate(338.0,344.8) rotate(-90)" text-anchor="middle" font-size="14.5">abs. error</text>
<g clip-path="url(#c23)"><polyline points="537.8,339.1 538.1,343.9 538.2,354.2 538.7,324.7 538.9,351.4 538.9,344.5 539.0,345.7 539.2,345.2 539.4,346.1 539.5,355.3 539.7,340.3 539.9,336.8 540.8,330.0 541.0,319.0 541.5,362.6 541.6,345.5 542.0,340.6 542.3,338.8 542.9,340.5 543.1,340.4 543.3,342.0 543.6,355.5 544.3,316.9 544.4,329.6 545.2,342.1 545.5,354.3 545.7,345.3 547.1,336.0 547.6,340.7 547.7,354.2 547.8,343.2 548.6,333.0 548.8,320.9 549.0,330.5 549.8,342.7 550.0,352.2 550.2,342.4 550.6,338.2 550.9,336.7 551.2,337.9 551.4,341.2 551.6,355.1 551.7,343.1 552.0,339.6 552.4,343.2 552.6,352.8 552.8,343.7 552.9,344.2 553.1,358.6 553.4,342.2 553.9,337.4 554.7,332.6 555.0,327.9 555.2,312.2 555.3,329.4 555.6,335.2 556.3,342.6 556.4,354.2 556.7,342.8 557.9,337.3 558.4,336.4 558.9,338.3 560.0,347.6 560.2,358.5 560.3,348.0 560.6,342.8 561.0,340.6 561.6,342.2 561.8,342.0 563.5,331.4 563.9,327.5 564.1,319.4 564.4,332.0 565.7,342.6 565.9,353.7 566.3,340.7 566.5,339.7 567.0,339.4 567.8,337.4 568.3,337.0 569.1,337.8 569.6,338.9 570.4,343.5 571.0,341.4 571.2,342.1 571.8,348.6 571.9,359.2 572.1,348.3 572.5,341.8 573.8,335.5 574.1,335.1 574.9,336.3 575.7,331.9 576.2,326.3 576.4,317.0 576.7,328.7 578.2,350.2 578.8,344.9 579.2,347.5 579.5,360.8 579.6,353.3 580.6,340.7 581.7,337.8 582.0,337.6 582.7,337.6 583.4,336.7 585.1,341.1 585.3,341.3 585.7,340.9 586.0,342.1 586.4,348.8 586.5,360.1 586.7,353.4 586.8,354.7 586.9,365.4 587.0,351.1 587.3,349.2 587.5,357.1 587.7,347.6 588.1,342.4 588.4,340.9 588.6,340.7 588.9,341.1 589.0,340.9 589.7,336.6 590.6,335.5 591.9,332.4 593.1,328.5 593.5,324.5 593.6,316.2 594.1,330.1 594.6,333.3 595.7,337.1 596.0,340.5 596.4,356.8 596.6,345.6 596.7,346.5 597.0,364.0 597.0,350.3 597.3,345.3 597.4,345.1 597.6,347.9 597.8,358.3 598.1,346.2 598.6,345.5 599.2,340.1 599.9,337.5 600.2,337.0 600.9,337.6 601.7,336.0 602.6,337.4 603.3,336.4 603.6,336.4 605.5,339.4 606.7,347.3 607.3,345.1 608.1,343.7 608.3,343.8 608.6,348.6 608.7,362.8 608.7,348.1 609.1,342.2 609.3,341.8 609.8,343.2 610.1,343.3 611.1,339.5 611.3,339.2 611.9,339.2 612.1,338.9 613.0,335.2 613.8,334.1 615.5,330.4 616.9,328.2 617.5,323.0 617.7,312.2 617.8,322.3 618.2,328.8 619.4,334.8 620.6,338.3 621.2,339.2 621.9,342.8 622.2,347.8 622.3,357.0 622.6,344.7 622.9,346.3 623.2,354.2 623.6,344.8 623.9,341.4 624.4,340.6 625.0,339.0 625.6,339.0 626.5,337.1 627.6,336.9" stroke="#1f77b4" stroke-width="1.9" fill="none" stroke-linejoin="round"/><polyline points="537.8,291.4 537.8,329.3 538.2,347.6 538.3,339.7 538.8,336.1 539.4,342.0 539.6,348.8 539.8,310.4 539.9,331.0 540.2,334.7 540.8,336.6 541.0,339.1 541.2,355.5 541.3,346.6 541.5,345.8 541.7,347.0 542.3,337.2 542.5,341.0 542.5,327.8 542.6,334.1 543.9,343.0 544.0,363.2 544.1,345.1 544.5,339.8 545.1,344.4 545.7,340.5 545.8,341.0 546.0,354.7 546.4,316.8 546.7,334.2 547.3,341.9 548.1,338.5 548.3,339.8 548.6,356.2 548.8,342.1 549.1,339.0 549.7,337.1 550.3,339.0 550.9,337.2 551.2,338.1 551.4,355.1 551.7,322.7 551.9,330.4 552.3,336.2 552.6,338.2 553.2,338.6 553.4,339.2 553.8,342.1 554.1,357.7 554.4,342.0 555.5,337.1 556.3,335.6 556.5,336.0 556.8,337.5 557.4,344.7 558.1,339.7 558.2,340.1 558.5,349.3 559.2,326.0 559.2,311.0 559.4,327.0 561.1,341.3 561.6,355.6 562.0,344.4 562.2,343.8 562.6,344.9 563.2,340.1 564.3,338.0 565.0,339.0 565.6,337.8 565.8,337.7 566.5,340.3 566.9,340.6 567.1,341.2 567.4,345.2 567.5,354.3 567.7,343.6 568.0,341.5 568.2,341.1 568.4,341.4 568.7,344.7 568.8,353.5 569.0,344.4 569.2,349.4 569.7,316.5 569.8,325.9 570.2,331.2 570.7,333.7 571.8,336.5 572.7,343.5 572.9,344.2 573.3,344.3 573.5,345.6 573.7,368.5 573.7,351.6 574.0,343.7 574.1,342.9 574.5,347.5 574.6,358.4 574.8,347.9 574.9,347.5 575.1,357.9 575.5,342.8 576.7,337.8 577.2,337.0 577.5,337.2 578.2,338.6 579.2,337.5 579.6,337.4 580.4,340.0 581.4,346.8 581.6,360.8 581.8,344.7 582.1,341.9 582.8,339.4 583.9,329.1 584.3,316.7 584.5,326.4 585.3,331.8 585.7,333.2 586.4,333.5 587.2,335.0 588.1,339.0 589.2,340.8 589.5,342.0 589.7,346.9 589.8,356.4 590.0,345.5 590.2,342.6 590.5,341.5 590.7,342.3 591.1,348.1 591.2,359.9 591.4,349.1 591.5,348.3 591.7,356.8 591.8,347.9 592.2,341.9 593.6,337.5 594.1,336.7 595.1,337.0 595.8,336.5 596.0,336.5 596.9,338.5 599.0,340.8 599.9,344.9 600.4,345.1 600.8,347.0 601.4,341.3 601.7,340.4 602.0,340.3 602.3,343.4 602.4,353.2 602.7,338.4 603.0,335.4 603.8,331.9 604.3,327.7 604.7,314.7 604.9,324.0 605.4,329.0 605.8,330.3 607.0,332.5 607.8,334.9 608.5,335.4 609.3,337.4 610.0,337.7 610.3,338.6 610.9,342.5 611.4,351.4 611.8,344.5 612.1,343.4 612.2,343.6 612.7,347.2 613.1,356.2 613.4,347.4 613.7,344.9 613.9,345.3 614.4,351.1 614.6,360.9 615.0,345.1 615.2,343.3 616.7,337.9 617.2,337.2 618.5,336.4 619.3,336.7 620.4,336.0 621.3,336.7 622.3,336.2 622.7,336.6 623.4,338.9 624.1,338.1 624.5,338.7 625.1,341.0 625.4,344.9 625.7,359.5 625.9,353.0 625.9,353.3 626.1,366.7 626.2,351.9 626.4,351.2 626.7,363.9 626.8,355.6 626.9,354.9 627.1,356.4 627.6,347.5" stroke="#ff7f0e" stroke-width="1.9" fill="none" stroke-linejoin="round"/></g>
<rect x="533.3" y="309.2" width="98.8" height="71.2" fill="none" stroke="#000" stroke-width="1.3"/>
<line x1="537.8" y1="380.4" x2="537.8" y2="383.0" stroke="#000" stroke-width="0.6"/>
<text x="537.8" y="396.7" text-anchor="middle" font-size="14.5" >0</text>
<line x1="609.6" y1="380.4" x2="609.6" y2="383.0" stroke="#000" stroke-width="0.6"/>
<text x="609.6" y="396.7" text-anchor="middle" font-size="14.5" >20</text>
<text x="582.7" y="414.1" text-anchor="middle" font-size="14.5" >time</text>
<text x="582.7" y="299.4" text-anchor="middle" font-size="14.5" >denoising quality</text>
<line x1="530.7" y1="335.9" x2="533.3" y2="335.9" stroke="#000" stroke-width="0.6"/>
<text x="528.1" y="342.9" text-anchor="end" font-size="14.5">10<tspan font-size="10.5" dx="-0.6" dy="-4.1">−1</tspan></text>
<line x1="530.7" y1="380.4" x2="533.3" y2="380.4" stroke="#000" stroke-width="0.6"/>
<text x="528.1" y="387.4" text-anchor="end" font-size="14.5">10<tspan font-size="10.5" dx="-0.6" dy="-4.1">−6</tspan></text>
<text transform="translate(496.8,344.8) rotate(-90)" text-anchor="middle" font-size="14.5">rel. error</text>
<text transform="translate(667.0,353.8) rotate(-90)" text-anchor="middle" font-size="14.5">noise 20%</text>
<g clip-path="url(#c30)"><path d="M61.0 457.3h0M61.0 467.4h0M61.1 456.1h0M61.1 460.6h0M61.1 465.7h0M61.2 458.4h0M61.2 460.3h0M61.2 463.1h0M61.3 459.5h0M61.3 463.7h0M61.4 462.0h0M61.4 465.5h0M61.5 470.1h0M61.5 471.0h0M61.5 473.1h0M61.6 465.2h0M61.6 459.7h0M61.6 466.2h0M61.7 483.8h0M61.7 491.3h0M61.7 483.2h0M61.8 482.1h0M61.9 486.9h0M61.9 485.6h0M61.9 483.0h0M62.0 492.7h0M62.0 498.0h0M62.1 505.1h0M62.1 503.8h0M62.1 499.0h0M62.2 497.4h0M62.2 504.4h0M62.2 503.1h0M62.3 513.9h0M62.3 503.9h0M62.4 516.0h0M62.4 513.1h0M62.5 508.6h0M62.5 510.2h0M62.5 508.3h0M62.6 518.1h0M62.6 507.2h0M62.6 520.2h0M62.7 507.2h0M62.7 517.4h0M62.8 510.1h0M62.8 521.7h0M62.8 509.7h0M62.9 511.3h0M62.9 513.3h0M63.0 511.2h0M63.0 501.9h0M63.0 516.6h0M63.1 509.0h0M63.1 515.4h0M63.2 510.6h0M63.2 511.7h0M63.3 512.5h0M63.3 511.2h0M63.3 507.4h0M63.4 515.6h0M63.4 512.1h0M63.4 514.3h0M63.5 512.2h0M63.5 508.8h0M63.5 506.5h0M63.6 502.0h0M63.6 511.0h0M63.6 512.3h0M63.7 506.6h0M63.7 498.0h0M63.8 511.3h0M63.8 503.6h0M63.8 507.4h0M63.9 491.6h0M63.9 494.4h0M63.9 503.5h0M64.0 493.1h0M64.0 498.4h0M64.0 491.7h0M64.1 497.8h0M64.1 494.1h0M64.2 491.5h0M64.2 482.1h0M64.2 486.6h0M64.3 491.4h0M64.3 488.4h0M64.4 493.8h0M64.4 483.0h0M64.5 471.2h0M64.5 479.2h0M64.5 469.7h0M64.6 478.9h0M64.6 481.9h0M64.7 474.6h0M64.7 471.3h0M64.7 468.7h0M64.8 473.9h0M64.8 472.6h0M64.8 477.2h0M64.9 482.8h0M64.9 468.4h0M64.9 459.6h0M65.0 465.6h0M65.0 466.6h0M65.1 470.3h0M65.1 469.0h0M65.1 477.3h0M65.2 471.1h0M65.3 464.7h0M65.3 467.9h0M65.4 461.4h0M65.4 475.6h0M65.4 462.0h0M65.5 466.8h0M65.5 465.5h0M65.6 468.7h0M65.6 464.7h0M65.6 471.4h0M65.7 464.6h0M65.7 468.6h0M65.7 482.0h0M65.8 464.9h0M65.8 472.3h0M65.9 476.8h0M65.9 467.9h0M65.9 458.6h0M66.0 466.8h0M66.0 464.4h0M66.1 473.1h0M66.1 460.5h0M66.1 470.9h0M66.2 467.2h0M66.2 462.8h0M66.2 459.0h0M66.3 468.2h0M66.3 465.8h0M66.3 476.2h0M66.4 464.6h0M66.4 478.5h0M66.5 469.9h0M66.5 479.9h0M66.5 462.6h0M66.6 461.2h0M66.6 469.6h0M66.6 472.8h0M66.7 481.3h0M66.7 473.4h0M66.7 477.8h0M66.8 465.8h0M66.8 477.4h0M66.8 475.2h0M66.9 469.8h0M66.9 473.0h0M67.0 481.1h0M67.0 485.0h0M67.0 477.1h0M67.1 482.6h0M67.1 493.9h0M67.1 478.7h0M67.2 480.5h0M67.2 485.4h0M67.2 486.6h0M67.3 478.1h0M67.3 486.7h0M67.4 488.1h0M67.4 484.6h0M67.4 482.0h0M67.5 490.8h0M67.5 485.9h0M67.5 484.9h0M67.6 498.4h0M67.6 491.2h0M67.6 493.9h0M67.7 489.0h0M67.7 496.4h0M67.7 490.0h0M67.8 497.1h0M67.9 495.0h0M67.9 493.2h0M67.9 497.5h0M68.0 500.5h0M68.0 497.8h0M68.1 492.6h0M68.1 500.3h0M68.1 495.5h0M68.2 498.3h0M68.2 504.6h0M68.2 495.4h0M68.3 508.6h0M68.3 498.1h0M68.4 503.7h0M68.5 497.9h0M68.5 494.9h0M68.5 509.0h0M68.6 510.7h0M68.6 506.0h0M68.6 504.4h0M68.7 502.0h0M68.7 505.0h0M68.8 510.0h0M68.8 512.6h0M68.8 510.6h0M68.9 509.5h0M68.9 507.3h0M68.9 509.1h0M69.0 500.5h0M69.0 498.0h0M69.0 509.8h0M69.1 503.5h0M69.2 499.5h0M69.2 505.5h0M69.3 507.0h0M69.3 502.4h0M69.3 503.6h0M69.4 507.9h0M69.4 510.6h0M69.5 498.6h0M69.5 506.6h0M69.5 493.2h0M69.6 509.7h0M69.6 508.0h0M69.6 501.8h0M69.7 500.5h0M69.7 498.5h0M69.8 509.0h0M69.8 503.2h0M69.8 510.9h0M69.9 491.3h0M69.9 493.9h0M69.9 504.6h0M70.0 502.7h0M70.0 506.9h0M70.0 502.1h0M70.1 512.2h0M70.1 508.0h0M70.2 511.7h0M70.2 503.5h0M70.2 495.5h0M70.3 504.8h0M70.3 509.9h0M70.3 504.2h0M70.4 503.2h0M70.4 516.3h0M70.5 505.9h0M70.6 494.0h0M70.6 508.0h0M70.7 511.7h0M70.7 500.6h0M70.8 509.8h0M70.8 507.7h0M70.9 492.7h0M70.9 501.3h0M71.0 507.2h0M71.0 503.2h0M71.1 497.3h0M71.1 492.1h0M71.1 497.0h0M71.2 498.9h0M71.2 495.0h0M71.2 500.6h0M71.3 502.8h0M71.3 498.9h0M71.3 492.2h0M71.4 489.7h0M71.4 498.5h0M71.4 502.2h0M71.5 486.6h0M71.5 492.6h0M71.6 502.2h0M71.6 499.9h0M71.6 490.3h0M71.7 492.4h0M71.7 497.9h0M71.7 496.5h0M71.8 486.2h0M71.9 485.0h0M71.9 490.5h0M72.0 495.4h0M72.0 484.1h0M72.1 491.4h0M72.2 480.7h0M72.2 486.8h0M72.2 483.2h0M72.3 482.4h0M72.3 486.0h0M72.3 486.8h0M72.4 481.6h0M72.4 476.5h0M72.5 488.6h0M72.5 478.8h0M72.5 489.8h0M72.6 484.6h0M72.6 491.2h0M72.6 482.3h0M72.7 477.0h0M72.7 482.3h0M72.7 478.5h0M72.8 485.1h0M72.8 478.2h0M72.9 481.0h0M72.9 479.5h0M73.0 486.6h0M73.0 483.2h0M73.1 473.5h0M73.1 478.2h0M73.2 474.1h0M73.2 465.6h0M73.2 470.0h0M73.3 471.0h0M73.3 480.9h0M73.3 472.3h0M73.4 481.9h0M73.4 471.1h0M73.5 486.4h0M73.5 474.4h0M73.5 485.9h0M73.6 473.6h0M73.6 477.4h0M73.6 471.1h0M73.7 473.4h0M73.7 480.3h0M73.8 479.5h0M73.8 469.5h0M73.9 475.2h0M73.9 472.7h0M73.9 477.7h0M74.0 475.7h0M74.0 468.7h0M74.0 477.8h0M74.1 466.1h0M74.1 468.5h0M74.1 475.2h0M74.2 477.2h0M74.2 470.5h0M74.2 485.4h0M74.3 479.0h0M74.3 469.9h0M74.4 466.6h0M74.4 477.8h0M74.5 472.1h0M74.5 475.7h0M74.5 470.0h0M74.6 479.6h0M74.6 473.1h0M74.6 477.5h0M74.7 472.7h0M74.7 468.4h0M74.8 467.5h0M74.8 471.7h0M74.9 466.5h0M74.9 480.7h0M74.9 474.6h0M75.0 465.9h0M75.0 476.0h0M75.0 473.9h0M75.1 479.5h0M75.1 470.4h0M75.1 475.2h0M75.2 468.5h0M75.2 474.3h0M75.3 476.4h0M75.3 479.3h0M75.3 480.4h0M75.4 473.0h0M75.4 481.2h0M75.4 474.7h0M75.5 475.9h0M75.5 474.0h0M75.5 469.7h0M75.6 480.5h0M75.6 483.3h0M75.6 474.0h0M75.7 477.9h0M75.7 473.1h0M75.8 475.7h0M75.8 472.8h0M75.8 477.8h0M75.9 475.2h0M76.0 460.9h0M76.0 474.0h0M76.0 482.0h0M76.1 471.5h0M76.1 475.6h0M76.2 472.3h0M76.2 469.8h0M76.2 479.7h0M76.3 471.1h0M76.3 480.5h0M76.3 470.6h0M76.4 483.7h0M76.4 474.4h0M76.4 476.2h0M76.5 478.0h0M76.5 479.0h0M76.5 476.3h0M76.6 478.6h0M76.6 467.7h0M76.7 475.9h0M76.7 479.5h0M76.7 481.7h0M76.8 487.6h0M76.8 471.7h0M76.9 476.6h0M76.9 478.7h0M76.9 475.9h0M77.0 472.2h0M77.0 471.2h0M77.1 481.7h0M77.1 479.5h0M77.1 487.9h0M77.2 481.1h0M77.2 472.5h0M77.2 475.4h0M77.3 479.7h0M77.3 484.6h0M77.4 485.8h0M77.4 471.8h0M77.4 487.9h0M77.5 483.0h0M77.5 480.4h0M77.6 488.4h0M77.6 482.5h0M77.7 484.0h0M77.7 478.9h0M77.7 491.8h0M77.8 478.5h0M77.8 491.0h0M77.9 487.8h0M77.9 493.6h0M78.0 484.8h0M78.1 491.4h0M78.1 488.4h0M78.1 486.8h0M78.2 490.8h0M78.2 481.0h0M78.2 494.8h0M78.3 486.4h0M78.3 487.8h0M78.3 495.5h0M78.4 488.7h0M78.5 487.4h0M78.5 502.3h0M78.5 492.2h0M78.6 478.3h0M78.6 490.4h0M78.7 491.8h0M78.7 489.4h0M78.7 488.4h0M78.8 490.1h0M78.8 497.2h0M78.9 488.0h0M79.0 487.0h0M79.0 494.3h0M79.1 487.2h0M79.1 497.1h0M79.1 495.4h0M79.2 494.4h0M79.2 502.3h0M79.2 488.4h0M79.3 490.4h0M79.3 498.2h0M79.3 488.0h0M79.4 497.8h0M79.5 500.5h0M79.5 488.9h0M79.6 499.8h0M79.6 492.7h0M79.6 501.8h0M79.7 492.7h0M79.7 486.3h0M79.7 500.7h0M79.8 492.1h0M79.8 502.5h0M79.9 497.0h0M79.9 499.5h0M79.9 497.0h0M80.0 494.2h0M80.0 502.2h0M80.1 503.2h0M80.1 495.7h0M80.2 501.9h0M80.2 497.0h0M80.3 498.1h0M80.4 501.1h0M80.4 496.8h0M80.4 495.2h0M80.5 497.8h0M80.5 501.9h0M80.5 493.7h0M80.6 500.3h0M80.6 495.1h0M80.6 509.4h0M80.7 505.0h0M80.7 498.7h0M80.8 507.7h0M80.8 493.8h0M80.8 503.5h0M80.9 498.3h0M81.0 503.7h0M81.0 502.0h0M81.0 499.7h0M81.1 497.4h0M81.1 499.5h0M81.1 495.7h0M81.2 498.4h0M81.2 510.8h0M81.3 496.9h0M81.3 498.3h0M81.3 502.8h0M81.4 505.6h0M81.4 507.9h0M81.4 504.3h0M81.5 501.4h0M81.5 497.7h0M81.5 505.7h0M81.6 502.4h0M81.6 493.1h0M81.6 505.1h0M81.7 503.5h0M81.7 492.4h0M81.8 511.4h0M81.8 497.9h0M81.8 507.7h0M81.9 500.4h0M81.9 506.7h0M81.9 503.1h0M82.0 505.2h0M82.0 500.6h0M82.0 497.0h0M82.1 495.2h0M82.1 501.6h0M82.2 505.6h0M82.2 510.3h0M82.2 501.5h0M82.3 508.2h0M82.3 495.8h0M82.3 501.3h0M82.4 505.8h0M82.4 507.7h0M82.4 508.8h0M82.5 495.1h0M82.5 498.4h0M82.5 502.0h0M82.6 505.0h0M82.6 499.4h0M82.7 504.1h0M82.7 502.6h0M82.8 504.6h0M82.8 502.4h0M82.9 497.0h0M82.9 503.8h0M82.9 496.2h0M83.0 493.0h0M83.0 511.1h0M83.1 495.4h0M83.1 502.3h0M83.1 510.5h0M83.2 504.6h0M83.2 498.1h0M83.2 499.7h0M83.3 502.3h0M83.3 498.9h0M83.4 500.8h0M83.4 499.3h0M83.4 507.2h0M83.5 488.9h0M83.5 497.2h0M83.6 505.6h0M83.6 503.8h0M83.7 490.8h0M83.7 502.3h0M83.7 499.0h0M83.8 490.1h0M83.8 498.4h0M83.8 503.6h0M83.9 501.0h0M83.9 502.1h0M83.9 506.3h0M84.0 494.1h0M84.1 508.2h0M84.1 500.4h0M84.1 498.9h0M84.2 496.7h0M84.2 508.6h0M84.2 502.3h0M84.3 508.3h0M84.3 501.5h0M84.3 500.5h0M84.4 494.6h0M84.4 498.6h0M84.5 503.8h0M84.5 500.6h0M84.6 494.9h0M84.6 501.5h0M84.6 505.1h0M84.7 498.8h0M84.7 500.5h0M84.7 495.5h0M84.8 496.6h0M84.8 502.0h0M84.9 508.1h0M84.9 494.9h0M85.0 493.0h0M85.0 502.3h0M85.0 495.7h0M85.1 497.3h0M85.1 491.7h0M85.2 500.9h0M85.2 491.5h0M85.2 496.1h0M85.3 483.8h0M85.3 499.3h0M85.4 501.4h0M85.4 497.2h0M85.5 490.5h0M85.5 501.3h0M85.5 498.2h0M85.6 496.3h0M85.6 497.3h0M85.7 499.0h0M85.7 501.0h0M85.7 487.3h0M85.8 496.7h0M85.9 487.0h0M85.9 497.0h0M86.0 487.0h0M86.0 491.9h0M86.0 491.1h0M86.1 489.6h0M86.1 498.8h0M86.1 491.4h0M86.2 492.7h0M86.2 489.5h0M86.2 494.9h0M86.3 496.2h0M86.4 490.6h0M86.4 487.6h0M86.4 499.9h0M86.5 492.1h0M86.5 487.1h0M86.5 499.2h0M86.6 489.8h0M86.6 498.4h0M86.6 497.4h0M86.7 489.2h0M86.7 487.0h0M86.8 484.2h0M86.8 488.2h0M86.9 492.6h0M86.9 488.5h0M86.9 485.8h0M87.0 490.5h0M87.0 491.3h0M87.0 482.8h0M87.1 489.0h0M87.1 496.5h0M87.1 487.6h0M87.2 491.5h0M87.2 485.4h0M87.3 494.7h0M87.3 497.7h0M87.3 488.0h0M87.4 485.7h0M87.4 499.2h0M87.4 477.0h0M87.5 488.1h0M87.5 492.6h0M87.5 484.3h0M87.6 490.4h0M87.6 489.5h0M87.7 481.3h0M87.7 490.6h0M87.8 488.4h0M87.8 490.3h0M87.9 489.3h0M87.9 492.2h0M88.0 486.6h0M88.0 484.6h0M88.0 487.0h0M88.1 492.0h0M88.1 492.9h0M88.2 488.8h0M88.2 489.7h0M88.2 485.8h0M88.3 482.0h0M88.3 486.2h0M88.3 477.4h0M88.4 489.5h0M88.4 486.3h0M88.4 477.0h0M88.5 475.8h0M88.5 485.9h0M88.5 489.5h0M88.6 475.3h0M88.6 482.6h0M88.7 488.0h0M88.7 484.5h0M88.7 470.5h0M88.8 484.0h0M88.8 479.3h0M88.8 486.7h0M88.9 481.2h0M88.9 477.6h0M88.9 480.3h0M89.0 483.2h0M89.1 479.9h0M89.1 493.7h0M89.1 484.1h0M89.2 478.5h0M89.2 479.5h0M89.2 482.5h0M89.3 475.2h0M89.3 482.5h0M89.3 467.2h0M89.4 471.4h0M89.4 468.8h0M89.4 472.1h0M89.5 479.4h0M89.5 490.6h0M89.6 472.4h0M89.6 477.2h0M89.6 482.9h0M89.7 482.1h0M89.7 484.8h0M89.7 476.4h0M89.8 487.5h0M89.8 475.5h0M89.8 477.8h0M89.9 476.3h0M89.9 483.3h0M89.9 477.6h0M90.0 481.1h0M90.0 478.1h0M90.1 484.2h0M90.1 480.8h0M90.2 475.8h0M90.2 484.1h0M90.2 488.9h0M90.3 481.5h0M90.3 482.7h0M90.3 481.1h0M90.4 476.2h0M90.4 482.6h0M90.5 478.7h0M90.5 482.3h0M90.5 480.4h0M90.6 477.5h0M90.6 480.6h0M90.6 473.3h0M90.7 475.6h0M90.7 483.9h0M90.8 479.2h0M90.8 474.1h0M90.8 469.6h0M90.9 486.9h0M90.9 477.7h0M91.0 479.5h0M91.0 472.3h0M91.1 478.6h0M91.1 485.3h0M91.1 472.7h0M91.2 480.7h0M91.2 478.6h0M91.3 475.9h0M91.4 477.7h0M91.4 474.1h0M91.5 477.5h0M91.5 475.2h0M91.5 477.8h0M91.6 478.6h0M91.6 480.8h0M91.6 470.8h0M91.7 479.9h0M91.7 473.7h0M91.8 475.8h0M91.8 474.6h0M91.9 470.1h0M91.9 475.6h0M91.9 476.9h0M92.0 473.1h0M92.0 478.0h0M92.1 470.3h0M92.1 474.2h0M92.2 478.7h0M92.2 482.7h0M92.2 479.5h0M92.4 474.0h0M92.4 477.1h0M92.4 475.6h0M92.5 481.3h0M92.5 483.6h0M92.5 482.0h0M92.6 480.6h0M92.6 478.7h0M92.6 477.2h0M92.7 474.8h0M92.7 469.5h0M92.8 482.0h0M92.8 476.2h0M92.8 467.4h0M92.9 479.3h0M92.9 480.2h0M92.9 476.1h0M93.0 485.2h0M93.0 486.3h0M93.0 482.7h0M93.1 476.9h0M93.1 484.3h0M93.1 483.2h0M93.2 477.6h0M93.2 470.9h0M93.3 479.9h0M93.3 480.9h0M93.3 477.4h0M93.4 482.5h0M93.4 479.8h0M93.4 470.5h0M93.5 475.9h0M93.5 482.9h0M93.6 474.6h0M93.6 485.8h0M93.6 473.7h0M93.7 476.7h0M93.8 482.4h0M93.8 468.9h0M93.8 484.4h0M93.9 474.1h0M93.9 476.1h0M93.9 472.3h0M94.0 483.2h0M94.0 479.0h0M94.0 483.2h0M94.1 479.7h0M94.1 476.5h0M94.2 474.4h0M94.2 480.7h0M94.2 467.2h0M94.3 487.5h0M94.3 481.6h0M94.3 485.8h0M94.4 477.9h0M94.4 483.1h0M94.4 477.3h0M94.5 485.7h0M94.5 482.4h0M94.5 470.6h0M94.6 476.0h0M94.6 478.9h0M94.7 478.1h0M94.7 472.4h0M94.7 476.5h0M94.8 482.7h0M94.8 473.4h0M94.9 479.3h0M94.9 477.2h0M94.9 480.8h0M95.0 470.8h0M95.0 484.4h0M95.0 476.1h0M95.1 482.4h0M95.1 473.4h0M95.2 479.5h0M95.2 478.1h0M95.2 474.5h0M95.3 479.6h0M95.3 474.1h0M95.3 490.3h0M95.4 482.8h0M95.4 476.1h0M95.4 480.5h0M95.5 477.8h0M95.5 470.1h0M95.6 487.7h0M95.6 479.3h0M95.6 489.5h0M95.7 477.2h0M95.7 482.8h0M95.7 476.7h0M95.8 474.8h0M95.8 483.2h0M95.9 468.0h0M95.9 481.6h0M95.9 479.7h0M96.0 482.7h0M96.0 480.5h0M96.1 477.9h0M96.1 475.3h0M96.1 479.7h0M96.2 485.8h0M96.2 478.8h0M96.2 482.1h0M96.3 476.0h0M96.3 486.1h0M96.3 479.3h0M96.4 484.9h0M96.4 479.7h0M96.5 483.5h0M96.5 470.5h0M96.5 478.6h0M96.6 490.2h0M96.6 474.1h0M96.6 483.3h0M96.7 479.6h0M96.7 485.8h0M96.7 479.4h0M96.8 481.5h0M96.8 486.6h0M96.8 480.2h0M97.0 487.9h0M97.0 484.0h0M97.1 479.4h0M97.1 490.1h0M97.1 482.6h0M97.2 488.7h0M97.2 477.6h0M97.2 480.9h0M97.3 484.3h0M97.3 476.1h0M97.3 481.8h0M97.4 492.2h0M97.4 491.0h0M97.5 485.3h0M97.5 474.1h0M97.5 483.2h0M97.6 486.9h0M97.6 482.5h0M97.7 488.8h0M97.7 486.2h0M97.7 484.7h0M97.9 477.1h0M97.9 479.5h0M98.0 490.8h0M98.0 480.7h0M98.0 483.7h0M98.1 485.2h0M98.2 475.8h0M98.2 483.7h0M98.2 482.2h0M98.3 483.9h0M98.4 486.2h0M98.5 488.2h0M98.5 487.3h0M98.5 488.8h0M98.6 486.9h0M98.6 494.7h0M98.7 484.9h0M98.8 490.7h0M98.8 477.5h0M98.8 488.8h0M98.9 480.6h0M98.9 489.8h0M99.0 492.7h0M99.0 488.4h0M99.0 487.4h0M99.1 495.5h0M99.1 481.6h0M99.1 484.1h0M99.2 487.5h0M99.3 484.8h0M99.3 488.4h0M99.3 475.0h0M99.4 486.4h0M99.4 483.3h0M99.5 489.3h0M99.6 493.4h0M99.6 490.5h0M99.6 486.0h0M99.7 487.8h0M99.8 479.4h0M99.8 488.6h0M99.8 489.5h0M99.9 494.6h0M99.9 491.7h0M100.0 488.3h0M100.1 484.1h0M100.1 487.1h0M100.2 492.9h0M100.2 486.6h0M100.2 493.5h0M100.3 490.9h0M100.3 493.0h0M100.4 488.2h0M100.4 492.0h0M100.4 498.3h0M100.5 493.9h0M100.5 489.5h0M100.5 491.5h0M100.6 485.6h0M100.6 497.1h0M100.7 487.1h0M100.7 494.4h0M100.7 501.1h0M100.8 483.7h0M100.8 487.5h0M100.8 492.2h0M100.9 497.3h0M100.9 495.8h0M101.0 482.9h0M101.0 501.0h0M101.0 489.9h0M101.1 498.1h0M101.1 494.3h0M101.2 490.8h0M101.2 486.8h0M101.2 494.4h0M101.3 499.9h0M101.3 488.7h0M101.3 496.7h0M101.4 487.3h0M101.4 497.9h0M101.4 495.1h0M101.5 487.6h0M101.5 493.3h0M101.6 507.5h0M101.6 487.9h0M101.6 491.1h0M101.7 494.6h0M101.7 502.1h0M101.7 499.5h0M101.8 493.8h0M101.8 496.1h0M101.8 503.9h0M101.9 495.5h0M101.9 492.6h0M101.9 489.4h0M102.0 495.3h0M102.0 501.3h0M102.1 496.5h0M102.1 502.2h0M102.1 492.7h0M102.2 488.1h0M102.2 497.5h0M102.2 503.7h0M102.3 493.7h0M102.3 496.4h0M102.3 493.1h0M102.4 501.7h0M102.4 495.8h0M102.5 499.5h0M102.5 491.3h0M102.6 494.9h0M102.6 489.4h0M102.6 498.4h0M102.7 495.7h0M102.7 493.2h0M102.7 492.2h0M102.8 497.8h0M102.8 488.3h0M102.8 501.6h0M102.9 486.3h0M102.9 484.2h0M103.0 488.5h0M103.0 496.6h0M103.0 501.5h0M103.1 502.5h0M103.1 488.3h0M103.1 491.5h0M103.2 492.5h0M103.2 499.7h0M103.2 489.9h0M103.3 482.3h0M103.3 506.6h0M103.3 496.2h0M103.4 499.7h0M103.5 495.0h0M103.5 492.0h0M103.6 499.1h0M103.6 487.9h0M103.6 497.6h0M103.7 491.2h0M103.7 499.8h0M103.8 496.3h0M103.8 503.5h0M103.9 497.8h0M103.9 486.7h0M103.9 489.7h0M104.0 497.2h0M104.0 499.9h0M104.0 496.2h0M104.1 492.6h0M104.1 478.7h0M104.1 503.2h0M104.2 495.8h0M104.2 504.6h0M104.3 496.1h0M104.3 497.2h0M104.4 495.5h0M104.4 497.1h0M104.4 504.8h0M104.5 497.8h0M104.5 492.0h0M104.5 496.1h0M104.6 486.8h0M104.6 501.8h0M104.6 493.8h0M104.7 499.2h0M104.7 491.4h0M104.8 498.9h0M104.8 490.9h0M104.8 495.4h0M104.9 493.6h0M104.9 507.7h0M104.9 495.8h0M105.0 497.2h0M105.0 498.6h0M105.1 493.0h0M105.1 505.4h0M105.1 501.0h0M105.2 494.1h0M105.2 493.2h0M105.3 504.4h0M105.3 501.4h0M105.4 496.9h0M105.4 500.3h0M105.4 504.8h0M105.5 497.4h0M105.5 499.2h0M105.5 497.3h0M105.6 492.2h0M105.6 502.4h0M105.6 501.1h0M105.7 493.9h0M105.8 497.9h0M105.8 501.5h0M105.9 504.4h0M105.9 492.0h0M105.9 495.7h0M106.0 489.4h0M106.0 501.9h0M106.1 493.8h0M106.1 501.1h0M106.2 496.4h0M106.2 502.5h0M106.3 494.6h0M106.3 499.5h0M106.3 494.4h0M106.4 491.8h0M106.4 497.3h0M106.4 510.1h0M106.5 495.7h0M106.5 496.9h0M106.6 494.5h0M106.7 501.0h0M106.7 499.0h0M106.7 508.0h0M106.8 488.6h0M106.8 495.4h0M106.8 490.0h0M106.9 495.3h0M106.9 500.4h0M106.9 489.0h0M107.0 502.0h0M107.0 494.3h0M107.0 497.5h0M107.1 498.8h0M107.1 503.2h0M107.2 497.0h0M107.2 490.4h0M107.3 492.0h0M107.3 500.4h0M107.3 506.7h0M107.4 491.9h0M107.4 499.2h0M107.4 497.3h0M107.5 510.2h0M107.5 492.2h0M107.6 490.0h0M107.6 502.0h0M107.7 499.1h0M107.7 491.4h0M107.7 504.3h0M107.8 499.1h0M107.8 492.7h0M107.8 494.3h0M107.9 503.5h0M107.9 494.2h0M107.9 499.0h0M108.0 496.3h0M108.0 502.9h0M108.1 503.8h0M108.1 493.0h0M108.1 502.7h0M108.2 499.3h0M108.2 493.8h0M108.2 497.5h0M108.3 503.4h0M108.3 505.8h0M108.3 492.8h0M108.4 490.2h0M108.4 488.9h0M108.5 502.4h0M108.5 495.7h0M108.5 497.2h0M108.6 491.9h0M108.6 499.3h0M108.6 496.9h0M108.7 502.3h0M108.7 496.3h0M108.7 493.3h0M108.8 499.5h0M108.8 505.2h0M108.8 507.2h0M108.9 493.0h0M108.9 492.0h0M109.0 498.4h0M109.0 514.2h0M109.1 497.9h0M109.1 493.2h0M109.1 491.5h0M109.2 494.3h0M109.2 499.0h0M109.2 490.6h0M109.3 493.9h0M109.3 503.3h0M109.3 501.0h0M109.4 492.5h0M109.5 497.9h0M109.5 495.3h0M109.5 501.0h0M109.6 508.7h0M109.6 506.2h0M109.6 494.2h0M109.7 493.3h0M109.7 502.5h0M109.7 495.8h0M109.8 500.2h0M109.8 506.5h0M109.9 494.5h0M109.9 511.5h0M109.9 501.7h0M110.0 488.6h0M110.0 507.3h0M110.0 500.2h0M110.1 497.7h0M110.1 496.2h0M110.1 502.7h0M110.2 499.3h0M110.2 491.9h0M110.2 498.8h0M110.3 492.8h0M110.3 500.7h0M110.4 503.3h0M110.4 494.6h0M110.4 497.6h0M110.5 488.4h0M110.5 494.6h0M110.6 505.3h0M110.6 493.3h0M110.6 495.6h0M110.7 492.0h0M110.7 491.1h0M110.8 494.2h0M110.8 496.7h0M110.8 495.7h0M110.9 501.5h0M110.9 495.9h0M110.9 503.7h0M111.0 508.0h0M111.0 497.5h0M111.0 503.9h0M111.1 498.8h0M111.1 505.1h0M111.1 497.6h0M111.2 493.6h0M111.3 504.5h0M111.3 489.1h0M111.4 493.0h0M111.4 505.2h0M111.4 503.7h0M111.5 492.1h0M111.5 502.0h0M111.5 492.1h0M111.6 488.4h0M111.6 497.7h0M111.7 500.8h0M111.7 497.3h0M111.8 492.0h0M111.8 502.6h0M111.8 498.6h0M111.9 494.3h0M111.9 497.3h0M112.0 495.7h0M112.0 494.0h0M112.0 495.0h0M112.1 486.8h0M112.1 502.2h0M112.2 489.1h0M112.2 496.1h0M112.3 498.7h0M112.3 487.0h0M112.3 504.1h0M112.4 498.1h0M112.4 500.7h0M112.4 495.2h0M112.5 500.3h0M112.5 488.9h0M112.5 490.9h0M112.6 492.7h0M112.6 490.4h0M112.7 499.5h0M112.7 489.1h0M112.7 499.9h0M112.8 492.0h0M112.8 496.8h0M112.8 502.4h0M112.9 506.4h0M112.9 498.9h0M112.9 503.1h0M113.0 497.6h0M113.0 488.3h0M113.0 498.1h0M113.1 501.8h0M113.2 495.9h0M113.2 490.8h0M113.2 495.7h0M113.3 492.0h0M113.3 493.2h0M113.3 495.8h0M113.4 487.4h0M113.4 499.7h0M113.4 486.2h0M113.5 498.4h0M113.5 493.6h0M113.6 490.7h0M113.6 480.2h0M113.7 483.7h0M113.7 496.4h0M113.7 491.1h0M113.8 493.6h0M113.8 490.8h0M113.8 493.1h0M113.9 498.1h0M113.9 495.5h0M113.9 490.7h0M114.0 485.9h0M114.0 494.9h0M114.1 497.1h0M114.1 491.3h0M114.2 499.4h0M114.2 487.7h0M114.3 491.9h0M114.3 498.2h0M114.3 501.2h0M114.4 488.4h0M114.4 492.6h0M114.5 487.2h0M114.5 496.3h0M114.5 497.3h0M114.6 492.4h0M114.6 495.6h0M114.6 489.2h0M114.7 491.1h0M114.7 477.2h0M114.7 483.0h0M114.8 493.2h0M114.8 504.3h0M114.9 489.6h0M114.9 486.9h0M115.0 497.7h0M115.0 495.9h0M115.0 492.6h0M115.1 496.4h0M115.1 480.6h0M115.1 490.2h0M115.2 495.9h0M115.2 489.7h0M115.2 491.3h0M115.3 493.0h0M115.3 491.0h0M115.4 482.6h0M115.4 492.4h0M115.5 488.4h0M115.5 494.9h0M115.6 483.0h0M115.6 490.4h0M115.6 498.3h0M115.7 489.7h0M115.7 488.3h0M115.8 484.2h0M115.8 480.5h0M115.9 495.7h0M115.9 493.9h0M116.0 488.5h0M116.1 495.5h0M116.1 490.0h0M116.1 489.0h0M116.2 491.7h0M116.2 496.1h0M116.2 485.5h0M116.3 492.3h0M116.4 489.6h0M116.4 508.6h0M116.4 488.4h0M116.5 489.4h0M116.5 484.1h0M116.5 487.8h0M116.6 486.6h0M116.6 487.7h0M116.6 491.0h0M116.7 487.7h0M116.8 488.9h0M116.8 487.2h0M116.8 490.7h0M116.9 489.7h0M116.9 487.4h0M117.0 488.9h0M117.0 479.7h0M117.0 489.6h0M117.1 486.1h0M117.1 488.1h0M117.2 486.8h0M117.2 492.7h0M117.3 491.7h0M117.3 495.5h0M117.3 489.2h0M117.4 485.4h0M117.4 502.5h0M117.4 494.7h0M117.5 484.9h0M117.5 489.3h0M117.5 492.1h0M117.6 484.6h0M117.6 487.4h0M117.6 489.4h0M117.7 491.0h0M117.7 494.3h0M117.8 483.2h0M117.8 489.7h0M117.9 491.3h0M117.9 493.0h0M118.0 480.3h0M118.0 482.4h0M118.0 494.9h0M118.1 483.4h0M118.1 494.9h0M118.2 491.0h0M118.2 486.5h0M118.3 484.1h0M118.3 482.8h0M118.3 491.8h0M118.4 484.9h0M118.4 482.8h0M118.4 486.0h0M118.5 491.5h0M118.5 482.8h0M118.5 476.4h0M118.6 484.1h0M118.6 485.9h0M118.7 483.8h0M118.7 481.0h0M118.7 493.3h0M118.8 486.9h0M118.8 489.9h0M118.8 484.3h0M118.9 492.9h0M118.9 488.2h0M118.9 481.5h0M119.0 479.4h0M119.0 495.1h0M119.0 481.7h0M119.1 493.7h0M119.1 495.3h0M119.2 487.1h0M119.2 489.5h0M119.2 487.5h0M119.3 489.8h0M119.3 486.0h0M119.3 483.5h0M119.4 477.9h0M119.4 483.5h0M119.5 479.2h0M119.5 485.3h0M119.6 483.3h0M119.6 484.8h0M119.7 493.8h0M119.7 477.0h0M119.7 484.9h0M119.8 489.4h0M119.8 485.9h0M119.8 484.3h0M119.9 486.9h0M119.9 494.5h0M119.9 490.6h0M120.0 480.6h0M120.0 477.7h0M120.1 480.3h0M120.1 486.0h0M120.1 487.5h0M120.2 479.7h0M120.2 484.8h0M120.2 476.0h0M120.3 481.9h0M120.3 480.4h0M120.4 481.4h0M120.4 483.6h0M120.5 472.4h0M120.5 486.4h0M120.6 479.2h0M120.6 478.3h0M120.6 488.3h0M120.7 486.0h0M120.7 482.3h0M120.7 483.9h0M120.8 478.4h0M120.8 492.9h0M120.8 480.4h0M121.0 476.0h0M121.0 479.2h0M121.0 487.6h0M121.1 479.2h0M121.1 484.8h0M121.1 487.7h0M121.2 480.7h0M121.2 478.8h0M121.2 482.1h0M121.3 475.2h0M121.3 490.1h0M121.3 485.4h0M121.4 488.6h0M121.4 478.4h0M121.5 488.3h0M121.5 492.6h0M121.5 486.6h0M121.6 487.5h0M121.6 483.8h0M121.6 489.2h0M121.7 482.5h0M121.7 484.6h0M121.7 483.8h0M121.8 487.4h0M121.8 483.0h0M121.9 476.6h0M122.0 475.0h0M122.0 495.4h0M122.0 481.5h0M122.1 484.4h0M122.1 491.5h0M122.1 479.8h0M122.2 476.6h0M122.2 482.8h0M122.2 477.5h0M122.3 486.1h0M122.3 480.3h0M122.4 481.7h0M122.4 477.3h0M122.4 481.3h0M122.5 483.1h0M122.5 474.1h0M122.5 479.1h0M122.6 485.1h0M122.6 478.8h0M122.6 488.6h0M122.7 483.7h0M122.7 486.9h0M122.7 481.0h0M122.8 498.5h0M122.8 476.7h0M122.9 471.2h0M122.9 479.3h0M122.9 473.4h0M123.0 482.5h0M123.0 478.9h0M123.0 495.1h0M123.1 482.6h0M123.1 485.0h0M123.1 476.8h0M123.2 482.3h0M123.2 492.2h0M123.3 485.3h0M123.3 484.1h0M123.4 486.1h0M123.4 476.0h0M123.4 478.7h0M123.5 482.6h0M123.5 480.8h0M123.6 482.1h0M123.6 490.2h0M123.7 483.3h0M123.7 478.1h0M123.8 491.5h0M123.8 482.6h0M123.8 480.3h0M123.9 477.7h0M123.9 480.1h0M124.0 478.6h0M124.0 485.3h0M124.0 481.5h0M124.1 479.2h0M124.1 473.8h0M124.2 475.9h0M124.2 479.4h0M124.2 476.2h0M124.3 485.6h0M124.3 487.8h0M124.3 482.5h0M124.4 483.8h0M124.4 486.4h0M124.4 485.1h0M124.5 489.1h0M124.5 478.5h0M124.5 482.7h0M124.6 481.1h0M124.6 487.6h0M124.7 482.7h0M124.7 484.5h0M124.8 481.6h0M124.8 482.9h0M124.8 478.4h0M124.9 491.3h0M124.9 480.3h0M124.9 483.4h0M125.0 482.6h0M125.0 469.3h0M125.0 476.2h0M125.1 487.0h0M125.1 482.9h0M125.2 478.8h0M125.2 473.9h0M125.2 483.4h0M125.3 481.3h0M125.3 482.2h0M125.4 480.7h0M125.4 489.8h0M125.4 480.5h0M125.5 483.5h0M125.6 480.8h0M125.6 474.7h0M125.7 484.1h0M125.7 489.4h0M125.7 487.0h0M125.8 485.2h0M125.8 482.2h0M125.8 479.2h0M125.9 476.4h0M125.9 477.4h0M125.9 474.3h0M126.0 481.4h0M126.0 485.5h0M126.1 479.5h0M126.1 485.9h0M126.2 489.5h0M126.2 476.0h0M126.2 474.0h0M126.3 480.3h0M126.3 484.0h0M126.4 481.7h0M126.4 490.0h0M126.5 483.4h0M126.5 487.8h0M126.5 479.0h0M126.6 475.6h0M126.6 487.4h0M126.6 474.2h0M126.7 473.1h0M126.7 481.2h0M126.8 486.5h0M126.8 490.3h0M126.8 474.1h0M126.9 480.2h0M126.9 476.3h0M127.0 474.0h0M127.0 479.8h0M127.0 477.7h0M127.1 484.1h0M127.1 479.4h0M127.1 481.9h0M127.2 483.4h0M127.2 487.2h0M127.2 486.3h0M127.3 480.1h0M127.3 477.3h0M127.4 481.9h0M127.4 478.5h0M127.5 485.8h0M127.5 487.7h0M127.6 489.5h0M127.6 475.0h0M127.6 481.4h0M127.7 474.3h0M127.7 484.1h0M127.7 478.5h0M127.8 488.9h0M127.9 489.7h0M127.9 483.8h0M127.9 489.1h0M128.0 485.1h0M128.0 484.0h0M128.0 485.2h0M128.1 489.0h0M128.1 481.9h0M128.1 480.0h0M128.2 481.3h0M128.2 478.4h0M128.2 482.8h0M128.3 485.0h0M128.3 489.1h0M128.4 478.0h0M128.4 479.4h0M128.4 476.9h0M128.5 489.6h0M128.5 477.1h0M128.5 474.8h0M128.6 478.9h0M128.6 481.8h0M128.7 479.4h0M128.7 478.4h0M128.7 481.6h0M128.8 473.3h0M128.9 491.7h0M128.9 483.5h0M128.9 479.8h0M129.0 478.7h0M129.0 484.5h0M129.0 475.9h0M129.1 477.9h0M129.1 484.2h0M129.1 479.5h0M129.2 481.4h0M129.3 482.8h0M129.3 481.0h0M129.4 484.5h0M129.4 470.9h0M129.4 496.5h0M129.5 480.0h0M129.5 472.0h0M129.6 473.4h0M129.6 487.0h0M129.6 481.1h0M129.7 482.6h0M129.8 479.4h0M129.8 477.7h0M129.8 481.6h0M129.9 484.7h0M129.9 477.5h0M129.9 485.0h0M130.0 480.8h0M130.0 485.3h0M130.1 481.7h0M130.1 475.0h0M130.2 486.3h0M130.2 480.0h0M130.2 483.8h0M130.3 478.5h0M130.3 492.6h0M130.3 469.4h0M130.4 486.6h0M130.4 484.8h0M130.4 488.3h0M130.5 477.0h0M130.5 483.9h0M130.6 480.7h0M130.6 483.0h0M130.7 478.5h0M130.7 480.9h0M130.8 486.2h0M130.8 494.1h0M130.9 468.7h0M130.9 479.4h0M130.9 476.7h0M131.0 481.9h0M131.0 479.2h0M131.0 477.1h0M131.2 487.1h0M131.2 474.8h0M131.2 484.0h0M131.3 472.5h0M131.3 477.9h0M131.3 488.8h0M131.4 475.2h0M131.4 476.2h0M131.5 473.9h0M131.5 468.7h0M131.6 469.5h0M131.6 483.7h0M131.7 482.6h0M131.7 481.0h0M131.7 488.3h0M131.8 486.0h0M131.8 480.3h0M131.8 486.2h0M131.9 479.9h0M131.9 484.9h0M131.9 474.6h0M132.0 473.7h0M132.0 478.5h0M132.1 487.2h0M132.1 483.6h0M132.1 489.8h0M132.2 485.5h0M132.2 472.7h0M132.3 483.9h0M132.3 476.9h0M132.3 475.1h0M132.4 477.1h0M132.5 482.4h0M132.5 484.6h0M132.5 483.0h0M132.6 485.4h0M132.6 479.3h0M132.6 485.7h0M132.7 484.2h0M132.7 488.2h0M132.7 480.2h0M132.8 482.6h0M132.8 490.1h0M132.8 482.1h0M132.9 493.6h0M132.9 476.1h0M133.0 483.1h0M133.0 474.9h0M133.0 467.9h0M133.1 484.6h0M133.1 487.8h0M133.1 480.5h0M133.2 475.9h0M133.2 491.6h0M133.2 473.7h0M133.3 483.5h0M133.3 474.4h0M133.3 482.2h0M133.4 487.1h0M133.5 476.4h0M133.5 481.5h0M133.6 489.6h0M133.6 479.6h0M133.6 485.0h0M133.7 480.4h0M133.8 485.0h0M133.8 474.7h0M133.9 486.1h0M133.9 481.7h0M133.9 486.6h0M134.0 479.7h0M134.0 477.3h0M134.0 492.1h0M134.1 480.0h0M134.1 485.3h0M134.1 482.1h0M134.2 477.1h0M134.2 485.5h0M134.2 472.8h0M134.3 483.0h0M134.3 492.6h0M134.4 477.3h0M134.4 479.7h0M134.4 489.0h0M134.5 482.7h0M134.5 488.9h0M134.5 478.4h0M134.6 486.1h0M134.6 478.6h0M134.6 484.6h0M134.7 480.6h0M134.7 478.1h0M134.7 480.2h0M134.8 484.6h0M134.8 482.8h0M134.9 489.6h0M134.9 487.7h0M134.9 486.2h0M135.0 480.3h0M135.0 481.8h0M135.0 488.1h0M135.1 484.9h0M135.1 480.8h0M135.1 476.3h0M135.2 472.8h0M135.2 480.5h0M135.3 485.2h0M135.3 480.7h0M135.3 475.1h0M135.4 485.5h0M135.4 482.3h0M135.5 480.0h0M135.5 476.5h0M135.5 477.8h0M135.6 483.2h0M135.6 479.3h0M135.6 484.7h0M135.7 487.7h0M135.7 482.9h0M135.8 487.0h0M135.8 478.1h0M135.8 494.9h0M135.9 490.0h0M135.9 483.5h0M135.9 478.1h0M136.0 482.2h0M136.0 483.4h0M136.0 484.4h0M136.1 475.8h0M136.1 497.2h0M136.2 492.2h0M136.2 486.9h0M136.2 480.9h0M136.3 482.0h0M136.3 488.7h0M136.3 482.4h0M136.4 475.7h0M136.4 482.5h0M136.4 484.0h0M136.5 487.3h0M136.5 483.5h0M136.5 490.8h0M136.6 487.3h0M136.6 481.1h0M136.7 484.9h0M136.7 488.7h0M136.7 476.3h0M136.8 483.9h0M136.8 486.6h0M136.8 482.3h0M136.9 473.8h0M136.9 485.9h0M137.0 477.9h0M137.0 483.2h0M137.0 482.2h0M137.1 489.5h0M137.1 477.8h0M137.2 485.7h0M137.2 484.4h0M137.2 490.9h0M137.3 481.0h0M137.3 486.9h0M137.3 488.3h0M137.4 482.4h0M137.4 484.6h0M137.4 490.3h0M137.5 485.9h0M137.6 472.9h0M137.6 486.1h0M137.6 474.2h0M137.7 484.1h0M137.7 488.2h0M137.7 483.3h0M137.8 479.7h0M137.8 492.4h0M137.9 484.6h0M137.9 486.1h0M137.9 486.9h0M138.0 488.8h0M138.1 485.3h0M138.1 482.5h0M138.1 487.1h0M138.2 482.9h0M138.2 493.5h0M138.2 475.1h0M138.3 488.0h0M138.3 486.5h0M138.3 484.1h0M138.4 494.1h0M138.4 487.1h0M138.5 489.2h0M138.5 487.6h0M138.5 484.4h0M138.6 493.9h0M138.6 484.2h0M138.7 485.4h0M138.7 482.3h0M138.8 493.5h0M138.8 485.5h0M138.8 483.2h0M138.9 489.3h0M138.9 487.2h0M139.0 486.1h0M139.0 493.3h0M139.1 486.5h0M139.1 488.0h0M139.1 486.9h0M139.2 488.9h0M139.2 487.8h0M139.2 489.6h0M139.3 486.5h0M139.3 481.8h0M139.3 489.3h0M139.4 491.4h0M139.5 487.8h0M139.5 490.8h0M139.5 485.2h0M139.6 488.1h0M139.6 481.5h0M139.6 488.5h0M139.7 477.7h0M139.7 479.5h0M139.7 492.4h0M139.8 481.9h0M139.8 484.1h0M139.9 480.8h0M139.9 490.1h0M139.9 481.0h0M140.0 490.5h0M140.0 487.9h0M140.0 486.3h0M140.1 483.3h0M140.1 489.5h0M140.1 491.8h0M140.2 487.8h0M140.2 499.1h0M140.3 487.2h0M140.3 482.5h0M140.4 484.2h0M140.4 491.3h0M140.4 480.2h0M140.5 492.8h0M140.5 486.6h0M140.6 483.9h0M140.6 492.7h0M140.6 486.7h0M140.7 488.0h0M140.7 486.7h0M140.7 492.8h0M140.8 495.1h0M140.8 489.4h0M140.9 492.0h0M140.9 487.8h0M140.9 499.2h0M141.0 487.5h0M141.0 505.0h0M141.0 492.1h0M141.1 486.4h0M141.1 489.6h0M141.2 493.0h0M141.2 485.2h0M141.3 490.6h0M141.3 479.3h0M141.3 498.8h0M141.4 491.1h0M141.4 488.3h0M141.4 477.5h0M141.5 485.5h0M141.5 492.0h0M141.5 478.3h0M141.6 476.9h0M141.6 487.0h0M141.6 476.6h0M141.7 491.6h0M141.8 482.8h0M141.8 489.1h0M141.8 492.8h0M141.9 490.0h0M142.0 488.2h0M142.0 483.9h0M142.0 490.6h0M142.1 487.6h0M142.2 486.0h0M142.2 483.7h0M142.2 491.3h0M142.3 481.0h0M142.3 493.4h0M142.3 494.6h0M142.4 478.3h0M142.4 487.3h0M142.5 491.5h0M142.5 489.8h0M142.5 492.9h0M142.6 487.6h0M142.6 491.4h0M142.7 493.3h0M142.7 487.4h0M142.7 489.5h0M142.8 496.9h0M142.8 492.8h0M142.8 488.4h0M142.9 496.1h0M142.9 498.4h0M142.9 493.2h0M143.0 489.9h0M143.0 494.5h0M143.1 486.9h0M143.2 489.3h0M143.2 491.5h0M143.2 483.8h0M143.3 485.6h0M143.3 489.7h0M143.4 484.0h0M143.4 487.4h0M143.4 490.8h0M143.5 494.1h0M143.5 487.1h0M143.6 491.4h0M143.6 499.6h0M143.6 496.9h0M143.7 489.9h0M143.7 488.0h0M143.8 489.2h0M143.8 501.4h0M143.8 481.6h0M143.9 495.0h0M143.9 491.0h0M143.9 497.7h0M144.0 491.2h0M144.0 495.5h0M144.1 494.4h0M144.1 491.9h0M144.1 494.5h0M144.2 493.5h0M144.2 489.4h0M144.3 492.8h0M144.3 498.6h0M144.3 491.2h0M144.4 487.0h0M144.4 494.5h0M144.4 484.5h0M144.5 488.8h0M144.5 486.4h0M144.6 491.7h0M144.6 486.1h0M144.7 489.6h0M144.7 487.3h0M144.7 498.2h0M144.8 492.8h0M144.8 487.6h0M144.8 489.6h0M144.9 499.5h0M144.9 487.3h0M145.0 496.8h0M145.0 491.1h0M145.1 487.9h0M145.1 493.0h0M145.1 491.2h0M145.2 494.9h0M145.2 497.8h0M145.2 491.6h0M145.3 481.3h0M145.3 495.3h0M145.4 492.3h0M145.5 500.6h0M145.5 481.8h0M145.5 495.5h0M145.6 493.5h0M145.6 495.0h0M145.7 493.1h0M145.7 495.5h0M145.7 486.1h0M145.8 495.2h0M145.8 486.7h0M145.9 489.8h0M145.9 480.7h0M145.9 505.1h0M146.0 492.2h0M146.0 497.3h0M146.1 489.2h0M146.1 498.1h0M146.1 492.0h0M146.2 495.1h0M146.2 493.8h0M146.2 506.9h0M146.3 491.6h0M146.3 493.5h0M146.4 484.6h0M146.4 494.8h0M146.4 500.2h0M146.5 496.0h0M146.5 490.5h0M146.5 493.1h0M146.6 485.8h0M146.6 483.6h0M146.7 500.7h0M146.7 485.5h0M146.7 486.3h0M146.8 494.5h0M146.8 489.5h0M146.9 492.5h0M146.9 487.8h0M147.0 502.7h0M147.0 487.6h0M147.1 496.7h0M147.1 492.9h0M147.2 497.7h0M147.2 490.0h0M147.3 485.6h0M147.3 493.2h0M147.3 497.0h0M147.4 488.7h0M147.4 492.2h0M147.5 496.6h0M147.5 491.2h0M147.5 493.7h0M147.6 488.8h0M147.6 480.5h0M147.6 496.6h0M147.7 502.4h0M147.7 495.4h0M147.8 494.5h0M147.8 497.7h0M147.8 493.7h0M147.9 499.5h0M147.9 496.2h0M147.9 499.8h0M148.0 498.4h0M148.0 506.6h0M148.0 494.0h0M148.1 484.8h0M148.1 491.8h0M148.2 490.2h0M148.2 493.5h0M148.3 485.9h0M148.3 488.0h0M148.3 498.5h0M148.4 513.2h0M148.4 500.0h0M148.4 493.2h0M148.5 490.3h0M148.5 505.3h0M148.5 494.8h0M148.6 494.0h0M148.6 491.1h0M148.7 497.5h0M148.7 495.3h0M148.7 489.1h0M148.8 497.3h0M148.8 491.7h0M148.8 498.5h0M148.9 485.6h0M148.9 498.0h0M148.9 489.2h0M149.0 495.1h0M149.0 493.9h0M149.1 493.0h0M149.2 504.7h0M149.2 488.1h0M149.2 492.5h0M149.3 496.2h0M149.3 494.2h0M149.3 500.9h0M149.4 510.7h0M149.4 496.0h0M149.5 485.0h0M149.5 492.1h0M149.6 498.9h0M149.6 494.5h0M149.6 500.8h0M149.7 488.9h0M149.7 493.8h0M149.7 484.9h0M149.8 501.9h0M149.8 503.1h0M149.8 497.0h0M149.9 495.9h0M149.9 496.8h0M149.9 498.8h0M150.0 497.4h0M150.0 501.6h0M150.1 491.8h0M150.1 497.7h0M150.1 489.1h0M150.2 493.2h0M150.2 491.8h0M150.2 492.6h0M150.3 481.6h0M150.3 496.3h0M150.3 489.4h0M150.4 491.7h0M150.4 493.9h0M150.4 499.0h0M150.5 493.2h0M150.5 496.0h0M150.6 495.0h0M150.6 498.3h0M150.6 492.6h0M150.7 496.9h0M150.7 503.3h0M150.7 493.5h0M150.8 496.2h0M150.8 497.1h0" stroke="#1f77b4" stroke-width="3.0" stroke-linecap="round" fill="none"/><path d="M61.0 493.5h0M61.0 490.7h0M61.1 488.6h0M61.1 494.3h0M61.1 509.0h0M61.2 495.6h0M61.2 496.8h0M61.2 495.9h0M61.3 501.6h0M61.3 499.0h0M61.4 507.8h0M61.4 515.6h0M61.4 511.3h0M61.5 515.1h0M61.5 521.0h0M61.6 510.8h0M61.6 511.6h0M61.6 516.9h0M61.7 518.6h0M61.7 507.4h0M61.8 519.7h0M61.9 506.8h0M61.9 508.0h0M61.9 513.3h0M62.0 518.1h0M62.0 522.3h0M62.0 514.0h0M62.1 512.5h0M62.1 518.6h0M62.1 517.8h0M62.2 519.7h0M62.2 518.5h0M62.2 513.8h0M62.3 509.3h0M62.3 504.8h0M62.4 505.9h0M62.4 504.7h0M62.4 514.0h0M62.5 503.4h0M62.5 511.6h0M62.5 503.6h0M62.6 506.7h0M62.6 500.7h0M62.7 509.7h0M62.7 497.1h0M62.8 499.1h0M62.8 488.6h0M62.8 490.2h0M62.9 492.2h0M62.9 488.5h0M62.9 484.0h0M63.0 491.2h0M63.0 484.6h0M63.0 480.2h0M63.1 488.1h0M63.1 480.3h0M63.1 491.4h0M63.2 470.9h0M63.2 477.1h0M63.3 465.0h0M63.3 473.7h0M63.3 480.2h0M63.4 472.1h0M63.4 468.2h0M63.5 465.9h0M63.5 464.8h0M63.5 475.1h0M63.6 468.6h0M63.6 474.6h0M63.6 472.9h0M63.7 458.6h0M63.7 465.9h0M63.8 474.0h0M63.8 467.0h0M63.9 472.5h0M63.9 464.8h0M63.9 468.6h0M64.0 463.9h0M64.0 460.4h0M64.0 469.5h0M64.1 470.5h0M64.1 460.2h0M64.2 477.4h0M64.2 468.7h0M64.2 460.1h0M64.3 469.6h0M64.3 474.2h0M64.4 467.6h0M64.4 475.1h0M64.4 466.0h0M64.5 472.1h0M64.5 468.6h0M64.5 478.5h0M64.6 466.5h0M64.6 459.0h0M64.7 473.1h0M64.7 467.3h0M64.7 464.2h0M64.8 477.9h0M64.8 465.1h0M64.8 462.7h0M64.9 467.1h0M64.9 464.2h0M64.9 466.0h0M65.0 475.7h0M65.0 471.2h0M65.1 475.0h0M65.1 469.2h0M65.1 471.4h0M65.2 470.5h0M65.2 480.4h0M65.2 475.8h0M65.3 480.1h0M65.3 476.1h0M65.3 471.7h0M65.4 479.1h0M65.4 489.2h0M65.5 480.1h0M65.5 478.9h0M65.6 482.1h0M65.6 484.8h0M65.6 481.8h0M65.7 484.9h0M65.7 480.4h0M65.7 494.6h0M65.8 489.7h0M65.8 486.8h0M65.8 491.1h0M65.9 493.3h0M65.9 495.6h0M66.0 492.1h0M66.1 479.1h0M66.1 497.6h0M66.1 493.5h0M66.2 506.6h0M66.2 493.7h0M66.2 505.0h0M66.3 502.5h0M66.3 497.9h0M66.3 504.2h0M66.4 500.6h0M66.5 503.4h0M66.5 502.4h0M66.5 506.4h0M66.6 502.1h0M66.6 506.8h0M66.7 499.1h0M66.7 510.7h0M66.7 508.4h0M66.8 494.7h0M66.8 505.0h0M66.9 507.9h0M66.9 515.8h0M67.0 512.1h0M67.0 501.0h0M67.0 514.1h0M67.1 508.6h0M67.1 502.3h0M67.1 505.1h0M67.2 515.3h0M67.2 510.2h0M67.3 498.8h0M67.3 515.5h0M67.4 509.7h0M67.4 507.0h0M67.4 515.3h0M67.5 514.2h0M67.5 512.8h0M67.5 505.8h0M67.6 504.0h0M67.6 520.6h0M67.6 514.8h0M67.7 516.8h0M67.7 518.1h0M67.7 511.2h0M67.8 509.3h0M67.8 507.5h0M67.9 510.3h0M67.9 504.9h0M68.0 508.1h0M68.0 501.7h0M68.0 497.9h0M68.1 510.7h0M68.1 511.5h0M68.1 509.5h0M68.2 510.5h0M68.2 497.0h0M68.2 515.0h0M68.3 508.4h0M68.3 504.6h0M68.4 512.5h0M68.4 502.6h0M68.4 507.3h0M68.5 493.8h0M68.5 509.3h0M68.5 502.1h0M68.6 508.2h0M68.6 505.5h0M68.6 499.9h0M68.7 503.8h0M68.7 501.7h0M68.8 511.2h0M68.8 499.4h0M68.8 494.0h0M68.9 503.3h0M68.9 499.6h0M69.0 491.7h0M69.0 489.9h0M69.0 496.0h0M69.1 486.8h0M69.1 495.5h0M69.1 488.1h0M69.2 494.8h0M69.2 496.9h0M69.3 490.3h0M69.3 499.0h0M69.3 507.3h0M69.4 487.8h0M69.4 495.5h0M69.4 489.9h0M69.5 488.0h0M69.5 494.3h0M69.6 486.6h0M69.6 488.2h0M69.6 486.3h0M69.7 496.0h0M69.7 487.2h0M69.8 486.2h0M69.8 497.5h0M69.9 484.0h0M69.9 489.0h0M69.9 481.2h0M70.0 474.8h0M70.0 483.9h0M70.0 482.9h0M70.1 485.7h0M70.2 477.7h0M70.2 471.9h0M70.2 484.5h0M70.3 478.1h0M70.3 482.0h0M70.4 484.8h0M70.4 475.7h0M70.5 472.7h0M70.5 475.8h0M70.6 483.0h0M70.6 475.0h0M70.7 476.0h0M70.7 478.5h0M70.8 479.8h0M70.8 477.1h0M70.9 463.1h0M70.9 471.6h0M70.9 474.9h0M71.0 480.6h0M71.0 478.9h0M71.1 469.4h0M71.1 478.8h0M71.1 473.8h0M71.2 470.9h0M71.2 480.9h0M71.2 469.0h0M71.3 478.7h0M71.3 482.5h0M71.4 470.4h0M71.4 479.1h0M71.4 473.9h0M71.5 482.1h0M71.5 471.8h0M71.6 475.0h0M71.6 463.4h0M71.7 472.5h0M71.7 478.2h0M71.7 471.9h0M71.8 462.9h0M71.8 478.2h0M71.8 473.1h0M71.9 478.0h0M71.9 477.0h0M72.0 468.4h0M72.0 475.1h0M72.1 476.0h0M72.1 465.0h0M72.1 468.8h0M72.2 472.3h0M72.2 482.6h0M72.2 472.7h0M72.3 477.2h0M72.3 473.4h0M72.4 472.0h0M72.4 475.0h0M72.5 470.6h0M72.5 469.5h0M72.5 466.9h0M72.6 474.5h0M72.6 470.2h0M72.7 474.3h0M72.7 485.9h0M72.7 468.2h0M72.8 464.6h0M72.8 469.8h0M72.8 475.6h0M72.9 473.4h0M73.0 474.6h0M73.0 476.1h0M73.0 477.7h0M73.1 486.6h0M73.1 475.6h0M73.1 473.6h0M73.2 466.0h0M73.2 477.9h0M73.2 481.7h0M73.3 477.2h0M73.3 475.7h0M73.4 480.9h0M73.4 473.1h0M73.5 479.0h0M73.5 474.6h0M73.5 476.4h0M73.6 477.9h0M73.6 474.4h0M73.6 478.9h0M73.7 470.8h0M73.7 490.6h0M73.7 478.8h0M73.8 475.1h0M73.9 476.7h0M73.9 473.6h0M73.9 482.9h0M74.0 481.5h0M74.0 478.9h0M74.0 487.5h0M74.1 479.4h0M74.1 477.0h0M74.2 488.4h0M74.2 473.7h0M74.2 477.1h0M74.3 479.6h0M74.3 485.0h0M74.4 490.6h0M74.4 483.5h0M74.5 487.8h0M74.5 494.0h0M74.5 479.6h0M74.6 496.7h0M74.6 485.9h0M74.6 484.8h0M74.7 479.2h0M74.7 477.3h0M74.8 485.7h0M74.8 491.0h0M74.8 492.9h0M74.9 486.1h0M74.9 483.7h0M74.9 484.8h0M75.0 494.9h0M75.0 489.5h0M75.0 498.4h0M75.1 488.8h0M75.1 491.2h0M75.1 492.0h0M75.2 485.0h0M75.2 493.0h0M75.3 482.3h0M75.3 492.9h0M75.3 486.4h0M75.4 497.5h0M75.5 491.8h0M75.6 494.5h0M75.6 496.3h0M75.6 490.0h0M75.7 500.1h0M75.7 490.9h0M75.8 512.9h0M75.8 490.8h0M75.8 500.5h0M75.9 495.8h0M75.9 491.2h0M75.9 499.0h0M76.0 493.9h0M76.0 501.5h0M76.0 503.5h0M76.1 495.9h0M76.1 488.6h0M76.2 489.9h0M76.2 497.7h0M76.2 495.7h0M76.3 498.8h0M76.3 494.4h0M76.3 498.3h0M76.4 499.8h0M76.4 497.2h0M76.4 500.9h0M76.5 500.1h0M76.5 491.3h0M76.5 484.7h0M76.6 495.8h0M76.6 500.5h0M76.7 509.9h0M76.7 482.1h0M76.7 503.3h0M76.8 496.0h0M76.8 505.9h0M76.8 500.9h0M76.9 496.9h0M76.9 504.5h0M77.0 500.3h0M77.0 506.1h0M77.1 502.1h0M77.1 499.8h0M77.2 512.7h0M77.2 506.7h0M77.2 502.7h0M77.3 513.2h0M77.3 496.8h0M77.3 506.3h0M77.4 500.0h0M77.4 503.7h0M77.5 497.7h0M77.5 500.7h0M77.6 495.2h0M77.6 496.1h0M77.7 497.5h0M77.7 493.2h0M77.7 502.8h0M77.8 497.9h0M77.8 499.6h0M77.8 501.4h0M77.9 503.2h0M77.9 501.5h0M78.0 505.7h0M78.0 497.7h0M78.1 508.5h0M78.1 496.7h0M78.1 507.4h0M78.2 508.7h0M78.2 498.4h0M78.3 507.8h0M78.3 503.4h0M78.3 500.1h0M78.4 503.4h0M78.4 502.1h0M78.5 509.2h0M78.5 499.4h0M78.5 503.6h0M78.6 500.1h0M78.6 497.8h0M78.6 510.4h0M78.7 493.2h0M78.7 503.1h0M78.7 493.6h0M78.8 501.8h0M78.8 486.8h0M78.9 498.6h0M78.9 503.7h0M79.0 501.8h0M79.0 493.2h0M79.1 506.0h0M79.1 500.0h0M79.1 502.0h0M79.2 504.6h0M79.2 501.9h0M79.2 505.9h0M79.3 499.6h0M79.3 495.9h0M79.3 497.2h0M79.4 503.8h0M79.4 498.8h0M79.5 500.0h0M79.5 498.4h0M79.6 506.1h0M79.6 495.9h0M79.6 492.9h0M79.7 496.7h0M79.7 500.4h0M79.7 506.4h0M79.8 500.6h0M79.8 493.6h0M79.9 499.0h0M79.9 515.6h0M79.9 491.6h0M80.0 495.5h0M80.0 498.0h0M80.0 499.1h0M80.1 495.2h0M80.1 489.3h0M80.1 502.4h0M80.2 511.5h0M80.2 494.6h0M80.2 497.5h0M80.3 495.1h0M80.3 503.0h0M80.4 494.0h0M80.4 498.5h0M80.4 501.2h0M80.5 505.2h0M80.5 498.3h0M80.5 501.9h0M80.6 491.8h0M80.6 496.0h0M80.6 503.9h0M80.7 493.9h0M80.7 500.3h0M80.8 496.4h0M80.8 493.6h0M80.8 498.5h0M80.9 495.5h0M80.9 498.9h0M81.0 493.3h0M81.0 491.6h0M81.1 493.6h0M81.1 496.6h0M81.1 498.4h0M81.2 489.8h0M81.2 484.3h0M81.3 486.1h0M81.3 495.7h0M81.3 489.7h0M81.4 496.9h0M81.4 482.3h0M81.4 500.5h0M81.5 495.9h0M81.5 489.2h0M81.5 495.5h0M81.6 489.5h0M81.6 491.3h0M81.6 492.7h0M81.7 494.4h0M81.7 497.0h0M81.8 487.1h0M81.8 495.8h0M81.8 485.1h0M81.9 493.6h0M81.9 485.8h0M81.9 487.4h0M82.0 493.4h0M82.0 484.3h0M82.0 490.4h0M82.1 479.6h0M82.1 491.0h0M82.2 488.6h0M82.2 486.8h0M82.2 488.4h0M82.3 483.4h0M82.3 489.4h0M82.4 487.5h0M82.4 496.4h0M82.4 486.5h0M82.5 487.4h0M82.5 490.6h0M82.5 487.2h0M82.6 479.0h0M82.6 483.9h0M82.7 488.7h0M82.7 487.3h0M82.8 482.8h0M82.8 486.0h0M82.8 488.9h0M82.9 494.0h0M82.9 491.8h0M83.0 484.1h0M83.0 492.8h0M83.1 479.9h0M83.1 482.8h0M83.1 487.5h0M83.2 491.9h0M83.2 481.1h0M83.2 485.2h0M83.3 471.7h0M83.3 486.6h0M83.3 482.3h0M83.4 476.5h0M83.4 489.7h0M83.4 482.1h0M83.5 490.1h0M83.5 482.1h0M83.6 474.7h0M83.6 479.1h0M83.7 486.8h0M83.7 477.1h0M83.7 488.4h0M83.8 483.2h0M83.8 478.8h0M83.8 481.1h0M83.9 474.1h0M83.9 479.2h0M83.9 483.6h0M84.0 478.9h0M84.0 486.6h0M84.1 482.0h0M84.1 476.1h0M84.2 481.6h0M84.2 474.7h0M84.2 488.4h0M84.3 480.4h0M84.3 481.4h0M84.3 483.7h0M84.4 471.4h0M84.4 477.1h0M84.5 474.6h0M84.5 472.3h0M84.5 487.1h0M84.6 485.1h0M84.6 475.1h0M84.6 482.5h0M84.7 480.5h0M84.7 477.9h0M84.7 475.5h0M84.8 477.3h0M84.8 470.1h0M84.8 479.3h0M84.9 481.4h0M84.9 478.5h0M85.0 480.2h0M85.0 476.1h0M85.0 478.8h0M85.1 480.1h0M85.1 482.4h0M85.1 481.2h0M85.2 476.9h0M85.2 478.7h0M85.2 480.6h0M85.3 473.4h0M85.3 480.1h0M85.3 483.3h0M85.4 485.9h0M85.4 483.8h0M85.5 479.2h0M85.5 472.3h0M85.5 482.4h0M85.6 479.4h0M85.6 477.9h0M85.7 474.6h0M85.7 476.7h0M85.8 471.8h0M85.8 479.3h0M85.9 478.0h0M85.9 488.5h0M85.9 483.4h0M86.0 469.7h0M86.1 483.4h0M86.1 479.1h0M86.1 474.0h0M86.2 472.9h0M86.2 471.3h0M86.2 483.7h0M86.3 471.2h0M86.3 482.7h0M86.4 475.5h0M86.4 473.0h0M86.4 487.4h0M86.5 468.8h0M86.5 471.3h0M86.5 481.0h0M86.6 473.4h0M86.6 475.2h0M86.6 479.5h0M86.7 468.3h0M86.7 483.1h0M86.8 474.0h0M86.8 475.2h0M86.8 477.5h0M86.9 473.1h0M86.9 470.6h0M86.9 476.9h0M87.0 473.5h0M87.0 475.8h0M87.0 470.9h0M87.1 486.1h0M87.1 471.7h0M87.1 482.9h0M87.2 471.7h0M87.3 475.9h0M87.3 474.7h0M87.3 476.9h0M87.4 475.2h0M87.4 478.5h0M87.5 473.1h0M87.5 485.7h0M87.6 466.3h0M87.6 478.7h0M87.6 474.3h0M87.7 476.1h0M87.7 462.8h0M87.8 481.1h0M87.8 476.4h0M87.8 485.9h0M87.9 484.0h0M87.9 478.0h0M87.9 483.7h0M88.0 479.6h0M88.0 472.0h0M88.1 481.1h0M88.1 478.0h0M88.2 481.4h0M88.2 478.2h0M88.2 476.1h0M88.3 477.5h0M88.3 474.0h0M88.4 475.5h0M88.4 469.8h0M88.5 478.9h0M88.5 472.9h0M88.5 481.9h0M88.6 473.4h0M88.6 469.6h0M88.7 475.8h0M88.7 470.6h0M88.7 472.0h0M88.8 483.4h0M88.8 477.5h0M88.8 478.5h0M88.9 481.6h0M88.9 479.2h0M88.9 477.6h0M89.0 482.2h0M89.0 468.9h0M89.1 475.0h0M89.1 474.0h0M89.1 484.8h0M89.2 476.4h0M89.2 482.0h0M89.3 479.8h0M89.3 473.1h0M89.4 480.6h0M89.4 481.6h0M89.4 489.7h0M89.5 476.6h0M89.5 474.0h0M89.6 483.8h0M89.6 475.5h0M89.6 467.9h0M89.7 478.5h0M89.7 472.5h0M89.7 480.8h0M89.8 482.6h0M89.8 468.1h0M89.8 474.1h0M89.9 471.2h0M89.9 465.7h0M89.9 476.0h0M90.0 482.9h0M90.0 485.9h0M90.1 471.2h0M90.1 472.1h0M90.1 477.8h0M90.2 470.8h0M90.2 482.7h0M90.2 478.5h0M90.3 483.7h0M90.3 472.0h0M90.3 480.7h0M90.4 472.3h0M90.4 475.9h0M90.5 469.7h0M90.5 486.5h0M90.5 479.6h0M90.6 482.1h0M90.6 477.1h0M90.6 474.7h0M90.7 483.4h0M90.7 484.7h0M90.7 487.8h0M90.8 471.4h0M90.8 486.6h0M90.8 476.2h0M90.9 483.5h0M90.9 484.8h0M91.0 483.9h0M91.0 482.2h0M91.1 481.3h0M91.2 486.0h0M91.2 483.7h0M91.2 475.1h0M91.3 493.6h0M91.3 482.2h0M91.3 488.0h0M91.4 490.8h0M91.4 482.7h0M91.5 483.5h0M91.5 486.3h0M91.6 481.0h0M91.6 488.4h0M91.6 479.0h0M91.7 487.6h0M91.7 485.9h0M91.7 490.4h0M91.8 480.9h0M91.8 482.4h0M91.9 486.7h0M91.9 482.1h0M92.0 485.9h0M92.0 483.2h0M92.0 489.4h0M92.1 477.2h0M92.1 487.3h0M92.1 485.7h0M92.2 487.8h0M92.2 486.0h0M92.2 492.9h0M92.3 491.1h0M92.3 480.2h0M92.4 481.4h0M92.4 483.2h0M92.4 492.8h0M92.5 486.6h0M92.5 488.0h0M92.5 493.2h0M92.6 487.8h0M92.6 482.3h0M92.6 494.0h0M92.7 485.6h0M92.7 489.2h0M92.8 490.7h0M92.8 491.6h0M92.8 488.7h0M92.9 489.7h0M92.9 491.5h0M93.0 496.8h0M93.0 492.0h0M93.0 495.2h0M93.1 487.6h0M93.1 492.4h0M93.2 490.1h0M93.2 487.0h0M93.3 482.6h0M93.3 479.3h0M93.3 487.5h0M93.4 486.5h0M93.5 487.6h0M93.5 486.0h0M93.6 495.7h0M93.6 494.1h0M93.6 491.8h0M93.7 488.4h0M93.7 502.4h0M93.8 490.7h0M93.8 480.9h0M93.9 500.4h0M93.9 493.9h0M93.9 495.7h0M94.0 484.7h0M94.0 492.2h0M94.0 481.3h0M94.1 497.6h0M94.1 490.4h0M94.2 487.2h0M94.2 489.0h0M94.2 481.3h0M94.3 491.5h0M94.3 496.8h0M94.3 488.5h0M94.4 489.5h0M94.4 497.7h0M94.5 493.4h0M94.6 490.9h0M94.6 505.8h0M94.7 489.4h0M94.7 492.4h0M94.7 498.9h0M94.8 495.5h0M94.8 500.8h0M94.8 494.3h0M94.9 490.8h0M94.9 501.2h0M94.9 502.3h0M95.0 504.6h0M95.0 491.3h0M95.1 501.3h0M95.2 487.4h0M95.2 492.0h0M95.2 489.8h0M95.3 493.8h0M95.3 485.0h0M95.3 497.3h0M95.4 489.9h0M95.4 495.5h0M95.4 504.3h0M95.5 492.8h0M95.5 498.8h0M95.6 481.5h0M95.6 491.6h0M95.7 502.5h0M95.7 501.0h0M95.7 498.2h0M95.8 487.5h0M95.8 488.8h0M95.9 506.8h0M95.9 501.6h0M95.9 492.4h0M96.0 493.8h0M96.1 492.9h0M96.1 503.8h0M96.1 495.8h0M96.2 492.3h0M96.2 490.3h0M96.2 498.2h0M96.3 493.9h0M96.4 502.1h0M96.5 497.1h0M96.5 499.1h0M96.5 489.5h0M96.6 501.0h0M96.6 506.6h0M96.6 499.4h0M96.7 492.9h0M96.8 489.9h0M96.8 509.1h0M96.8 497.5h0M96.9 509.6h0M96.9 494.7h0M97.0 503.3h0M97.0 506.1h0M97.0 497.7h0M97.1 492.0h0M97.1 496.7h0M97.1 495.9h0M97.2 498.5h0M97.2 500.0h0M97.3 499.0h0M97.3 493.0h0M97.4 498.8h0M97.4 500.3h0M97.5 495.0h0M97.5 496.1h0M97.5 500.1h0M97.6 503.4h0M97.6 493.0h0M97.6 494.0h0M97.7 502.0h0M97.7 489.9h0M97.7 496.0h0M97.8 498.6h0M97.8 493.4h0M97.9 500.3h0M97.9 506.6h0M97.9 494.7h0M98.0 499.8h0M98.0 502.5h0M98.0 500.7h0M98.1 509.5h0M98.1 496.7h0M98.1 492.2h0M98.2 497.7h0M98.2 489.0h0M98.2 498.8h0M98.3 501.2h0M98.3 492.6h0M98.4 505.4h0M98.4 503.5h0M98.5 487.9h0M98.5 497.1h0M98.5 494.7h0M98.6 493.8h0M98.6 499.5h0M98.7 494.8h0M98.7 498.8h0M98.8 502.6h0M98.8 505.9h0M98.8 493.2h0M98.9 507.9h0M98.9 503.9h0M99.0 499.3h0M99.0 489.3h0M99.0 496.6h0M99.1 498.3h0M99.1 496.2h0M99.1 510.6h0M99.2 503.9h0M99.2 508.1h0M99.3 498.0h0M99.3 497.0h0M99.3 508.2h0M99.4 497.3h0M99.4 493.8h0M99.4 496.8h0M99.5 495.0h0M99.5 487.9h0M99.6 506.0h0M99.6 493.7h0M99.6 496.9h0M99.7 491.4h0M99.8 502.6h0M99.8 491.3h0M99.9 498.8h0M99.9 496.5h0M99.9 490.5h0M100.0 498.0h0M100.0 493.4h0M100.0 496.4h0M100.1 493.2h0M100.1 501.2h0M100.2 496.3h0M100.2 488.6h0M100.2 493.3h0M100.3 500.1h0M100.3 495.9h0M100.3 493.4h0M100.4 499.9h0M100.4 495.9h0M100.4 493.0h0M100.5 506.4h0M100.5 498.2h0M100.5 502.3h0M100.6 493.0h0M100.6 499.7h0M100.7 497.4h0M100.7 505.7h0M100.8 502.1h0M100.8 492.3h0M100.8 489.3h0M100.9 501.0h0M100.9 503.6h0M100.9 490.9h0M101.0 493.7h0M101.0 499.1h0M101.0 496.6h0M101.1 497.8h0M101.1 493.1h0M101.2 504.6h0M101.2 496.6h0M101.2 495.7h0M101.3 493.0h0M101.3 498.1h0M101.3 493.5h0M101.4 497.4h0M101.4 510.2h0M101.5 500.4h0M101.5 495.8h0M101.6 484.9h0M101.6 512.0h0M101.6 497.6h0M101.7 495.3h0M101.7 488.3h0M101.7 506.1h0M101.8 490.1h0M101.8 495.5h0M101.8 491.7h0M101.9 490.4h0M101.9 498.4h0M101.9 493.7h0M102.0 494.6h0M102.0 501.7h0M102.1 493.7h0M102.1 510.5h0M102.2 501.5h0M102.2 503.5h0M102.3 502.4h0M102.3 494.9h0M102.3 502.8h0M102.4 508.7h0M102.4 497.4h0M102.5 496.3h0M102.5 502.3h0M102.5 494.2h0M102.6 507.9h0M102.6 496.4h0M102.6 501.8h0M102.7 496.7h0M102.7 494.0h0M102.7 490.5h0M102.8 503.9h0M102.8 496.2h0M102.9 485.8h0M103.0 493.3h0M103.0 496.2h0M103.0 494.5h0M103.1 504.1h0M103.1 505.9h0M103.1 502.1h0M103.2 500.3h0M103.2 490.6h0M103.2 499.4h0M103.3 500.3h0M103.3 485.8h0M103.3 498.0h0M103.4 494.8h0M103.4 504.8h0M103.5 501.9h0M103.5 505.2h0M103.6 490.9h0M103.6 502.3h0M103.7 500.1h0M103.7 495.1h0M103.8 489.4h0M103.8 496.2h0M103.9 489.8h0M103.9 493.1h0M103.9 490.5h0M104.0 486.8h0M104.0 496.3h0M104.0 498.9h0M104.1 496.1h0M104.1 501.4h0M104.1 492.0h0M104.2 490.6h0M104.2 495.3h0M104.3 486.6h0M104.3 502.4h0M104.4 496.8h0M104.4 478.7h0M104.4 500.7h0M104.5 498.9h0M104.5 493.5h0M104.5 486.7h0M104.6 496.3h0M104.6 488.9h0M104.6 498.3h0M104.7 490.0h0M104.7 498.4h0M104.8 493.2h0M104.8 497.1h0M104.9 498.4h0M104.9 492.7h0M104.9 489.5h0M105.0 496.3h0M105.0 493.8h0M105.0 489.8h0M105.1 491.3h0M105.1 487.9h0M105.1 499.9h0M105.2 481.4h0M105.2 489.9h0M105.3 494.3h0M105.3 500.8h0M105.3 490.6h0M105.4 495.9h0M105.4 493.0h0M105.4 494.3h0M105.5 492.2h0M105.5 489.1h0M105.5 503.5h0M105.6 497.4h0M105.6 484.7h0M105.6 500.2h0M105.7 495.5h0M105.7 490.8h0M105.8 487.5h0M105.8 492.5h0M105.8 493.9h0M105.9 491.5h0M105.9 494.4h0M105.9 492.6h0M106.0 491.4h0M106.0 499.8h0M106.0 488.7h0M106.1 483.6h0M106.1 489.7h0M106.2 487.6h0M106.2 483.5h0M106.2 484.5h0M106.3 491.2h0M106.3 489.1h0M106.3 488.1h0M106.4 492.7h0M106.4 495.2h0M106.5 491.8h0M106.5 485.7h0M106.6 496.2h0M106.6 489.8h0M106.7 500.0h0M106.7 492.1h0M106.8 499.0h0M106.8 494.5h0M106.8 490.0h0M106.9 491.0h0M106.9 486.5h0M106.9 483.4h0M107.0 492.4h0M107.0 486.7h0M107.1 489.3h0M107.2 486.0h0M107.2 478.7h0M107.2 488.0h0M107.3 492.8h0M107.3 485.3h0M107.3 488.7h0M107.4 495.2h0M107.4 492.7h0M107.5 495.9h0M107.6 486.5h0M107.6 499.0h0M107.6 494.1h0M107.7 490.6h0M107.7 485.1h0M107.8 487.8h0M107.8 489.6h0M107.8 484.1h0M107.9 489.2h0M107.9 487.1h0M107.9 484.1h0M108.0 480.2h0M108.0 490.1h0M108.1 488.0h0M108.1 485.6h0M108.1 486.7h0M108.2 481.9h0M108.2 486.7h0M108.3 483.9h0M108.3 488.7h0M108.3 485.4h0M108.4 490.8h0M108.5 483.2h0M108.5 487.3h0M108.5 484.6h0M108.6 483.7h0M108.6 479.9h0M108.6 474.7h0M108.7 488.4h0M108.7 481.4h0M108.7 490.4h0M108.8 479.5h0M108.8 488.7h0M108.8 494.4h0M108.9 489.1h0M108.9 473.4h0M109.0 493.2h0M109.0 490.0h0M109.0 483.8h0M109.1 486.6h0M109.1 483.4h0M109.1 481.6h0M109.2 489.7h0M109.2 497.5h0M109.2 474.9h0M109.3 482.5h0M109.3 486.7h0M109.3 488.6h0M109.4 485.6h0M109.4 477.6h0M109.5 492.7h0M109.5 485.7h0M109.5 483.5h0M109.6 486.0h0M109.6 482.4h0M109.6 484.7h0M109.7 477.1h0M109.7 485.5h0M109.8 488.9h0M109.8 485.8h0M109.9 474.4h0M109.9 477.0h0M109.9 485.8h0M110.0 481.1h0M110.0 483.4h0M110.0 487.5h0M110.1 489.8h0M110.1 482.3h0M110.1 486.9h0M110.2 489.7h0M110.2 475.3h0M110.2 479.1h0M110.3 486.2h0M110.3 488.2h0M110.4 491.8h0M110.4 483.2h0M110.5 482.4h0M110.5 489.2h0M110.5 486.8h0M110.6 490.5h0M110.6 482.8h0M110.6 480.9h0M110.7 483.4h0M110.7 480.9h0M110.8 487.2h0M110.8 481.9h0M110.9 486.1h0M110.9 491.4h0M110.9 482.7h0M111.0 491.3h0M111.0 490.1h0M111.0 484.6h0M111.1 478.7h0M111.1 472.4h0M111.1 468.3h0M111.2 478.5h0M111.2 486.5h0M111.3 484.0h0M111.3 478.5h0M111.3 476.2h0M111.4 484.5h0M111.4 485.5h0M111.4 488.4h0M111.5 481.9h0M111.5 479.9h0M111.5 485.2h0M111.6 482.5h0M111.6 469.8h0M111.7 487.9h0M111.7 482.2h0M111.8 476.8h0M111.8 487.9h0M111.8 480.3h0M111.9 486.9h0M111.9 475.8h0M111.9 481.9h0M112.0 488.1h0M112.0 477.0h0M112.0 491.3h0M112.1 481.1h0M112.1 482.7h0M112.2 492.7h0M112.2 477.2h0M112.2 485.2h0M112.3 482.5h0M112.3 477.1h0M112.3 471.2h0M112.4 483.3h0M112.4 481.9h0M112.4 479.6h0M112.5 477.5h0M112.5 485.1h0M112.5 480.0h0M112.6 475.0h0M112.6 480.4h0M112.7 481.8h0M112.7 484.1h0M112.7 476.4h0M112.8 480.8h0M112.8 482.3h0M112.8 484.5h0M112.9 474.7h0M112.9 471.2h0M113.0 491.6h0M113.0 485.5h0M113.0 483.4h0M113.1 490.4h0M113.1 473.6h0M113.2 479.7h0M113.2 478.3h0M113.2 479.5h0M113.3 474.6h0M113.3 481.5h0M113.3 479.6h0M113.4 477.0h0M113.4 481.1h0M113.4 477.6h0M113.5 478.5h0M113.6 481.4h0M113.6 473.1h0M113.6 484.2h0M113.7 474.8h0M113.7 482.7h0M113.8 476.8h0M113.8 472.4h0M113.9 478.0h0M113.9 488.2h0M113.9 480.3h0M114.0 483.0h0M114.1 480.9h0M114.1 476.0h0M114.1 485.4h0M114.2 473.5h0M114.2 484.8h0M114.2 483.3h0M114.3 479.1h0M114.3 474.5h0M114.3 478.0h0M114.4 486.9h0M114.4 476.0h0M114.5 484.2h0M114.5 477.8h0M114.5 478.8h0M114.6 485.9h0M114.6 479.3h0M114.6 476.8h0M114.7 474.8h0M114.7 489.3h0M114.7 475.9h0M114.8 483.9h0M114.8 482.7h0M114.9 475.7h0M114.9 483.5h0M115.0 481.0h0M115.0 478.9h0M115.0 482.8h0M115.1 478.4h0M115.1 475.2h0M115.1 478.4h0M115.2 481.2h0M115.2 484.3h0M115.2 476.0h0M115.3 491.2h0M115.3 475.2h0M115.3 479.8h0M115.4 487.7h0M115.4 481.2h0M115.5 470.3h0M115.5 474.5h0M115.6 484.5h0M115.6 479.0h0M115.6 475.6h0M115.7 479.7h0M115.7 477.0h0M115.7 481.2h0M115.8 476.8h0M115.8 488.0h0M115.9 484.0h0M115.9 473.7h0M115.9 482.3h0M116.0 473.2h0M116.0 478.7h0M116.1 482.8h0M116.1 478.7h0M116.2 485.1h0M116.2 478.2h0M116.3 472.0h0M116.3 484.2h0M116.4 478.9h0M116.4 482.1h0M116.5 476.7h0M116.6 478.6h0M116.6 481.3h0M116.6 476.7h0M116.7 480.7h0M116.7 484.0h0M116.8 485.7h0M116.8 484.4h0M116.8 491.5h0M116.9 478.0h0M116.9 476.0h0M116.9 479.5h0M117.0 484.9h0M117.0 481.1h0M117.1 483.1h0M117.1 481.1h0M117.1 479.5h0M117.2 481.9h0M117.3 489.7h0M117.3 484.8h0M117.3 474.0h0M117.4 486.9h0M117.4 478.6h0M117.4 481.3h0M117.5 476.4h0M117.5 475.6h0M117.5 476.8h0M117.6 480.8h0M117.6 482.6h0M117.6 481.3h0M117.7 471.5h0M117.7 486.7h0M117.8 479.7h0M117.8 474.6h0M117.9 477.7h0M117.9 482.8h0M117.9 473.8h0M118.0 477.1h0M118.0 481.2h0M118.0 491.7h0M118.1 485.7h0M118.1 479.2h0M118.2 472.6h0M118.2 481.0h0M118.3 484.7h0M118.3 480.9h0M118.3 484.0h0M118.4 478.9h0M118.5 480.2h0M118.5 481.2h0M118.6 482.9h0M118.6 480.4h0M118.7 473.0h0M118.7 481.7h0M118.7 487.8h0M118.8 481.3h0M118.8 479.8h0M118.8 483.8h0M118.9 477.9h0M118.9 473.3h0M118.9 477.0h0M119.0 487.6h0M119.0 477.1h0M119.0 479.9h0M119.1 474.0h0M119.1 482.0h0M119.2 479.9h0M119.2 475.3h0M119.3 481.5h0M119.3 479.9h0M119.4 479.1h0M119.4 489.1h0M119.5 483.6h0M119.5 485.4h0M119.6 480.0h0M119.6 481.3h0M119.7 487.1h0M119.7 473.7h0M119.7 476.3h0M119.8 482.0h0M119.8 484.1h0M119.8 476.8h0M119.9 479.3h0M119.9 484.8h0M119.9 474.1h0M120.0 483.7h0M120.1 477.4h0M120.1 475.4h0M120.1 482.3h0M120.2 486.5h0M120.2 483.1h0M120.2 473.5h0M120.3 479.8h0M120.3 481.5h0M120.3 480.6h0M120.4 475.8h0M120.5 490.5h0M120.5 483.6h0M120.5 473.0h0M120.6 483.7h0M120.6 474.4h0M120.6 476.2h0M120.7 477.9h0M120.7 484.5h0M120.8 481.9h0M120.8 485.7h0M120.8 484.9h0M120.9 474.7h0M120.9 479.3h0M121.0 485.6h0M121.0 481.8h0M121.1 478.1h0M121.1 485.4h0M121.1 476.6h0M121.2 484.4h0M121.2 480.3h0M121.3 486.1h0M121.3 482.9h0M121.3 496.6h0M121.4 479.7h0M121.4 483.8h0M121.5 476.9h0M121.5 483.6h0M121.5 490.8h0M121.6 475.2h0M121.6 480.5h0M121.7 476.0h0M121.7 488.7h0M121.7 476.9h0M121.8 485.9h0M121.9 471.4h0M121.9 485.6h0M122.0 473.5h0M122.0 493.0h0M122.0 478.7h0M122.1 474.8h0M122.1 487.4h0M122.2 480.1h0M122.2 491.5h0M122.3 482.8h0M122.3 484.2h0M122.4 489.5h0M122.4 477.7h0M122.4 490.0h0M122.5 478.4h0M122.5 485.0h0M122.5 486.2h0M122.6 482.0h0M122.6 491.6h0M122.6 479.0h0M122.7 489.6h0M122.7 478.2h0M122.7 480.2h0M122.8 491.5h0M122.8 482.7h0M122.9 486.0h0M122.9 478.4h0M122.9 487.3h0M123.0 481.0h0M123.0 479.7h0M123.0 484.3h0M123.1 494.2h0M123.1 482.7h0M123.1 481.4h0M123.2 486.4h0M123.3 484.8h0M123.3 487.7h0M123.3 494.3h0M123.4 474.6h0M123.4 483.3h0M123.4 485.4h0M123.5 477.2h0M123.5 483.3h0M123.5 479.9h0M123.6 485.8h0M123.6 477.8h0M123.6 485.9h0M123.7 489.5h0M123.7 482.4h0M123.8 489.2h0M123.8 475.4h0M123.8 485.9h0M123.9 478.4h0M123.9 479.8h0M123.9 486.3h0M124.0 488.9h0M124.0 483.3h0M124.0 488.0h0M124.1 476.0h0M124.1 472.8h0M124.2 482.0h0M124.2 494.6h0M124.3 488.4h0M124.3 477.7h0M124.3 489.7h0M124.4 486.7h0M124.4 490.5h0M124.4 487.1h0M124.5 484.3h0M124.5 481.9h0M124.5 490.0h0M124.6 492.7h0M124.7 483.2h0M124.7 484.3h0M124.8 481.3h0M124.8 487.6h0M124.8 480.7h0M124.9 479.3h0M124.9 485.2h0M124.9 486.2h0M125.0 483.4h0M125.0 486.9h0M125.0 483.5h0M125.1 482.2h0M125.1 478.2h0M125.2 477.2h0M125.2 489.1h0M125.2 480.2h0M125.3 481.6h0M125.3 491.3h0M125.3 483.8h0M125.4 489.0h0M125.4 483.3h0M125.4 486.0h0M125.5 485.0h0M125.5 480.9h0M125.6 490.9h0M125.6 489.9h0M125.6 482.5h0M125.7 487.9h0M125.7 489.7h0M125.7 498.8h0M125.8 480.1h0M125.8 484.7h0M125.8 486.8h0M125.9 484.7h0M125.9 492.9h0M125.9 476.8h0M126.0 486.6h0M126.0 485.4h0M126.1 482.6h0M126.1 477.5h0M126.1 491.8h0M126.2 496.1h0M126.2 486.6h0M126.2 490.9h0M126.3 482.6h0M126.3 485.4h0M126.4 488.7h0M126.4 491.0h0M126.5 493.0h0M126.5 487.5h0M126.5 480.2h0M126.6 503.6h0M126.6 489.6h0M126.6 491.6h0M126.7 481.5h0M126.7 485.4h0M126.7 490.0h0M126.8 487.8h0M126.8 473.7h0M126.8 487.2h0M126.9 489.7h0M127.0 485.3h0M127.0 487.1h0M127.0 478.0h0M127.1 491.9h0M127.1 488.2h0M127.2 486.7h0M127.2 489.9h0M127.2 493.8h0M127.3 487.9h0M127.3 491.7h0M127.4 488.2h0M127.4 485.6h0M127.5 481.7h0M127.5 489.1h0M127.5 482.1h0M127.6 489.3h0M127.6 483.9h0M127.6 493.7h0M127.7 501.1h0M127.7 485.9h0M127.7 479.6h0M127.8 486.5h0M127.8 490.5h0M127.9 492.6h0M127.9 490.5h0M128.0 485.2h0M128.0 486.7h0M128.0 477.5h0M128.1 487.0h0M128.1 495.2h0M128.1 490.4h0M128.2 485.3h0M128.2 506.1h0M128.3 482.4h0M128.3 498.4h0M128.4 492.4h0M128.4 495.7h0M128.4 497.4h0M128.5 483.4h0M128.6 495.5h0M128.6 494.2h0M128.6 488.1h0M128.7 489.8h0M128.8 487.9h0M128.8 492.3h0M128.9 502.0h0M128.9 483.0h0M128.9 479.7h0M129.0 484.2h0M129.0 500.2h0M129.0 488.9h0M129.1 485.0h0M129.1 494.2h0M129.1 483.3h0M129.2 487.2h0M129.2 499.2h0M129.3 501.2h0M129.3 474.2h0M129.3 493.3h0M129.4 484.5h0M129.4 490.7h0M129.4 497.6h0M129.5 490.2h0M129.5 481.4h0M129.6 497.7h0M129.6 493.1h0M129.6 486.4h0M129.8 480.6h0M129.8 492.9h0M129.9 490.6h0M129.9 487.5h0M129.9 493.2h0M130.0 497.4h0M130.0 493.6h0M130.0 475.4h0M130.1 483.3h0M130.1 488.9h0M130.2 498.8h0M130.2 490.7h0M130.2 493.8h0M130.3 496.2h0M130.3 495.4h0M130.4 493.8h0M130.4 490.6h0M130.4 493.2h0M130.5 488.9h0M130.5 497.8h0M130.5 483.8h0M130.6 490.8h0M130.6 493.5h0M130.7 490.9h0M130.7 502.9h0M130.7 486.2h0M130.8 500.4h0M130.8 493.2h0M130.9 479.3h0M130.9 491.6h0M130.9 492.8h0M131.0 475.5h0M131.0 493.2h0M131.0 496.2h0M131.1 494.2h0M131.2 495.9h0M131.2 498.5h0M131.2 487.9h0M131.3 484.3h0M131.3 488.1h0M131.3 493.7h0M131.4 487.7h0M131.4 499.7h0M131.4 501.7h0M131.5 492.3h0M131.5 486.0h0M131.6 497.4h0M131.6 500.5h0M131.6 493.5h0M131.7 491.8h0M131.7 493.9h0M131.7 492.3h0M131.8 488.4h0M131.8 498.1h0M131.8 496.0h0M131.9 497.1h0M131.9 496.3h0M132.0 492.6h0M132.0 489.3h0M132.1 493.4h0M132.1 488.2h0M132.1 496.4h0M132.2 486.5h0M132.2 494.2h0M132.2 489.2h0M132.3 492.2h0M132.3 502.5h0M132.3 482.8h0M132.4 494.7h0M132.4 487.7h0M132.5 486.5h0M132.5 493.5h0M132.6 503.4h0M132.6 488.0h0M132.6 504.8h0M132.7 488.3h0M132.7 497.2h0M132.7 482.0h0M132.8 498.4h0M132.8 502.1h0M132.8 495.9h0M132.9 499.3h0M132.9 496.9h0M133.0 485.4h0M133.0 488.1h0M133.0 491.3h0M133.1 489.5h0M133.2 491.8h0M133.2 498.4h0M133.3 491.9h0M133.3 497.8h0M133.3 496.0h0M133.4 490.9h0M133.4 497.9h0M133.5 490.6h0M133.5 496.9h0M133.5 487.4h0M133.6 499.6h0M133.6 498.0h0M133.6 495.6h0M133.7 485.9h0M133.7 494.3h0M133.7 492.7h0M133.8 499.4h0M133.9 491.7h0M133.9 497.3h0M134.0 495.2h0M134.0 485.5h0M134.0 493.8h0M134.1 491.5h0M134.2 490.2h0M134.2 492.4h0M134.2 500.2h0M134.3 501.8h0M134.3 491.9h0M134.4 495.4h0M134.4 492.9h0M134.4 501.5h0M134.5 495.7h0M134.5 488.6h0M134.5 491.0h0M134.6 501.7h0M134.6 495.0h0M134.6 492.1h0M134.7 493.0h0M134.7 501.1h0M134.8 500.0h0M134.9 494.3h0M134.9 503.0h0M134.9 489.2h0M135.0 496.7h0M135.0 499.8h0M135.1 514.4h0M135.1 491.0h0M135.1 489.7h0M135.2 491.8h0M135.2 502.3h0M135.3 504.2h0M135.3 489.2h0M135.3 491.1h0M135.4 499.7h0M135.4 492.1h0M135.4 497.7h0M135.5 501.2h0M135.5 497.7h0M135.6 492.3h0M135.6 501.2h0M135.7 488.7h0M135.7 492.5h0M135.8 499.6h0M135.8 492.3h0M135.8 487.7h0M135.9 492.9h0M135.9 485.1h0M135.9 480.0h0M136.0 496.5h0M136.0 498.1h0M136.0 501.0h0M136.1 506.8h0M136.1 497.0h0M136.2 494.6h0M136.2 491.5h0M136.2 498.0h0M136.3 499.0h0M136.3 491.7h0M136.4 494.0h0M136.4 491.8h0M136.5 489.3h0M136.5 502.6h0M136.5 492.2h0M136.6 495.8h0M136.6 500.9h0M136.7 503.4h0M136.7 493.0h0M136.7 496.8h0M136.8 500.7h0M136.8 491.0h0M136.8 493.3h0M136.9 487.6h0M136.9 496.5h0M136.9 508.5h0M137.0 506.3h0M137.0 497.0h0M137.0 493.1h0M137.1 505.0h0M137.1 501.9h0M137.2 503.9h0M137.2 495.4h0M137.2 490.9h0M137.3 496.9h0M137.3 498.4h0M137.3 499.3h0M137.4 494.9h0M137.4 503.2h0M137.4 495.3h0M137.5 489.7h0M137.5 493.8h0M137.6 502.0h0M137.6 491.2h0M137.6 499.0h0M137.7 496.0h0M137.8 497.0h0M137.8 485.8h0M137.9 500.2h0M137.9 494.9h0M137.9 502.8h0M138.0 496.5h0M138.1 493.0h0M138.1 498.7h0M138.1 489.0h0M138.2 496.2h0M138.2 492.2h0M138.2 501.0h0M138.3 499.6h0M138.3 484.9h0M138.3 502.4h0M138.4 490.2h0M138.4 488.4h0M138.5 490.2h0M138.5 501.2h0M138.6 495.1h0M138.6 491.8h0M138.6 494.4h0M138.7 500.7h0M138.7 501.7h0M138.7 494.5h0M138.8 491.2h0M138.8 497.6h0M138.8 499.2h0M138.9 495.6h0M138.9 505.0h0M139.0 495.1h0M139.0 481.1h0M139.0 504.1h0M139.1 488.2h0M139.1 494.9h0M139.1 505.8h0M139.2 498.4h0M139.2 494.8h0M139.2 500.8h0M139.3 499.6h0M139.3 500.7h0M139.3 492.0h0M139.4 490.0h0M139.4 488.9h0M139.5 489.7h0M139.5 499.2h0M139.5 495.4h0M139.6 497.9h0M139.6 487.8h0M139.6 500.0h0M139.7 493.2h0M139.7 497.4h0M139.7 495.0h0M139.8 491.2h0M139.8 504.5h0M139.9 499.1h0M139.9 497.7h0M139.9 496.0h0M140.0 500.8h0M140.0 499.4h0M140.0 498.2h0M140.1 502.2h0M140.1 497.2h0M140.1 491.7h0M140.2 495.1h0M140.2 489.8h0M140.3 494.9h0M140.3 497.5h0M140.4 498.4h0M140.4 504.2h0M140.4 494.1h0M140.5 489.0h0M140.5 503.2h0M140.5 497.9h0M140.6 496.3h0M140.6 500.8h0M140.6 498.4h0M140.7 502.9h0M140.7 494.1h0M140.8 497.6h0M140.8 494.2h0M140.9 497.2h0M140.9 506.1h0M141.0 502.4h0M141.0 495.8h0M141.0 500.1h0M141.1 497.9h0M141.1 492.3h0M141.1 494.2h0M141.2 496.7h0M141.2 498.5h0M141.3 490.6h0M141.3 500.1h0M141.3 495.1h0M141.4 500.0h0M141.4 495.3h0M141.4 497.2h0M141.5 492.8h0M141.5 498.6h0M141.5 508.1h0M141.6 485.3h0M141.6 490.2h0M141.6 498.0h0M141.7 495.6h0M141.7 493.5h0M141.8 486.7h0M141.8 498.3h0M141.8 504.9h0M141.9 496.4h0M141.9 497.4h0M142.0 486.4h0M142.0 497.9h0M142.0 498.9h0M142.1 492.2h0M142.2 509.0h0M142.2 497.1h0M142.2 498.1h0M142.3 496.3h0M142.3 493.8h0M142.3 504.0h0M142.4 493.1h0M142.4 502.8h0M142.4 499.3h0M142.5 507.1h0M142.5 499.0h0M142.6 494.4h0M142.7 502.5h0M142.7 504.2h0M142.8 495.0h0M142.8 492.9h0M142.8 486.7h0M142.9 501.5h0M142.9 496.1h0M143.0 485.1h0M143.0 491.7h0M143.1 501.7h0M143.2 499.8h0M143.2 502.0h0M143.2 495.3h0M143.3 499.3h0M143.3 497.1h0M143.3 506.5h0M143.4 501.7h0M143.4 503.9h0M143.4 506.0h0M143.5 489.3h0M143.5 509.5h0M143.6 496.2h0M143.6 500.0h0M143.6 499.1h0M143.7 488.8h0M143.7 487.9h0M143.7 495.1h0M143.8 491.1h0M143.8 492.7h0M143.9 498.2h0M143.9 494.2h0M144.0 495.6h0M144.0 488.3h0M144.1 501.2h0M144.1 494.9h0M144.1 493.3h0M144.2 501.6h0M144.2 507.9h0M144.2 504.3h0M144.3 488.0h0M144.3 498.0h0M144.4 493.2h0M144.4 497.7h0M144.4 500.2h0M144.5 490.6h0M144.6 502.1h0M144.6 500.2h0M144.6 502.5h0M144.7 489.7h0M144.7 500.5h0M144.7 497.5h0M144.8 492.3h0M144.8 494.7h0M144.8 495.8h0M144.9 489.1h0M144.9 499.8h0M145.0 497.5h0M145.0 492.7h0M145.0 498.9h0M145.1 498.1h0M145.1 493.7h0M145.1 501.9h0M145.2 492.0h0M145.2 495.8h0M145.3 497.3h0M145.3 499.3h0M145.3 501.5h0M145.4 496.1h0M145.4 487.4h0M145.5 496.2h0M145.5 483.7h0M145.5 497.5h0M145.6 500.2h0M145.6 501.5h0M145.7 489.9h0M145.7 499.5h0M145.7 501.0h0M145.8 488.7h0M145.8 502.0h0M145.9 488.0h0M145.9 493.9h0M146.0 495.7h0M146.0 498.5h0M146.0 487.5h0M146.1 501.2h0M146.1 499.8h0M146.1 492.2h0M146.2 490.1h0M146.2 494.5h0M146.3 497.1h0M146.3 493.3h0M146.4 494.9h0M146.4 502.6h0M146.5 507.2h0M146.5 496.8h0M146.6 491.1h0M146.6 488.1h0M146.6 497.7h0M146.7 496.1h0M146.7 491.7h0M146.7 490.7h0M146.8 500.7h0M146.8 493.5h0M146.9 494.3h0M146.9 500.4h0M146.9 493.2h0M147.0 503.6h0M147.0 495.0h0M147.1 491.6h0M147.1 490.7h0M147.1 492.1h0M147.2 494.0h0M147.2 496.1h0M147.3 501.1h0M147.3 503.7h0M147.3 498.2h0M147.4 489.9h0M147.4 495.0h0M147.5 483.0h0M147.5 496.4h0M147.6 497.2h0M147.6 487.4h0M147.7 494.4h0M147.7 499.1h0M147.8 490.3h0M147.8 491.7h0M147.9 493.8h0M147.9 497.3h0M147.9 494.8h0M148.0 492.2h0M148.0 496.7h0M148.0 490.8h0M148.1 481.9h0M148.2 486.2h0M148.2 496.6h0M148.2 493.7h0M148.3 490.6h0M148.3 497.4h0M148.4 489.7h0M148.4 488.1h0M148.5 489.6h0M148.5 486.7h0M148.5 494.9h0M148.6 490.7h0M148.6 493.9h0M148.7 479.9h0M148.7 496.7h0M148.7 481.7h0M148.8 497.7h0M148.8 491.5h0M148.8 504.4h0M148.9 490.3h0M148.9 504.5h0M148.9 487.4h0M149.0 488.4h0M149.0 496.5h0M149.0 493.4h0M149.1 499.7h0M149.1 498.0h0M149.2 492.1h0M149.2 488.7h0M149.2 492.2h0M149.3 496.2h0M149.3 493.6h0M149.3 499.6h0M149.4 492.2h0M149.4 482.6h0M149.4 492.9h0M149.5 494.6h0M149.5 490.4h0M149.6 482.5h0M149.6 485.1h0M149.6 488.0h0M149.7 491.2h0M149.7 492.4h0M149.8 501.8h0M149.8 485.2h0M149.8 486.5h0M149.9 493.8h0M149.9 497.6h0M149.9 496.8h0M150.0 495.0h0M150.0 483.2h0M150.1 487.9h0M150.1 491.3h0M150.1 497.4h0M150.2 488.4h0M150.2 491.8h0M150.3 494.0h0M150.3 495.1h0M150.3 488.8h0M150.4 489.8h0M150.4 486.9h0M150.4 492.5h0M150.5 502.2h0M150.5 494.2h0M150.6 481.6h0M150.6 488.8h0M150.6 494.0h0M150.7 491.6h0M150.7 507.3h0M150.7 483.8h0M150.8 497.7h0M150.8 487.4h0" stroke="#ff7f0e" stroke-width="3.0" stroke-linecap="round" fill="none"/><polyline points="61.0,460.2 61.4,464.6 62.3,506.1 62.7,513.1 63.3,512.0 63.5,509.4 64.8,474.1 65.1,469.4 65.4,468.0 66.1,468.9 66.5,471.0 68.2,501.2 68.6,505.1 69.1,506.2 70.1,505.5 70.6,503.8 73.1,478.1 73.6,474.9 73.9,474.1 74.3,473.9 75.7,474.5 76.4,476.1 79.8,497.3 80.5,500.2 81.4,501.2 83.4,500.7 84.5,499.4 89.2,481.3 90.3,478.9 90.8,478.3 91.5,478.1 94.4,478.5 95.8,479.7 96.9,482.0 102.1,494.5 103.5,496.7 104.9,497.6 106.1,497.7 109.2,497.4 110.4,497.0 111.3,496.4 113.0,494.6 118.0,487.0 120.7,483.4 122.7,481.7 125.0,481.1 130.7,481.4 133.5,482.3 135.7,483.9 142.0,489.7 145.7,492.8 148.3,494.3 150.8,495.0" stroke="#000" stroke-width="0.8" stroke-dasharray="2.4,1.4" fill="none" stroke-linejoin="round"/><polyline points="61.0,488.7 61.4,510.5 61.7,515.3 62.1,514.1 62.4,511.1 63.4,472.4 63.9,466.2 64.5,467.1 64.9,469.7 66.3,501.9 66.7,506.2 67.1,507.7 67.9,507.0 68.4,505.0 70.4,477.5 70.9,473.8 71.4,472.6 72.7,473.3 73.2,474.9 76.2,498.2 76.8,501.3 77.5,502.3 79.2,501.8 80.1,500.4 84.1,480.7 85.0,478.0 85.5,477.4 86.0,477.2 88.4,477.6 89.6,478.9 90.6,481.3 95.2,495.3 96.3,497.5 97.6,498.4 101.2,498.1 102.1,497.7 102.9,497.0 104.2,495.1 108.4,487.0 110.7,483.0 112.4,481.1 114.2,480.5 119.2,480.8 120.5,481.1 121.6,481.8 123.5,483.5 131.5,492.7 133.5,494.4 135.3,495.3 138.2,495.7 145.1,495.3 147.9,494.4 150.8,492.7" stroke="#000" stroke-width="0.8" stroke-dasharray="2.4,1.4" fill="none" stroke-linejoin="round"/></g>
<rect x="56.5" y="453.1" width="98.8" height="71.2" fill="none" stroke="#000" stroke-width="1.3"/>
<line x1="61.0" y1="524.3000000000001" x2="61.0" y2="526.9" stroke="#000" stroke-width="0.6"/>
<text x="61.0" y="540.6" text-anchor="middle" font-size="14.5" >0</text>
<line x1="132.8" y1="524.3000000000001" x2="132.8" y2="526.9" stroke="#000" stroke-width="0.6"/>
<text x="132.8" y="540.6" text-anchor="middle" font-size="14.5" >20</text>
<text x="105.9" y="558.0" text-anchor="middle" font-size="14.5" >time</text>
<text x="105.9" y="443.3" text-anchor="middle" font-size="14.5" >noisy data</text>
<line x1="53.9" y1="453.1" x2="56.5" y2="453.1" stroke="#000" stroke-width="0.6"/>
<text x="50.7" y="457.0" text-anchor="end" font-size="14.5" >2.5</text>
<line x1="53.9" y1="488.7" x2="56.5" y2="488.7" stroke="#000" stroke-width="0.6"/>
<text x="50.7" y="492.6" text-anchor="end" font-size="14.5" >0</text>
<line x1="53.9" y1="524.3" x2="56.5" y2="524.3" stroke="#000" stroke-width="0.6"/>
<text x="50.7" y="528.2" text-anchor="end" font-size="14.5" >−2.5</text>
<text transform="translate(13.0,488.7) rotate(-90)" text-anchor="middle" font-size="15.5">{<tspan font-style="italic">x</tspan><tspan font-size="10.5" dy="3.2">1</tspan><tspan dy="-3.2">, </tspan><tspan font-style="italic">x</tspan><tspan font-size="10.5" dy="3.2">2</tspan><tspan dy="-3.2">}</tspan></text>
<g clip-path="url(#c31)"><polyline points="219.8,453.1 220.2,458.5 221.1,510.5 221.5,519.2 222.1,517.9 222.3,514.5 223.6,470.5 223.9,464.6 224.2,462.8 224.9,463.9 225.3,466.5 227.0,504.4 227.4,509.2 227.9,510.6 228.9,509.7 229.4,507.5 231.9,475.4 232.4,471.4 232.7,470.5 233.1,470.2 234.5,471.0 235.2,473.0 238.6,499.5 239.3,503.1 239.7,504.0 240.2,504.4 242.2,503.7 243.3,502.1 248.0,479.4 249.1,476.4 249.6,475.7 250.3,475.4 253.2,476.0 253.9,476.6 254.6,477.5 255.7,480.3 260.9,495.9 262.3,498.6 263.7,499.8 264.9,499.9 268.0,499.5 269.2,499.1 270.1,498.4 271.8,496.0 276.8,486.6 279.5,482.1 281.5,479.9 282.6,479.4 283.8,479.2 289.5,479.6 291.0,480.0 292.3,480.7 294.5,482.7 300.8,489.9 304.5,493.8 307.1,495.7 309.6,496.6" stroke="#1f77b4" stroke-width="2.1" fill="none" stroke-linejoin="round"/><polyline points="219.8,488.7 220.2,515.9 220.5,521.9 220.9,520.4 221.2,516.7 222.2,468.3 222.7,460.6 223.3,461.8 223.7,465.0 225.1,505.2 225.5,510.6 225.9,512.5 226.7,511.5 227.2,509.0 229.2,474.7 229.7,470.1 230.2,468.6 231.5,469.4 232.0,471.5 235.0,500.6 235.6,504.5 235.9,505.4 236.3,505.7 238.0,505.0 238.9,503.3 242.9,478.6 243.8,475.4 244.3,474.6 244.8,474.3 247.2,474.9 247.9,475.4 248.4,476.4 249.4,479.4 254.0,496.9 255.1,499.7 255.7,500.5 256.4,500.8 257.4,500.9 260.0,500.4 260.9,500.0 261.7,499.1 263.0,496.6 267.2,486.5 269.5,481.6 271.2,479.3 272.0,478.7 273.0,478.4 278.0,478.8 279.3,479.2 280.4,480.0 282.3,482.2 290.3,493.7 292.3,495.8 294.1,497.0 295.4,497.3 297.0,497.5 303.9,496.9 306.7,495.9 309.6,493.7" stroke="#ff7f0e" stroke-width="2.1" fill="none" stroke-linejoin="round"/><polyline points="219.8,453.1 220.2,458.5 221.1,510.5 221.5,519.2 222.1,517.9 222.3,514.5 223.6,470.5 223.9,464.6 224.2,462.8 224.9,463.9 225.3,466.5 227.0,504.4 227.4,509.2 227.9,510.6 228.9,509.7 229.4,507.5 231.9,475.4 232.4,471.4 232.7,470.5 233.1,470.2 234.5,471.0 235.2,473.0 238.6,499.5 239.3,503.1 239.7,504.0 240.2,504.4 242.2,503.7 243.3,502.1 248.0,479.4 249.1,476.4 249.6,475.7 250.3,475.4 253.2,476.0 253.9,476.6 254.6,477.5 255.7,480.3 260.9,495.9 262.3,498.6 263.7,499.8 264.9,499.9 268.0,499.5 269.2,499.1 270.1,498.4 271.8,496.0 276.8,486.6 279.5,482.1 281.5,479.9 282.6,479.4 283.8,479.2 289.5,479.6 291.0,480.0 292.3,480.7 294.5,482.7 300.8,489.9 304.5,493.8 307.1,495.7 309.6,496.6" stroke="#000" stroke-width="0.8" stroke-dasharray="2.4,1.4" fill="none" stroke-linejoin="round"/><polyline points="219.8,488.7 220.2,515.9 220.5,521.9 220.9,520.4 221.2,516.7 222.2,468.3 222.7,460.6 223.3,461.8 223.7,465.0 225.1,505.2 225.5,510.6 225.9,512.5 226.7,511.5 227.2,509.0 229.2,474.7 229.7,470.1 230.2,468.6 231.5,469.4 232.0,471.5 235.0,500.6 235.6,504.5 235.9,505.4 236.3,505.7 238.0,505.0 238.9,503.3 242.9,478.6 243.8,475.4 244.3,474.6 244.8,474.3 247.2,474.9 247.9,475.4 248.4,476.4 249.4,479.4 254.0,496.9 255.1,499.7 255.7,500.5 256.4,500.8 257.4,500.9 260.0,500.4 260.9,500.0 261.7,499.1 263.0,496.6 267.2,486.5 269.5,481.6 271.2,479.3 272.0,478.7 273.0,478.4 278.0,478.8 279.3,479.2 280.4,480.0 282.3,482.2 290.3,493.7 292.3,495.8 294.1,497.0 295.4,497.3 297.0,497.5 303.9,496.9 306.7,495.9 309.6,493.7" stroke="#000" stroke-width="0.8" stroke-dasharray="2.4,1.4" fill="none" stroke-linejoin="round"/></g>
<rect x="215.3" y="453.1" width="98.8" height="71.2" fill="none" stroke="#000" stroke-width="1.3"/>
<line x1="219.8" y1="524.3000000000001" x2="219.8" y2="526.9" stroke="#000" stroke-width="0.6"/>
<text x="219.8" y="540.6" text-anchor="middle" font-size="14.5" >0</text>
<line x1="291.6" y1="524.3000000000001" x2="291.6" y2="526.9" stroke="#000" stroke-width="0.6"/>
<text x="291.6" y="540.6" text-anchor="middle" font-size="14.5" >20</text>
<text x="264.7" y="558.0" text-anchor="middle" font-size="14.5" >time</text>
<text x="264.7" y="443.3" text-anchor="middle" font-size="14.5" >denoised data</text>
<line x1="212.7" y1="453.1" x2="215.3" y2="453.1" stroke="#000" stroke-width="0.6"/>
<text x="209.5" y="457.0" text-anchor="end" font-size="14.5" >2</text>
<line x1="212.7" y1="488.7" x2="215.3" y2="488.7" stroke="#000" stroke-width="0.6"/>
<text x="209.5" y="492.6" text-anchor="end" font-size="14.5" >0</text>
<line x1="212.7" y1="524.3" x2="215.3" y2="524.3" stroke="#000" stroke-width="0.6"/>
<text x="209.5" y="528.2" text-anchor="end" font-size="14.5" >−2</text>
<text transform="translate(183.1,488.7) rotate(-90)" text-anchor="middle" font-size="15.5">{<tspan font-style="italic">x</tspan><tspan font-size="10.5" dy="3.2">1</tspan><tspan dy="-3.2">, </tspan><tspan font-style="italic">x</tspan><tspan font-size="10.5" dy="3.2">2</tspan><tspan dy="-3.2">}</tspan></text>
<g clip-path="url(#c32)"><polyline points="379.0,471.2 379.1,481.2 379.2,470.3 379.7,462.8 380.2,472.8 380.3,485.3 380.5,469.4 380.8,464.4 381.1,467.3 381.3,477.4 381.4,499.4 381.5,473.3 381.9,464.5 382.2,465.1 382.8,471.6 383.1,490.2 383.3,472.6 383.4,471.4 383.8,488.6 384.0,470.0 384.4,466.0 384.8,464.4 385.3,467.7 385.8,480.1 386.2,472.2 386.3,472.4 386.6,498.4 386.6,478.2 386.9,469.9 387.0,469.2 387.7,480.1 388.4,470.9 388.7,472.0 389.0,488.1 389.2,471.9 389.4,467.5 389.7,466.5 390.4,473.7 390.5,473.9 390.9,471.4 391.2,473.9 391.4,503.8 391.5,479.3 392.0,472.3 392.8,471.3 393.3,474.0 393.8,485.4 394.2,480.5 394.3,481.0 394.5,496.6 395.0,474.7 395.6,468.7 395.9,467.4 396.5,466.8 396.9,469.5 397.9,483.1 398.1,501.4 398.2,484.6 398.5,476.2 398.7,473.7 399.7,469.3 400.0,468.6 400.2,468.6 400.9,472.1 401.9,482.7 402.1,506.9 402.3,486.1 402.4,485.5 402.6,500.0 402.9,478.5 403.1,477.3 403.4,494.2 403.7,475.7 404.0,472.9 404.4,471.5 404.7,471.3 405.4,475.5 406.0,488.3 406.3,491.0 406.5,511.7 406.7,484.9 407.1,477.0 407.5,473.9 407.8,474.3 408.5,477.6 409.3,472.0 409.7,471.1 410.0,471.0 410.8,472.8 411.1,476.7 411.5,500.2 411.8,484.0 411.9,485.2 412.2,503.3 412.4,490.9 412.7,486.7 412.8,487.5 413.0,506.5 413.2,493.3 413.4,486.4 415.2,474.1 416.7,469.2 416.9,469.2 417.3,470.1 418.0,474.5 418.2,474.7 418.5,474.0 418.8,474.3 419.6,482.9 419.9,481.2 420.1,482.0 420.5,502.3 420.8,481.2 421.1,479.8 421.7,485.5 422.3,474.1 423.0,470.2 423.3,469.8 423.9,470.4 424.6,470.0 425.0,470.3 425.9,472.7 426.7,475.7 427.6,489.2 427.8,502.9 428.1,484.6 429.3,477.4 429.6,476.6 430.2,477.3 430.8,474.6 431.8,474.1 432.7,471.3 433.4,471.4 434.0,471.0 434.7,472.8 435.3,473.1 436.0,475.3 437.2,485.7 437.5,512.4 437.6,488.3 438.1,478.7 438.3,478.2 440.0,480.1 440.9,475.7 442.1,472.4 443.3,471.0 443.8,470.7 444.5,470.1 445.5,471.3 446.5,473.7 447.9,481.1 448.5,487.9 449.0,485.3 449.2,486.0 449.5,513.3 449.6,488.4 450.1,479.8 450.4,482.4 450.8,492.1 451.3,480.1 451.9,476.2 452.8,474.9 453.5,473.3 454.3,472.4 454.9,470.8 455.6,471.4 456.3,470.7 457.0,471.4 457.7,470.8 458.4,472.4 459.0,472.6 459.3,473.0 460.4,476.6 460.5,476.8 460.9,476.4 461.0,476.7 461.7,482.0 462.2,483.7 462.6,491.9 462.7,510.5 462.8,494.0 463.1,488.3 463.4,487.4 464.0,490.9 464.9,479.8 466.6,475.6 467.4,477.0 468.1,473.1 468.8,472.1" stroke="#1f77b4" stroke-width="1.9" fill="none" stroke-linejoin="round"/><polyline points="379.0,464.5 379.1,463.3 379.7,467.3 380.0,471.8 380.4,468.0 380.5,468.2 381.0,476.7 381.1,510.7 381.2,478.3 381.6,468.1 382.0,469.7 382.4,468.1 382.7,471.3 383.0,495.9 383.1,477.0 383.8,468.4 384.2,475.0 384.4,491.1 384.5,476.2 384.8,470.6 385.2,471.6 385.6,470.8 385.9,473.3 386.2,494.8 386.5,478.3 386.6,479.0 386.8,497.0 386.9,479.9 387.1,476.0 387.4,503.6 387.5,477.6 388.0,468.3 388.4,466.9 389.0,469.4 389.4,475.4 389.7,501.0 389.7,482.2 390.1,473.2 390.7,470.6 391.4,472.6 392.1,468.9 392.6,474.6 392.7,488.4 393.0,471.2 393.2,467.6 393.5,466.3 393.9,467.5 394.6,473.0 394.8,473.2 395.5,472.7 395.8,474.9 396.1,484.8 396.2,506.4 396.4,480.3 396.7,474.8 397.3,470.5 397.5,470.2 397.8,472.1 398.0,476.8 398.2,500.7 398.5,476.9 398.6,476.3 399.0,482.1 399.1,495.6 399.4,478.9 399.6,480.7 399.8,501.7 400.1,478.8 400.7,473.1 401.1,471.3 401.4,470.7 401.7,472.0 402.0,475.6 402.5,493.8 402.8,484.2 403.1,481.9 403.4,484.1 403.7,503.8 403.8,484.4 404.2,474.9 405.3,469.4 405.9,470.3 406.5,470.0 406.8,470.5 407.4,475.4 407.8,484.1 408.1,518.8 408.2,490.2 408.3,489.7 408.6,507.9 408.7,491.0 409.0,482.4 409.2,481.0 409.5,485.7 409.6,502.4 410.0,477.8 410.2,474.9 411.4,469.7 412.1,470.6 412.8,474.2 413.2,473.6 413.5,474.2 414.7,483.0 415.3,479.4 415.5,479.9 415.8,487.0 416.0,501.2 416.2,485.0 417.0,475.3 417.4,472.7 418.1,471.5 418.9,472.6 419.6,472.4 419.8,472.7 420.3,474.6 421.2,479.6 422.1,482.5 422.8,479.7 422.9,479.9 423.2,485.1 423.4,497.3 423.5,482.9 423.9,475.4 424.1,475.0 424.8,479.0 425.4,473.8 426.1,470.8 426.5,470.3 427.1,470.9 427.5,470.8 427.7,470.9 428.8,473.6 429.5,480.5 430.2,476.8 430.5,477.9 430.9,484.1 431.0,498.3 431.2,484.2 431.6,478.6 431.8,479.2 432.2,487.1 432.3,504.7 432.4,505.0 432.5,496.8 432.6,506.3 432.8,486.0 433.3,476.1 433.7,474.2 434.1,473.7 434.7,473.3 435.7,470.3 436.3,469.9 436.8,470.1 437.8,474.2 439.2,474.1 439.6,474.8 440.6,484.1 441.1,486.9 441.6,484.6 441.7,485.0 442.0,507.8 442.1,489.8 442.4,485.0 442.5,485.4 442.9,494.6 443.0,514.6 443.2,502.0 443.2,502.9 443.3,520.8 443.4,498.7 443.8,487.6 444.8,476.0 445.1,474.9 445.8,474.0 446.6,471.9 447.3,471.8 447.9,472.1 448.4,470.9 448.7,470.9 449.6,473.5 450.3,474.9 451.0,477.3 451.9,478.0 452.5,477.9 452.7,478.5 453.1,485.4 453.4,504.9 453.4,505.2 453.5,498.0 453.6,509.4 453.8,489.7 454.1,482.9 454.2,483.1 454.5,492.6 454.7,513.1 455.2,483.8 455.3,483.3 455.7,489.9 455.9,506.6 456.0,493.7 456.6,482.5 456.9,479.5 457.4,477.9 458.1,474.0 458.2,473.8 458.7,473.7 459.6,471.4 460.7,470.7 461.4,471.6 462.3,470.8 463.1,472.5 463.9,472.9 464.6,474.6 465.1,474.2 465.3,474.4 466.1,480.6 466.7,477.3 466.9,477.0 467.3,480.2 467.5,487.7 467.6,520.7 467.6,495.6 467.9,486.4 468.2,492.3 468.4,510.6 468.5,499.0 468.6,500.9 468.7,518.0 468.8,503.8" stroke="#ff7f0e" stroke-width="1.9" fill="none" stroke-linejoin="round"/></g>
<rect x="374.5" y="453.1" width="98.8" height="71.2" fill="none" stroke="#000" stroke-width="1.3"/>
<line x1="379.0" y1="524.3000000000001" x2="379.0" y2="526.9" stroke="#000" stroke-width="0.6"/>
<text x="379.0" y="540.6" text-anchor="middle" font-size="14.5" >0</text>
<line x1="450.8" y1="524.3000000000001" x2="450.8" y2="526.9" stroke="#000" stroke-width="0.6"/>
<text x="450.8" y="540.6" text-anchor="middle" font-size="14.5" >20</text>
<text x="423.9" y="558.0" text-anchor="middle" font-size="14.5" >time</text>
<text x="423.9" y="443.3" text-anchor="middle" font-size="14.5" >denoising quality</text>
<line x1="371.9" y1="467.0" x2="374.5" y2="467.0" stroke="#000" stroke-width="0.6"/>
<text x="369.3" y="474.0" text-anchor="end" font-size="14.5">10<tspan font-size="10.5" dx="-0.6" dy="-4.1">−1</tspan></text>
<line x1="371.9" y1="524.3" x2="374.5" y2="524.3" stroke="#000" stroke-width="0.6"/>
<text x="369.3" y="531.3" text-anchor="end" font-size="14.5">10<tspan font-size="10.5" dx="-0.6" dy="-4.1">−5</tspan></text>
<text transform="translate(338.0,488.7) rotate(-90)" text-anchor="middle" font-size="14.5">abs. error</text>
<g clip-path="url(#c33)"><polyline points="537.8,485.1 537.9,491.3 538.0,484.4 538.6,473.8 538.7,464.1 539.1,492.2 539.3,483.2 539.6,480.3 540.1,488.1 540.2,501.7 540.3,485.1 540.9,472.9 541.0,462.7 541.2,474.9 541.7,484.8 541.9,495.4 542.1,484.7 542.2,484.0 542.6,494.6 542.8,483.0 544.1,474.5 544.3,462.2 544.5,482.1 544.7,484.5 544.9,482.3 545.2,484.2 545.4,499.7 545.5,485.8 545.8,481.9 546.5,488.7 547.2,482.6 547.5,483.3 547.8,492.1 548.0,482.1 548.7,472.0 548.8,464.0 549.2,478.7 549.4,480.3 549.7,480.7 549.8,481.5 550.1,485.5 550.2,502.2 550.4,485.0 550.8,483.2 551.6,482.6 552.1,484.2 552.6,491.2 553.0,487.9 553.1,488.4 553.3,497.5 553.6,485.1 555.0,470.3 555.2,453.0 555.3,469.2 556.7,488.7 556.9,499.8 557.2,484.9 557.5,483.3 558.9,480.2 559.3,480.8 559.7,482.2 560.7,488.8 560.9,503.7 561.1,490.7 561.2,490.2 561.4,499.0 561.7,485.7 561.9,484.4 562.2,494.2 562.4,482.8 563.8,473.1 564.1,463.5 564.3,474.8 565.2,490.9 565.3,503.4 565.4,489.0 565.9,483.2 566.3,482.0 567.3,485.0 568.1,481.9 568.7,481.1 569.5,482.1 569.9,484.6 570.3,499.2 570.6,489.1 570.7,489.9 571.0,501.1 571.2,492.5 571.5,490.7 571.6,490.9 571.8,502.9 572.2,490.8 576.0,471.4 576.3,467.6 576.4,460.3 576.8,474.6 577.7,478.8 578.3,485.0 578.4,485.3 578.6,484.9 578.8,485.0 579.0,486.7 579.3,498.7 579.4,489.1 579.7,485.5 579.9,485.2 580.5,489.1 581.0,482.9 581.5,480.6 582.0,479.8 582.8,480.1 583.6,479.9 584.8,481.6 585.7,484.3 586.4,492.3 586.6,500.1 586.8,491.1 587.0,487.6 588.2,483.5 588.4,483.3 589.0,483.4 589.6,481.2 590.6,479.9 591.5,476.8 592.3,475.1 592.9,472.4 593.4,468.4 593.6,458.9 594.0,471.0 596.1,487.3 596.3,502.9 596.4,488.1 596.8,482.8 597.1,482.5 598.8,484.9 599.7,482.5 600.9,480.7 603.3,479.3 604.3,480.0 605.3,481.5 606.7,486.0 607.3,490.2 607.8,488.6 608.0,489.0 608.3,505.9 608.4,492.1 608.7,485.4 608.9,485.0 609.2,486.5 609.6,492.5 610.1,485.2 610.6,482.6 613.0,478.6 613.7,477.0 614.4,476.6 615.0,475.3 615.8,474.5 617.1,470.5 617.5,465.4 617.7,455.0 617.8,464.8 618.3,471.3 619.0,475.8 619.9,478.3 621.2,485.5 621.5,501.2 621.6,491.0 621.9,487.8 622.2,487.4 622.8,490.0 623.7,483.6 625.3,481.6 625.6,481.7 626.2,482.7 626.9,480.4 627.6,479.8" stroke="#1f77b4" stroke-width="1.9" fill="none" stroke-linejoin="round"/><polyline points="537.8,435.3 537.9,473.2 538.2,480.9 538.8,485.1 539.3,481.4 539.6,481.8 539.7,480.0 539.8,458.6 539.9,504.1 540.0,485.2 540.3,481.8 540.8,483.3 541.2,482.2 541.5,483.9 541.8,498.5 542.5,463.9 543.2,494.7 543.3,486.0 543.6,483.1 544.0,483.8 544.4,483.2 544.7,484.7 545.0,497.8 545.3,487.0 545.4,487.2 545.6,497.6 545.7,486.4 545.9,482.4 546.2,496.6 546.4,461.6 546.6,475.1 547.8,481.6 548.2,485.5 548.5,501.4 548.5,489.7 548.8,484.8 549.4,482.4 549.6,482.4 550.1,483.0 550.2,482.9 550.8,478.8 551.2,478.0 551.4,479.3 551.5,485.5 551.7,464.8 551.9,472.2 553.2,482.0 553.5,483.1 554.4,483.3 554.7,485.3 555.0,504.1 555.2,487.8 555.6,483.5 556.3,481.4 556.7,482.7 556.9,486.0 557.0,499.8 557.2,485.4 557.5,484.0 557.8,486.9 557.9,495.0 558.0,486.2 558.3,483.3 558.6,486.6 558.6,495.7 559.2,471.1 559.2,456.2 559.4,473.2 560.7,481.2 561.3,494.8 561.6,489.6 561.9,488.0 562.3,491.8 562.5,501.8 562.6,489.8 563.0,484.2 564.1,480.5 564.3,480.4 564.8,481.0 565.4,480.7 565.8,481.3 566.1,483.0 566.6,488.1 566.9,510.1 567.0,492.7 567.1,491.8 567.4,502.7 567.5,490.9 568.1,484.7 568.4,488.1 568.4,497.0 568.6,484.6 569.5,471.4 569.7,458.1 569.8,467.7 570.1,472.1 571.5,480.2 572.4,481.9 573.5,488.0 574.1,486.0 574.3,486.5 574.8,499.6 575.0,488.8 575.9,482.7 576.8,481.1 577.7,481.7 578.4,481.5 578.7,481.8 579.9,485.4 580.8,486.5 581.5,484.1 581.8,483.9 582.2,493.9 582.5,481.0 582.9,478.4 583.1,478.3 583.4,478.8 583.5,478.6 583.9,474.7 584.3,460.3 584.5,468.5 584.9,472.2 585.8,476.0 587.6,480.3 588.3,485.3 589.0,483.4 589.4,484.6 589.7,489.1 589.8,497.0 590.0,488.2 590.4,484.9 590.6,485.4 591.0,491.2 591.1,501.1 591.2,501.3 591.3,496.2 591.4,502.1 591.6,489.5 592.1,483.5 592.5,482.2 593.5,481.6 594.4,479.7 595.4,479.4 595.9,479.9 596.6,482.0 598.0,481.6 598.4,481.9 599.4,487.2 599.9,488.6 600.4,486.8 600.5,486.9 600.8,500.8 600.9,489.5 601.2,486.2 601.3,486.4 601.7,491.6 601.8,503.9 602.0,495.8 602.0,496.3 602.1,507.3 602.4,488.5 603.4,477.8 604.4,470.1 604.7,458.5 604.9,468.2 605.7,473.2 606.6,475.8 607.5,476.4 609.7,482.3 610.7,483.3 611.3,483.4 611.6,484.3 612.0,489.1 612.2,500.6 612.3,496.2 612.3,497.0 612.4,503.2 612.6,490.1 612.9,486.9 613.0,487.1 613.3,492.9 613.5,505.7 614.0,487.5 614.1,487.2 614.5,491.3 614.7,501.7 614.8,493.7 615.6,485.3 616.8,481.5 617.5,481.2 618.4,479.7 619.5,479.3 620.2,479.8 621.1,479.2 621.9,480.2 622.8,480.4 623.4,481.4 624.1,480.9 624.9,484.7 625.7,482.1 625.8,482.4 626.3,490.2 626.4,509.0 626.5,490.9 626.7,487.5 627.0,492.1 627.2,502.2 627.3,494.9 627.4,496.0 627.5,506.6 627.6,497.7" stroke="#ff7f0e" stroke-width="1.9" fill="none" stroke-linejoin="round"/></g>
<rect x="533.3" y="453.1" width="98.8" height="71.2" fill="none" stroke="#000" stroke-width="1.3"/>
<line x1="537.8" y1="524.3000000000001" x2="537.8" y2="526.9" stroke="#000" stroke-width="0.6"/>
<text x="537.8" y="540.6" text-anchor="middle" font-size="14.5" >0</text>
<line x1="609.6" y1="524.3000000000001" x2="609.6" y2="526.9" stroke="#000" stroke-width="0.6"/>
<text x="609.6" y="540.6" text-anchor="middle" font-size="14.5" >20</text>
<text x="582.7" y="558.0" text-anchor="middle" font-size="14.5" >time</text>
<text x="582.7" y="443.3" text-anchor="middle" font-size="14.5" >denoising quality</text>
<line x1="530.7" y1="479.8" x2="533.3" y2="479.8" stroke="#000" stroke-width="0.6"/>
<text x="528.1" y="486.8" text-anchor="end" font-size="14.5">10<tspan font-size="10.5" dx="-0.6" dy="-4.1">−1</tspan></text>
<line x1="530.7" y1="524.3" x2="533.3" y2="524.3" stroke="#000" stroke-width="0.6"/>
<text x="528.1" y="531.3" text-anchor="end" font-size="14.5">10<tspan font-size="10.5" dx="-0.6" dy="-4.1">−6</tspan></text>
<text transform="translate(496.8,488.7) rotate(-90)" text-anchor="middle" font-size="14.5">rel. error</text>
<text transform="translate(667.0,497.7) rotate(-90)" text-anchor="middle" font-size="14.5">noise 30%</text>
</svg></body></html>
